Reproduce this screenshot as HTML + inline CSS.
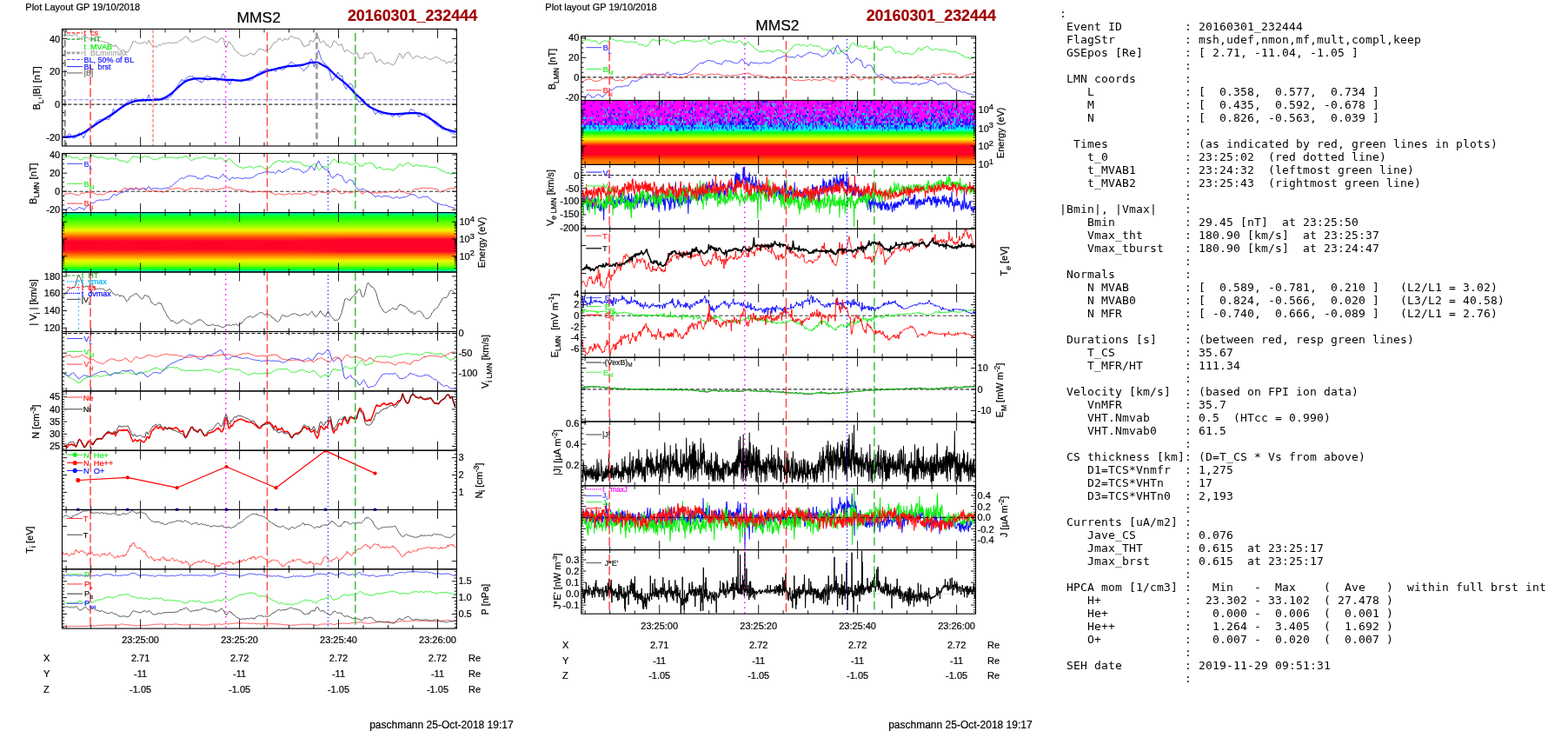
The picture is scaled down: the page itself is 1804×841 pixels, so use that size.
<!DOCTYPE html>
<html lang="en"><head><meta charset="utf-8"><title>MMS2 20160301_232444</title>
<style>
html,body{margin:0;padding:0;background:#fff;}
body{width:1804px;height:841px;position:relative;overflow:hidden;}
pre{position:absolute;left:1219.0px;top:7.6px;letter-spacing:0.174px;margin:0;font-family:"DejaVu Sans Mono","Liberation Mono",monospace;font-size:13px;line-height:15px;color:#000;white-space:pre;}
svg text{white-space:pre;stroke-width:0.2px;}
</style></head>
<body>
<svg width="1804" height="841" viewBox="0 0 1804 841" font-family='"Liberation Sans", "DejaVu Sans", sans-serif' style="position:absolute;left:0;top:0">
<defs><clipPath id="c1"><rect x="71.5" y="33.4" width="453.9" height="134.6"/></clipPath>
<clipPath id="c2"><rect x="71.5" y="176.5" width="453.9" height="68.1"/></clipPath>
<linearGradient id="sg1" x1="0" y1="0" x2="0" y2="1">
<stop offset="0" stop-color="#00f0a0"/><stop offset="0.04" stop-color="#00ff40"/><stop offset="0.10" stop-color="#20ff00"/>
<stop offset="0.22" stop-color="#90ff00"/><stop offset="0.30" stop-color="#f0f800"/><stop offset="0.36" stop-color="#ffa000"/>
<stop offset="0.42" stop-color="#ff4808"/><stop offset="0.48" stop-color="#ff0428"/><stop offset="0.62" stop-color="#ff0428"/>
<stop offset="0.68" stop-color="#ff4808"/><stop offset="0.75" stop-color="#ffa000"/><stop offset="0.81" stop-color="#f0f800"/>
<stop offset="0.89" stop-color="#90ff00"/><stop offset="0.94" stop-color="#10ff10"/><stop offset="0.97" stop-color="#00ff60"/><stop offset="1" stop-color="#00f8b0"/>
</linearGradient>
<linearGradient id="sg1b" x1="0" y1="0" x2="0" y2="1">
<stop offset="0.36" stop-color="#ffa000" stop-opacity="0"/><stop offset="0.45" stop-color="#ff0428" stop-opacity="0.9"/>
<stop offset="0.66" stop-color="#ff0428" stop-opacity="0.9"/><stop offset="0.74" stop-color="#ffa000" stop-opacity="0"/>
</linearGradient>
<linearGradient id="sg1m" x1="0" y1="0" x2="1" y2="0">
<stop offset="0" stop-color="#fff" stop-opacity="0"/><stop offset="0.6" stop-color="#fff" stop-opacity="0.1"/><stop offset="0.72" stop-color="#fff" stop-opacity="1"/><stop offset="1" stop-color="#fff" stop-opacity="1"/>
</linearGradient>
<mask id="sgm"><rect x="71.5" y="244.6" width="453.9" height="68.4" fill="url(#sg1m)"/></mask>
<clipPath id="c3"><rect x="71.5" y="313" width="453.9" height="68.5"/></clipPath>
<clipPath id="c4"><rect x="71.5" y="381.5" width="453.9" height="68.4"/></clipPath>
<clipPath id="c5"><rect x="71.5" y="449.9" width="453.9" height="68.3"/></clipPath>
<clipPath id="c6"><rect x="71.5" y="517.7" width="453.9" height="70"/></clipPath>
<clipPath id="c7"><rect x="71.5" y="586.5" width="453.9" height="68.3"/></clipPath>
<clipPath id="c8"><rect x="71.5" y="654.8" width="453.9" height="68.3"/></clipPath>
<clipPath id="c9"><rect x="668.8" y="41.6" width="453.7" height="73.9"/></clipPath>
<linearGradient id="sg2" x1="0" y1="0" x2="0" y2="1">
<stop offset="0" stop-color="#ff00ff"/><stop offset="0.38" stop-color="#ff00ff"/><stop offset="0.385" stop-color="#00d8ff"/>
<stop offset="0.445" stop-color="#00f0ff"/><stop offset="0.475" stop-color="#00ff90"/><stop offset="0.505" stop-color="#00ff10"/>
<stop offset="0.55" stop-color="#80ff00"/><stop offset="0.605" stop-color="#f8f800"/><stop offset="0.65" stop-color="#ff9000"/>
<stop offset="0.70" stop-color="#ff1018"/><stop offset="0.73" stop-color="#ff0028"/><stop offset="0.84" stop-color="#ff0028"/>
<stop offset="0.88" stop-color="#ff3000"/><stop offset="0.93" stop-color="#ff7000"/><stop offset="1" stop-color="#ff8c00"/>
</linearGradient>
<clipPath id="c10"><rect x="668.8" y="189.4" width="453.7" height="73.9"/></clipPath>
<clipPath id="c11"><rect x="668.8" y="263.3" width="453.7" height="74"/></clipPath>
<clipPath id="c12"><rect x="668.8" y="337.3" width="453.7" height="73.9"/></clipPath>
<clipPath id="c13"><rect x="668.8" y="411.2" width="453.7" height="73.8"/></clipPath>
<clipPath id="c14"><rect x="668.8" y="485" width="453.7" height="73.8"/></clipPath>
<clipPath id="c15"><rect x="668.8" y="558.8" width="453.7" height="73.8"/></clipPath>
<clipPath id="c16"><rect x="668.8" y="632.6" width="453.7" height="73.6"/></clipPath></defs>
<g clip-path="url(#c1)">
<line x1="74.6" y1="34.4" x2="74.6" y2="169" stroke="#a0a0a0" stroke-width="2.8" stroke-dasharray="7.5 4" />
<path d="M72.1 41.1l.8-.3.8-.4.8-.7.8-.1.8.6.8.1.8.5.8 0 .8-.2.8-.5.8.3.8.2.8.4.8.1.8-.6.8-.1.8-.5.8-.3.8 0 .8.3.8 1.2.8 1.5.8 1.2.8-.3.8 1 .8-.1.8-.5.8-.2.8-1.4.8-.5.8-1.2.8 1 .8.6.8.1.8 1.2.8-.2.8.7.8.7.8.7.8-.3.8-.1.8.7.8 0 .8.4.8-.2.8.3.8-.4.8.5.8.3.8-.9.8.7.8.4.8.1.8.6.8-.3.8.4.8.2.8-.1.8.3.8.2.8.3.8.2.8.2.8.9.8-.3.8.4.8-.1.8.5.8 1 .8.1.8.2.8 1.2.8.4.8.1.8-.2.8-1.5.8 1.4.8.9.8 1.3.8.6.8.5.8 1.1.8.6.8.7.8-.5.8-.5.8-.5.8-.1.8 1.2.8 1.1.8.6.8 0 .8.3.8-.6.8-1.5.8-1 .8-1.6.8-2.4.8-1.3.8-1.9.8-2.2.8-.1.8.3.8-.5.8.4.8.7.8.9.8.3.8.3.8.1.8 0 .8-.5.8-.3.8.2.8-.3.8-.3.8-.2.8-.7.8.5.8 1.4.8.7.8-1.4.8-1.1.8-1.9.8 1.2.8 2.2.8 1 .8 1 .8 1.3.8.2.8.1.8-.2.8 0 .8 1 .8.5.8-.9.8-1.3.8-.7.8 0 .8.3.8.3.8-.8.8-.9.8-.3.8-.4.8-.3.8 1 .8-.5.8-.1.8 0 .8-.5.8-.5.8.2.8.1.8.3.8-.3.8.9.8-.8.8-.6.8.5.8-.1.8-.1.8 0 .8.1.8-.2.8-.7.8-.9.8-.5.8-.6.8-.2.8-.3.8-.3.8-.7.8-.8.8-.9.8-.9.8-.4.8.6.8.9.8-.1.8 1.7.8.3.8 1.6.8.7.8.6.8-.3.8.4.8-.1.8 0 .8-.6.8-.7.8-.6.8.2.8-.1.8-.3.8 0 .8-.3.8-.9.8-.8.8-.5.8.1.8-.7.8-.3.8-.4.8.1.8.2.8 1 .8.2.8.4.8.3.8.3.8.5.8.1.8.5.8.4.8-.4.8.6.8.7.8.6.8.6.8.2.8-.2.8.1.8-.7.8-1.1.8-1.5.8-.3.8-.5.8-.9.8.6.8.1.8 2.5.8 4.3.8 2.6.8 1.5.8-.5.8-3 .8-2.8.8-.1.8-.6.8.7.8 2.4.8.6.8.5.8 1.9.8 1.2.8 1.9.8.4.8.6.8.8.8 1 .8 1.1.8-.2.8 1 .8.8.8 1.1.8 0 .8.2.8.5.8-.3.8-.1.8.4.8-.4.8-.6.8 0 .8-.5.8-.2.8-.6.8-.6.8-.6.8.6.8.7.8 0 .8.4.8.4.8-.3.8-1.3.8-.7.8-1.7.8-.8.8-.9.8-1 .8-.1.8.1.8.3.8-.2.8.5.8.5.8.3.8.7.8 0 .8-.7.8-.1.8-.1.8-.6.8.1.8-.3.8-.6.8-.7.8-1.5.8-1.1.8-1.6.8-1.2.8-1.1.8-.7.8.7.8-.2.8-.7.8-1.7.8-1.7.8-.2.8.3.8-.3.8 1.1.8.8.8.4.8-.1.8-.9.8-1.1.8 0 .8.6.8-.2.8.7.8.1.8-1.1.8-1.5.8-1.1.8-.7.8-.1.8.3.8.5.8 1 .8.3.8-.1.8-.1.8.5.8.5.8 0 .8.2.8.6.8.2.8.7.8 1.5.8 1.5.8 1.8.8 1.3.8 1.3.8.2.8 0 .8-1.3.8-.2.8.3.8-.2.8.1.8-2.7.8-3 .8-.3.8.2.8.8.8.8.8-.3.8-1.9.8-2.3.8-.8.8-1.5.8-.9.8.9.8 1.4.8 2.4.8 3.7.8-.1.8.5.8-.9.8-.7.8-.9.8 1.2.8 1 .8 1.3.8 1.9.8.4.8-1 .8 1.5.8 1.1.8.6.8-.4.8-.2.8-.8.8-2.5.8-2.3.8-1.6.8.5.8.1.8.7.8 1.4.8 1 .8.6.8 1.1.8 0 .8-.7.8 0 .8-1.3.8 2.3.8 2.2.8 2.6.8 1 .8 1.5.8-1 .8-1.3.8-.5.8 1 .8.3.8.6.8.5.8.7.8.8.8.4.8-.1.8 1.2.8-.1.8-.5.8.4.8-.9.8-.2.8-.4.8 2.3.8 2.9.8 1.6.8-.6.8.2.8-.3.8 0 .8.2.8-2.3.8-2.5.8-1.5.8.5.8.5.8.1.8-.2.8-.1.8 0 .8-.9.8-.1.8-.4.8 1 .8 1.3.8 1.2.8 1.5.8 1.8.8 2.6.8 2.2.8-.2.8-1.4.8-.7.8-.7.8.2.8-.7.8 1.2.8 1.3.8 1.2.8.8.8 0 .8 1 .8-.3.8-.9.8-.4.8.1.8.1.8-.3.8.4.8.3.8 1 .8.2.8 1 .8.2.8-1 .8-.3.8-.9.8-2.1.8-1.6.8-1.6.8-2 .8-1.8.8-2.3.8.6.8 0 .8 1.9.8 2.4.8.8.8-.9.8-1.6.8-1.6.8-1.3.8-.3.8-1 .8-.1.8-.4.8.1.8 1.2.8 2 .8.8.8 1.3.8.9.8 1.2.8-1 .8-.6.8-.9.8-.4.8-.1.8-.2.8.3.8.3.8.4.8.5.8.6.8.3.8.4.8-.7.8-.1.8-.9.8-.2.8.2.8.8.8.3.8.6.8.2.8.3.8.8.8-.2.8-.1.8-.6.8-.1.8-.8.8-.2.8-.7.8-.2.8.1.8.2.8.2.8.3.8.9.8.1.8.7.8.8.8.8.8.5.8-.2.8-.6.8.6.8.6.8 1.7.8 1 .8-.9.8-.8.8-.3.8-.6.8.6.8.1.8.5.8-.3.8-1.7.8-.4.8-1.5.8-.2.8-1.2" fill="none" stroke="#7a7a7a" stroke-width="0.8" stroke-linejoin="round" />
<line x1="71.5" y1="114.8" x2="525.4" y2="114.8" stroke="#8080ff" stroke-width="1.1" stroke-dasharray="4.2 2.4" />
<line x1="71.5" y1="120.1" x2="525.4" y2="120.1" stroke="#333" stroke-width="1.1" stroke-dasharray="4.2 2.4" />
<path d="M72 156.8l.8.6.8-.1.8.3.8.5.8.7.8-.5.8-1.5.8-1.4.8-1.5.8.1.8.4.8 1.4.8.7.8.5.8 1.9.8.1.8 0 .8-.8.8-.2.8-.5.8-1.4.8-2 .8-.5.8-1 .8.8.8.8.8 1 .8.9.8.7.8 2 .8-1.8.8-1.4.8-1.7.8-1.2.8-1.3.8-.3.8-1.3.8-2.5.8 0 .8-1.3.8-1.5.8-.4.8.7.8-.2.8-.2.8-1.8.8-.3.8-1.6.8-1 .8-.1.8-.7.8-.7.8-.7.8.4.8-.8.8.8.8-.1.8.9.8-.3.8-.9.8-.4.8.3.8-.7.8.8.8-.2.8.6.8-.6.8-2 .8-.7.8-1.2.8-3.3.8-1.3.8-3.5.8 1.2.8 1.2.8.4.8-.4.8 0 .8-1.3.8-.2.8-1.5.8 0 .8-1.2.8 0 .8-.5.8-1.6.8 0 .8-.8.8-.7.8-.4.8-.7.8-.5.8-.7.8-1.1.8 0 .8-.5.8-.8.8-.5.8.5.8.5.8 1.1.8 0 .8-.9.8-1.5.8-1.2.8.2.8 1 .8.7.8.8.8-.5.8.5.8-1.2.8.1.8-.2.8-.9.8.2.8.2.8.7.8-.1.8 2 .8-2.3.8-1.6.8-2 .8-1.8.8 2.8.8 1.7.8 2.2.8-.2.8-.5.8.2.8-1.3.8-.4.8 0 .8-.4.8-.5.8.4.8.8.8.7.8.4.8-.6.8.2.8 0 .8.9.8-1 .8-.1.8.1.8 0 .8-.6.8-.3.8.1.8-1.2.8.5.8-.5.8-.5.8-1.3.8-.2.8-.6.8-.6.8-2.3.8-1.3.8-1.1.8-1.1.8-2.2.8-.5.8-2 .8-.3.8-1.9.8-.8.8-1.9.8-.9.8.2.8-1.9.8 1.8.8-.2.8 0 .8-.5.8-1.3.8-1 .8-.7.8-.7.8-.2.8-.6.8-.1.8.3.8-.1.8.1.8-.4.8 1.9.8-.2.8.4.8.6.8.2.8 1.8.8.1.8.5.8.4.8.2.8-.5.8 2.3.8-.7.8 0 .8-.9.8-1.4.8-1.8.8-1.7.8-.9.8-.2.8-.2.8 0 .8.7.8.1.8-.3.8 1.1.8 1 .8-.3.8.7.8.2.8.5.8.2.8.2.8.2.8 1.3.8-.3.8.5.8-1.1.8-1 .8-.5.8-1.5.8-1.5.8-2.5.8-.8.8 1.6.8 3.1.8 1.7.8.7.8.7.8.4.8 1.9.8 1.2.8 1.6.8-.4.8-2.1.8-2.2.8-1.7.8.8.8.1.8 1.1.8-.2.8-.2.8 0 .8-.4.8 0 .8.2.8.2.8.5.8.7.8.2.8-.2.8-.3.8-1.1.8-.1.8.3.8-.8.8.5.8.1.8.2.8 0 .8.9.8-1.6.8.7.8-.4.8.2.8-1 .8-.6.8-1.1.8-.7.8-.7.8-1.4.8-1.1.8-1 .8-.3.8-.8.8-1 .8.5.8-.8.8.1.8-.5.8 0 .8-.5.8-.2.8-.8.8-.5.8-1.2.8-.3.8 1.2.8.3.8.1.8.9.8.4.8-.3.8.8.8-1.2.8 0 .8-.2.8 1.5.8.6.8-.4.8-1.3.8-2 .8-1.5.8.3.8.6.8 1.4.8.1.8.5.8.8.8-1.4.8-.8.8.6.8-.7.8-1.1.8-1 .8-1.3.8-.7.8-.4.8-.5.8-.7.8-1.4.8-.7.8 1 .8.5.8 1 .8.5.8.2.8.3.8.2.8.4.8-.4.8 0 .8.3.8.9.8 1.4.8 1.2.8.6.8.8.8 1.5.8.2.8-.6.8-1.5.8-1 .8 0 .8-1.3.8-.5.8-2.6.8-2.1.8-2.2.8-1.3.8-.5.8 1.9.8 2.3.8 2.6.8 2.2.8-3.9.8-3.9.8-3.2.8-2.8.8-2.8.8-2.4.8 1.8.8 3.2.8 2.3.8 3.2.8.7.8 1.4.8.7.8 1.9.8-.3.8 1.8.8.2.8.6.8 1.6.8-.3.8 3.1.8 3.6.8 2.9.8 2.4.8 2.3.8 1.9.8-1 .8-2 .8-.2.8-1.3.8-.8.8-1.2.8-2.3.8-1 .8 1.8.8 1.1.8 1.5.8.3.8-.3.8-.8.8 4.2.8 5.3.8 2.4.8 1.2.8 2.1.8.8.8-2.1.8-1.3.8-1.5.8-1.3.8-.6.8.3.8.5.8.8.8 1.1.8 2.2.8 3 .8 2.8.8 2.4.8 2.1.8 1.3.8 2.5.8.8.8 1.2.8.2.8.6.8-1.9.8-.8.8-.3.8.1.8-.9.8 2.7.8 1.1.8 1.5.8.7.8 0 .8 1.2.8.8.8.6.8.1.8-.1.8 1.8.8.2.8 1.8.8.8.8 1.5.8 2.3.8.8.8-1.6.8-.1.8-.8.8.1.8.9.8.5.8.2.8.5.8-.1.8-.1.8-.2.8-.4.8-.1.8-.3.8.1.8-.5.8.5.8-.2.8.8.8.1.8.2.8.9.8.9.8 1.3.8-.6.8-.1.8-.9.8-.9.8.2.8-1.2.8 0 .8 1.6.8 1.7.8.1.8-.2.8-.7.8-.4.8-.2.8-.4.8-.3.8-.1.8-.4.8-.1.8-.5.8-.7.8-.2.8-.7.8-.4.8-1 .8-1.3.8-1.2.8 1.3.8-.2.8.2.8-.2.8 1.4.8.2.8 1.7.8 0 .8 1.6.8.6.8 2.7.8-1.1.8.2.8-.7.8-.7.8-.3.8-.7.8.4.8-1.5.8 0 .8.6.8-.3.8.3.8.8.8 1.1.8.5.8 1.2.8 1.1.8 1.3.8 1.1.8 1.8.8 0 .8 1 .8 1.4.8.7.8.8.8.5.8.6.8.6.8.5.8-.2.8.8.8 0 .8 1.7.8.8.8-.6.8.7.8-.1.8-.1.8 0 .8-.8.8 1.1.8.9.8.6.8.5.8.6.8.8.8.4.8.2.8-.1.8.8.8.2.8.6.8 0 .8-.5" fill="none" stroke="#2828ff" stroke-width="0.75" stroke-linejoin="round" />
<path d="M72 158l.7-.1.7 0 .7 0 .7-.1.7 0 .7-.1.7 0 .7-.1.7 0 .7-.1.7 0 .7-.1.7-.1.7 0 .7-.1.7 0 .7-.1.7-.1.7-.1.7-.2.7-.2.7-.2.7-.3.7-.2.7-.2.7-.3.7-.2.7-.3.7-.3.7-.3.7-.4.7-.3.7-.4.7-.3.7-.4.7-.4.7-.4.7-.4.7-.5.7-.4.7-.5.7-.5.7-.5.7-.5.7-.5.7-.5.7-.5.7-.5.7-.4.7-.5.7-.5.7-.5.7-.5.7-.5.7-.5.7-.4.7-.5.7-.4.7-.5.7-.4.7-.5.7-.4.7-.4.7-.5.7-.4.7-.5.7-.4.7-.4.7-.4.7-.4.7-.4.7-.4.7-.4.7-.5.7-.4.7-.4.7-.4.7-.5.7-.4.7-.5.7-.4.7-.5.7-.5.7-.5.7-.5.7-.5.7-.5.7-.5.7-.5.7-.5.7-.6.7-.5.7-.5.7-.5.7-.5.7-.5.7-.5.7-.5.7-.5.7-.4.7-.5.7-.5.7-.4.7-.4.7-.3.7-.3.7-.4.7-.3.7-.3.7-.3.7-.3.7-.3.7-.3.7-.2.7-.2.7-.2.7-.2.7-.2.7-.2.7-.2.7-.2.7-.1.7 0 .7-.1.7-.1.7 0 .7-.1.7 0 .7-.1.7 0 .7-.1.7 0 .7 0 .7-.1.7 0 .7 0 .7-.1.7 0 .7 0 .7 0 .7 0 .7 0 .7-.1.7 0 .7 0 .7 0 .7 0 .7-.1.7 0 .7 0 .7-.1.7 0 .7-.1.7 0 .7-.1.7 0 .7-.1.7 0 .7-.1.7-.1.7-.1.7-.2.7-.3.7-.3.7-.2.7-.3.7-.3.7-.3.7-.4.7-.3.7-.4.7-.5.7-.4.7-.5.7-.5.7-.4.7-.5.7-.5.7-.6.7-.5.7-.7.7-.6.7-.6.7-.7.7-.7.7-.6.7-.7.7-.6.7-.7.7-.6.7-.6.7-.7.7-.6.7-.6.7-.6.7-.7.7-.5.7-.6.7-.5.7-.4.7-.5.7-.4.7-.4.7-.4.7-.3.7-.3.7-.2.7-.2.7-.2.7-.1.7-.2.7-.2.7-.2.7-.1.7-.2.7-.1.7 0 .7-.1.7 0 .7-.1.7 0 .7-.1.7 0 .7 0 .7 0 .7 0 .7 0 .7 0 .7.1.7.1.7 0 .7.1.7.1.7.1.7 0 .7.1.7.1.7.1.7 0 .7 0 .7-.1.7 0 .7-.1.7-.1.7-.1.7 0 .7-.1.7-.1.7 0 .7-.1.7.1.7 0 .7.1.7.1.7.1.7.1.7.1.7.1.7.1.7.1.7.1.7.1.7.1.7 0 .7.1.7.1.7.1.7 0 .7.1.7 0 .7 0 .7 0 .7 0 .7 0 .7 0 .7-.1.7 0 .7 0 .7 0 .7 0 .7.1.7.1.7.1.7.1.7.1.7 0 .7.1.7.1.7.1.7 0 .7 0 .7 0 .7-.1.7 0 .7-.1.7-.1.7-.1.7-.1.7-.1.7-.2.7-.1.7-.2.7-.2.7-.2.7-.2.7-.2.7-.2.7-.2.7-.2.7-.3.7-.2.7-.3.7-.4.7-.3.7-.4.7-.3.7-.4.7-.3.7-.4.7-.3.7-.3.7-.3.7-.3.7-.4.7-.3.7-.3.7-.3.7-.4.7-.3.7-.3.7-.3.7-.3.7-.3.7-.3.7-.2.7-.2.7-.3.7-.1.7-.2.7-.2.7-.1.7-.2.7-.2.7-.1.7-.2.7-.1.7-.2.7-.2.7-.1.7-.2.7-.2.7-.1.7-.2.7-.2.7-.2.7-.1.7-.2.7-.2.7-.1.7-.2.7-.1.7-.2.7-.1.7-.2.7-.2.7-.1.7-.2.7-.1.7-.1.7-.1.7-.1.7-.1.7 0 .7 0 .7-.1.7 0 .7 0 .7 0 .7-.1.7 0 .7 0 .7-.1.7-.1.7-.1.7 0 .7-.1.7-.1.7-.1.7-.1.7-.1.7-.1.7-.1.7 0 .7-.2.7-.1.7-.1.7-.3.7-.2.7-.2.7-.3.7-.2.7-.3.7-.2.7-.2.7-.1.7-.2.7-.1.7-.1.7-.1.7-.1.7 0 .7-.1.7 0 .7 0 .7 0 .7 0 .7 0 .7.1.7.1.7.2.7.3.7.3.7.4.7.4.7.4.7.3.7.4.7.4.7.3.7.4.7.3.7.4.7.4.7.3.7.5.7.5.7.5.7.7.7.7.7.7.7.7.7.7.7.7.7.7.7.7.7.7.7.7.7.6.7.7.7.7.7.6.7.5.7.6.7.5.7.5.7.6.7.5.7.5.7.6.7.5.7.6.7.6.7.6.7.6.7.6.7.7.7.6.7.7.7.6.7.7.7.6.7.7.7.7.7.8.7.8.7.8.7.8.7.8.7.8.7.7.7.8.7.7.7.6.7.6.7.6.7.6.7.7.7.6.7.6.7.6.7.7.7.8.7.7.7.8.7.8.7.8.7.7.7.7.7.6.7.5.7.6.7.5.7.5.7.5.7.5.7.4.7.4.7.3.7.4.7.3.7.4.7.3.7.4.7.3.7.3.7.3.7.3.7.3.7.2.7.3.7.3.7.2.7.3.7.2.7.2.7.2.7.2.7.2.7.2.7.1.7.2.7.2.7.1.7.1.7.1.7.1.7.1.7 0 .7.1.7.1.7.1.7 0 .7.1.7 0 .7 0 .7 0 .7-.1.7 0 .7 0 .7-.1.7 0 .7 0 .7-.1.7 0 .7-.1.7 0 .7-.1.7 0 .7-.1.7-.1.7 0 .7-.1.7 0 .7-.1.7 0 .7-.1.7 0 .7 0 .7 0 .7-.1.7 0 .7 0 .7 0 .7 0 .7-.1.7 0 .7 0 .7 0 .7 0 .7.1.7 0 .7 0 .7 0 .7.1.7 0 .7.1.7.1.7.2.7.2.7.3.7.3.7.3.7.2.7.3.7.3.7.4.7.4.7.4.7.4.7.5.7.4.7.5.7.4.7.5.7.4.7.5.7.5.7.5.7.4.7.5.7.5.7.5.7.5.7.5.7.5.7.5.7.5.7.6.7.5.7.5.7.5.7.5.7.5.7.5.7.4.7.4.7.4.7.4.7.3.7.3.7.3.7.2.7.2.7.2.7.2.7.2.7.2.7.2.7.2.7.2.7.1.7.2.7.1.7.2.7.1.7.1.7.1" fill="none" stroke="#0000ff" stroke-width="2.3" stroke-linejoin="round" />
<line x1="104" y1="74.4" x2="104" y2="168" stroke="#ff4848" stroke-width="1.5" stroke-dasharray="10 3.5" />
<line x1="176.1" y1="34.4" x2="176.1" y2="168" stroke="#ff8080" stroke-width="1.4" stroke-dasharray="3.8 1.9" />
<line x1="259.7" y1="35.4" x2="259.7" y2="168" stroke="#ff00ff" stroke-width="1.45" stroke-dasharray="1.5 4.3" />
<line x1="307.3" y1="36.9" x2="307.3" y2="168" stroke="#ff1010" stroke-width="1.0" stroke-dasharray="10 4" />
<line x1="364.4" y1="37.4" x2="364.4" y2="170" stroke="#a0a0a0" stroke-width="2.8" stroke-dasharray="7.5 4" />
<line x1="408.8" y1="37.9" x2="408.8" y2="168" stroke="#30b830" stroke-width="1.4" stroke-dasharray="9.5 4" />
</g>
<line x1="77" y1="37.9" x2="94.9" y2="37.9" stroke="#ff2020" stroke-width="1.2" stroke-dasharray="3.8 1.7" />
<text x="96.6" y="41.1" font-size="9.0" fill="#ff2020" stroke="#ff2020" stroke-width="0.15" >t&#160;&#160;cs</text>
<line x1="77" y1="45.2" x2="94.9" y2="45.2" stroke="#20a020" stroke-width="1.2" stroke-dasharray="3.8 1.7" />
<text x="96.6" y="48.4" font-size="9.0" fill="#20a020" stroke="#20a020" stroke-width="0.15" >t&#160;&#160;HT</text>
<text x="96.6" y="57.2" font-size="9.0" fill="#00ee00" stroke="#00ee00" stroke-width="0.15" >t&#160;&#160;MVAB</text>
<line x1="77" y1="60.9" x2="94.9" y2="60.9" stroke="#a8a8a8" stroke-width="2.6" stroke-dasharray="3.8 1.7" />
<text x="96.6" y="64.1" font-size="9.0" fill="#a8a8a8" stroke="#a8a8a8" stroke-width="0.15" >t&#160;&#160;BLminmax</text>
<line x1="77" y1="68.5" x2="94.9" y2="68.5" stroke="#4040ff" stroke-width="1.0" stroke-dasharray="3.8 1.7" />
<text x="96.6" y="71.7" font-size="9.0" fill="#1010ff" stroke="#1010ff" stroke-width="0.15" >BL, 50% of BL</text>
<line x1="77" y1="76.6" x2="94.9" y2="76.6" stroke="#2020ff" stroke-width="1.0" />
<text x="96.6" y="79.8" font-size="9.0" fill="#1010ff" stroke="#1010ff" stroke-width="0.15" >BL&#160;&#160;brst</text>
<line x1="77" y1="83.9" x2="94.9" y2="83.9" stroke="#9a9a9a" stroke-width="1.6" />
<text x="96.6" y="87.1" font-size="9.0" fill="#666" stroke="#666" stroke-width="0.15" >|B|</text>
<path d="M161.6 33.4v10.5M161.6 168v-10.5M275.6 33.4v10.5M275.6 168v-10.5M389.5 33.4v10.5M389.5 168v-10.5M503.5 33.4v10.5M503.5 168v-10.5M76.1 33.4v4M76.1 168v-4M104.6 33.4v4M104.6 168v-4M133.1 33.4v4M133.1 168v-4M190.1 33.4v4M190.1 168v-4M218.6 33.4v4M218.6 168v-4M247.1 33.4v4M247.1 168v-4M304 33.4v4M304 168v-4M332.5 33.4v4M332.5 168v-4M361 33.4v4M361 168v-4M418 33.4v4M418 168v-4M446.5 33.4v4M446.5 168v-4M475 33.4v4M475 168v-4" stroke="#000" stroke-width="0.9" fill="none"/>
<path d="M71.5 35h2.6M525.4 35h-2.6M71.5 44.5h5.5M525.4 44.5h-5.5M71.5 54h2.6M525.4 54h-2.6M71.5 63.4h2.6M525.4 63.4h-2.6M71.5 72.8h2.6M525.4 72.8h-2.6M71.5 82.3h5.5M525.4 82.3h-5.5M71.5 91.8h2.6M525.4 91.8h-2.6M71.5 101.2h2.6M525.4 101.2h-2.6M71.5 110.6h2.6M525.4 110.6h-2.6M71.5 120.1h5.5M525.4 120.1h-5.5M71.5 129.5h2.6M525.4 129.5h-2.6M71.5 139h2.6M525.4 139h-2.6M71.5 148.4h2.6M525.4 148.4h-2.6M71.5 157.9h5.5M525.4 157.9h-5.5" stroke="#000" stroke-width="0.9" fill="none"/>
<rect x="71.5" y="33.4" width="453.9" height="134.6" fill="none" stroke="#000" stroke-width="1.1"/>
<text x="69.2" y="48.5" font-size="11" text-anchor="end" stroke="#000" >40</text>
<text x="69.2" y="86" font-size="11" text-anchor="end" stroke="#000" >20</text>
<text x="69.2" y="123.8" font-size="11" text-anchor="end" stroke="#000" >0</text>
<text x="69.2" y="161.7" font-size="11" text-anchor="end" stroke="#000" >-20</text>
<text x="46" y="101.4" font-size="11" text-anchor="middle" transform="rotate(-90 46 101.4)" stroke="#000" >B<tspan font-size="8.6" dy="3.6">L</tspan><tspan dy="-3.6">,|B| [nT]</tspan></text>
<g clip-path="url(#c2)">
<line x1="71.5" y1="220.2" x2="525.4" y2="220.2" stroke="#333" stroke-width="1.1" stroke-dasharray="4.2 2.4" />
<path d="M72.1 181.3l.8.1.8.3.8-.5.8-.9.8.4.8-.1.8-.8.8 0 .8.2.8-.5.8.4.8 1.3.8.8.8-.4.8.1.8 0 .8-.3.8.1.8-.5.8-.2.8.3.8 1.1.8.2.8 1.1.8.2.8.4.8-.2.8-1 .8 0 .8-.9.8-.2.8-.4.8-.6.8.6.8-.1.8.6.8.3.8-.9.8-.4.8-.1.8-1.2.8-.7.8-.1.8-.6.8 1.2.8.8.8.2.8.3.8 0 .8-.1.8.4.8.4.8.5.8-1.5.8.4.8.2.8-.4.8.9.8 0 .8.2.8.7.8.2.8.3.8-.6.8 1 .8-.2.8-.2.8-.4.8-.3.8-.7.8.3.8.3.8.6.8.1.8-.4.8.5.8-.3.8.1.8-.2.8 1.5.8.4.8.1.8.4.8.1.8.3.8-.2.8.1.8-.5.8.9.8 1 .8.1.8.1.8.3.8-.3.8-.8.8-1.2.8-1.1.8-.6.8-1 .8-.9.8-1.3.8.1.8-.3.8.9.8-.2.8.4.8-.3.8.7.8 0 .8.1.8-.5.8 1.1.8-1 .8 0 .8-.3.8.2.8-.6.8-.3.8-.2.8.8.8.4.8-.2.8 0 .8-.7.8.5.8.8.8.3.8.3.8.5.8 1.2.8.2.8-.2.8-.2.8.4.8-.4.8-.1.8-1.1.8 0 .8-.7.8.1.8.3.8-.7.8-.1.8.3.8-.8.8.1.8.3.8.5.8-.2.8 0 .8.1.8-.3.8.1.8-.1.8-.2.8.4.8.3.8-.7.8.4.8.9.8-.5.8.3.8 0 .8 0 .8-.3.8.7.8-1.8.8.5.8-.3.8.3.8.2.8.3.8-.2.8-1.1.8 0 .8-1.1.8.5.8-.3.8 1.5.8.4.8.8.8.6.8.9.8.7.8.2.8-.1.8-.2.8-.6.8.3.8-1.4.8 0 .8-.9.8.3.8.3.8-.8.8.1.8-.1.8.5.8 0 .8-.6.8-.3.8-.6.8-.4.8-.2.8.5.8.3.8.6.8-.1.8.9.8-.3.8.6.8.2.8-.1.8-.2.8 0 .8-.6.8.5.8 0 .8.8.8.2.8.4.8-.9.8.1.8-.1.8-1 .8.1.8 0 .8.1.8.1.8.6.8 1.4.8.5.8.7.8 1.5.8.6.8-1.8.8-1.3.8-1 .8-.5.8-.2.8 1.3.8.5.8.6.8 1.4.8.4.8.8.8.5.8 1.1.8.4.8.7.8.7.8.4.8.5.8.2.8.6.8.1.8.1.8.3.8.5.8-.1.8-.2.8-.3.8-.2.8-.1.8-.7.8.4.8-.3.8 0 .8-.4.8 0 .8.5.8.2.8.4.8 1 .8-.2.8-.8.8-.4.8-.1.8-.3.8-.2.8-.3.8-.8.8.7.8-.3.8.3.8 0 .8.9.8.7.8 0 .8.8.8-.1.8 1.2.8.4.8-.7.8-.6.8-.5.8-.6.8-.3.8-.4.8-1.6.8-.7.8-1.3.8-1 .8-.2.8-.4.8-.9.8.4.8-.8.8.1.8-.8.8-.5.8.2.8 0 .8 1.2.8.1.8 1.2.8-1.1.8-.4.8-.1.8-.3.8.8.8.4.8-.4.8 1.3.8-.7.8-.1.8-1 .8-.2.8-.3.8.2.8 1.1.8 0 .8 0 .8 0 .8 0 .8.4.8-.2.8-.1.8.2.8 0 .8.4.8-.2.8.5.8 1.4.8.3.8.4.8 1.3.8.4.8-.9.8.7.8-.1.8.4.8-.2.8-.1.8.4.8.6.8-.3.8-.1.8-1.4.8-.5.8-.4.8-.6.8-.3.8.1.8 1.6.8 1.7.8 2.2.8.9.8.9.8-.2.8-1.2.8-.8.8-1.3.8-.6.8-.3.8.1.8 0 .8 1.1.8-.4.8-.2.8-.3.8-.5.8-.7.8-.8.8-1.1.8-1.6.8-1.3.8-.6.8-1.2.8-1 .8.8.8.3.8.6.8 1 .8 1.3.8.4.8 0 .8.6.8-.9.8-.3.8-.2.8.4.8.5.8.8.8-.2.8-.2.8-.3.8-.8.8.3.8-.2.8 1.9.8.6.8.1.8-.3.8.3.8.3.8-.4.8-.8.8.1.8-.5.8.1.8-.5.8-.2.8.3.8.6.8 1.6.8 1.5.8-.7.8-.2.8.5.8-.2.8.3.8-1.2.8-1.8.8-.3.8.4.8-.2.8 0 .8.2.8-.8.8-.2.8.4.8.1.8-.5.8.8.8.5.8.3.8 2.1.8 0 .8 1.8.8 1.2.8-.6.8.2.8-.7.8 0 .8-.7.8 0 .8 1.5.8.3.8.5.8.3.8.5.8-.6.8.8.8-.4.8-.4.8-.3.8.3.8.2.8-.5.8.4.8.9.8 0 .8.5.8-.1.8-.3.8 0 .8-.7.8-1.1.8-1.1.8 0 .8-1.7.8-1 .8-1.2.8.3.8-.4.8.6.8 1.7.8.8.8-1.3.8-.5.8-1 .8-.9.8-.1.8-.3.8-.7.8-.1.8.2.8.8.8.3.8 1.5.8.3.8.8.8.9.8-1 .8-.2.8-.1.8-.6.8 0 .8-.1.8.1.8 1.1.8-.3.8.2.8.1.8 0 .8-.2.8.5.8-.5.8.1.8.1.8-.5.8.6.8-.5.8 1.2.8-.1.8.6.8.2.8.3.8-.6.8.2.8.1.8.3.8 0 .8-.8.8.4.8.2.8.5.8.7.8 0 .8.8.8.4.8-.5.8 1.6.8.6.8.2.8-.1.8 0 .8 1 .8.2.8.3.8.7.8.4.8-.2.8-.8.8 1.4.8-.3.8.6.8-.1.8 0 .8-.1.8-.4.8-.2.8-1.1.8.2" fill="none" stroke="#22ee22" stroke-width="0.95" stroke-linejoin="round" />
<path d="M72.1 241l.8-.1.8.2.8.5.8.1.8.1.8-.7.8-.6.8-1 .8-1 .8.1.8.7.8.5.8.5.8.9.8.4.8.7.8-.4.8-.6.8-.6.8.3.8-.5.8-.9.8-.5.8-.9.8.9.8 0 .8.7.8-.5.8 1.2.8 1 .8-.3.8-1.4.8-1 .8-.5.8-.8.8-1.2.8-.2.8-.3.8-.7.8-.5.8-.4.8-.8.8.1.8 0 .8.1.8-1.1.8-.5.8-.6.8-.7.8 0 .8-.3.8-.2.8-.2.8.2.8-.4.8.6.8-.3.8.6.8-.8.8.3.8-.3.8 0 .8-.4.8.3.8-.4.8.7.8-1 .8-.4.8-1.1.8-.5.8-1.2.8-1.2.8-1.4.8.2.8.7.8.4.8-.4.8 0 .8 0 .8-.3.8-1 .8-.7.8-.3.8.2.8-1.3.8.5.8-.2.8-.3.8-.6.8-.8.8-.6.8-.1.8-.1.8-.2.8 0 .8-.6.8-.1.8-.4.8 0 .8.7.8-.3.8.7.8-.4.8-1.2.8-1 .8.4.8.3.8.9.8.1.8.3.8-.2.8.3.8-.7.8 0 .8-.5.8-.5.8 1.2.8-.7.8 1.7.8-.1.8-.6.8-2 .8-.3.8-1 .8 1.3.8 1.6.8.5.8.2.8-.9.8-.2.8-.5.8.1.8.5.8-.4.8.2.8-.2.8.4.8.2.8-.2.8.2.8.1.8-.3.8.5.8-.5.8 0 .8-.4.8 0 .8 0 .8-.3.8-.1.8-.3.8.2.8-.3.8-.2.8-1.2.8.2.8-.5.8-.8.8-.7.8-.7.8-.7.8-1.1.8-.2.8-.8.8-.7.8-.9.8-.6.8-.6.8-.6.8-.4.8-.3.8-.4.8.4.8.7.8-.7.8-.6.8-.7.8-.3.8-.8.8-.2.8.2.8-.4.8.2.8-.5.8.7.8.3.8-.3.8.4.8-.3.8.7.8-.2.8.2.8.8.8 1.4.8-.7.8.7.8-.4.8.6.8-.2.8-.1.8.7.8-.6.8-1.1.8-.5.8-1.6.8.5.8-.7.8 0 .8-.3.8.5.8-.2.8.7.8.5.8.3.8-.4.8.2.8.4.8.4.8.1.8-.4.8 1.2.8-.5.8.7.8 0 .8-.7.8-.6.8-.6.8-.3.8-1.3.8-1.1.8-.6.8 1.6.8 1.1.8.9.8.5.8.2.8.8.8.4.8.9.8.6.8-.6.8-1.2.8-.6.8-.7.8-.1.8 1.2.8 0 .8 0 .8-.2.8-.3.8 0 .8-.1.8-.1.8.3.8.3.8.1.8 0 .8.5.8-.1.8 0 .8-.7.8-.3.8.1.8.3.8-.4.8.6.8-.1.8-.1.8 0 .8-.1.8-.2.8-.4.8-.2.8-.4.8-.5.8-.6.8-.5.8-.7.8-.2.8-.7.8-.5.8-.1.8.2.8-.8.8-.1.8.1.8-.2.8-.6.8.2.8-.2.8-1 .8.4.8-.3.8-.4.8.3.8.3.8.2.8 0 .8.6.8-.4.8-.1.8.3.8-.5.8.4.8.9.8.4.8-1 .8-.6.8-.8.8-1.4.8.4.8.7.8-.1.8.9.8.3.8 1 .8-1.2.8-.6.8-.1.8-.4.8-.8.8-.6.8-.2.8-.7.8.3.8-.4.8-.8.8-.9.8.7.8.3.8.2.8.6.8-.2.8.2.8.9.8-.4.8 0 .8-.6.8.5.8.3.8.2.8 1.1.8.3.8.1.8 1.4.8.8.8-.4.8-.7.8 0 .8-.6.8-.4.8-.4.8-1.2.8-.6.8-1.8.8-1.1.8-.1.8-.3.8 1 .8 1.2.8 1.2.8 1.3.8-2.1.8-2.6.8-1.6.8-1.9.8-.9.8-2 .8 1.9.8 1.4.8 1.4.8 1.1.8 1 .8 1 .8-.2.8 1 .8 1.3.8 0 .8.2.8.5.8-.2.8.3.8 2.5.8 1.9.8 1.5.8 1.5.8 1.1.8.7.8-.1.8-1.5.8.1.8-1.1.8-.7.8-.3.8-1.3.8.3.8.8.8.5.8.2.8.1.8.2.8.4.8 2.8.8 1.1.8 1.8.8.7.8.9.8.8.8-1.5.8-.4.8-1.1.8-.8.8-.1.8.1.8 1 .8 0 .8.1.8 1.9.8 2.1.8.6.8 2 .8 1 .8 1 .8.4.8.7.8.4.8.7.8-.1.8-.6.8-.5.8-.3.8.5.8-.4.8.5.8 1.2.8.4.8 1 .8-.3.8.3.8.8.8.3.8 0 .8.6.8.1.8 1.5.8 0 .8.8.8.6.8 1 .8.6.8-.4.8-1 .8.4.8-.8.8.6.8.2.8.5.8.6.8-.5.8-.1.8-.3.8-.3.8-.2.8.6.8-.3.8-.3.8.6.8 0 .8-.3.8.2.8.8.8.6.8 0 .8.9.8.1.8-.4.8-.6.8-.1.8-.3.8-.7.8.2.8.5.8.4.8 1 .8-.4.8-.5.8.2.8-.2.8-.2.8-.5.8-.3.8.5.8-.7.8.4.8-.8.8 0 .8-.5.8-.5.8-.3.8-.7.8-.8.8 1 .8 0 .8 0 .8-.2.8.5.8.3.8.4.8 1 .8.6.8.7.8.8.8-.3.8-.6.8.2.8-.4.8-.4.8-.1.8-.7.8.7.8-.3.8.1.8-.3.8.4.8.4.8 0 .8.9.8 1.1.8.1.8.8.8.8.8.9.8.2.8 0 .8 1.1.8.4.8.3.8-.3.8.8.8 0 .8.5.8.1.8.7.8.1.8 0 .8.2.8.5.8.4.8-.5.8 0 .8.2.8-.2.8.1.8 1.2.8.9.8-.5.8.1.8.4.8.6.8-.5.8.8.8-.1.8.7.8-.3.8-.1" fill="none" stroke="#3030ff" stroke-width="0.9" stroke-linejoin="round" />
<path d="M72.1 225.4l.8 0 .8-.8.8-.9.8-1 .8.3.8-.4.8.6.8-.8.8.5.8-.6.8.3.8-.3.8.1.8.4.8 0 .8.5.8.8.8-.4.8.3.8.4.8.1.8.1.8-.2.8-.1.8-.8.8-.5.8-.8.8-.1.8.1.8.3.8-.6.8.5.8-1 .8.1.8.2.8-.6.8-.1.8.3.8.1.8.1.8.5.8-.4.8.6.8-.5.8.3.8.6.8.2.8.5.8.1.8.6.8-.1.8.2.8-.9.8-.1.8 0 .8.6.8.5.8-.2.8-.4.8-.2.8-.4.8-.7.8-.3.8-.9.8.1.8.1.8-.6.8 0 .8-.4.8-.2.8-.3.8.8.8.1.8-1.4.8.3.8.3.8.1.8.5.8.7.8-.2.8.1.8-.9.8.2.8.1.8-1.5.8-1.1.8-.5.8-.3.8-1 .8.5.8.2.8.1.8.6.8.3.8-.4.8-.7.8-.2.8.1.8.2.8.2.8-.2.8.6.8-.1.8 0 .8-.4.8-.1.8.4.8.7.8.6.8-.7.8.1.8 0 .8-.1.8-1 .8-.1.8-.2.8.8.8-.1.8.4.8 1.5.8.5.8.2.8.1.8.1.8.5.8-.4.8.2.8-.8.8.1.8-.4.8.3.8.4.8 0 .8-.1.8.1.8.1.8.1.8.6.8-.3.8-.4.8.6.8-.5.8.8.8-.1.8.4.8-.2.8-.8.8-.2.8-.4.8-.6.8 0 .8-.9.8-.3.8-.2.8-.3.8.3.8 0 .8-.3.8-.2.8.1.8-.3.8.1.8-.8.8.3.8-.1.8 0 .8.1.8.3.8-.1.8.1.8 1 .8-.3.8.3.8.4.8.4.8.2.8-.2.8.1.8 0 .8-.7.8.1.8-.3.8-1 .8.2.8-.4.8-.1.8.2.8.2.8.3.8-.3.8.3.8-.2.8-.2.8.2.8-.6.8.5.8.1.8.6.8-.4.8 0 .8.7.8-.2.8.6.8 1.1.8-.2.8-.4.8 0 .8-.8.8.5.8-.5.8.4.8-.1.8.2.8-.1.8-.5.8-.3.8.1.8.5.8-.3.8-.3.8.9.8-.3.8-.3.8-.2.8.3.8-.5.8-.6.8 0 .8-.6.8.8.8-.6.8 0 .8-.4.8-.2.8.2.8-.3.8-.4.8.6.8-.4.8-.4.8.8.8.3.8.5.8 0 .8.8.8-.4.8.6.8.9.8-.1.8-.6.8.2.8.3.8.2.8-.4.8 0 .8.1.8.1.8-.6.8.6.8.7.8.1.8-.3.8 0 .8 1.3.8-.2.8.4.8 0 .8.5.8.1.8.2.8-.7.8.3.8.2.8-.3.8-.1.8.5.8-.6.8-.5.8.8.8-.4.8-.3.8.2.8 0 .8-.1.8.3.8-.3.8.3.8.5.8-.7.8-.5.8 1.2.8-.3.8-.3.8.3.8-.6.8.7.8-.8.8 1.1.8.5.8-.3.8.6.8.3.8-.2.8.8.8 1 .8-.3.8.6.8-.8.8-.2.8 0 .8-.1.8-.4.8.8.8.5.8-.6.8.1.8.2.8.6.8-.1.8-.6.8.2.8 0 .8-.5.8-.4.8.1.8-.7.8.1.8.6.8.7.8.1.8-.2.8-.6.8.2.8-.4.8.6.8-.5.8 0 .8-.1.8.3.8.3.8-.3.8.4.8-.4.8-.3.8.4.8-.7.8-.1.8.1.8-.6.8 0 .8-.1.8-.4.8-.2.8.9.8.3.8.5.8-.1.8.5.8.7.8.3.8-.4.8.6.8.3.8-1 .8-1.1.8-.9.8-1.4.8-.6.8-.1.8.5.8.5.8.7.8.3.8-.5.8.5.8-.1.8-.1.8-.2.8.5.8.4.8-.2.8.2.8.1.8-1.1.8.1.8-1.1.8-1.3.8-.5.8-.5.8-.3.8-.1.8 0 .8.4.8.3.8 1.1.8.2.8 1.4.8.9.8.4.8.9.8-.3.8-.1.8.1.8-.8.8.6.8-1.5.8-.1.8-.9.8.6.8-.5.8 1 .8.3.8.9.8-.8.8 0 .8-.4.8 0 .8-.5.8 0 .8.2.8-.2.8-.8.8.3.8-.2.8-.6.8 1 .8-.1.8.8.8.8.8.2.8 1.1.8-.2.8-1.2.8-.5.8-.2.8-.3.8-.7.8-.6.8 1 .8.1.8 1 .8-.3.8.8.8-.8.8.3.8.3.8-.3.8.7.8-.8.8.3.8-.2.8.4.8.2.8-.6.8.2.8.1.8-.3.8.2.8-.9.8.1.8-.4.8.5.8.4.8-.3.8-.2.8 0 .8.4.8-.6.8-.2.8.2.8-.7.8.4.8 0 .8-.1.8-.2.8 1 .8-.2.8.1.8.2.8-.5.8-.7.8-1 .8-.9.8-.7.8 1.4.8 2 .8 0 .8-.2.8-.1.8-.1.8 0 .8 1 .8.1.8.9.8.4.8-.6.8.8.8-.3.8-.3.8.9.8-1.2.8-1 .8-1.8.8-1 .8 0 .8-.9.8-.1.8.3.8-.2.8.6.8-.4.8-.6.8.4.8-.9.8.1.8.2.8-.6.8.3.8-.8.8.3.8.3.8-.2.8.2.8.3.8-.2.8.1.8-.1.8-.3.8.4.8 0 .8-.1.8.3.8.4.8-.5.8 1 .8-.7.8.4.8.5.8-.3.8 1.1.8.7.8 1 .8 1.2.8-1 .8-.2.8-.1.8-.4.8-.4.8-.5.8.2.8-.7.8-.1.8-.3.8-.9.8.3.8 0 .8-.5.8 0 .8-.1.8-.5.8.1.8.3.8-.3.8.1.8-.6" fill="none" stroke="#ff3030" stroke-width="0.9" stroke-linejoin="round" />
<line x1="104" y1="177.5" x2="104" y2="244.6" stroke="#ff4848" stroke-width="1.5" stroke-dasharray="10 3.5" />
<line x1="259.7" y1="178.5" x2="259.7" y2="244.6" stroke="#ff00ff" stroke-width="1.45" stroke-dasharray="1.5 4.3" />
<line x1="307.3" y1="177" x2="307.3" y2="244.6" stroke="#ff1010" stroke-width="1.0" stroke-dasharray="10 4" />
<line x1="377.4" y1="180" x2="377.4" y2="244.6" stroke="#0000ff" stroke-width="1.15" stroke-dasharray="1.2 3.1" />
<line x1="408.8" y1="177" x2="408.8" y2="244.6" stroke="#30b830" stroke-width="1.4" stroke-dasharray="9.5 4" />
</g>
<line x1="77" y1="188.3" x2="94.9" y2="188.3" stroke="#3030ff" stroke-width="0.9" />
<text x="96.5" y="191.5" font-size="9.0" fill="#3030ff" stroke="#3030ff" stroke-width="0.15" >B<tspan font-size="6.8" dy="3.2" stroke-width="0.12">L</tspan></text>
<line x1="77" y1="211.3" x2="94.9" y2="211.3" stroke="#22ee22" stroke-width="0.9" />
<text x="96.5" y="214.5" font-size="9.0" fill="#22ee22" stroke="#22ee22" stroke-width="0.15" >B<tspan font-size="6.8" dy="3.2" stroke-width="0.12">M</tspan></text>
<line x1="77" y1="234.1" x2="94.9" y2="234.1" stroke="#ff3030" stroke-width="0.9" />
<text x="96.5" y="237.3" font-size="9.0" fill="#ff3030" stroke="#ff3030" stroke-width="0.15" >B<tspan font-size="6.8" dy="3.2" stroke-width="0.12">N</tspan></text>
<path d="M161.6 176.5v10.5M161.6 244.6v-10.5M275.6 176.5v10.5M275.6 244.6v-10.5M389.5 176.5v10.5M389.5 244.6v-10.5M503.5 176.5v10.5M503.5 244.6v-10.5M76.1 176.5v4M76.1 244.6v-4M104.6 176.5v4M104.6 244.6v-4M133.1 176.5v4M133.1 244.6v-4M190.1 176.5v4M190.1 244.6v-4M218.6 176.5v4M218.6 244.6v-4M247.1 176.5v4M247.1 244.6v-4M304 176.5v4M304 244.6v-4M332.5 176.5v4M332.5 244.6v-4M361 176.5v4M361 244.6v-4M418 176.5v4M418 244.6v-4M446.5 176.5v4M446.5 244.6v-4M475 176.5v4M475 244.6v-4" stroke="#000" stroke-width="0.9" fill="none"/>
<path d="M71.5 178.1h5.5M525.4 178.1h-5.5M71.5 183.4h2.6M525.4 183.4h-2.6M71.5 188.6h2.6M525.4 188.6h-2.6M71.5 193.9h2.6M525.4 193.9h-2.6M71.5 199.2h5.5M525.4 199.2h-5.5M71.5 204.4h2.6M525.4 204.4h-2.6M71.5 209.7h2.6M525.4 209.7h-2.6M71.5 214.9h2.6M525.4 214.9h-2.6M71.5 220.2h5.5M525.4 220.2h-5.5M71.5 225.5h2.6M525.4 225.5h-2.6M71.5 230.7h2.6M525.4 230.7h-2.6M71.5 236h2.6M525.4 236h-2.6M71.5 241.2h5.5M525.4 241.2h-5.5" stroke="#000" stroke-width="0.9" fill="none"/>
<rect x="71.5" y="176.5" width="453.9" height="68.1" fill="none" stroke="#000" stroke-width="1.1"/>
<text x="69.2" y="181.8" font-size="11" text-anchor="end" stroke="#000" >40</text>
<text x="69.2" y="202.8" font-size="11" text-anchor="end" stroke="#000" >20</text>
<text x="69.2" y="223.9" font-size="11" text-anchor="end" stroke="#000" >0</text>
<text x="69.2" y="244.8" font-size="11" text-anchor="end" stroke="#000" >-20</text>
<text x="41.9" y="211.2" font-size="11" text-anchor="middle" transform="rotate(-90 41.9 211.2)" stroke="#000" >B<tspan font-size="8.6" dy="3.6">LMN</tspan><tspan dy="-3.6"> [nT]</tspan></text>
<rect x="71.5" y="244.6" width="453.9" height="68.4" fill="url(#sg1)"/>
<rect x="71.5" y="244.6" width="453.9" height="68.4" fill="url(#sg1b)" mask="url(#sgm)"/>
<line x1="71.5" y1="245.9" x2="525.4" y2="245.9" stroke="#00f0e0" stroke-width="1.6" stroke-dasharray="1.2 1.1" />
<line x1="71.5" y1="311.7" x2="525.4" y2="311.7" stroke="#00f0e0" stroke-width="1.6" stroke-dasharray="1.2 1.1" />
<path d="M161.6 244.6v10.5M161.6 313v-10.5M275.6 244.6v10.5M275.6 313v-10.5M389.5 244.6v10.5M389.5 313v-10.5M503.5 244.6v10.5M503.5 313v-10.5M76.1 244.6v4M76.1 313v-4M104.6 244.6v4M104.6 313v-4M133.1 244.6v4M133.1 313v-4M190.1 244.6v4M190.1 313v-4M218.6 244.6v4M218.6 313v-4M247.1 244.6v4M247.1 313v-4M304 244.6v4M304 313v-4M332.5 244.6v4M332.5 313v-4M361 244.6v4M361 313v-4M418 244.6v4M418 313v-4M446.5 244.6v4M446.5 313v-4M475 244.6v4M475 313v-4" stroke="#000" stroke-width="0.9" fill="none"/>
<path d="M71.5 249.3h2.6M525.4 249.3h-2.6M71.5 245.8h2.6M525.4 245.8h-2.6M71.5 255.2h5.5M525.4 255.2h-5.5M71.5 269h2.6M525.4 269h-2.6M71.5 265.5h2.6M525.4 265.5h-2.6M71.5 263.1h2.6M525.4 263.1h-2.6M71.5 261.1h2.6M525.4 261.1h-2.6M71.5 259.6h2.6M525.4 259.6h-2.6M71.5 258.3h2.6M525.4 258.3h-2.6M71.5 257.1h2.6M525.4 257.1h-2.6M71.5 256.1h2.6M525.4 256.1h-2.6M71.5 274.9h5.5M525.4 274.9h-5.5M71.5 288.8h2.6M525.4 288.8h-2.6M71.5 285.3h2.6M525.4 285.3h-2.6M71.5 282.8h2.6M525.4 282.8h-2.6M71.5 280.9h2.6M525.4 280.9h-2.6M71.5 279.3h2.6M525.4 279.3h-2.6M71.5 278h2.6M525.4 278h-2.6M71.5 276.9h2.6M525.4 276.9h-2.6M71.5 275.9h2.6M525.4 275.9h-2.6M71.5 294.7h5.5M525.4 294.7h-5.5M71.5 308.5h2.6M525.4 308.5h-2.6M71.5 305h2.6M525.4 305h-2.6M71.5 302.6h2.6M525.4 302.6h-2.6M71.5 300.6h2.6M525.4 300.6h-2.6M71.5 299.1h2.6M525.4 299.1h-2.6M71.5 297.8h2.6M525.4 297.8h-2.6M71.5 296.6h2.6M525.4 296.6h-2.6M71.5 295.6h2.6M525.4 295.6h-2.6" stroke="#000" stroke-width="0.9" fill="none"/>
<rect x="71.5" y="244.6" width="453.9" height="68.4" fill="none" stroke="#000" stroke-width="1.1"/>
<text x="528.4" y="259.4" font-size="11" stroke="#000" >10<tspan font-size="9.3" dy="-4.3">4</tspan></text>
<text x="528.4" y="279.3" font-size="11" stroke="#000" >10<tspan font-size="9.3" dy="-4.3">3</tspan></text>
<text x="528.4" y="298.7" font-size="11" stroke="#000" >10<tspan font-size="9.3" dy="-4.3">2</tspan></text>
<text x="558.2" y="279" font-size="11" text-anchor="middle" transform="rotate(-90 558.2 279)" stroke="#000" >Energy (eV)</text>
<g clip-path="url(#c3)">
<line x1="90.4" y1="322" x2="90.4" y2="381.5" stroke="#00b0ff" stroke-width="1.2" stroke-dasharray="1.4 3.6" />
<path d="M72.1 343.1l.8-1.6.8-3 .8-.5.8-1.2.8-.4.8-.4.8-.7.8-1.7.8-.3.8-1.3.8.2.8-.8.8.8.8-1.5.8-.1.8-.2.8.1.8-1.2.8-2.4.8-4 .8-2.3.8-2.6.8-1.8.8 1.8.8 1.1.8 2 .8 2.3.8 2.8.8 2.4.8 1.8.8 0 .8-1 .8.4.8-1 .8.2.8 1.1.8-.7.8-.6.8-1 .8-.4.8-.1.8-.8.8 1.2.8 1.4.8 1.6.8-.3.8 1.6.8.6.8.2.8-.7.8.1.8.1.8-.7.8.9.8-.6.8.2.8.2.8.5.8-.6.8.9.8 1.3.8.2.8 0 .8.1.8-1.2.8-.3.8-.4.8-.4.8 1.1.8 1.6.8.7.8 1 .8 1.2.8-.2.8 1.1.8.9.8-.5.8-.3.8-.3.8.2.8 1 .8 1.3.8-1.4.8.6.8-.2.8.4.8-.1.8.5.8 1.9.8.9.8 1.6.8 1.5.8-.9.8-.6.8-.6.8-2.3.8-1.3.8 0 .8-.8.8-.3.8 0 .8-.8.8-1 .8-.2.8-.3.8-.2.8.4.8 1.4.8 1.1.8.3.8 1 .8 1.4.8.7.8.1.8-.9.8 0 .8-1.8.8-1.7.8-.1.8.8.8.2.8.1.8 0 .8 1.6.8.6.8 1.7.8 2.4.8 1.4.8.4.8.5.8.7.8.6.8.2.8.3.8-.5.8-.9.8-1.1.8 0 .8-.1.8 1.3.8-1 .8 1.4.8.9.8 2.4.8 1.8.8 1.7.8 1.2.8 1.4.8 2.1.8 1.7.8.3.8 1.6.8 1.1.8 1 .8.8.8 1.8.8-.8.8-.3.8 0 .8 1.6.8.5.8.5.8-.1.8 1.2.8-.5.8-.7.8.3.8-1.1.8-.3.8-.3.8-1.7.8 0 .8-.6.8.7.8 0 .8.8.8.7.8.3.8.6.8.1.8.7.8.4.8.4.8.9.8.1.8-.7.8-.4.8-.6.8-.1.8-1 .8.1.8-.5.8-1.1.8-.9.8-.2.8.8.8-1.4.8.6.8.2.8.7.8.4.8.6.8 1.3.8.3.8.9.8.5.8 1.1.8-.1.8 1 .8-.7.8.3.8-.2.8.5.8-1 .8-.8.8.1.8 1.1.8.3.8-.2.8.3.8.2.8.3.8-.9.8.6.8-.1.8 1.1.8-.1.8.2.8 1 .8.3.8-.5.8 0 .8-1.2.8-.4.8-.5.8-.7.8.1.8 0 .8-.3.8.2.8.3.8 1 .8-.7.8-.7.8-.1.8-.1.8.6.8-.9.8-.5.8.4.8.3.8 1.3.8-.6.8-.2.8-1.5.8-.4.8.5.8-1.8.8-.4.8-.6.8-1.3.8-1.3.8-.5.8-.4.8-.9.8-.8.8.3.8-.5.8-.5.8-.4.8 1 .8.4.8.5.8-.6.8-.1.8-.6.8-.7.8-.1.8-1.2.8-.1.8-.5.8-.8.8-.4.8-.4.8-.3.8-.2.8.5.8.5.8 1.2.8.5.8.3.8-.4.8-.8.8-.3.8 1.1.8.1.8.1.8.6.8.9.8.3.8 1.2.8.9.8-.4.8.4.8 1.1.8 1.9.8.2.8.6.8.5.8-.6.8-.5.8-.6.8-2 .8-1.9.8-.8.8-1.4.8-.2.8 1.1.8 0 .8.4.8.2.8 0 .8-.1.8.5.8-.7.8-.6.8-.5.8-.9.8 0 .8-.4.8.1.8-.5.8-.2.8.4.8-.4.8.8.8.1.8 1.4.8-.7.8.6.8.4.8-.1.8-.8.8-.1.8 0 .8-.7.8-.1.8-.8.8.5.8.9.8-.2.8.4.8.4.8-.3.8-1.4.8-.8.8-.8.8-.9.8-.1.8 1.9.8 1.7.8.2.8 1.9.8.5.8-.6.8-1.1.8-1.4.8-.4.8-1.1.8-1.9.8-.6.8 2 .8 1.2.8.5.8 1.1.8.8.8.6.8.7.8-2.3.8-1.6.8-2.1.8-.3.8 1.6.8 1.9.8 1.5.8 1.2.8.8.8.7.8.6.8 1 .8 1.6.8-.4.8 0 .8-.6.8.5.8-.2.8-1.5.8-.1.8-3 .8-1.5.8-1.7.8-3.8.8-2.7.8-2.8.8-3.9.8-3.2.8-.3.8-.2.8.3.8.9.8-.1.8.8.8.1.8-.3.8-2.2.8-1 .8-.4.8-.9.8-.5.8-1 .8-1.5.8-.2.8-.5.8-2.6.8-.9.8-1 .8.2.8.8.8 3.5.8 2.7.8 1.7.8.2.8-.8.8-1.6.8-3.5.8-3.1.8-3.5.8-1.9.8-2 .8.5.8 1 .8 1.2.8 1.6.8.5.8-.3.8.4.8 1.3.8.6.8 2 .8 1.5.8 2 .8 2.5.8 3.6.8 2.3.8 2.8.8 1.8.8 2.2.8.7.8 1.6.8.8.8 2 .8.3.8.8.8.9.8-.3.8-.2.8-.7.8-.8.8-.4.8-.3.8-.3.8-.9.8-.7.8-.6.8-.5.8 1.2.8.1.8.3.8 0 .8.5.8-1.9.8-1 .8-1.6.8-.1.8-1.6.8.5.8 0 .8.6.8-.2.8 1 .8-.3.8 1.2.8-.2.8 1 .8.5.8 1.4.8.8.8 0 .8 1.5.8 1.5.8-.2.8-.4.8-.1.8 1.6.8 1 .8-.2.8 0 .8-1.3.8-.6.8-.9.8.2.8-.8.8-.1.8 1.1.8-.2.8 1.2.8.7.8.9.8 1.9.8 1.5.8.8.8.6.8.6.8-.1.8.2.8-1.2.8.2.8-1 .8-1.2.8-1.1.8-2.6.8-.6.8-.8.8-1.5.8-1 .8-.5.8-.5.8-.3.8-.9.8-1.6.8-.9.8-1.9.8-1.4.8-.9.8-1.6.8-1.7.8-.5.8-.6.8-.4.8.2.8.2.8-.1.8-1.4.8-.8.8-1.8.8-1.9.8-1.7.8-.9.8-.6.8.7.8 1 .8.3.8 1.1.8.3.8.7" fill="none" stroke="#303030" stroke-width="0.8" stroke-linejoin="round" />
<line x1="104" y1="314" x2="104" y2="381.5" stroke="#ff4848" stroke-width="1.5" stroke-dasharray="10 3.5" />
<line x1="259.7" y1="315" x2="259.7" y2="381.5" stroke="#ff00ff" stroke-width="1.45" stroke-dasharray="1.5 4.3" />
<line x1="307.3" y1="313.5" x2="307.3" y2="381.5" stroke="#ff1010" stroke-width="1.0" stroke-dasharray="10 4" />
<line x1="377.4" y1="316.5" x2="377.4" y2="381.5" stroke="#0000ff" stroke-width="1.15" stroke-dasharray="1.2 3.1" />
<line x1="408.8" y1="313.5" x2="408.8" y2="381.5" stroke="#30b830" stroke-width="1.4" stroke-dasharray="9.5 4" />
</g>
<line x1="77" y1="317" x2="92.8" y2="317" stroke="#30b030" stroke-width="1.1" stroke-dasharray="3.8 1.7" />
<text x="93.7" y="320.2" font-size="9.0" fill="#30b030" stroke="#30b030" stroke-width="0.15" >t&#160;&#160;HT</text>
<line x1="77" y1="323.8" x2="92.8" y2="323.8" stroke="#00b0ff" stroke-width="1.2" stroke-dasharray="1.2 1.1" />
<text x="93.7" y="327" font-size="9.0" fill="#00b0ff" stroke="#00b0ff" stroke-width="0.15" >t&#160;&#160;vmax</text>
<line x1="77" y1="330.7" x2="92.8" y2="330.7" stroke="#ff1010" stroke-width="1.1" stroke-dasharray="3.8 1.7" />
<text x="93.7" y="333.9" font-size="9.0" fill="#ff1010" stroke="#ff1010" stroke-width="0.15" >t&#160;&#160;cs</text>
<line x1="77" y1="337.4" x2="92.8" y2="337.4" stroke="#0000ff" stroke-width="1.2" stroke-dasharray="1.2 1.1" />
<text x="93.7" y="340.6" font-size="9.0" fill="#0000ff" stroke="#0000ff" stroke-width="0.15" >t&#160;&#160;dvmax</text>
<line x1="77" y1="344.4" x2="92.8" y2="344.4" stroke="#303030" stroke-width="0.9" />
<text x="93.7" y="347.6" font-size="9.0" fill="#111" stroke="#111" stroke-width="0.15" >|V<tspan font-size="5" dy="3.2" stroke-width="0.12">i</tspan></text>
<path d="M161.6 313v10.5M161.6 381.5v-10.5M275.6 313v10.5M275.6 381.5v-10.5M389.5 313v10.5M389.5 381.5v-10.5M503.5 313v10.5M503.5 381.5v-10.5M76.1 313v4M76.1 381.5v-4M104.6 313v4M104.6 381.5v-4M133.1 313v4M133.1 381.5v-4M190.1 313v4M190.1 381.5v-4M218.6 313v4M218.6 381.5v-4M247.1 313v4M247.1 381.5v-4M304 313v4M304 381.5v-4M332.5 313v4M332.5 381.5v-4M361 313v4M361 381.5v-4M418 313v4M418 381.5v-4M446.5 313v4M446.5 381.5v-4M475 313v4M475 381.5v-4" stroke="#000" stroke-width="0.9" fill="none"/>
<path d="M71.5 317.9h5.5M525.4 317.9h-5.5M71.5 322.8h2.6M525.4 322.8h-2.6M71.5 327.8h2.6M525.4 327.8h-2.6M71.5 332.8h2.6M525.4 332.8h-2.6M71.5 337.7h5.5M525.4 337.7h-5.5M71.5 342.6h2.6M525.4 342.6h-2.6M71.5 347.6h2.6M525.4 347.6h-2.6M71.5 352.6h2.6M525.4 352.6h-2.6M71.5 357.5h5.5M525.4 357.5h-5.5M71.5 362.4h2.6M525.4 362.4h-2.6M71.5 367.4h2.6M525.4 367.4h-2.6M71.5 372.4h2.6M525.4 372.4h-2.6M71.5 377.3h5.5M525.4 377.3h-5.5" stroke="#000" stroke-width="0.9" fill="none"/>
<rect x="71.5" y="313" width="453.9" height="68.5" fill="none" stroke="#000" stroke-width="1.1"/>
<text x="69.2" y="321.6" font-size="11" text-anchor="end" stroke="#000" >180</text>
<text x="69.2" y="341.4" font-size="11" text-anchor="end" stroke="#000" >160</text>
<text x="69.2" y="361.2" font-size="11" text-anchor="end" stroke="#000" >140</text>
<text x="69.2" y="381.1" font-size="11" text-anchor="end" stroke="#000" >120</text>
<text x="42.4" y="348" font-size="11" text-anchor="middle" transform="rotate(-90 42.4 348)" stroke="#000" >| V<tspan font-size="8.6" dy="3.6">i</tspan><tspan dy="-3.6"> | [km/s]</tspan></text>
<g clip-path="url(#c4)">
<line x1="71.5" y1="383.5" x2="525.4" y2="383.5" stroke="#111" stroke-width="1.1" stroke-dasharray="4.2 2.4" />
<path d="M72.1 429l.8.1.8 1.1.8.7.8-.3.8 1.2.8.2.8.3.8 1.2.8.7.8-.5.8.8.8.8.8.3.8.1.8 1 .8.1.8.9.8.5.8-.2.8.8.8 0 .8 1.6.8 0 .8.2.8-.7.8-.4.8-.3.8-1.8.8-.1.8-1.4.8-.2.8-.4.8-.4.8.3.8-1.5.8.6.8-.8.8.3.8.3.8-.5.8.2.8.1.8 0 .8-.6.8-.4.8-.1.8-.3.8-.2.8-.6.8-.1.8.2.8.6.8.8.8.2.8-.3.8-.5.8.5.8-.4.8-.6.8.6.8-.6.8-.7.8.1.8.5.8-1.2.8.3.8 0 .8.1.8-.7.8-.4.8.1.8.1.8-.7.8-.2.8-.5.8-.1.8.2.8-.1.8-.5.8.3.8-.3.8.2.8.9.8-.1.8-.1.8.6.8.2.8-.8.8-.7.8-.8.8-.2.8.1.8-.5.8.2.8.3.8.3.8.4.8.9.8.1.8.6.8.5.8.8.8-.7.8 0 .8-.1.8-.1.8-.2.8-1.2.8.2.8-.7.8 1.3.8-.3.8.1.8-.1.8.3.8-.1.8-1 .8-.5.8-.6.8.3.8-.2.8.2.8-.7.8-.2.8-.6.8.1.8-1.4.8 0 .8-.8.8.2.8-.6.8-.2.8.3.8-1.1.8.1.8.3.8.9.8.3.8.1.8.5.8.1.8.5.8-.6.8-.4.8.9.8-1 .8-.3.8-.4.8.4.8-.5.8-.4.8 0 .8-1.1.8.5.8 0 .8-.7.8.7.8-.1.8-.2.8-.2.8 1 .8.1.8-.3.8-.4.8.4.8.1.8 1.1.8.1.8 1 .8-.1.8.7.8-.2.8.4.8-.3.8.8.8-.1.8.1.8-.1.8-.4.8.4.8-.1.8-.4.8-.2.8.8.8-1 .8.7.8.1.8.1.8-1 .8.8.8-.3.8.5.8-.2.8.4.8-.3.8 0 .8 0 .8.2.8-.4.8-.5.8.3.8-.1.8-.9.8-.4.8.6.8 0 .8.1.8.1.8-.2.8.4.8-.4.8-.7.8.9.8.5.8.1.8.4.8 0 .8 0 .8.7.8.4.8-.3.8.8.8 0 .8-.3.8 1 .8-.7.8-.1.8-1.3.8.8.8-1 .8-.4.8-.9.8-.8.8.1.8-.5.8.4.8 0 .8-.4.8-.3.8.8.8-.7.8.5.8.2.8.2.8-.3.8.8.8-.3.8.3.8.6.8-.1.8-.5.8-.1.8.5.8 0 .8 0 .8.8.8.5.8.5.8.5.8.3.8.6.8.2.8 1 .8.1.8.5.8.5.8-.2.8.4.8 0 .8-.5.8-.6.8.1.8-.7.8-.1.8-.2.8-.1.8 0 .8.4.8.8.8-.6.8.5.8-.5.8.1.8.1.8-.3.8.3.8.2.8-.4.8-.6.8.1.8.1.8 0 .8-.1.8.3.8-.2.8.4.8.1.8-1 .8.3.8-.3.8-.9.8-.2.8-.4.8-.5.8-.5.8-.7.8-.8.8.5.8-.5.8.3.8-.8.8-.3.8.3.8.3.8-.3.8-.2.8.5.8-.1.8-.1.8 0 .8-.1.8.2.8.2.8.4.8.5.8.5.8.7.8.3.8 1.1.8-.1.8.3.8-.1.8-.7.8.8.8-.4.8-.3.8-.3.8-.5.8-.1.8.1.8-1.3.8-.2.8.4.8 0 .8-.2.8.1.8.2.8.6.8.4.8.1.8.9.8-.4.8.5.8.6.8-.2.8-.8.8.1.8-.4.8-.3.8-.1.8-.9.8.6.8 1.3.8.6.8.4.8 1.1.8.9.8.9.8.8.8.6.8 1.3.8-1.1.8-.5.8-.4.8-.4.8-.2.8-1.3.8.6.8-.2.8 1.6.8.8.8.6.8-1.4.8-1.1.8-1.7.8-1.1.8-2.1.8-.8.8-1.1.8-.3.8.5.8.1.8-.3.8 1.1.8.2.8-.4.8 0 .8.9.8-.4.8-.4.8 0 .8-.9.8-.9.8 0 .8-1.6.8-.9.8.5.8-.3.8.4.8.7.8.6.8.2.8.5.8-.1.8.2.8-.4.8-.6.8.2.8-.2.8-.5.8.1.8-1.1.8-.2.8-1.8.8-1.2.8-.7.8-1.2.8-.5.8-.8.8-1.1.8 1 .8.9.8 1.5.8 1.2.8 1.6.8 0 .8-.6.8-.8.8.6.8-.7.8.1.8-.6.8 0 .8-.2.8.2.8-1.3.8-2.4.8-1 .8-.7.8-1.1.8-1.1.8-.8.8.5.8-.2.8-.6.8.2.8.1.8.5.8-.1.8-.4.8 0 .8.3.8-.6.8-.1.8-.1.8.9.8-.3.8.9.8.3.8-.9.8.4.8.3.8.2.8-.2.8-.6.8-1 .8-.2.8-.2.8.2.8-.5.8-.1.8.3.8 0 .8-.9.8-.5.8.4.8.1.8-.1.8-.3.8-.1.8-.4.8-.1.8-.5.8.4.8-.2.8-.3.8.1.8 0 .8.4.8.7.8 0 .8.3.8-.7.8.5.8-.2.8.5.8-.6.8.1.8.1.8 0 .8 0 .8 1 .8-.1.8-.3.8-.3.8-.3.8 0 .8-.2.8-.4.8-.7.8-.5.8-.6.8-.2.8.8.8-.6.8.1.8.5.8.5.8-.4.8.5.8-.1.8-.1.8.5.8.5.8.3.8-.1.8-.3.8-.2.8.4.8-.4.8 0 .8.2.8-.8.8.6.8.2.8 0 .8 1.3.8.1.8 1 .8.3.8 0 .8 1.2.8 1.1.8 0 .8.7.8.8.8.3.8.8.8-1.2.8.6.8-.9.8-.1.8-1.2.8.2.8-.5" fill="none" stroke="#22ee22" stroke-width="0.95" stroke-linejoin="round" />
<path d="M72.1 428.5l.8.8.8 1.2.8-.6.8.9.8.3.8.6.8.5.8.2.8-.2.8.3.8-1.4.8-1.3.8 0 .8-.4.8-.8.8.6.8.8.8 1 .8 1.2.8 1.1.8.4.8 1.5.8 1 .8-.9.8-.5.8-.8.8-.2.8-.7.8-.5.8-1 .8-.2.8.8.8.1.8-.1.8.8.8-.4.8.4.8.3.8-.3.8 0 .8-.4.8-.4.8-.8.8.2.8-.7.8-.3.8-.5.8-.5.8.1.8-.7.8-.6.8.2.8-.3.8-.2.8-1 .8.5.8-.2.8 0 .8.2.8-.7.8-.1.8 1.5.8.1.8 1 .8.1.8 1 .8.7.8 1.1.8-.4.8-.8.8.1.8-1 .8-.6.8.2.8-.9.8 0 .8.7.8-.6.8 1 .8-.3.8-.3.8-.4.8-.8.8-.8.8-.8.8-.2.8-.1.8.2.8 0 .8-.1.8.7.8-.3.8-.2.8 0 .8-.7.8.6.8-.4.8-.3.8.4.8-.3.8.9.8 1.3.8 1.1.8.3.8 1 .8.9.8-.8.8-.3.8-.7.8-.6.8-.4.8-.9.8.2.8.8.8-.1.8.6.8.8.8 1.1.8.9.8.7.8-.3.8 1.3.8-.1.8-1.2.8-.5.8-.3.8-.9.8-.3.8-.7.8-.7.8 0 .8-.7.8.4.8-.1.8-.3.8.7.8 0 .8.2.8-.1.8.2.8-.1.8-.9.8-1.1.8-.2.8-1.1.8-.1.8-1.3.8-1 .8-.2.8-1.8.8-.1.8-.7.8-.5.8-.4.8-.9.8-.4.8-.5.8-.4.8.1.8-.4.8-1 .8.1.8-.5.8-.6.8.5.8-.8.8-.6.8-.4.8.3.8-1.2.8.6.8-.2.8-.6.8-.6.8-1.1.8.2.8-.7.8 0 .8-1.1.8-.7.8.2.8-1 .8.3.8-.1.8.2.8.7.8-.8.8.5.8.2.8.9.8 0 .8.7.8.2.8.7.8 1.1.8 0 .8.2.8.3.8.8.8-1 .8-.3.8.1.8-.9.8-1 .8-.5.8-.8.8-.2.8-.8.8-.1.8.6.8-.8.8.7.8-.7.8.6.8-.3.8-1.1.8-.3.8-.2.8-1.3.8.9.8-1 .8-.5.8-1 .8-.3.8-.4.8.1.8-1.1.8.4.8.9.8 1.4.8 1.5.8 1.6.8.9.8 1.3.8 1.1.8.9.8.2.8.8.8-.5.8-.5.8-.4.8-.5.8-.7.8-.7.8-.5.8.6.8-.3.8 0 .8.3.8.6.8-.1.8 0 .8.7.8 0 .8.2.8-.1.8 1.1.8-.7.8.8.8-.7.8.3.8 0 .8-.6.8.4.8-.2.8-.4.8.2.8.8.8.1.8.1.8.4.8.2.8.3.8.4.8-.2.8-.1.8.6.8 0 .8.1.8.4.8 0 .8-.3.8-.1.8.3.8.9.8 0 .8-.2.8 0 .8-.5.8.1.8.5.8-.3.8-.3.8-.3.8.5.8-.5.8 0 .8.1.8.5.8.6.8-1 .8.3.8.1.8-.4.8.6.8-.3.8.1.8.4.8-.4.8.5.8-.5.8.5.8.2.8.5.8.4.8-.1.8.9.8-.3.8-.6.8-.3.8-.6.8-.5.8-.1.8-1.6.8.5.8-1 .8-.2.8-.2.8-.5.8 0 .8-.1.8.4.8-.2.8.2.8 0 .8 1.2.8-.9.8.3.8.6.8-.2.8.3.8.7.8.3.8.2.8.5.8-.6.8-.4.8-.7.8 0 .8-.5.8-.8.8-.1.8-.4.8-.2.8.9.8.9.8.3.8 0 .8.6.8-.5.8-1.4.8-1.5.8-.5.8-1.1.8-1.7.8-.9.8-.2.8-.6.8.4.8 0 .8.7.8.2.8.2.8 0 .8-.2.8-1.1.8-.3.8-1.5.8-.9.8-.7.8-.9.8.9.8.7.8 2 .8 2.4.8 2.5.8 2.4.8 1.5.8.9.8.6.8-.8.8-.9.8-.9.8-.7.8-.6.8-.2.8.2.8 1 .8.4.8.9.8 3.2.8 3.9.8 4.4.8 4.8.8 3.3.8 1.2.8.4.8.7.8-1.5.8 0 .8-1.3.8-.1.8-.7.8-1 .8 1.3.8 1.3.8 1.2.8.3.8.5.8.7.8.5.8.3.8.5.8 1.4.8 2.3.8.1.8 1.1.8-.5.8-1.1.8-1.5.8-.5.8-1.6.8-.7.8.7.8 1.8.8 1.9.8 1 .8 1.5.8 1.6.8.3.8-.4.8-.2.8-.4.8-.6.8.5.8-.4.8 0 .8-.6.8-.5.8-.5.8-1.3.8-1.3.8-1.4.8-1.4.8-1.1.8-1.4.8-.8.8-1.2.8-1.7.8-.3.8-.1.8-.9.8.2.8.1.8-.5.8 0 .8.5.8-.6.8.4.8.1.8.1.8 0 .8-.7.8.6.8.1.8-.2.8-.9.8.2.8.6.8.6.8.8.8 1.6.8.5.8 1.5.8.4.8.1.8-.5.8 1.1.8-.6.8-.2.8-.3.8-.4.8-.7.8.1.8-.7.8-.8.8-1 .8-.3.8-1.6.8-.3.8.2.8.7.8.2.8.6.8-.5.8 0 .8 1 .8.6.8-.1.8.1.8.8.8.2.8-.8.8.5.8.8.8-.9.8 0 .8-.1.8-.5.8-.6.8.5.8-1 .8.3.8.8.8-.8.8.3.8 1.3.8.1.8.1.8 1 .8.1.8.9.8.7.8.7.8-.1.8.5.8-.1.8.8.8.8.8.9.8.6.8.5.8.4.8 1.5.8.4.8.3.8.7.8.7.8.1.8-.8.8-.2.8.2.8-.1.8.8.8 1.1.8-.1.8.9.8.4.8.4.8 0 .8-.3.8.3.8.2.8-.9.8-1.3" fill="none" stroke="#3030ff" stroke-width="0.9" stroke-linejoin="round" />
<path d="M72.1 410.7l.8.9.8-1 .8-.2.8-.6.8-.3.8.1.8-.2.8-.7.8.3.8-.9.8 1.3.8.2.8.8.8.4.8.4.8.1.8 0 .8-.5.8 0 .8-1.4.8.8.8.3.8-.3.8.1.8-.6.8-.5.8-.8.8-.4.8.1.8.6.8.9.8.8.8.3.8.3.8.1.8 1 .8.3.8.8.8-1.3.8.7.8.3.8.6.8-.1.8.1.8.5.8.7.8.6.8 1 .8-.1.8-.1.8.6.8.7.8.1.8.5.8-.2.8.9.8-.1.8.1.8-.5.8-.6.8-.7.8-.5.8-1.1.8.8.8-1.1.8-.9.8-.2.8-.5.8-.4.8-.4.8.3.8-.2.8 1 .8-.7.8 1.1.8.1.8.5.8-.2.8.8.8.1.8-.5.8 0 .8-.3.8.2.8-.5.8 0 .8-.6.8-.5.8-.7.8-.6.8 0 .8 1.4.8.3.8.6.8 1.1.8.3.8.6.8.9.8-.8.8-.7.8-1.1.8-1.1.8-.7.8-1.4.8-.8.8.1.8.3.8.5.8.6.8-.3.8.8.8 0 .8-.3.8-.6.8-.2.8.1.8-.2.8-.2.8-.9.8-1.1.8.2.8-.1.8-.5.8-.3.8 0 .8-.1.8.8.8-.1.8.5.8 0 .8.4.8.5.8 0 .8.1.8.2.8-.6.8-.1.8-.5.8.3.8-.7.8-.5.8.2.8 0 .8-.8.8-.2.8.2.8-.8.8.2.8-.7.8.7.8.2.8 0 .8.4.8.2.8.6.8-1.1.8.4.8.6.8-.3.8 0 .8.5.8-.3.8-.4.8.3.8.4.8-.1.8.7.8-.2.8-.1.8.7.8-.7.8.7.8.7.8.4.8.1.8-.1.8-.1.8.4.8.3.8-.4.8-.1.8-.2.8-.2.8.2.8 0 .8 0 .8-1.1.8.4.8-.2.8-.2.8.9.8-1 .8.3.8.2.8 0 .8.3.8 0 .8.2.8-.3.8.1.8.3.8-.4.8.1.8-.1.8-.6.8 0 .8.4.8-.7.8.2.8-.1.8-.9.8 1.2.8-.4.8.4.8-.7.8 0 .8.1.8.3.8 0 .8-.7.8.4.8-.1.8-.3.8.1.8 0 .8-.3.8-1.1.8 1.1.8-.9.8.5.8-.5.8.4.8-.1.8.3.8.5.8-.4.8-.5.8-.5.8.1.8.8.8-.3.8.4.8.5.8.4.8.1.8.3.8.1.8-.2.8.2.8-.4.8-.1.8-.4.8-.5.8-.6.8-.1.8-.3.8.1.8-.4.8-.3.8-.1.8-.2.8.3.8.5.8-.8.8-.3.8-.4.8 1 .8-.2.8.2.8.3.8.9.8 0 .8-.2.8.7.8.6.8-.6.8.6.8.6.8 0 .8-.2.8.4.8-.5.8.1.8.1.8-.4.8.2.8-.2.8-.2.8 0 .8.1.8.6.8-.4.8.4.8-.1.8-.8.8.5.8-.6.8-.1.8.1.8-.8.8 1.1.8-1.2.8.1.8.1.8 0 .8.3.8 0 .8-.4.8 1.1.8 1.1.8-.4.8 1.7.8.1.8.3.8.5.8.6.8.7.8-.9.8.6.8-.3.8.8.8.2.8.2.8-.2.8.3.8-.4.8.8.8-1 .8.9.8-.9.8.4.8.3.8-.1.8-.7.8.4.8.4.8-.6.8-.2.8 1 .8 0 .8-.1.8-.5.8.7.8-.4.8 1 .8-.2.8 1.3.8-.8.8.6.8-.5.8-.1.8-.6.8.1.8-.3.8-.3.8 0 .8.3.8.4.8.2.8 1.1.8-.6.8-.3.8-.7.8-.3.8-.7.8-1.1.8.1.8 0 .8-.7.8-.5.8-.4.8.8.8-.2.8.9.8.3.8 0 .8.6.8 1.1.8 0 .8.7.8.6.8.4.8.2.8-.4.8-.5.8-.5.8-.8.8-.9.8-1.3.8-.5.8-.1.8-.4.8-1 .8.6.8.1.8.6.8 0 .8.1.8 1.5.8 1.2.8 1.2.8-.7.8-1.6.8-1.1.8-1.5.8-.9.8-.8.8-.6.8-.1.8-.3.8 1 .8.1.8 1.1.8 1.2.8-.8.8.8.8-.4.8-.5.8-.1.8.2.8-.6.8.5.8-.6.8.8.8.7.8-.2.8.5.8.1.8.2.8.9.8-.1.8.6.8.7.8.6.8.7.8.1.8-.9.8-.4.8-.7.8-1.4.8 0 .8-1 .8 1.4.8-.3.8.4.8 1.3.8.3.8.7.8.5.8 0 .8.2.8.6.8-.3.8 0 .8.1.8-.1.8.9.8 0 .8.3.8.1.8-.1.8-.6.8.6.8.4.8-.8.8.2.8-.5.8-.2.8.1.8.9.8.1.8.5.8.2.8-.2.8.9.8.5.8.2.8.5.8.3.8-1.2.8-.4.8-1.3.8-.5.8.2.8.3.8 0 .8-.2.8 0 .8-.7.8.7.8-.9.8.3.8 1.1.8.2.8 0 .8.5.8.1.8.1.8 1 .8-.2.8-2.3.8-.3.8-.5.8-.1.8-1 .8-.4.8-.3.8.1.8.6.8-1 .8 1 .8-.2.8-.9.8-.4.8-.6.8-.4.8-.2.8-.6.8-.8.8-1.2.8 1.3.8-1.3.8.1.8.3.8-.7.8-.2.8-.2.8.1.8.1.8-.1.8 0 .8.4.8-.4.8.2.8.6.8-.1.8-.5.8.2.8.4.8-.3.8.1.8.1.8.7.8.1.8.1.8-.4.8-.4.8-.7.8-.1.8-.5.8.2.8-.5.8-.9.8-.4.8.5.8-1.1.8-.7.8-.4.8.1.8-.6.8-.1.8.5.8-.5.8-.3.8.8" fill="none" stroke="#ff3030" stroke-width="0.9" stroke-linejoin="round" />
<line x1="104" y1="382.5" x2="104" y2="449.9" stroke="#ff4848" stroke-width="1.5" stroke-dasharray="10 3.5" />
<line x1="259.7" y1="383.5" x2="259.7" y2="449.9" stroke="#ff00ff" stroke-width="1.45" stroke-dasharray="1.5 4.3" />
<line x1="307.3" y1="382" x2="307.3" y2="449.9" stroke="#ff1010" stroke-width="1.0" stroke-dasharray="10 4" />
<line x1="377.4" y1="385" x2="377.4" y2="449.9" stroke="#0000ff" stroke-width="1.15" stroke-dasharray="1.2 3.1" />
<line x1="408.8" y1="382" x2="408.8" y2="449.9" stroke="#30b830" stroke-width="1.4" stroke-dasharray="9.5 4" />
</g>
<line x1="77" y1="389.5" x2="94.9" y2="389.5" stroke="#3030ff" stroke-width="0.9" />
<text x="96.5" y="392.7" font-size="9.0" fill="#3030ff" stroke="#3030ff" stroke-width="0.15" >V<tspan font-size="6.8" dy="3.2" stroke-width="0.12">L</tspan></text>
<line x1="77" y1="404.4" x2="94.9" y2="404.4" stroke="#22ee22" stroke-width="0.9" />
<text x="96.5" y="407.6" font-size="9.0" fill="#22ee22" stroke="#22ee22" stroke-width="0.15" >V<tspan font-size="6.8" dy="3.2" stroke-width="0.12">M</tspan></text>
<line x1="77" y1="419.1" x2="94.9" y2="419.1" stroke="#ff3030" stroke-width="0.9" />
<text x="96.5" y="422.3" font-size="9.0" fill="#ff3030" stroke="#ff3030" stroke-width="0.15" >V<tspan font-size="6.8" dy="3.2" stroke-width="0.12">N</tspan></text>
<path d="M161.6 381.5v10.5M161.6 449.9v-10.5M275.6 381.5v10.5M275.6 449.9v-10.5M389.5 381.5v10.5M389.5 449.9v-10.5M503.5 381.5v10.5M503.5 449.9v-10.5M76.1 381.5v4M76.1 449.9v-4M104.6 381.5v4M104.6 449.9v-4M133.1 381.5v4M133.1 449.9v-4M190.1 381.5v4M190.1 449.9v-4M218.6 381.5v4M218.6 449.9v-4M247.1 381.5v4M247.1 449.9v-4M304 381.5v4M304 449.9v-4M332.5 381.5v4M332.5 449.9v-4M361 381.5v4M361 449.9v-4M418 381.5v4M418 449.9v-4M446.5 381.5v4M446.5 449.9v-4M475 381.5v4M475 449.9v-4" stroke="#000" stroke-width="0.9" fill="none"/>
<path d="M71.5 383.5h5.5M525.4 383.5h-5.5M71.5 388.1h2.6M525.4 388.1h-2.6M71.5 392.6h2.6M525.4 392.6h-2.6M71.5 397.1h2.6M525.4 397.1h-2.6M71.5 401.7h2.6M525.4 401.7h-2.6M71.5 406.2h5.5M525.4 406.2h-5.5M71.5 410.8h2.6M525.4 410.8h-2.6M71.5 415.4h2.6M525.4 415.4h-2.6M71.5 419.9h2.6M525.4 419.9h-2.6M71.5 424.4h2.6M525.4 424.4h-2.6M71.5 429h5.5M525.4 429h-5.5M71.5 433.6h2.6M525.4 433.6h-2.6M71.5 438.1h2.6M525.4 438.1h-2.6M71.5 442.6h2.6M525.4 442.6h-2.6M71.5 447.2h2.6M525.4 447.2h-2.6" stroke="#000" stroke-width="0.9" fill="none"/>
<rect x="71.5" y="381.5" width="453.9" height="68.4" fill="none" stroke="#000" stroke-width="1.1"/>
<text x="527.4" y="387.1" font-size="11" stroke="#000" >0</text>
<text x="527.4" y="409.9" font-size="11" stroke="#000" >-50</text>
<text x="527.4" y="432.8" font-size="11" stroke="#000" >-100</text>
<text x="562.3" y="416" font-size="11" text-anchor="middle" transform="rotate(-90 562.3 416)" stroke="#000" >V<tspan font-size="8.6" dy="3.6">i LMN</tspan><tspan dy="-3.6"> [km/s]</tspan></text>
<g clip-path="url(#c5)">
<path d="M72.1 514.1l.8-.3.8-.4.8-.6.8.4.8-.5.8 2.4.8-.9.8-1.7.8-1 .8.1.8.3.8-.7.8-.4.8.6.8.9.8-.7.8.9.8.7.8.8.8-.9.8-2.7.8-1.8.8-2 .8-1.2.8.6.8.7.8 1.7.8 1.8.8.7.8 1.9.8 1.7.8-.9.8-1 .8-.9.8-1.7.8-1.4.8-.7.8-.6.8.2.8 0 .8 1.3.8.8.8 1.8.8-.5.8-1.5.8-1.4.8-.5.8-1.6.8-1 .8-.1.8.6.8-.7.8-.1.8.4.8-.3.8.3.8-.4.8-1.1.8-2.1.8.2.8-1.2.8-1.4.8 0 .8-1.5.8 1.1.8-1.6.8 1.2.8-.4.8 1.3.8-.1.8-.3.8.9.8-.4.8-1.3.8 1.1.8 2.8.8-2.5.8-1.6.8-.3.8-2.2.8.3.8-.6.8-.1.8.5.8-.2.8-.5.8.8.8-1.2.8 1 .8-.2.8-.3.8.8.8-1.1.8.8.8 1.7.8.9.8 2 .8 2.6.8 2.1.8 1.5.8 2 .8-.2.8-.9.8-1.2.8.5.8.4.8 1.4.8-1.1.8.3.8-1.3.8 0 .8.7.8.1.8 1 .8.2.8.7.8.3.8-1.3.8-1 .8-1.1.8-3 .8-.1.8.8.8 1 .8-.7.8-3.2.8-1.8.8-2.2.8-1.2.8-.2.8-1.4.8 0 .8-1.4.8-1.4.8.1.8.8.8 1.4.8-.1.8-1 .8-1.6.8 1.4.8.7.8 1 .8.6.8.9.8-1.6.8-1.4.8.3.8.6.8.5.8-.1.8-.5.8-.9.8 1.1.8-.2.8-.3.8 1.5.8-.6.8-.3.8 0 .8 0 .8-1 .8-.3.8.6.8.9.8.6.8.9.8 1.4.8.2.8-.1.8 0 .8 0 .8-.8.8 2.4.8 2.8.8 2.4.8-.1.8-.9.8-1.5.8-1.5.8-2.6.8-.3.8-1.8.8-1.8.8-1 .8-.2.8.2.8 2 .8.7.8.6.8.2.8.5.8.3.8 1.7.8-1.4.8-.9.8-.9.8.3.8-.1.8 1.7.8 1.7.8 1.1.8 1.7.8.8.8-.5.8.2.8-.1.8-.8.8-2.1.8-.4.8.4.8-.2.8-.6.8.1.8-.7.8.3.8-.9.8-.1.8-1.3.8-.3.8-1 .8-.6.8.7.8-1.6.8 2 .8 0 .8 1.6.8 1.2.8 0 .8-1.3.8-1 .8-3.3.8-5.3.8-3.6.8-1.9.8 1.8.8 4.7.8 2.6.8 3.4.8-.3.8-.8.8-2.5.8 1 .8-.2.8-1.6.8-1.5.8-2.4.8.7.8-.5.8-.9.8-.2.8-.9.8.1.8-.5.8 0 .8.2.8-.5.8.5.8.5.8-.1.8.8.8-.1.8.8.8.9.8-.4.8.2.8.2.8.4.8-.1.8 0 .8-.1.8.4.8 1 .8 0 .8.6.8.9.8-.1.8 1.7.8-.3.8 1.5.8.5.8 1.1.8-.3.8-.1.8-.1.8-1.5.8-1 .8-1.4.8-.3.8.2.8-1.5.8 0 .8-1.3.8.5.8.5.8-.7.8-.2.8.6.8.8.8 1 .8.6.8 1.3.8 1.3.8 1.5.8-1.9.8-1.2.8 1.2.8 2.2.8 2.1.8-1.9.8.9.8-.2.8.1.8-.5.8-1.7.8 1.9.8.5.8 2.6.8-.6.8 1 .8-.7.8 0 .8-.4.8.9.8 1.1.8.5.8 2 .8.9.8 1.8.8 0 .8-.8.8-2.3.8-.5.8.2.8-1.4.8-.1.8-.3.8.3.8-.3.8-1 .8.1.8-1 .8-.3.8-1.7.8-.8.8-1.5.8.1.8-1.4.8 1.4.8.6.8.8.8.3.8-1.4.8.3.8 1.6.8 1.6.8 1.3.8-.5.8-.1.8-.7.8-1.5.8 1.9.8 3.4.8 1.2.8 1.7.8 1.9.8-2.2.8-1.4.8-4.6.8-2.9.8-3.2.8.3.8.9.8.6.8 1.7.8.5.8-.7.8-2.7.8 1 .8.3.8-2.1.8-2.9.8-2.8.8-.1.8-1.4.8 4 .8 3.6.8 4.4.8 1.6.8 1.9.8-2.5.8-1.2.8.1.8-.2.8-2.2.8-2.7.8-1.9.8-.2.8-.5.8.6.8 1.7.8-2.4.8-3 .8-2 .8-1.8.8.3.8 2.8.8 1.3.8 2 .8 1 .8-1.5.8-2.6.8-1.6.8-1.5.8 0 .8.2.8.4.8.1.8.9.8-1.1.8 1.2.8-.5.8 0 .8-4.6.8-2.8.8-1.8.8-2.7.8-.1.8 2 .8 1.3.8.4.8.9.8 2.6.8 3.6.8 2.5.8.8.8.7.8 0 .8-.9.8.4.8-1.3.8 1.4.8 0 .8-2.5.8-1.9.8-1.9.8-2.2.8-2.6.8-2.3.8-2 .8-2.2.8-.5.8 1.6.8-.6.8.4.8.4.8-.5.8-.5.8-1.4.8-.9.8.6.8-1.2.8.4.8.8.8.9.8-.1.8.1.8-1.4.8 1.1.8-1.5.8-.3.8.2.8-.5.8.6.8 1.4.8.9.8-.9.8 0 .8-.1.8-1.4.8-1 .8-1.3.8.3.8-1.1.8.4.8-1.1.8-1.7.8-2.3.8-3.4.8 2.8.8 2.2.8 2.2.8.7.8 2 .8.6.8 1.1.8-.6.8-1.2.8-2.4.8-2.9.8-2.1.8-.1.8-1.1.8-.1.8.4.8.4.8 1.4.8 1.2.8-.1.8.2.8.3.8.4.8-.3.8-1.1.8-.3.8 1.2.8.4.8 1.1.8.3.8.1.8-.2.8.6.8-.9.8.1.8.3.8-.4.8-.2.8-.4.8-.4.8.4.8 1.7.8.4.8 2 .8.7.8 1.1.8-.3.8 0 .8.5.8.2.8.2.8-.1.8-1.9.8-.5.8-.9.8-.8.8-.5.8-.9.8.1.8-.7.8-.7.8-1.9.8-.8.8-.6.8-.3.8-.3.8 1.2.8 2.8.8.1.8-1.1.8-.1.8 2.4.8 3.2.8 1.7.8 2.4.8.3" fill="none" stroke="#ff0000" stroke-width="1.5" stroke-linejoin="round" />
<path d="M72.1 510.9l.8-.1.8-.2.8.2.8-.2.8 1 .8 0 .8.1.8-1.4.8-.6.8-.8.8-.3.8.1.8-.3.8 0 .8.6.8-.2.8 1.8.8 1.9.8 1.8.8-1.5.8-2.4.8-1.5.8-2.3.8-.7.8.6.8.4.8 1.9.8 1.9.8 1.6.8 1.6.8 1.2.8-.4.8-.2.8-1.7.8-1.2.8-1.5.8-.5.8-.7.8-.1.8 1.1.8.7.8.5.8.2.8.4.8-2 .8-1.6.8-.9.8-.8.8-1.1.8-.6.8.7.8-1.2.8.5.8-.6.8.5.8.6.8-1.6.8-.8.8-1.4.8-.7.8-1.3.8-.5.8-.9.8-.9.8-.6.8-.6.8 1 .8.4.8.8.8-.1.8-.2.8.3.8-.7.8-1.4.8.2.8 2.2.8-1.2.8-2.7.8-2.2.8-.8.8-1.5.8.2.8-.2.8 1.1.8-.2.8.2.8-.7.8 0 .8.4.8-.3.8.4.8-.6.8-.4.8.3.8 1.9.8 1 .8 1.8.8 2.7.8.9.8 1.6.8 1.8.8-.7.8-1.4.8.1.8 1.7.8.3.8 0 .8-.5.8 0 .8.2.8-.8.8 0 .8.6.8.6.8.4.8.7.8-.3.8.6.8-2.1.8-3.7.8-.8.8 2.2.8.7.8-2 .8-.7.8-1.9.8-1.6.8-1 .8-1 .8-1.5.8.3.8-.4.8-1.1.8-.9.8 1.3.8.9.8-1.1.8-.1.8-.6.8-.3.8 1.2.8 1 .8 1 .8.8.8.5.8-1.1.8-.2.8.4.8 1.3.8 1.3.8-1.1.8.3.8-1.2.8-.3.8.9.8.6.8.8.8.5.8.3.8-.2.8 1 .8-.3.8.1.8.5.8.9.8 0 .8.4.8.3.8.6.8 0 .8.4.8.3.8 1.1.8 1.5.8.4.8 1.5.8.7.8-1 .8-.7.8-2.1.8-1.7.8-1.9.8-2 .8-1.7.8-.6.8-1.1.8 1 .8 2 .8.9.8.3.8.9.8-.3.8.5.8.5.8-.6.8-2.2.8-.3.8-.1.8.6.8 1.8.8 1.2.8.6.8 2.1.8.1.8.3.8-.9.8-1.2.8-1.3.8-.9.8-.6.8-.6.8-.1.8-.2.8-.3.8.4.8-1.4.8-.9.8-1.1.8-1.3.8-1.2.8-.6.8-1.1.8-.5.8-.1.8.7.8 1.1.8 1.9.8.1.8-.2.8-1.7.8-2.8.8-2.8.8-2.7.8-1.8.8-1.6.8 1.7.8 2.9.8 3.1.8 2.7.8.9.8-1.4.8-3.2.8.4.8-.3.8-1.3.8-2 .8-.7.8-.2.8.3.8.2.8-1.4.8-.7.8.1.8.4.8-.1.8.2.8 0 .8.4.8.2.8.3.8.6.8.4.8.4.8.3.8.2.8.3.8.6.8.5.8.5.8.7.8 0 .8.8.8-.2.8-.4.8 0 .8 1.6.8 1.3.8 1.2.8.1.8 1.1.8 1.3.8.3.8 0 .8-.5.8-.5.8-.6.8-.3.8-.1.8-.1.8-.9.8-.2.8.3.8 0 .8-.4.8 0 .8-.5.8.4.8.1.8.7.8 1.7.8.9.8 1.5.8 1.5.8 1.1.8-1 .8.1.8.8.8 1.5.8.6.8.7.8-.2.8.1.8-.3.8-1.4.8-.1.8.7.8 1.2.8.6.8-.2.8.7.8.1.8-.8.8.2.8-.9.8 1.6.8 1 .8 1.7.8 1.4.8.7.8-.5.8-1.3.8-1.2.8-.6.8-.6.8-.4.8-.1.8.4.8.3.8-.2.8-.6.8-1.2.8-1.1.8-1 .8-1.5.8-2.5.8-1.9.8-1.1.8 0 .8.3.8.8.8 1.4.8-.6.8-.6.8.5.8 1.2.8 2.5.8.5.8-.6.8-1.3.8-1.3.8-1.2.8 1.5.8 2.3.8 1.8.8.8.8 1.6.8-2.7.8-2.3.8-3.6.8-3.4.8-1.3.8.5.8 1.3.8 1.6.8 1.2.8-.7.8-1.3.8-2.2.8 0 .8 0 .8-1.8.8-1.5.8-2.1.8-.5.8-.6.8 3.3.8 5 .8 2.7.8 1.5.8 2.9.8-1.3.8-1.3.8-1.4.8-1.3.8-1.8.8-2 .8-2.2.8-1 .8-.5.8.8.8.8.8-.6.8-1.9.8-.9.8-.6.8-.2.8 1.7.8 2.3.8 1.1.8.3.8-1.9.8-2.5.8-.7.8-.4.8-.1.8.8.8 1.1.8-.4.8-.2.8.2.8.5.8.3.8-.8.8-2.3.8-3.1.8-1.8.8-1.8.8 1.1.8 1.7.8 1.2.8.6.8.6.8 3.4.8 3 .8 3.4.8 1.1.8 1.5.8-.3.8.4.8.1.8-.1.8-.4.8-.5.8-.5.8-1.7.8-1.3.8-1 .8-2.8.8-1.6.8-2.4.8-1.8.8-.1.8.2.8.7.8-.8.8-1.6.8-.4.8-.3.8-1 .8-.7.8.3.8-1.3.8 0 .8-.2.8.3.8-1.3.8.5.8-.6.8-.9.8-.7.8-.2.8-.3.8-.4.8.1.8.3.8.8.8.6.8.7.8-.7.8-1 .8-1.1.8-1 .8-1.8.8-.1.8-1.4.8-1.1.8-1.2.8-2.7.8-3.2.8 1.9.8 2.9.8 1.4.8 2 .8 1.4.8.2.8.4.8-1 .8-1.4.8-1.5.8-2.7.8-1.8.8-1.4.8-.1.8.7.8-.5.8 1.4.8.2.8 1.3.8.1.8.6.8-.3.8.3.8 0 .8-.7.8 0 .8-.1.8 1.3.8 0 .8.2.8 1.1.8-.3.8-.2.8-.3.8-.4.8-.5.8 0 .8.2.8-.6.8.1.8.5.8 1.5.8 1.3.8 1.6.8.6.8.9.8-.7.8.4.8 0 .8.4.8.7.8-1.5.8-.4.8-1.3.8-1.1.8 0 .8-.4.8-.3.8-1 .8-.5.8-1.4.8-.5.8-1.2.8-1.3.8 0 .8.5.8 1.4.8 2.1.8 0 .8-1.9.8 1.2.8 3 .8 3.2.8 2.4.8 2.4.8 1.3" fill="none" stroke="#202020" stroke-width="0.85" stroke-linejoin="round" />
<line x1="104" y1="450.9" x2="104" y2="518.2" stroke="#ff4848" stroke-width="1.5" stroke-dasharray="10 3.5" />
<line x1="259.7" y1="451.9" x2="259.7" y2="518.2" stroke="#ff00ff" stroke-width="1.45" stroke-dasharray="1.5 4.3" />
<line x1="307.3" y1="450.4" x2="307.3" y2="518.2" stroke="#ff1010" stroke-width="1.0" stroke-dasharray="10 4" />
<line x1="377.4" y1="453.4" x2="377.4" y2="518.2" stroke="#0000ff" stroke-width="1.15" stroke-dasharray="1.2 3.1" />
<line x1="408.8" y1="450.4" x2="408.8" y2="518.2" stroke="#30b830" stroke-width="1.4" stroke-dasharray="9.5 4" />
</g>
<line x1="77" y1="457" x2="94.9" y2="457" stroke="#ff7070" stroke-width="1.3" />
<text x="95.8" y="460.6" font-size="9.1" fill="#ff1010" stroke="#ff1010" stroke-width="0.15" >Ne</text>
<line x1="77" y1="470.7" x2="94.9" y2="470.7" stroke="#707070" stroke-width="1.3" />
<text x="95.8" y="474.3" font-size="9.1" stroke="#000" stroke-width="0.15" >Ni</text>
<path d="M161.6 449.9v10.5M161.6 518.2v-10.5M275.6 449.9v10.5M275.6 518.2v-10.5M389.5 449.9v10.5M389.5 518.2v-10.5M503.5 449.9v10.5M503.5 518.2v-10.5M76.1 449.9v4M76.1 518.2v-4M104.6 449.9v4M104.6 518.2v-4M133.1 449.9v4M133.1 518.2v-4M190.1 449.9v4M190.1 518.2v-4M218.6 449.9v4M218.6 518.2v-4M247.1 449.9v4M247.1 518.2v-4M304 449.9v4M304 518.2v-4M332.5 449.9v4M332.5 518.2v-4M361 449.9v4M361 518.2v-4M418 449.9v4M418 518.2v-4M446.5 449.9v4M446.5 518.2v-4M475 449.9v4M475 518.2v-4" stroke="#000" stroke-width="0.9" fill="none"/>
<path d="M71.5 451h2.6M525.4 451h-2.6M71.5 453.9h2.6M525.4 453.9h-2.6M71.5 456.7h5.5M525.4 456.7h-5.5M71.5 459.5h2.6M525.4 459.5h-2.6M71.5 462.4h2.6M525.4 462.4h-2.6M71.5 465.2h2.6M525.4 465.2h-2.6M71.5 468.1h2.6M525.4 468.1h-2.6M71.5 470.9h5.5M525.4 470.9h-5.5M71.5 473.7h2.6M525.4 473.7h-2.6M71.5 476.6h2.6M525.4 476.6h-2.6M71.5 479.4h2.6M525.4 479.4h-2.6M71.5 482.3h2.6M525.4 482.3h-2.6M71.5 485.1h5.5M525.4 485.1h-5.5M71.5 487.9h2.6M525.4 487.9h-2.6M71.5 490.8h2.6M525.4 490.8h-2.6M71.5 493.6h2.6M525.4 493.6h-2.6M71.5 496.5h2.6M525.4 496.5h-2.6M71.5 499.3h5.5M525.4 499.3h-5.5M71.5 502.1h2.6M525.4 502.1h-2.6M71.5 505h2.6M525.4 505h-2.6M71.5 507.8h2.6M525.4 507.8h-2.6M71.5 510.7h2.6M525.4 510.7h-2.6M71.5 513.5h5.5M525.4 513.5h-5.5M71.5 516.3h2.6M525.4 516.3h-2.6" stroke="#000" stroke-width="0.9" fill="none"/>
<rect x="71.5" y="449.9" width="453.9" height="68.3" fill="none" stroke="#000" stroke-width="1.1"/>
<text x="69.2" y="459.9" font-size="11" text-anchor="end" stroke="#000" >45</text>
<text x="69.2" y="474.6" font-size="11" text-anchor="end" stroke="#000" >40</text>
<text x="69.2" y="488.8" font-size="11" text-anchor="end" stroke="#000" >35</text>
<text x="69.2" y="502.9" font-size="11" text-anchor="end" stroke="#000" >30</text>
<text x="69.2" y="517" font-size="11" text-anchor="end" stroke="#000" >25</text>
<text x="44.8" y="485" font-size="11" text-anchor="middle" transform="rotate(-90 44.8 485)" stroke="#000" >N [cm<tspan font-size="8.4" dy="-4.2">-3</tspan><tspan dy="4.2">]</tspan></text>
<g clip-path="url(#c6)">
<path d="M89.8 552.5l57-3.1 56.8 11.8 57-24.2 56.9 24.2 57-42.6 57 26" fill="none" stroke="#ff0000" stroke-width="1.2" stroke-linejoin="round" />
<circle cx="89.8" cy="552.5" r="2.1" fill="#ff0000"/>
<circle cx="146.8" cy="549.4" r="2.1" fill="#ff0000"/>
<circle cx="203.6" cy="561.2" r="2.1" fill="#ff0000"/>
<circle cx="260.6" cy="537" r="2.1" fill="#ff0000"/>
<circle cx="317.5" cy="561.2" r="2.1" fill="#ff0000"/>
<circle cx="374.5" cy="518.6" r="2.1" fill="#ff0000"/>
<circle cx="431.5" cy="544.6" r="2.1" fill="#ff0000"/>
<circle cx="89.8" cy="552.5" r="2.5" fill="#ff0000"/>
<line x1="89.8" y1="586.3" x2="431.5" y2="586.3" stroke="#2020ff" stroke-width="0.9" />
<circle cx="89.8" cy="586.5" r="2.0" fill="#0000ff"/>
<circle cx="146.8" cy="586.5" r="2.0" fill="#0000ff"/>
<circle cx="203.6" cy="586.5" r="2.0" fill="#0000ff"/>
<circle cx="260.6" cy="586.5" r="2.0" fill="#0000ff"/>
<circle cx="317.5" cy="586.5" r="2.0" fill="#0000ff"/>
<circle cx="374.5" cy="586.5" r="2.0" fill="#0000ff"/>
<circle cx="431.5" cy="586.5" r="2.0" fill="#0000ff"/>
<line x1="104" y1="519.2" x2="104" y2="586.5" stroke="#ff4848" stroke-width="1.5" stroke-dasharray="10 3.5" />
<line x1="259.7" y1="520.2" x2="259.7" y2="586.5" stroke="#ff00ff" stroke-width="1.45" stroke-dasharray="1.5 4.3" />
<line x1="307.3" y1="518.7" x2="307.3" y2="586.5" stroke="#ff1010" stroke-width="1.0" stroke-dasharray="10 4" />
<line x1="377.4" y1="521.7" x2="377.4" y2="586.5" stroke="#0000ff" stroke-width="1.15" stroke-dasharray="1.2 3.1" />
<line x1="408.8" y1="518.7" x2="408.8" y2="586.5" stroke="#30b830" stroke-width="1.4" stroke-dasharray="9.5 4" />
</g>
<line x1="77" y1="523.2" x2="94.9" y2="523.2" stroke="#22ee22" stroke-width="1.0" />
<circle cx="86.2" cy="523.2" r="2.6" fill="#22ee22"/>
<text x="96.1" y="526.5" font-size="9.2" fill="#22ee22" stroke="#22ee22" stroke-width="0.15" >N&#160;&#160;He+</text>
<line x1="77" y1="532.5" x2="94.9" y2="532.5" stroke="#ff1010" stroke-width="1.0" />
<circle cx="86.2" cy="532.5" r="2.6" fill="#ff1010"/>
<text x="96.1" y="535.8" font-size="9.2" fill="#ff1010" stroke="#ff1010" stroke-width="0.15" >N&#160;&#160;He++</text>
<line x1="77" y1="541.4" x2="94.9" y2="541.4" stroke="#1010ff" stroke-width="1.0" />
<circle cx="86.2" cy="541.4" r="2.6" fill="#1010ff"/>
<text x="96.1" y="544.7" font-size="9.2" fill="#1010ff" stroke="#1010ff" stroke-width="0.15" >N&#160;&#160;O+</text>
<path d="M161.6 518.2v10.5M161.6 586.5v-10.5M275.6 518.2v10.5M275.6 586.5v-10.5M389.5 518.2v10.5M389.5 586.5v-10.5M503.5 518.2v10.5M503.5 586.5v-10.5M76.1 518.2v4M76.1 586.5v-4M104.6 518.2v4M104.6 586.5v-4M133.1 518.2v4M133.1 586.5v-4M190.1 518.2v4M190.1 586.5v-4M218.6 518.2v4M218.6 586.5v-4M247.1 518.2v4M247.1 586.5v-4M304 518.2v4M304 586.5v-4M332.5 518.2v4M332.5 586.5v-4M361 518.2v4M361 586.5v-4M418 518.2v4M418 586.5v-4M446.5 518.2v4M446.5 586.5v-4M475 518.2v4M475 586.5v-4" stroke="#000" stroke-width="0.9" fill="none"/>
<path d="M71.5 522.6h2.6M525.4 522.6h-2.6M71.5 526.6h5.5M525.4 526.6h-5.5M71.5 530.6h2.6M525.4 530.6h-2.6M71.5 534.6h2.6M525.4 534.6h-2.6M71.5 538.5h2.6M525.4 538.5h-2.6M71.5 542.5h2.6M525.4 542.5h-2.6M71.5 546.5h5.5M525.4 546.5h-5.5M71.5 550.5h2.6M525.4 550.5h-2.6M71.5 554.5h2.6M525.4 554.5h-2.6M71.5 558.4h2.6M525.4 558.4h-2.6M71.5 562.4h2.6M525.4 562.4h-2.6M71.5 566.4h5.5M525.4 566.4h-5.5M71.5 570.4h2.6M525.4 570.4h-2.6M71.5 574.4h2.6M525.4 574.4h-2.6M71.5 578.3h2.6M525.4 578.3h-2.6M71.5 582.3h2.6M525.4 582.3h-2.6" stroke="#000" stroke-width="0.9" fill="none"/>
<rect x="71.5" y="518.2" width="453.9" height="68.3" fill="none" stroke="#000" stroke-width="1.1"/>
<text x="527.4" y="530.1" font-size="11" stroke="#000" >3</text>
<text x="527.4" y="550.2" font-size="11" stroke="#000" >2</text>
<text x="527.4" y="570" font-size="11" stroke="#000" >1</text>
<text x="554.8" y="553" font-size="11" text-anchor="middle" transform="rotate(-90 554.8 553)" stroke="#000" >N<tspan font-size="8.6" dy="3.6">i</tspan><tspan dy="-3.6"> [cm</tspan><tspan font-size="8.4" dy="-4.2">-3</tspan><tspan dy="4.2">]</tspan></text>
<g clip-path="url(#c7)">
<path d="M72.1 594.8l.8-.1.8-.4.8-1.3.8.3.8-.7.8.3.8.6.8.8.8.3.8.7.8.2.8-.5.8.9.8-2.2.8.4.8-.4.8-.7.8-.3.8-.5.8-.1.8-.5.8.1.8-.5.8-.5.8-1 .8.3.8-1.1.8.2.8-1.5.8.1.8.4.8 0 .8-.1.8-.1.8.1.8-1.3.8.3.8.1.8.6.8 1 .8.8.8.3.8 0 .8.9.8-.7.8.2.8.1.8-.5.8 0 .8.3.8-.6.8.7.8.3.8-.3.8 0 .8-.4.8-.4.8 1.2.8-.4.8.5.8-.8.8.8.8-.3.8 1.3.8.4.8-.7.8-.6.8.7.8-.1.8.1.8-.7.8-.3.8.5.8-.5.8 1 .8.2.8.4.8.4.8 0 .8-.8.8 1.2.8-.6.8.2.8-.6.8-.1.8-1.2.8.6.8-.9.8 1.1.8-.2.8.2.8.1.8-.4.8-.8.8.2.8-.8.8-.5.8.1.8-1.9.8-.2.8 0 .8 1.4.8.6.8.4.8.4.8.8.8.2.8-1.2.8.7.8-1.2.8-.2.8.3.8-.4.8.2.8.8.8.3.8.1.8.1.8.3.8 1.2.8 1.2.8 1.1.8 1.4.8 1.1.8.4.8.5.8 1 .8 1.2.8-.4.8.7.8.2.8-.2.8.8.8-1.1.8 1 .8-.4.8-.7.8 1.3.8-.5.8.8.8.9.8-.9.8 1.2.8-1 .8 1.2.8.6.8.4.8-.9.8.9.8-.9.8-1.1.8.5.8-.8.8-.8.8.7.8-.1.8-.2.8-.3.8-.3.8-.2.8.2.8-.4.8-.8.8-.2.8-.1.8-.2.8.8.8-.9.8 1 .8-.5.8.1.8 1.3.8.2.8-.6.8-.8.8-1 .8 1 .8.3.8.8.8-.1.8.2.8.7.8.5.8.8.8.9.8-.4.8-.1.8-.8.8-.1.8-.3.8 0 .8-.7.8.3.8 1.5.8.3.8.5.8-.3.8-.1.8-.8.8.2.8.2.8.4.8-.3.8.7.8 0 .8-.1.8 1.2.8-.1.8-.2.8 0 .8.9.8 0 .8.5.8.5.8-1.3.8.3.8-.6.8-.1.8.5.8-.3.8.4.8.3.8.2.8-.4.8.3.8.2.8-1.1.8.3.8-.3.8-.3.8 1.7.8.5.8.1.8 0 .8.6.8-.4.8-.5.8.2.8-.9.8 1.4.8.1.8-.2.8.3.8-.5.8-.1.8-.5.8-.2.8-1.2.8.1.8-.9.8-.5.8-1.2.8-1 .8 1 .8-1.2.8-.1.8-.6.8-.1.8-1 .8-1 .8-.7.8-.4.8-.8.8-1.1.8-.7.8.6.8-.9.8-.5.8-.9.8-.4.8-.9.8 0 .8-.1.8-.1.8-.8.8.9.8-.3.8.2.8-.7.8 2 .8-.2.8.3.8.3.8.1.8-.2.8.5.8.3.8.2.8.7.8-.1.8.7.8.3.8 1.1.8 0 .8 1.3.8.9.8.4.8 1.2.8.1.8.1.8.8.8.4.8.9.8-.3.8 1.5.8-.1.8 1.3.8-.7.8 1.2.8.3.8-.2.8.3.8.2.8 0 .8-1.1.8 0 .8-.2.8.7.8.8.8.9.8-.5.8.7.8.6.8.6.8.6.8-.4.8-1.6.8-.3.8-.4.8-.2.8 0 .8.6.8.8.8-.1.8-.6.8-.4.8-.9.8-.5.8-.2.8-.6.8.6.8-.9.8-.9.8-.8.8-.9.8 0 .8.3.8 2.1.8-.6.8-.4.8-.2.8 1 .8-.7.8.1.8.2.8 1 .8-.3.8.6.8.5.8.8.8 1 .8.7.8-.8.8-.5.8-.7.8 0 .8.3.8 0 .8.9.8-1.1.8.3.8-1.6.8.5.8-.7.8-.5.8.2.8-.2.8-.2.8-.1.8 1 .8-.9.8-.7.8 0 .8-1.6.8.1.8-1.6.8-1 .8 1.4.8-.1.8.6.8 1 .8.3.8 1.1.8.9.8.6.8.5.8.5.8-.5.8-.3.8.8.8-2 .8-1.2.8-.6.8-.6.8-1.6.8 1.1.8-.9.8.5.8.7.8-.8.8 1.5.8.8.8.4.8-.7.8.1.8-.3.8-.9.8.4.8.4.8.6.8-.7.8-.1.8-.3.8 0 .8.2.8-1.1.8.8.8.1.8.3.8-.6.8-.7.8-.7.8-1.1.8-1.1.8-1.5.8 0 .8-1.3.8 1.3.8-.5.8-.1.8.7.8.7.8.8.8.4.8 1.5.8.3.8 2.2.8 2.1.8.4.8 1.2.8.7.8.7.8 1.1.8.3.8.6.8-1 .8-.6.8-.4.8-.2.8-.6.8.7.8-.7.8 0 .8.1.8-.3.8-.4.8.8.8-.5.8.3.8-.3.8-.5.8.5.8 0 .8-.2.8.3.8-.8.8-.1.8-.4.8 1.5.8 1.1.8 1.2.8 1.9.8 1.2.8 1.5.8.4.8 1.8.8 1 .8.2.8.5.8 0 .8-.3.8-1.4.8-.4.8-.7.8.8.8.3.8.1.8.4.8-.1.8 1.1.8.2.8-.5.8.6.8-.1.8.7.8-.1.8.2.8.7.8-1.1.8.5.8-.5.8-.2.8-.4.8.1.8-1.8.8.4.8.6.8.1.8 0 .8-1 .8 1.2.8-.6.8.5.8-.8.8-.1.8.3.8-.2.8.4.8-.5.8.7.8.1.8-.3.8-1.8.8-.7.8.8.8.4.8 0 .8.3.8-.9.8 1.1.8-.7.8.5.8-.1.8-.1.8.6.8 0 .8.7.8.5.8.4.8.7.8-.1.8.3.8 0 .8-.1.8.3.8 0 .8.4.8-.5.8-.8.8 0 .8-1.2.8-.1.8-1.5.8.1.8.2" fill="none" stroke="#303030" stroke-width="0.8" stroke-linejoin="round" />
<path d="M72.1 634.7l.8 3 .8-.5.8.3.8-.7.8 1.4.8-2 .8 1.3.8.7.8 1.6.8-.9.8 0 .8-1.4.8-1.3.8 1.3.8-.5.8 1.1.8-1.5.8-2.4.8-1.9.8 1.9.8-.4.8 1.5.8-.4.8 1.3.8-1.8.8.3.8-1.6.8.8.8-.2.8.5.8 1.8.8.4.8-.2.8 1.2.8 1.9.8-1.7.8-1.9.8 1.9.8-.4.8-1.2.8-.5.8-.2.8 1.6.8 1.5.8.4.8.3.8-.9.8-.3.8 0 .8.4.8 0 .8.8.8.7.8.6.8-1.6.8-1.6.8.4.8-.2.8.7.8-1.7.8 1.9.8.7.8-.8.8.8.8-1.1.8-.1.8-1.3.8-.9.8 2 .8.9.8.3.8.3.8 1.1.8 1.3.8.8.8-1.3.8.1.8-.6.8-1.5.8 2.3.8-.4.8-.2.8-.9.8 0 .8-.2.8.5.8-1.7.8 2.1.8-.6.8-1.9.8.9.8-2.2.8-2.1.8 0 .8-3 .8-.6.8-3.8.8 1 .8 0 .8-3.2.8.4.8-.7.8-.2.8 3.3.8.9.8 1.3.8.8.8-.2.8 0 .8.1.8-.3.8-.2.8 1.9.8.9.8 0 .8.8.8 1.8.8-1.8.8 1.3.8 3.4.8-.1.8 1.7.8 1.3.8.9.8-.7.8-.6.8-.9.8.9.8 2.1.8-.2.8.4.8 2.6.8-1.5.8-.1.8-.2.8-1 .8.7.8.7.8-1.1.8 1.8.8-1.9.8-1.4.8-.7.8-.7.8.4.8 2.4.8-1.2.8 2.2.8.7.8-1.2.8 1.4.8-.1.8-1.3.8 1.3.8-.5.8-.9.8-1.4.8-.7.8.8.8 1.2.8 2.1.8-.6.8-.6.8-.7.8.4.8.7.8 1 .8.2.8 0 .8.4.8-1.1.8 3.3.8-.7.8-.5.8 0 .8-.9.8-1.5.8 2 .8-.4.8.2.8 2.7.8.3.8.4.8-.7.8.7.8.3.8-1.6.8.4.8-2 .8.1.8 0 .8 0 .8-.3.8-1 .8-.9.8 1.5.8-.9.8 1.1.8.1.8 0 .8-2.3.8-.2.8-.7.8 1.9.8-.1.8 1.3.8-.6.8.3.8.6.8-.1.8.7.8-.2.8.6.8.9.8-.5.8 0 .8 0 .8.3.8.9.8 1.3.8 0 .8-1.3.8 2.3.8-1.3.8 1.1.8-1.8.8.6.8-1.6.8-1.5.8 1.3.8-.9.8.8.8.5.8 0 .8 0 .8-1.6.8 0 .8-1.9.8 1.1.8-1 .8 1.5.8-.4.8-.5.8.7.8 2.2.8-1.1.8.2.8-.8.8-.9.8.8.8-1.5.8.6.8 1 .8-3.6.8 2.1.8.6.8-2.2.8.7.8.4.8-2.1.8.5.8-.1.8 1.6.8-.4.8-1 .8-1.3.8 0 .8-.4.8.2.8-1.1.8 1.7.8-2.6.8.3.8-.9.8 1.6.8-1.2.8 2.7.8.2.8-1.2.8-.2.8-1.4.8.6.8-.4.8-1.2.8.9.8.1.8.2.8.7.8.5.8.8.8-.1.8.3.8.9.8 1.2.8.9.8 1.7.8-.7.8-1.7.8.7.8-.2.8-2 .8.2.8.5.8-.4.8-.1.8 1.1.8-.2.8.6.8-.9.8.7.8 1.2.8 1.8.8 1 .8-.3.8.3.8 2.7.8 0 .8-.6.8-.2.8-2.1.8-.4.8-.8.8-.6.8.1.8-1.4.8.8.8 0 .8-.2.8-1.2.8.4.8-2.5.8 2.5.8-.6.8 0 .8-.1.8-.9.8-.6.8-.7.8 1 .8.2.8-.6.8-.3.8 1.9.8.8.8.2.8.1.8 1.4.8-.9.8 0 .8 1.7.8.5.8-1.1.8-1.4.8.5.8 1 .8-2.6.8 1.5.8-.2.8 1.4.8-.4.8 2.3.8-.2.8-1.3.8.1.8.1.8-.3.8.4.8-.6.8 1.1.8.5.8.4.8-2.9.8 0 .8-1.8.8-3.5.8-1 .8-.5.8-.6.8.2.8.3.8 2.5.8.8.8 1.5.8-.2.8.4.8.5.8.1.8-2.4.8 0 .8.5.8-1.2.8-.4.8-.6.8-.8.8.3.8 1.4.8.8.8.6.8.5.8-1.2.8-1.6.8.3.8-.4.8-1.6.8-1.6.8-.2.8-1.5.8.3.8-2.9.8 1.9.8 0 .8.7.8 1.1.8 0 .8 1.2.8-.4.8-.7.8-2.6.8.6.8-.6.8 0 .8-2.4.8-.5.8-.5.8.1.8-1.2.8.8.8-.2.8-.2.8-1.2.8-1.2.8-.3.8-.6.8-1.3.8.2.8.2.8-.8.8 2.2.8.4.8-.2.8-.1.8 2.6.8-.5.8-1.2.8-1.2.8 0 .8-2.1.8-.2.8-.3.8.4.8.1.8.3.8.1.8-1 .8 2.3.8.6.8 1.1.8 1.2.8-1.2.8-1.2.8 1.5.8 0 .8.7.8-1.8.8 1.1.8-1.1.8 0 .8.2.8 1.6.8-1.2.8-.2.8.1.8-.1.8.2.8-1.7.8 2 .8-.2.8.2.8 1.6.8.3.8 1.1.8 1.4.8-.4.8 2.8.8.3.8.7.8 1.9.8 1.1.8-.4.8-.5.8-.4.8-1.7.8.5.8-2.4.8-.9.8 1 .8-.1.8-1.9.8 1.8.8-.4.8.5.8-.3.8-1 .8-1.3.8.8.8.3.8-.5.8.7.8-.6.8.1.8-2.5.8.9.8-.6.8-.4.8-.1.8.6.8-.7.8-.3.8.3.8-.1.8-.5.8-.6.8.7.8-.5.8-.4.8.3.8-.7.8.7.8.6.8.5.8-1.4.8 1.6.8-1 .8-.7.8.7.8-.3.8.3.8-.1.8.6.8.4.8.6.8-.6.8-1.7.8.3.8 1.5.8-1.7.8.5.8.6.8.1.8-1.2.8.5.8-.8.8-.2.8-2.1.8 1.9.8-1 .8-1.4.8.2.8-.1.8-.4.8 1.9.8-1.5.8 1.9.8.6.8 1.2" fill="none" stroke="#ff2020" stroke-width="0.8" stroke-linejoin="round" />
<line x1="104" y1="587.5" x2="104" y2="654.8" stroke="#ff4848" stroke-width="1.5" stroke-dasharray="10 3.5" />
<line x1="259.7" y1="588.5" x2="259.7" y2="654.8" stroke="#ff00ff" stroke-width="1.45" stroke-dasharray="1.5 4.3" />
<line x1="307.3" y1="587" x2="307.3" y2="654.8" stroke="#ff1010" stroke-width="1.0" stroke-dasharray="10 4" />
<line x1="377.4" y1="590" x2="377.4" y2="654.8" stroke="#0000ff" stroke-width="1.15" stroke-dasharray="1.2 3.1" />
<line x1="408.8" y1="587" x2="408.8" y2="654.8" stroke="#30b830" stroke-width="1.4" stroke-dasharray="9.5 4" />
</g>
<line x1="77" y1="596.5" x2="94.9" y2="596.5" stroke="#ff2020" stroke-width="0.9" />
<text x="95.8" y="599.8" font-size="9.2" fill="#ff2020" stroke="#ff2020" stroke-width="0.15" >T<tspan font-size="6.8" dy="3.2" stroke-width="0.12">&#160;</tspan></text>
<line x1="77" y1="615.3" x2="94.9" y2="615.3" stroke="#808080" stroke-width="1.5" />
<text x="95.8" y="618.6" font-size="9.2" stroke="#000" stroke-width="0.15" >T<tspan font-size="6.8" dy="3.2" stroke-width="0.12">&#160;</tspan></text>
<path d="M161.6 586.5v10.5M161.6 654.8v-10.5M275.6 586.5v10.5M275.6 654.8v-10.5M389.5 586.5v10.5M389.5 654.8v-10.5M503.5 586.5v10.5M503.5 654.8v-10.5M76.1 586.5v4M76.1 654.8v-4M104.6 586.5v4M104.6 654.8v-4M133.1 586.5v4M133.1 654.8v-4M190.1 586.5v4M190.1 654.8v-4M218.6 586.5v4M218.6 654.8v-4M247.1 586.5v4M247.1 654.8v-4M304 586.5v4M304 654.8v-4M332.5 586.5v4M332.5 654.8v-4M361 586.5v4M361 654.8v-4M418 586.5v4M418 654.8v-4M446.5 586.5v4M446.5 654.8v-4M475 586.5v4M475 654.8v-4" stroke="#000" stroke-width="0.9" fill="none"/>
<path d="M71.5 605.6h5.5M525.4 605.6h-5.5M71.5 645.6h5.5M525.4 645.6h-5.5" stroke="#000" stroke-width="0.9" fill="none"/>
<rect x="71.5" y="586.5" width="453.9" height="68.3" fill="none" stroke="#000" stroke-width="1.1"/>
<text x="37.6" y="621" font-size="11" text-anchor="middle" transform="rotate(-90 37.6 621)" stroke="#000" >T<tspan font-size="8.6" dy="3.6">i</tspan><tspan dy="-3.6"> [eV]</tspan></text>
<g clip-path="url(#c8)">
<path d="M72.1 694.3l.8.3.8 0 .8-.6.8-.4.8-.3.8.8.8.1.8-.2.8-.3.8 0 .8.8.8-.8.8.3.8-.6.8.8.8-.8.8.6.8-.5.8-.6.8.2.8 0 .8 0 .8-.9.8-1.3.8.4.8.1.8 1.1.8.2.8 0 .8.6.8.1.8.4.8-.3.8.4.8-.8.8.1.8-.1.8-1 .8 1 .8-.3.8-.2.8.9.8-.6.8-.4.8-.5.8.1.8-1.2.8.4.8-.6.8-.6.8-.2.8.1.8.2.8-.3.8.3.8-.5.8-.2.8-.5.8-.4.8-.3.8-.2.8-.8.8-.3.8-.4.8.4.8-.1.8 0 .8-.3.8.5.8.2.8.5.8-.1.8-.4.8-.2.8.3.8-.8.8 0 .8-.4.8-.5.8-.7.8-.1.8-.3.8.2.8-.3.8-.1.8.2.8-.8.8.2.8.3.8-.8.8.3.8 0 .8-.1.8-.3.8.5.8.5.8.8.8-.1.8 1.2.8.2.8-.2.8.6.8 0 .8.1.8.3.8.2.8.4.8.3.8.5.8-.8.8-.3.8.5.8-.5.8.5.8.8.8 0 .8-.3.8.2.8-.7.8.1.8 0 .8.4.8 1 .8.1.8.1.8-.6.8-.2.8-.4.8.3.8-1.2.8.4.8.1.8-.5.8.7.8-.7.8.5.8.5.8-.4.8.6.8-.7.8-.1.8-.1.8 1.2.8.6.8.2.8.4.8.1.8.5.8-.2.8-.4.8 0 .8-.1.8.2.8.2.8.5.8-.8.8.1.8.5.8-.6.8.8.8-.2.8 0 .8.2.8.3.8-.7.8.3.8.5.8.2.8-.1.8.1.8.7.8 0 .8.7.8.3.8.1.8.4.8-.3.8 0 .8-.7.8.1.8-.3.8-1.3.8.5.8-.7.8-.8.8.8.8-.3.8.7.8-.2.8.4.8.1.8.3.8-.7.8-.1.8-.8.8.9.8.2.8.6.8-.1.8.6.8.4.8.2.8-.1.8 1 .8-.5.8-.4.8-.2.8-.1.8-.3.8 0 .8.1.8 0 .8-.1.8-.1.8-.3.8-.3.8 0 .8-.7.8-.6.8.4.8-.8.8-.3.8.6.8-.4.8.2.8.3.8 1.2.8-.5.8-1 .8.2.8-1.6.8-.4.8-.5.8-.4.8.1.8.5.8.8.8 1.1.8.7.8-.9.8-.5.8.1.8-.8.8-.2.8-.4.8-1 .8-.1.8-.5.8-.4.8-.3.8-.4.8 0 .8-1 .8-.2.8.3.8-1 .8.4.8.1.8-.5.8-.1.8.3.8-.4.8-.1.8-.6.8.1.8-.6.8.3.8-.4.8-.3.8.1.8.1.8-.4.8.2.8.4.8.1.8.2.8 1.1.8-.4.8 1.2.8.5.8-.1.8.9.8.3.8 0 .8-.5.8.1.8-.5.8.6.8.1.8-.3.8.2.8 1 .8-.3.8-.2.8.7.8.9.8.2.8.4.8.3.8.9.8.4.8.1.8.9.8 0 .8.3.8.6.8-.1.8.9.8.3.8.5.8.7.8 0 .8-.4.8-.4.8-.1.8.3.8.5.8.5.8.3.8 0 .8.2.8.2.8-.4.8.2.8-.4.8-.2.8.4.8.4.8.7.8-.3.8.1.8-.6.8-.5.8.2.8-.4.8-.6.8.6.8-.2.8-.7.8-.3.8-.5.8-.5.8.1.8-1 .8 0 .8-1 .8-.2.8-.1.8-.2.8.2.8 1 .8-1.1.8.2.8.6.8-.1.8.4.8-.6.8 1 .8.8.8-.4.8.4.8.2.8.6.8.7.8-.5.8-.3.8-.8.8-1.2.8-.5.8 0 .8-1 .8.2.8-.7.8.8.8-.2.8-.7.8-.7.8-.1.8-.3.8-.7.8.8.8-1.2.8-.4.8-.9.8-.7.8 1.6.8 1.5.8 1.5.8.3.8.3.8.3.8-.6.8-.3.8-.3.8-.4.8 0 .8-.4.8-.4.8-.8.8-.2.8-1 .8-1.1.8-.5.8 0 .8-.9.8.6.8.8.8.1.8-.3.8.2.8.2.8-.1.8-.4.8-.2.8-.8.8.5.8-.3.8.6.8-.5.8.1.8-.5.8-.4.8.4.8-1.2.8-.8.8-.4.8-.4.8-.3.8.6.8.4.8.6.8.2.8 1 .8.9.8-.6.8 0 .8.4.8-.2.8.3.8.6.8.3.8-.2.8.1.8.6.8-.6.8-.1.8-.4.8-.1.8 0 .8-1 .8-.3.8-.2.8.2.8.1.8.3.8-.1.8-.5.8.4.8-.6.8.3.8-.8.8 0 .8-.5.8.3.8-.3.8.3.8-.3.8-.3.8-.7.8.4.8 0 .8-.2.8-.7.8-.2.8.5.8.3.8.2.8-.1.8.4.8.4.8 0 .8.3.8.3.8 1.1.8.1.8-.2.8-.2.8-.3.8-.2.8.3.8.2.8-.1.8 0 .8.2.8.6.8-.7.8-.1.8.4.8-.6.8-.4.8-.1.8-.5.8-.3.8-.6.8.7.8-.6.8 0 .8-.4.8.1.8.7.8.1.8-.2.8-.1.8-.5.8.5.8-.1.8 0 .8.3.8.4.8-.4.8-.4.8.1.8-.6.8.2.8.5.8.1.8-.2.8-.7.8.6.8.2.8.3.8.4.8.2.8-.3.8.9.8.5.8-.3.8.8.8-1.6.8.8.8-.4.8-.9.8.3.8.1.8-.2.8.5.8.1.8-.7.8.1.8 0 .8-.1.8-.3.8.4.8.1.8.1.8.9.8-.4.8.2.8-.5.8.4.8.7.8 1 .8-.1.8 1.2.8-.1" fill="none" stroke="#22ee22" stroke-width="0.95" stroke-linejoin="round" />
<path d="M72.1 720.8l.8-.3.8 0 .8 0 .8.1.8-.1.8.2.8.1.8 0 .8 0 .8-.2.8-.4.8.4.8-.6.8.9.8-.6.8-.1.8.3.8 0 .8.2.8-.1.8.2.8-.8.8.5.8-.1.8-.1.8.1.8 0 .8 0 .8.1.8 0 .8-.1.8-.1.8.1.8-.5.8.5.8-.2.8-.1.8-.3.8.3.8-.5.8.2.8 0 .8.1.8.1.8-.1.8.1.8.3.8-.5.8-.2.8.1.8 0 .8 0 .8-.2.8 0 .8-.2.8-.1.8.1.8-.1.8.3.8-.5.8-.1.8.3.8-.5.8 0 .8.4.8-.3.8.1.8.4.8-.4.8.3.8-.1.8 0 .8-.2.8.2.8-.1.8-.1.8 0 .8-.1.8-.1.8-.1.8.6.8-.4.8-.7.8.2.8-.4.8.1.8 0 .8.3.8.2.8.3.8-.2.8.1.8.1.8-.2.8.2.8.2.8 0 .8.3.8-.1.8.1.8-.1.8.2.8.4.8-.1.8.2.8 0 .8.2.8-.3.8 0 .8-.2.8-.1.8.4.8 0 .8-.1.8-.4.8.2.8.1.8 0 .8-.2.8.2.8-.4.8.1.8-.1.8 0 .8-.3.8.1.8-.2.8-.3.8-.2.8-.3.8.6.8-.6.8.4.8-.4.8.2.8-.1.8.2.8-.4.8 0 .8.1.8-.5.8.3.8.3.8-.2.8.6.8-.5.8.2.8.2.8.1.8-.1.8 0 .8.1.8-.5.8.2.8.1.8.1.8-.2.8 0 .8.1.8-.3.8-.2.8.1.8 0 .8.1.8-.3.8.6.8.2.8-.1.8.1.8-.1.8.1.8.2.8 0 .8.5.8-.3.8-.1.8 0 .8.1.8.2.8-.3.8.2.8-.8.8.2.8-.1.8-.1.8-.3.8.3.8-.2.8.5.8-.3.8.1.8-.1.8.2.8.3.8-.3.8-.4.8.4.8.3.8-.1.8.2.8 0 .8.2.8.2.8-.5.8.3.8-.1.8.3.8-.6.8.1.8.1.8-.3.8.2.8-.6.8.3.8-.5.8-.1.8.3.8-.2.8.1.8 0 .8 0 .8-.1.8.2.8-.3.8.2.8 0 .8 0 .8.6.8.1.8-.4.8-.5.8-.1.8.1.8-.2.8-.4.8.4.8.3.8-.1.8 0 .8-.3.8.2.8-.8.8.5.8 0 .8-.2.8-.1.8-.3.8.2.8-.1.8-.4.8.3.8-.1.8.2.8.1.8-.2.8.3.8-.4.8 0 .8.3.8-.3.8.1.8.3.8-.5.8.2.8.3.8-.3.8.7.8-.2.8-.1.8-.1.8.3.8 0 .8-.3.8.6.8-.3.8-.1.8-.2.8.1.8.5.8 0 .8-.1.8-.2.8.1.8.4.8 0 .8-.2.8 0 .8-.4.8.1.8-.3.8-.1.8.3.8-.2.8.2.8.5.8-.4.8.5.8-.3.8-.4.8.4.8-.1.8.2.8-.1.8-.2.8.3.8.1.8 0 .8-.1.8.2.8.5.8-.7.8.1.8.3.8 0 .8.2.8.2.8-.2.8.1.8.7.8-.6.8.4.8 0 .8-.4.8-.2.8.9.8-.1.8.2.8.3.8-.5.8 0 .8 0 .8-.1.8.1.8-.1.8.2.8.1.8-.7.8-.1.8.2.8-.2.8-.4.8.2.8-.2.8.5.8-.6.8-.1.8.4.8 0 .8-.5.8.7.8-.1.8-.6.8.2.8.3.8-.4.8.3.8.2.8-.3.8.6.8-.1.8.3.8-.4.8.3.8.3.8.3.8-.2.8.1.8-.4.8-.2.8-.2.8-.8.8.5.8-.1.8-.1.8.1.8-.6.8.6.8-.3.8 0 .8-.1.8.2.8-.1.8-.2.8-.1.8.3.8-.4.8.6.8.1.8-.1.8.5.8.1.8-.2.8-.3.8-.5.8.1.8-.1.8.1.8-.4.8.2.8-.1.8-.4.8 0 .8-.2.8.2.8 0 .8-.1.8.1.8.3.8.2.8 0 .8-.4.8 0 .8 0 .8-.1.8-.3.8-.3.8.1.8.2.8-.3.8-.2.8-.1.8.4.8-.3.8-.3.8 0 .8 0 .8 0 .8-.8.8.5.8.1.8.4.8 0 .8.6.8-.4.8.4.8-.2.8.6.8.1.8.2.8-.2.8-.1.8.1.8-.5.8.4.8-.4.8-.2.8-.3.8.2.8-.3.8-.3.8-.2.8-.2.8-.1.8.2.8-.4.8 0 .8.1.8.2.8.2.8-.1.8.1.8.1.8-.1.8.6.8-.6.8.2.8.4.8-.1.8-.1.8 0 .8.2.8.1.8.1.8-.4.8-.1.8.1.8.2.8-.5.8-.1.8-.2.8-.4.8.1.8 0 .8 0 .8-.1.8-.2.8-.3.8 0 .8-.5.8.2.8.2.8-.1.8.2.8.2.8-.2.8.5.8-.2.8-.3.8 0 .8 0 .8 0 .8-.7.8.1.8 0 .8-.1.8 0 .8 0 .8 0 .8.2.8.2.8-.1.8.3.8.1.8-.4.8-.3.8.6.8.1.8-.2.8-.2.8 0 .8.3.8-.1.8.4.8-.2.8-.3.8.3.8-.2.8 0 .8.2.8-.1.8 0 .8.4.8-.2.8 0 .8 0 .8.3.8.2.8-.2.8-.1.8-.1.8-.1.8-.5.8.1.8.3.8-.1.8 0 .8-.3.8-.4.8.5.8-.3.8-.2.8-.2.8-.1.8-.2.8.1.8.4.8.6.8 0 .8-.2.8.2.8 0 .8.3.8 0 .8-.3.8 0" fill="none" stroke="#ff4040" stroke-width="0.9" stroke-linejoin="round" />
<path d="M72.1 699l.8-.6.8-.2.8 0 .8.1.8-.1.8-.4.8.1.8.4.8.8.8-.3.8.1.8-.2.8-.5.8.6.8.5.8-.6.8-.5.8.1.8-.6.8.1.8 1.3.8.8.8 1.3.8.5.8 0 .8.4.8-.2.8-1 .8-.4.8-.7.8-.3.8-1.1.8.3.8.3.8.7.8 1 .8.4.8.7.8.5.8-1.6.8-.2.8-.5.8.5.8-1.6.8.4.8.9.8 1.4.8.7.8-.3.8 0 .8.4.8 0 .8 1.4.8-.8.8-.3.8.3.8-.3.8.7.8.2.8.6.8-.1.8 1 .8.1.8.6.8-.3.8 0 .8.1.8.1.8-.7.8-.8.8.8.8.2.8.6.8.3.8.3.8 0 .8.3.8.5.8.6.8.9.8-.2.8.7.8.3.8-.6.8.1.8.2.8-.3.8.2.8-.4.8.4.8.2.8.5.8 0 .8-.2.8-.5.8-.3.8-1 .8-1.5.8-1.3.8-.6.8-1.4.8-.2.8.2.8.1.8.3.8.7.8-.1.8-.1.8.6.8.4.8-.3.8.3.8-.4.8-.1.8-1.3.8.3.8-.6.8-.3.8.3.8.6.8 1.1.8-.8.8-.2.8-1.1.8.6.8.8.8 1 .8.3.8 1.3.8.1.8.9.8-.8.8.5.8-.2.8-.1.8-1.1.8.4.8-.6.8-.1.8.4.8.1.8.2.8-.5.8-.7.8 0 .8-.3.8.1.8.1.8.1.8-.3.8.3.8-.6.8.2.8 0 .8-.1.8.3.8-.5.8.8.8-.6.8.4.8-.7.8.1.8-.1.8-.4.8.5.8-.6.8-1 .8-.6.8.3.8-1.2.8.6.8-.3.8-.6.8-.6.8.4.8-1.1.8-.2.8-.1.8.7.8 1 .8.3.8 1 .8.8.8.9.8-.5.8-.5.8-.1.8-.3.8.4.8-.5.8-.2.8.1.8-1.1.8 1.4.8-.1.8-.6.8-.6.8 0 .8-.5.8.4.8-.9.8-.5.8.1.8-.6.8.3.8.7.8 0 .8.6.8.5.8-.4.8.4.8.1.8.5.8.1.8-.5.8.2.8.6.8.6.8-.3.8 1.6.8-.5.8-.3.8-.2.8-.6.8.1.8-1.2.8-1.1.8.1.8-.5.8 1 .8.8.8 1 .8 2.5.8 1.5.8.1.8.7.8-2.1.8-1.1.8-1 .8-.1.8.4.8 1.2.8-.5.8 1.9.8.7.8 0 .8.9.8.7.8.7.8.8.8.4.8.1.8.8.8-.3.8.8.8.3.8.1.8-.4.8-.2.8.2.8.4.8-.1.8-.4.8.4.8-1.1.8.7.8-.3.8.4.8-.7.8 0 .8-.1.8.2.8-.1.8-.1.8 1.1.8-.4.8-1.5.8-.3.8-.8.8.1.8-.8.8-.6.8.6.8-.8.8.8.8-.4.8.5.8.3.8.6.8-.1.8-.8.8.3.8.3.8 0 .8-.2.8-.3.8-.1.8-.5.8-.4.8-1.3.8-.6.8-.5.8.2.8-1.4.8.3.8-.6.8-.9.8-.2.8-.9.8-.4.8-.1.8.2.8.6.8.1.8-.5.8.1.8-.5.8.4.8-.4.8.8.8-1.1.8.2.8-.5.8-.1.8-.6.8-.7.8.1.8-.4.8.1.8.2.8.8.8 0 .8.7.8-.6.8.7.8 0 .8-.1.8.3.8.3.8.2.8.4.8.5.8.3.8.8.8 1.6.8.2.8.6.8.9.8-.1.8-.2.8-.8.8.4.8-.5.8.7.8-1.8.8 0 .8-1.8.8-.5.8.2.8-.7.8 1.2.8.1.8-1.3.8-1.9.8-1.2.8-.2.8.2.8.6.8 2.4.8.6.8.7.8.2.8-.8.8-.2.8-.2.8 1.6.8.7.8.5.8-.1.8.8.8.4.8.2.8.8.8.5.8-.3.8-.3.8-.5.8-.7.8-1.8.8-.9.8.5.8-.2.8.8.8.7.8.5.8-.3.8.1.8-.2.8.6.8-.2.8 0 .8 1.5.8.7.8.8.8.4.8.7.8-.3.8 0 .8-.5.8-.1.8 1.2.8-.4.8.5.8.7.8.1.8.5.8.9.8-.7.8.7.8-1.3.8 1 .8-.5.8.3.8.7.8-.3.8.6.8.3.8.5.8-.1.8-.3.8.8.8-1 .8-.5.8-1.2.8-1 .8 1 .8.2.8 0 .8-.6.8-.1.8-.1.8-.2.8-.1.8.6.8.2.8.4.8 1.2.8.6.8.9.8.5.8 1.4.8-.7.8 0 .8 0 .8-.3.8.1.8.4.8 0 .8.3.8-.4.8.2.8.4.8-.1.8-.4.8.3.8-.1.8-.4.8-.6.8 1.5.8.1.8-.3.8.4.8.3.8.3.8.1.8.2.8-1 .8 0 .8-.6.8-1.4.8-.9.8-.9.8.6.8-1.4.8-.4.8 1.4.8.2.8.2.8-.4.8-.3.8-.8.8-.5.8 0 .8-.9.8-.5.8.2.8-.5.8.3.8.8.8 1 .8.4.8.5.8.5.8 0 .8.9.8-.9.8-.3.8-.3.8.4.8-.3.8.6.8-.1.8 0 .8.4.8-.1.8.7.8-1 .8.4.8.3.8.2.8-1.1.8.4.8 0 .8 0 .8.6.8-.3.8.1.8 1.1.8 0 .8-1 .8.6.8.1.8-.7.8-.6.8.5.8-.2.8.1.8-.3.8.3.8.1.8.4.8.6.8.5.8.4.8-.4.8-.1.8 0 .8 0 .8.7.8.4.8.2.8.1.8-.5.8-.4.8-.4.8.2.8-.2.8-.2.8.7.8-.5.8-.1.8-.3.8-.3.8.1.8-.8" fill="none" stroke="#303030" stroke-width="0.85" stroke-linejoin="round" />
<path d="M72.1 663.8l.8-1.1.8 0 .8-.6.8.2.8-.2.8-.1.8-1.1.8.8.8.4.8.2.8.1.8-.6.8.9.8-.3.8-.8.8.1.8-.3.8.8.8-.9.8.6.8.1.8.6.8.3.8-.7.8.5.8-.6.8-.3.8.4.8.2.8.1.8-.1.8.2.8-.5.8.5.8.5.8-.5.8 0 .8-.2.8-.1.8-.5.8.4.8.5.8-.1.8-.2.8.1.8-.6.8.4.8-.4.8 0 .8-.5.8.6.8.1.8.7.8-.3.8-.2.8-.3.8-.1.8-.8.8.1.8-.3.8-.1.8-.4.8.5.8-.2.8 0 .8.3.8-.3.8.2.8 0 .8.3.8-.4.8 1.5.8.1.8 0 .8-.7.8-.2.8-.1.8 1.1.8-.3.8.3.8-.4.8.1.8 0 .8.2.8-.2.8-.4.8.1.8.1.8-.8.8 0 .8.7.8-.1.8.2.8-1 .8.2.8-.3.8-.6.8-.3.8-.4.8-.2.8 0 .8.3.8-.3.8.2.8.7.8.1.8.5.8.9.8-.4.8.7.8.4.8-.8.8.1.8-.2.8.4.8-.8.8.5.8-.2.8-.3.8.3.8.5.8-.3.8.2.8.5.8-.5.8.7.8-.4.8.2.8-.7.8.9.8.6.8-.4.8.6.8-.5.8-.7.8.2.8-.3.8-.5.8.3.8-.1.8-.1.8.4.8.1.8-.2.8.4.8.4.8-.2.8-.7.8 1.1.8-.1.8-.6.8.6.8-.8.8.7.8-.7.8.1.8 0 .8.1.8.1.8.3.8.1.8-.1.8-.9.8.3.8-.3.8.3.8.1.8-1 .8.1.8-.2.8-.3.8.6.8.5.8.2.8.1.8-.3.8 0 .8.2.8-.3.8 0 .8 0 .8.3.8-.5.8 0 .8-.2.8.4.8-.3.8.5.8-.2.8.5.8-.6.8.2.8-.3.8.1.8.5.8-.3.8.3.8-.3.8.5.8-.3.8-.3.8 0 .8-.4.8-.1.8.4.8.2.8-.1.8.6.8.6.8-.5.8.1.8-.3.8.8.8-.6.8-.2.8.3.8-.5.8.1.8-.7.8.2.8-.5.8-.3.8.5.8-1.4.8.5.8-.6.8-.6.8-.1.8.2.8 0 .8 0 .8.5.8-.4.8.7.8.1.8.5.8.3.8.4.8-.6.8.9.8.1.8-.3.8-.3.8.3.8 0 .8 0 .8 0 .8-.2.8.3.8.2.8-.1.8.5.8.2.8-.1.8.7.8-.5.8-.3.8-.1.8.1.8-.5.8.3.8-.4.8-.4.8-.4.8.1.8-.3.8-.3.8-.3.8.2.8-.6.8.5.8-.1.8.3.8.1.8-.6.8 1 .8 0 .8.3.8.2.8-.2.8 0 .8-1 .8.8.8-.1.8.2.8-.1.8.2.8.1.8.1.8.1.8.4.8.3.8 0 .8-.2.8.5.8.4.8-.2.8 0 .8 0 .8-.1.8.7.8-.2.8-.6.8-.1.8.2.8.8.8-.8.8.2.8-.2.8-.1.8.1.8.5.8-.4.8 1 .8-.5.8.2.8.8.8.1.8-.2.8.5.8.4.8-.4.8-.2.8.1.8-.5.8.1.8.1.8-.7.8-.2.8.4.8-.6.8-.6.8.3.8.4.8-.5.8.7.8-.9.8.3.8.4.8-.5.8.4.8-.5.8-.1.8.7.8 0 .8 0 .8-.1.8.6.8-.1.8-.4.8-.4.8.3.8-.1.8 0 .8-.4.8.6.8-1.1.8.3.8-.4.8-.2.8.2.8-.6.8-.3.8.1.8-.5.8-.3.8-.4.8-.2.8 1.2.8-1.2.8.5.8 0 .8.1.8 0 .8-.3.8.7.8.2.8 0 .8.2.8-.3.8-.5.8-.1.8-1.3.8.1.8-.5.8.8.8 1 .8-.3.8.2.8.2.8.9.8-.1.8.3.8-.2.8 0 .8-.6.8.2.8-.8.8-.5.8-.1.8-1.2.8.6.8.1.8.3.8.3.8.3.8.4.8.4.8.2.8.7.8-.3.8.1.8.1.8-.5.8 0 .8-.2.8-.5.8.9.8.1.8-.2.8.5.8-.6.8-.5.8-.7.8-.6.8-.4.8-.9.8 1.1.8.8.8 1.3.8-.6.8.7.8-.2.8-.1.8.3.8.2.8.2.8.3.8.6.8-.5.8 1 .8-1.1.8.4.8-.3.8-.7.8.8.8-.5.8 1 .8.1.8.4.8 0 .8.2.8-.2.8-.3.8 0 .8-.1.8-.8.8.2.8.3.8-.4.8 0 .8.2.8-.2.8-.1.8-.5.8.6.8-.2.8-.5.8-.1.8.1.8.1.8.9.8-.7.8.4.8-.2.8-.6.8-.8.8-.6.8-.1.8-.2.8-.2.8.1.8-.2.8-.6.8 0 .8.3.8-.6.8.1.8-.1.8.4.8.3.8 0 .8-.4.8 0 .8-.7.8-.1.8 0 .8-.1.8.2.8.1.8-.5.8 0 .8-.3.8.2.8.5.8-.6.8.5.8-.5.8.2.8.3.8-.1.8.4.8 0 .8-.3.8.7.8-.6.8.5.8-.8.8 1 .8-.4.8-.2.8-.2.8-.5.8.8.8.2.8-.2.8.7.8.1.8-.5.8.2.8.8.8-.2.8.1.8.5.8 0 .8.3.8.1.8-.5.8.1.8-.2.8.3.8.1.8.1.8.3.8.1.8-.1.8-.5.8.3.8-.3.8-.1.8.4.8 0 .8-.4.8.1.8.2.8 0 .8.5.8.1.8.5.8.1.8.4.8.3.8.3.8 0 .8.9" fill="none" stroke="#3030ff" stroke-width="0.9" stroke-linejoin="round" />
<line x1="104" y1="655.8" x2="104" y2="723.1" stroke="#ff4848" stroke-width="1.5" stroke-dasharray="10 3.5" />
<line x1="259.7" y1="656.8" x2="259.7" y2="723.1" stroke="#ff00ff" stroke-width="1.45" stroke-dasharray="1.5 4.3" />
<line x1="307.3" y1="655.3" x2="307.3" y2="723.1" stroke="#ff1010" stroke-width="1.0" stroke-dasharray="10 4" />
<line x1="377.4" y1="658.3" x2="377.4" y2="723.1" stroke="#0000ff" stroke-width="1.15" stroke-dasharray="1.2 3.1" />
<line x1="408.8" y1="655.3" x2="408.8" y2="723.1" stroke="#30b830" stroke-width="1.4" stroke-dasharray="9.5 4" />
</g>
<line x1="77" y1="660.8" x2="94.9" y2="660.8" stroke="#22ee22" stroke-width="0.9" />
<text x="96.9" y="663.9" font-size="9.5" fill="#22ee22" stroke="#22ee22" stroke-width="0.15" >P<tspan font-size="6.2" dy="3.0" stroke-width="0.12">i</tspan></text>
<line x1="77" y1="671.9" x2="94.9" y2="671.9" stroke="#ff8080" stroke-width="1.6" />
<text x="96.9" y="675" font-size="9.5" fill="#ff1010" stroke="#ff1010" stroke-width="0.15" >P<tspan font-size="6.2" dy="3.0" stroke-width="0.12">e</tspan></text>
<line x1="77" y1="683.2" x2="94.9" y2="683.2" stroke="#808080" stroke-width="1.6" />
<text x="96.9" y="686.3" font-size="9.5" fill="#111" stroke="#111" stroke-width="0.15" >P<tspan font-size="6.2" dy="3.0" stroke-width="0.12">B</tspan></text>
<line x1="77" y1="694.2" x2="94.9" y2="694.2" stroke="#3030ff" stroke-width="0.9" />
<text x="96.9" y="697.3" font-size="9.5" fill="#1010ff" stroke="#1010ff" stroke-width="0.15" >P<tspan font-size="6.2" dy="3.0" stroke-width="0.12">tot</tspan></text>
<path d="M161.6 654.8v10.5M161.6 723.1v-10.5M275.6 654.8v10.5M275.6 723.1v-10.5M389.5 654.8v10.5M389.5 723.1v-10.5M503.5 654.8v10.5M503.5 723.1v-10.5M76.1 654.8v4M76.1 723.1v-4M104.6 654.8v4M104.6 723.1v-4M133.1 654.8v4M133.1 723.1v-4M190.1 654.8v4M190.1 723.1v-4M218.6 654.8v4M218.6 723.1v-4M247.1 654.8v4M247.1 723.1v-4M304 654.8v4M304 723.1v-4M332.5 654.8v4M332.5 723.1v-4M361 654.8v4M361 723.1v-4M418 654.8v4M418 723.1v-4M446.5 654.8v4M446.5 723.1v-4M475 654.8v4M475 723.1v-4" stroke="#000" stroke-width="0.9" fill="none"/>
<path d="M71.5 657.4h2.6M525.4 657.4h-2.6M71.5 661.2h2.6M525.4 661.2h-2.6M71.5 665h2.6M525.4 665h-2.6M71.5 668.8h5.5M525.4 668.8h-5.5M71.5 672.5h2.6M525.4 672.5h-2.6M71.5 676.3h2.6M525.4 676.3h-2.6M71.5 680.1h2.6M525.4 680.1h-2.6M71.5 683.8h2.6M525.4 683.8h-2.6M71.5 687.6h5.5M525.4 687.6h-5.5M71.5 691.4h2.6M525.4 691.4h-2.6M71.5 695.1h2.6M525.4 695.1h-2.6M71.5 698.9h2.6M525.4 698.9h-2.6M71.5 702.7h2.6M525.4 702.7h-2.6M71.5 706.5h5.5M525.4 706.5h-5.5M71.5 710.2h2.6M525.4 710.2h-2.6M71.5 714h2.6M525.4 714h-2.6M71.5 717.8h2.6M525.4 717.8h-2.6M71.5 721.5h2.6M525.4 721.5h-2.6" stroke="#000" stroke-width="0.9" fill="none"/>
<rect x="71.5" y="654.8" width="453.9" height="68.3" fill="none" stroke="#000" stroke-width="1.1"/>
<text x="527.4" y="671.8" font-size="11" stroke="#000" >1.5</text>
<text x="527.4" y="691" font-size="11" stroke="#000" >1.0</text>
<text x="527.4" y="710.1" font-size="11" stroke="#000" >0.5</text>
<text x="562.3" y="689.6" font-size="11" text-anchor="middle" transform="rotate(-90 562.3 689.6)" stroke="#000" >P [nPa]</text>
<text x="161.6" y="740" font-size="11" text-anchor="middle" stroke="#000" >23:25:00</text>
<text x="275.6" y="740" font-size="11" text-anchor="middle" stroke="#000" >23:25:20</text>
<text x="389.5" y="740" font-size="11" text-anchor="middle" stroke="#000" >23:25:40</text>
<text x="503.5" y="740" font-size="11" text-anchor="middle" stroke="#000" >23:26:00</text>
<text x="50" y="761" font-size="11" stroke="#000" >X</text>
<text x="161.6" y="761" font-size="11" text-anchor="middle" stroke="#000" >2.71</text>
<text x="275.6" y="761" font-size="11" text-anchor="middle" stroke="#000" >2.72</text>
<text x="389.5" y="761" font-size="11" text-anchor="middle" stroke="#000" >2.72</text>
<text x="503.5" y="761" font-size="11" text-anchor="middle" stroke="#000" >2.72</text>
<text x="539" y="761" font-size="11" stroke="#000" >Re</text>
<text x="50" y="779.1" font-size="11" stroke="#000" >Y</text>
<text x="161.6" y="779.1" font-size="11" text-anchor="middle" stroke="#000" >-11</text>
<text x="275.6" y="779.1" font-size="11" text-anchor="middle" stroke="#000" >-11</text>
<text x="389.5" y="779.1" font-size="11" text-anchor="middle" stroke="#000" >-11</text>
<text x="503.5" y="779.1" font-size="11" text-anchor="middle" stroke="#000" >-11</text>
<text x="539" y="779.1" font-size="11" stroke="#000" >Re</text>
<text x="50" y="796.8" font-size="11" stroke="#000" >Z</text>
<text x="161.6" y="796.8" font-size="11" text-anchor="middle" stroke="#000" >-1.05</text>
<text x="275.6" y="796.8" font-size="11" text-anchor="middle" stroke="#000" >-1.05</text>
<text x="389.5" y="796.8" font-size="11" text-anchor="middle" stroke="#000" >-1.05</text>
<text x="503.5" y="796.8" font-size="11" text-anchor="middle" stroke="#000" >-1.05</text>
<text x="539" y="796.8" font-size="11" stroke="#000" >Re</text>
<text x="29.3" y="12" font-size="11" stroke="#000" >Plot Layout GP 19/10/2018</text>
<text x="297.7" y="25.8" font-size="17.4" text-anchor="middle" stroke="#000" >MMS2</text>
<text x="474.5" y="24.1" font-size="17.9" text-anchor="middle" font-weight="bold" fill="#a00000" stroke="#a00000" >20160301_232444</text>
<text x="507.9" y="838.2" font-size="12" text-anchor="middle" stroke="#000" >paschmann 25-Oct-2018 19:17</text>
<g clip-path="url(#c9)">
<line x1="668.8" y1="88.9" x2="1122.5" y2="88.9" stroke="#333" stroke-width="1.1" stroke-dasharray="4.2 2.4" />
<path d="M669.4 47.3l.8.2.8-1.2.8-.3.8.8.8-1.1.8.2.8-.3.8.7.8-.8.8.3.8.1.8.7.8.6.8.7.8-.3.8-.5.8.2.8.1.8-.6.8 0 .8 1.2.8.6.8.3.8.8.8.7.8.1.8-1.4.8-.4.8 0 .8-.9.8-.6.8 0 .8-.6.8.5.8.1.8.8.8-.1.8-.6.8-.7.8-1 .8.1.8-2.2.8.6.8.3.8.8.8.2.8.3.8.9.8.2.8 0 .8.6.8-.4.8.1.8-.2.8-.5.8 0 .8-.4.8.5.8 1 .8.4.8-.1.8 0 .8.8.8-.4.8.8.8.2.8-.8.8.4.8-1 .8.1.8 0 .8 0 .8.1.8.2.8.6.8-.4.8 0 .8-.4.8 1 .8.7.8.6.8 1 .8.1.8-.4.8.3.8.1.8-.4.8.5.8.6.8.9.8.1.8.6.8-.4.8-.1.8-1 .8-1.2.8-.8.8-1.3.8-1.3.8-.4.8-1.6.8-.1.8.5.8 0 .8.4.8-.5.8.4.8.4.8.7.8-.5.8-.5.8.9.8-.1.8-.7.8-.6.8.4.8-1.2.8.1.8.5.8.5.8 1.2.8-1.1.8-.7.8.4.8.4.8.7.8.8.8.3.8 1.1.8.4.8-.5.8.4.8 1.1.8-1 .8-.1.8-1.4.8-.3.8.1.8.1.8-.2.8-.6.8.1.8-1.1.8.1.8.1.8.5.8-.3.8.1.8.3.8-.3.8.1.8-.4.8-.2.8.3.8.8.8-1 .8.9.8-.7.8.7.8-.1.8 1.4.8-.8.8.1.8-.3.8 0 .8-.2.8.3.8-.4.8-.7.8.6.8-.1.8.2.8-.5.8-.7.8-.5.8-1 .8 1 .8.1.8 1.2.8.3.8.8.8 1.1.8.2.8 1 .8-.1.8.2.8.2.8-.7.8-.9.8-.1.8-.6.8-.4.8.1.8-.2.8-.7.8.2.8.1.8.4.8-.3.8-.6.8-.4.8-.5.8-.6.8 1 .8-.5.8.1.8.9.8.3.8.9.8-.7.8 1.1.8-.1.8-.5.8-.3.8-.4.8.6.8.4.8.1.8.7.8-.2.8.2.8-.2.8.6.8-1.2.8-.5.8-1.1.8.9.8-.2.8.3.8.5.8 1.9.8.7.8 1.2.8.7.8-.1.8-1.6.8-1.1.8-.9.8-1.3.8.6.8 1.2.8 1.2.8 1 .8.3.8.6.8 1.3.8.5.8 1 .8.6.8.3.8.7.8.7.8.5.8.8.8.2.8.4.8 0 .8 0 .8-.3.8.7.8-.3.8-.3.8 0 .8-.2.8-.2.8-.4.8.2.8-.9.8-.2.8 1.2.8-.3.8-.2.8 1.9.8-.6.8.1.8-.2.8-.6.8-.2.8-.6.8-.7.8 0 .8-.2.8.5.8-.3.8 1 .8-.2.8.7.8.7.8.7.8.5.8-.1.8.2.8.7.8 0 .8-1.3.8-.6.8-.4.8-.9.8-.4.8-.8.8-1 .8-1.3.8-.3.8-1.3.8-.8.8-.8.8.7.8-.6.8-.5.8.4.8-.7.8 0 .8.3.8.2.8.7.8.2.8-.2.8-.4.8-.1.8-.3.8.8.8.8.8.1.8.4.8-.6.8-.4.8-.9.8-.3.8-.3.8.4.8.7.8.4.8.2.8.1.8.1.8 0 .8.4.8-.4.8.2.8.5.8-.6.8.4.8.9.8.5.8 1 .8.5.8.6.8.4.8-.4.8.3.8.3.8-.6.8.7.8.1.8 0 .8.7.8-.3.8-.3.8-1.2.8-.5.8-.6.8-.7.8-.2.8.5.8 1.4.8 1.9.8 2.5.8.9.8.4.8-.2.8-.3.8-2 .8-.5.8-1 .8 0 .8-.3.8-.1.8 1 .8.2.8 0 .8-1.1.8-.5.8-1.5.8.2.8-1.9.8-1 .8-1.7.8-1.2.8-.5.8-.7.8.3.8.4.8 1.3.8 1 .8 1.1.8 0 .8 0 .8.7.8-.3.8-1.2.8-.6.8 1.6.8.7.8 0 .8.3.8-.2.8-1.1.8-.1.8-.5.8 1.9.8.5.8 1.5.8-.5.8-.2.8-.2.8-.2.8.3.8-.8.8.2.8-.6.8-.6.8.4.8-.1.8-.9.8 1.8.8 2.3.8.5.8-.4.8.5.8-.2.8-.5.8.2.8-1.9.8-1.1.8-.6.8.1.8.5.8-.2.8.1.8-.1.8-.3.8-.3.8.4.8.1.8 0 .8.8.8.9.8 1.5.8.3.8 2 .8 1.5.8-.7.8-.6.8-.5.8-.1.8-.4.8.2.8.8.8 1 .8.2.8.3.8.1.8 1.4.8-.8.8-.9.8.4.8 0 .8-.5.8.5.8.3.8-.5.8 1.2.8-.2.8.8.8-.8.8-.2.8-.3.8-.5.8-.6.8-.9.8-.8.8-1.8.8-1.6.8.1.8-.6.8.7.8 1 .8 1.2.8-.3.8-.5.8-1 .8-1.4.8 0 .8-.3.8-.6.8-.2.8.1.8-.2.8 1.1.8 1.2.8-.5.8 1.3.8.3.8.8.8-.3.8.1.8-1.1.8-.4.8.2.8-.5.8.8.8.6.8-.3.8.3.8.8.8-.5.8.2.8-.5.8.3.8.1.8 0 .8-.2.8-.6.8.4.8.9.8-.2.8 1.7.8-.1.8 0 .8 0 .8.1.8-.1.8 0 .8.1.8-.5.8-.2.8.6.8.4.8.2.8.7.8 0 .8.9.8-.2.8.5.8.9.8.5.8 1.2.8-1.1.8 1.2.8.5.8.7.8.2.8.2.8-.6.8.6.8 0 .8.1.8 1.4.8-.3.8.4.8-1 .8-.5.8-.1.8-.9.8.1" fill="none" stroke="#22ee22" stroke-width="0.95" stroke-linejoin="round" />
<path d="M669.4 110.5l.8.5.8.3.8.3.8.1.8.5.8-1.1.8-1 .8-.4.8-1.6.8.5.8.8.8.7.8.2.8 2 .8-.3.8.2.8-.3.8-.3.8-.2.8-1.1.8-.9.8.1.8-.7.8-.1.8.5.8.2.8 1.2.8-.1.8 1 .8.5.8-1.7.8-.4.8-1.4.8-.2.8-1 .8-.8.8-.5.8-1.1.8-.2.8-.5.8-.8.8.3.8-.1.8.1.8-1 .8-.6.8-.5.8-.7.8-.5.8-.4.8-.4.8.5.8-.2.8-.6.8.8.8-.6.8.4.8.1.8-.2.8-.8.8-.1.8.1.8-.3.8.3.8-.4.8.5.8-.7.8-.6.8-1.1.8-.7.8-1.8.8-1.4.8-.2.8.3.8.8.8-.8.8.4.8 0 .8.3.8-1.2.8-.4.8-.2.8-1 .8-.1.8-.4.8-.1.8-.6.8-.6.8-.1.8-.4.8-.7.8-.1.8-.5.8-.6.8-.6.8-.4.8 1 .8-.5.8.5.8.1.8.4.8-.6.8-.6.8-.5.8-.7.8.4.8-.2.8.9.8.5.8-.2.8-.1.8.2.8-.4.8-.2.8-.3.8 0 .8-.2.8.8.8.5.8.1.8-1.1.8-1.7.8-.9.8.4.8.9.8 1.2.8 1.8.8-1.3.8.6.8-1 .8-.4.8-.6.8.6.8-.4.8-.3.8 1.3.8.1.8-.3.8.1.8.6.8-.1.8-.2.8-.2.8.2.8-.3.8-.3.8-.2.8 0 .8-1.1.8.6.8.3.8-.5.8-.1.8-.7.8-.5.8-.1.8-1.1.8-.8.8-1 .8-.2.8-1.1.8-.8.8-.1.8-1.4.8-.3.8-1.1.8-.3.8-.9.8-.1.8-1.2.8-.1.8-.2.8 0 .8 1.2.8-1.5.8 0 .8-.8.8-.4.8.1.8-.7.8-.3.8-.8.8.7.8.1.8-.2.8.9.8-.6.8.8.8-.4.8.5.8.2.8.7.8 1.1.8-.2.8.2.8.9.8-1.2.8 1 .8 0 .8.2.8.8.8-1.4.8-1 .8-1.4.8-.6.8-.3.8-.1.8.1.8.4.8 0 .8-.5.8.6.8 0 .8.3.8.3.8-.1.8 1.2.8.2.8.1.8 0 .8.1.8.8.8-.3.8-.4.8-.5.8-.3.8-.5.8-1.4.8-1.1.8-.4.8-.3.8 1.1.8 1.1.8 1.9.8-.3.8 1 .8.2.8 1 .8 0 .8 2 .8-1.7.8-1.3.8-1.7.8.4.8.4.8 0 .8.4.8.2.8.4.8-1.3.8.5.8.2.8-.2.8.7.8 0 .8.2.8-.3.8-.2.8.3.8-.5.8-.6.8-.4.8.4.8.6.8-.3.8.3.8-.2.8.3.8-.1.8-.4.8.8.8-.8.8-.6.8-.9.8.1.8-.6.8-.2.8-.8.8-.2.8-1.6.8.1.8-.5.8-.4.8.7.8-.7.8-.4.8.1.8-.7.8-.2.8-.5.8-.1.8-.5.8-.2.8 0 .8.7.8.6.8 0 .8.8.8-.2.8-.2.8 0 .8.1.8-.8.8.4.8 1.1.8-.2.8-.4.8-.9.8-.7.8-1.2.8.1.8.9.8.5.8.7.8.2.8.4.8-1.5.8.2.8-.4.8-.7.8-.2.8-.7.8-.5.8-.5.8-.6.8 0 .8-.2.8-1 .8.2.8.4.8.4.8.7.8.1.8-.3.8.3.8.6.8-.3.8 0 .8 0 .8.2.8 1.2.8 0 .8.9.8.4.8.7.8.3.8-.6.8-.4.8-.1.8-.6.8-.3.8-.1.8-1.2.8-1.7.8-1.1.8-.7.8-.4.8-.6.8 1.5.8 2.3.8.1.8.8.8-2.7.8-2.3.8-1.9.8-1.4.8-1.8.8-.4.8 1.5.8 1.8.8 1.1.8 1.5.8 1.2.8.3.8.7.8.5.8.4.8.9.8.4.8-.2.8.9.8.7.8 2 .8 1.9.8 1.7.8 1.7.8 1.1.8.9.8-1.5.8-.1.8-1 .8-.5.8-1 .8-.6.8-1.7.8 1.4.8.1.8.2.8.8.8.4.8-.6.8 1.3.8 2.5.8 2.4.8 1.5.8.8.8.9.8-.2.8-1.3.8-1.5.8-.1.8-.2.8-.4.8.4.8.2.8.1.8 1 .8 1.5.8 2.5.8 1 .8 1.9.8 1.1.8.7.8.4.8.6.8 1.1.8 1.1.8-.9.8-1.1.8-1.1.8.8.8-.2.8.1.8 1.4.8.6.8.4.8.5.8 1.3.8-.1.8-.3.8.7.8 0 .8.9.8.2.8.8.8.3.8 1.6.8.1.8 1.3.8.4.8-.6.8-.6.8-.1.8.3.8.1.8.4.8.1.8.4.8-.3.8-.4.8.2.8 0 .8-.1.8-.1.8-.1.8-.4.8.5.8.2.8-.5.8.4.8.3.8.8.8.1.8.8.8-.6.8.5.8-1.4.8.9.8-.3.8-1 .8.2.8.9.8.8.8.8.8-.9.8 0 .8-1.4.8.4.8.4.8-.4.8-.7.8.4.8-.6.8.7.8-.8.8.2.8-1.1.8.5.8-1.3.8-1 .8.1.8-.6.8.4.8.2.8.8.8.1.8.9.8-.5.8 1.1.8.9.8.6.8 1.2.8-.5.8-.5.8-.6.8.2.8-.1.8.2.8-.7.8-.5.8.4.8-.9.8.6.8 0 .8 1.1.8.2.8.8.8.5.8.5.8.3.8 1.4.8.7.8.4.8.9.8.1.8.3.8.5.8.3.8.1.8.5.8.2.8.4.8.1.8.2.8.4.8.8.8 0 .8.6.8-.8.8.2.8-.2.8.3.8.6.8.5.8.8.8-.2.8.7.8-.7.8.5.8.4.8.5.8-.5.8.8.8.2.8-.2" fill="none" stroke="#3030ff" stroke-width="0.9" stroke-linejoin="round" />
<path d="M669.4 94.9l.8-.8.8-.4.8-.3.8-1.3.8-.1.8-.3.8 0 .8-.2.8-.7.8.5.8 0 .8-.4.8.5.8-.1.8.9.8.3.8.3.8.7.8-.4.8 0 .8.7.8-.1.8-.4.8-.3.8-.3.8-.2.8-1 .8-.5.8-.3.8.2.8-1 .8 1.1.8-.7.8-.5.8.5.8-.3.8-.5.8.5.8-.4.8.7.8.1.8-.1.8.6.8-.4.8 0 .8.5.8 1.3.8-.2.8.6.8-.3.8.4.8-.3.8 0 .8-.4.8-.7.8 1 .8.9.8-.6.8-.1.8-.5.8-.6.8-.7.8-.1.8-.8.8 0 .8-.5.8.2.8-.7.8 0 .8.1.8-.7.8.7.8-.4.8-.2.8.3.8.3.8.1.8-.2.8 1 .8-.4.8 0 .8 0 .8-.7.8-.1.8-1.3.8-.7.8-.7.8-.4.8-.5.8.1.8.3.8-.1.8.5.8.3.8-1 .8-.1.8.1.8-.7.8.7.8.2.8-.1.8.9.8-.9.8.5.8-.4.8.1.8.5.8.5.8.3.8.5.8-1.1.8.6.8-.8.8-.3.8-.1.8-.4.8.2.8-.1.8.8.8 1.5.8.1.8.3.8.7.8-.2.8.8.8-.2.8-.8.8.3.8-.2.8-.6.8.9.8-.6.8.3.8 1 .8-.5.8.1.8.3.8.3.8-.2.8-.7.8.3.8.8.8-.2.8.5.8-.8.8.7.8-1.3.8-.3.8-.2.8-.3.8-.4.8-.6.8-.8.8.7.8 0 .8-.7.8-.2.8.3.8-1 .8-.1.8.2.8-.4.8-.7.8.4.8.4.8 0 .8.3.8-.6.8.4.8.9.8.5.8-.2.8-.1.8.2.8.5.8.4.8.1.8-.6.8-.2.8-.3.8 0 .8-.4.8-.4.8-.1.8-.2.8.1.8-.2.8-.1.8.7.8.1.8 0 .8 0 .8-.5.8-.2.8 0 .8.3.8.6.8-.6.8.5.8.1.8.3.8.5.8.2.8.5.8.2.8-.9.8.1.8.2.8-.7.8.1.8.5.8-.1.8.6.8 0 .8-.2.8-.2.8-.3.8-.4.8.4.8.2.8-.6.8.2.8 0 .8.2.8-.5.8-.2.8-.1.8-.4.8.3.8-.9.8.2.8-.7.8.3.8-.3.8-.2.8 0 .8.1.8.2.8-.5.8 0 .8.7.8-.3.8 1.3.8.3.8-.2.8.3.8.4.8.2.8.4.8-.4.8-.1.8.4.8-.5.8 0 .8.1.8.3.8-.4.8.4.8.3.8.4.8.2.8.4.8.3.8 0 .8-.1.8.7.8.3.8.6.8-.3.8.4.8-.1.8-.2.8 0 .8-.5.8.4.8-.2.8-.5.8.1.8.1.8-.1.8.3.8-.9.8 0 .8.1.8.4.8.1.8-.1.8.1.8 0 .8 0 .8 0 .8 0 .8 0 .8.2.8.2.8-.7.8.9.8-.2.8.4.8.5.8.2.8.3.8.7.8.4.8.5.8.3.8-.5.8 0 .8.3.8-.6.8-.1.8-.1.8.7.8.1.8-.2.8.1.8.5.8-.9.8.9.8-.3.8-1 .8.2.8.3.8-.4.8-.2.8-.1.8-.5.8.8.8.4.8.6.8-.5.8-.1.8-.7.8-.2.8.2.8.1.8-.2.8.5.8 0 .8.1.8 0 .8.6.8.1.8-.7.8-.2.8-.1.8-.6.8.4.8-.9.8.2.8-.3.8-.3.8.2.8.5.8.1.8.7.8.4.8.6.8.5.8.2.8-.3.8.1.8.2.8-.9.8-1.6.8 0 .8-1.9.8-.8.8-.1.8.6.8.9.8.3.8.1.8.8.8-.4.8-.6.8.7.8-.2.8-.2.8 1.3.8-.7.8.6.8-.1.8-.7.8-1 .8-1.2.8-.9.8-.2.8-1.4.8-.1.8-.1.8.6.8-.4.8 1.6.8.3.8 1.4.8.9.8.6.8.4.8 1 .8.1.8-.4.8-.7.8.1.8-.4.8-.4.8-.9.8.4.8-.4.8-.1.8.3.8.4.8 1 .8-.3.8-.3.8-.2.8-.4.8-.5.8.7.8-.6.8-.4.8.1.8-.9.8.2.8-.2.8.3.8.1.8 1 .8.7.8 1 .8 1 .8-1.4.8-.4.8-1 .8-.7.8-.1.8.1.8.6.8-.4.8.9.8-.2.8.1.8-.1.8.7.8 0 .8.3.8.4.8-.5.8.1.8-.5.8.1.8 0 .8.2.8-.1.8-.1.8.2.8-.4.8-.4.8.5.8-.6.8-.1.8.5.8-.6.8.2.8-.2.8.6.8-1.1.8.3.8.2.8-.6.8 1 .8-1 .8.6.8.2.8-.8.8.3.8.1.8.3.8.3.8-.6.8-1 .8-1.1.8-.8.8-.4.8 2.4.8 1.4.8-.3.8-.1.8-.5.8.6.8.3.8.3.8.3.8.8.8-.1.8.3.8.1.8.1.8.3.8-.1.8-1.5.8-1.7.8-1 .8-.6.8-.6.8-.1.8-.7.8.6.8.3.8-.1.8.1.8-.3.8-.1.8-.6.8-.3.8-.2.8.4.8-.7.8-.2.8-.3.8.7.8.1.8-.5.8 1 .8.2.8-.4.8-.3.8-.1.8-.1.8-.5.8.5.8.6.8.1.8-.1.8.2.8.4.8.1.8.3.8.4.8 1.1.8 0 .8 2.2.8-.4.8-.6.8.4.8-.2.8-.9.8.1.8-1.4.8.4.8-.3.8-.7.8 0 .8-.4.8-.1.8.4.8-1.2.8.2.8-.2.8 0 .8-.7.8.5.8.3.8-.5.8-.1" fill="none" stroke="#ff3030" stroke-width="0.9" stroke-linejoin="round" />
<line x1="701.1" y1="47.1" x2="701.1" y2="115.5" stroke="#ff4848" stroke-width="1.5" stroke-dasharray="10 3.5" />
<line x1="856.8" y1="43.6" x2="856.8" y2="115.5" stroke="#ff00ff" stroke-width="1.45" stroke-dasharray="1.5 4.3" />
<line x1="904.4" y1="47.1" x2="904.4" y2="115.5" stroke="#ff1010" stroke-width="1.0" stroke-dasharray="10 4" />
<line x1="974.5" y1="45.1" x2="974.5" y2="115.5" stroke="#0000ff" stroke-width="1.15" stroke-dasharray="1.2 3.1" />
<line x1="1005.9" y1="47.1" x2="1005.9" y2="115.5" stroke="#30b830" stroke-width="1.4" stroke-dasharray="9.5 4" />
</g>
<line x1="674.2" y1="54.7" x2="692.1" y2="54.7" stroke="#3030ff" stroke-width="0.9" />
<text x="693.5" y="58.1" font-size="9.8" fill="#3030ff" stroke="#3030ff" stroke-width="0.15" >B<tspan font-size="6.5" dy="3.6" stroke-width="0.12">L</tspan></text>
<line x1="674.2" y1="79.4" x2="692.1" y2="79.4" stroke="#22ee22" stroke-width="0.9" />
<text x="693.5" y="82.8" font-size="9.8" fill="#22ee22" stroke="#22ee22" stroke-width="0.15" >B<tspan font-size="6.5" dy="3.6" stroke-width="0.12">M</tspan></text>
<line x1="674.2" y1="103.8" x2="692.1" y2="103.8" stroke="#ff3030" stroke-width="0.9" />
<text x="693.5" y="107.2" font-size="9.8" fill="#ff3030" stroke="#ff3030" stroke-width="0.15" >B<tspan font-size="6.5" dy="3.6" stroke-width="0.12">N</tspan></text>
<path d="M758.7 41.6v10.5M758.7 115.5v-10.5M872.7 41.6v10.5M872.7 115.5v-10.5M986.6 41.6v10.5M986.6 115.5v-10.5M1100.6 41.6v10.5M1100.6 115.5v-10.5M673.2 41.6v4M673.2 115.5v-4M701.7 41.6v4M701.7 115.5v-4M730.2 41.6v4M730.2 115.5v-4M787.2 41.6v4M787.2 115.5v-4M815.7 41.6v4M815.7 115.5v-4M844.2 41.6v4M844.2 115.5v-4M901.1 41.6v4M901.1 115.5v-4M929.6 41.6v4M929.6 115.5v-4M958.1 41.6v4M958.1 115.5v-4M1015.1 41.6v4M1015.1 115.5v-4M1043.6 41.6v4M1043.6 115.5v-4M1072.1 41.6v4M1072.1 115.5v-4" stroke="#000" stroke-width="0.9" fill="none"/>
<path d="M668.8 43.7h5.5M1122.5 43.7h-5.5M668.8 49.4h2.6M1122.5 49.4h-2.6M668.8 55h2.6M1122.5 55h-2.6M668.8 60.7h2.6M1122.5 60.7h-2.6M668.8 66.3h5.5M1122.5 66.3h-5.5M668.8 72h2.6M1122.5 72h-2.6M668.8 77.6h2.6M1122.5 77.6h-2.6M668.8 83.3h2.6M1122.5 83.3h-2.6M668.8 88.9h5.5M1122.5 88.9h-5.5M668.8 94.6h2.6M1122.5 94.6h-2.6M668.8 100.2h2.6M1122.5 100.2h-2.6M668.8 105.9h2.6M1122.5 105.9h-2.6M668.8 111.5h5.5M1122.5 111.5h-5.5" stroke="#000" stroke-width="0.9" fill="none"/>
<rect x="668.8" y="41.6" width="453.7" height="73.9" fill="none" stroke="#000" stroke-width="1.1"/>
<text x="666.3" y="47" font-size="11" text-anchor="end" stroke="#000" >40</text>
<text x="666.3" y="70.2" font-size="11" text-anchor="end" stroke="#000" >20</text>
<text x="666.3" y="92.7" font-size="11" text-anchor="end" stroke="#000" >0</text>
<text x="666.3" y="116" font-size="11" text-anchor="end" stroke="#000" >-20</text>
<text x="639.4" y="79.5" font-size="11" text-anchor="middle" transform="rotate(-90 639.4 79.5)" stroke="#000" >B<tspan font-size="8.6" dy="3.6">LMN</tspan><tspan dy="-3.6"> [nT]</tspan></text>
<rect x="668.8" y="115.5" width="453.7" height="73.9" fill="url(#sg2)"/>
<path d="M682.6 117.3h1.1m50.6 0h1.1m1.1 0h1.1m23.1 0h2.2m12.1 0h1.1m19.8 0h1.1m47.3 0h1.1m4.4 0h2.2m7.7 0h1.1m9.9 0h1.1m5.5 0h3.3m1.1 0h1.1m8.8 0h1.1m47.3 0h1.1m18.7 0h1.1m5.5 0h2.2m20.9 0h1.1m5.5 0h1.1m4.4 0h2.2m9.9 0h1.1m8.8 0h1.1m26.4 0h1.1m27.5 0h2.2m26.4 0h1.1m5.5 0h1.1M671.6 119.6h1.1m17.6 0h1.1m1.1 0h1.1m16.5 0h1.1m19.8 0h1.1m28.6 0h1.1m3.3 0h1.1m26.4 0h1.1m5.5 0h2.2m4.4 0h1.1m8.8 0h1.1m4.4 0h1.1m1.1 0h1.1m13.2 0h1.1m34.1 0h1.1m2.2 0h1.1m8.8 0h1.1m16.5 0h1.1m1.1 0h1.1m9.9 0h1.1m6.6 0h1.1m15.4 0h1.1m4.4 0h1.1m2.2 0h1.1m1.1 0h1.1m2.2 0h1.1m20.9 0h1.1m27.5 0h1.1m12.1 0h1.1m13.2 0h1.1m14.3 0h1.1m6.6 0h1.1m1.1 0h1.1m3.3 0h2.2m14.3 0h1.1m2.2 0h1.1m1.1 0h1.1m9.9 0h1.1M679.3 121.9h1.1m56.1 0h1.1m8.8 0h1.1m4.4 0h1.1m19.8 0h1.1m12.1 0h1.1m16.5 0h1.1m2.2 0h1.1m19.8 0h1.1m1.1 0h1.1m3.3 0h1.1m30.8 0h1.1m7.7 0h1.1m11 0h1.1m6.6 0h1.1m2.2 0h1.1m11 0h1.1m26.4 0h1.1m6.6 0h1.1m14.3 0h1.1m17.6 0h1.1m2.2 0h2.2m7.7 0h2.2m4.4 0h1.1m13.2 0h1.1m3.3 0h1.1m7.7 0h1.1m6.6 0h2.2m34.1 0h1.1m16.5 0h1.1m6.6 0h1.1m3.3 0h1.1M671.6 124.2h1.1m38.5 0h1.1m23.1 0h1.1m7.7 0h1.1m11 0h1.1m13.2 0h1.1m23.1 0h2.2m17.6 0h1.1m24.2 0h1.1m8.8 0h1.1m4.4 0h1.1m1.1 0h1.1m2.2 0h1.1m6.6 0h1.1m25.3 0h1.1m19.8 0h1.1m7.7 0h1.1m1.1 0h1.1m6.6 0h1.1m13.2 0h1.1m1.1 0h1.1m14.3 0h1.1m4.4 0h1.1m24.2 0h1.1m11 0h2.2m4.4 0h2.2m14.3 0h2.2m2.2 0h1.1m5.5 0h1.1m12.1 0h1.1m15.4 0h1.1m11 0h1.1m8.8 0h1.1m3.3 0h1.1m7.7 0h1.1m7.7 0h1.1M691.4 126.5h1.1m5.5 0h1.1m5.5 0h2.2m6.6 0h1.1m5.5 0h1.1m12.1 0h1.1m20.9 0h1.1m18.7 0h1.1m8.8 0h1.1m2.2 0h1.1m4.4 0h1.1m1.1 0h1.1m16.5 0h2.2m14.3 0h1.1m3.3 0h1.1m6.6 0h1.1m8.8 0h1.1m1.1 0h1.1m3.3 0h2.2m2.2 0h1.1m20.9 0h1.1m5.5 0h2.2m6.6 0h1.1m1.1 0h1.1m2.2 0h1.1m2.2 0h1.1m68.2 0h3.3m3.3 0h2.2m8.8 0h1.1m1.1 0h1.1m11 0h2.2m12.1 0h1.1m3.3 0h1.1m3.3 0h1.1m2.2 0h1.1m38.5 0h1.1m1.1 0h1.1m2.2 0h2.2m3.3 0h1.1m2.2 0h1.1m2.2 0h1.1m3.3 0h1.1M680.4 128.8h1.1m5.5 0h1.1m7.7 0h1.1m5.5 0h1.1m31.9 0h1.1m5.5 0h1.1m20.9 0h1.1m17.6 0h1.1m7.7 0h2.2m5.5 0h1.1m5.5 0h2.2m1.1 0h1.1m12.1 0h1.1m1.1 0h1.1m8.8 0h2.2m22 0h1.1m9.9 0h1.1m4.4 0h1.1m5.5 0h1.1m9.9 0h1.1m26.4 0h1.1m6.6 0h2.2m5.5 0h2.2m8.8 0h2.2m3.3 0h1.1m3.3 0h1.1m7.7 0h1.1m4.4 0h1.1m11 0h1.1m7.7 0h1.1m3.3 0h1.1m7.7 0h2.2m4.4 0h1.1m16.5 0h1.1m2.2 0h2.2m4.4 0h1.1m1.1 0h1.1m13.2 0h1.1m7.7 0h1.1m9.9 0h1.1m3.3 0h1.1m6.6 0h1.1m2.2 0h2.2m7.7 0h1.1m5.5 0h1.1m4.4 0h1.1M671.6 131.1h1.1m8.8 0h1.1m17.6 0h1.1m1.1 0h1.1m2.2 0h2.2m3.3 0h1.1m1.1 0h1.1m4.4 0h1.1m2.2 0h1.1m36.3 0h1.1m1.1 0h1.1m6.6 0h1.1m4.4 0h1.1m17.6 0h1.1m1.1 0h1.1m3.3 0h1.1m9.9 0h2.2m3.3 0h1.1m4.4 0h1.1m1.1 0h3.3m4.4 0h1.1m15.4 0h1.1m6.6 0h1.1m8.8 0h1.1m2.2 0h2.2m1.1 0h2.2m9.9 0h1.1m4.4 0h1.1m2.2 0h1.1m2.2 0h1.1m7.7 0h1.1m2.2 0h2.2m4.4 0h2.2m2.2 0h1.1m15.4 0h1.1m3.3 0h1.1m1.1 0h1.1m1.1 0h1.1m12.1 0h1.1m12.1 0h1.1m8.8 0h1.1m12.1 0h1.1m3.3 0h1.1m9.9 0h1.1m11 0h1.1m1.1 0h1.1m3.3 0h1.1m4.4 0h1.1m1.1 0h1.1m2.2 0h2.2m1.1 0h1.1m6.6 0h1.1m1.1 0h2.2m15.4 0h1.1m1.1 0h1.1m7.7 0h1.1m8.8 0h1.1m1.1 0h1.1m1.1 0h1.1m7.7 0h1.1m2.2 0h1.1m3.3 0h1.1m3.3 0h1.1M674.9 133.4h1.1m9.9 0h1.1m1.1 0h1.1m12.1 0h1.1m8.8 0h1.1m6.6 0h2.2m24.2 0h2.2m12.1 0h1.1m3.3 0h1.1m2.2 0h2.2m1.1 0h1.1m2.2 0h1.1m6.6 0h1.1m5.5 0h1.1m9.9 0h1.1m2.2 0h1.1m7.7 0h1.1m2.2 0h1.1m4.4 0h2.2m3.3 0h1.1m3.3 0h1.1m4.4 0h1.1m3.3 0h1.1m7.7 0h2.2m4.4 0h1.1m1.1 0h1.1m1.1 0h1.1m2.2 0h2.2m3.3 0h1.1m4.4 0h1.1m2.2 0h3.3m5.5 0h1.1m17.6 0h2.2m1.1 0h1.1m6.6 0h1.1m2.2 0h1.1m3.3 0h1.1m1.1 0h3.3m2.2 0h1.1m2.2 0h1.1m18.7 0h2.2m5.5 0h2.2m2.2 0h1.1m4.4 0h1.1m2.2 0h1.1m4.4 0h2.2m1.1 0h1.1m4.4 0h2.2m1.1 0h1.1m7.7 0h1.1m1.1 0h2.2m1.1 0h1.1m5.5 0h1.1m4.4 0h1.1m1.1 0h1.1m13.2 0h1.1m2.2 0h1.1m3.3 0h1.1m4.4 0h1.1m1.1 0h1.1m15.4 0h1.1m3.3 0h4.4m5.5 0h1.1m9.9 0h1.1m13.2 0h1.1m1.1 0h1.1m5.5 0h1.1M700.2 135.7h2.2m1.1 0h1.1m3.3 0h1.1m25.3 0h1.1m3.3 0h2.2m3.3 0h1.1m2.2 0h1.1m3.3 0h1.1m4.4 0h1.1m14.3 0h1.1m2.2 0h3.3m2.2 0h3.3m8.8 0h1.1m23.1 0h2.2m2.2 0h1.1m4.4 0h1.1m3.3 0h1.1m8.8 0h4.4m2.2 0h1.1m4.4 0h1.1m5.5 0h2.2m2.2 0h1.1m4.4 0h1.1m1.1 0h1.1m2.2 0h1.1m13.2 0h2.2m2.2 0h2.2m5.5 0h1.1m9.9 0h1.1m2.2 0h1.1m2.2 0h1.1m2.2 0h1.1m1.1 0h1.1m5.5 0h2.2m3.3 0h1.1m3.3 0h4.4m3.3 0h1.1m5.5 0h1.1m2.2 0h1.1m1.1 0h2.2m3.3 0h4.4m4.4 0h3.3m4.4 0h1.1m2.2 0h2.2m1.1 0h1.1m1.1 0h1.1m5.5 0h5.5m2.2 0h2.2m2.2 0h1.1m4.4 0h1.1m1.1 0h1.1m2.2 0h2.2m3.3 0h1.1m4.4 0h1.1m1.1 0h2.2m1.1 0h1.1m2.2 0h1.1m1.1 0h1.1m2.2 0h1.1m3.3 0h2.2m1.1 0h1.1m6.6 0h1.1m6.6 0h1.1m2.2 0h1.1m4.4 0h1.1m2.2 0h2.2m5.5 0h1.1m2.2 0h3.3m3.3 0h1.1m1.1 0h1.1m8.8 0h1.1m5.5 0h1.1M672.7 138h1.1m9.9 0h1.1m8.8 0h1.1m1.1 0h2.2m1.1 0h1.1m1.1 0h1.1m6.6 0h2.2m4.4 0h1.1m1.1 0h1.1m1.1 0h1.1m3.3 0h1.1m1.1 0h1.1m3.3 0h1.1m1.1 0h1.1m4.4 0h1.1m4.4 0h2.2m5.5 0h1.1m4.4 0h1.1m7.7 0h2.2m3.3 0h1.1m6.6 0h1.1m1.1 0h2.2m2.2 0h1.1m2.2 0h1.1m6.6 0h1.1m3.3 0h1.1m2.2 0h1.1m8.8 0h1.1m11 0h3.3m1.1 0h1.1m4.4 0h1.1m4.4 0h1.1m7.7 0h1.1m1.1 0h2.2m1.1 0h1.1m3.3 0h3.3m1.1 0h3.3m3.3 0h2.2m3.3 0h1.1m2.2 0h2.2m3.3 0h1.1m2.2 0h1.1m2.2 0h1.1m3.3 0h3.3m5.5 0h1.1m5.5 0h1.1m1.1 0h1.1m5.5 0h1.1m1.1 0h1.1m1.1 0h1.1m7.7 0h1.1m5.5 0h2.2m1.1 0h2.2m1.1 0h1.1m2.2 0h1.1m2.2 0h1.1m1.1 0h2.2m1.1 0h2.2m2.2 0h1.1m1.1 0h1.1m1.1 0h1.1m1.1 0h1.1m4.4 0h1.1m1.1 0h1.1m7.7 0h1.1m3.3 0h1.1m1.1 0h2.2m3.3 0h1.1m5.5 0h2.2m5.5 0h5.5m1.1 0h2.2m2.2 0h3.3m4.4 0h3.3m1.1 0h2.2m1.1 0h4.4m2.2 0h1.1m3.3 0h1.1m1.1 0h1.1m5.5 0h1.1m2.2 0h4.4m1.1 0h1.1m1.1 0h3.3m1.1 0h1.1m1.1 0h1.1m2.2 0h2.2m7.7 0h2.2m3.3 0h1.1m3.3 0h1.1m2.2 0h1.1m3.3 0h1.1m1.1 0h3.3m2.2 0h2.2m1.1 0h1.1M677.1 140.4h1.1m1.1 0h2.2m7.7 0h1.1m1.1 0h1.1m3.3 0h2.2m5.5 0h1.1m6.6 0h1.1m6.6 0h1.1m5.5 0h1.1m2.2 0h2.2m13.2 0h1.1m3.3 0h2.2m2.2 0h1.1m11 0h1.1m7.7 0h1.1m7.7 0h1.1m7.7 0h1.1m2.2 0h1.1m1.1 0h1.1m1.1 0h1.1m1.1 0h1.1m6.6 0h1.1m1.1 0h2.2m5.5 0h1.1m1.1 0h1.1m1.1 0h1.1m2.2 0h3.3m3.3 0h2.2m3.3 0h3.3m1.1 0h1.1m1.1 0h1.1m2.2 0h1.1m1.1 0h5.5m1.1 0h1.1m2.2 0h4.4m3.3 0h3.3m4.4 0h1.1m2.2 0h1.1m3.3 0h1.1m1.1 0h1.1m6.6 0h1.1m4.4 0h3.3m1.1 0h1.1m3.3 0h3.3m2.2 0h1.1m2.2 0h1.1m5.5 0h1.1m7.7 0h1.1m1.1 0h2.2m1.1 0h1.1m4.4 0h5.5m4.4 0h2.2m4.4 0h1.1m3.3 0h1.1m4.4 0h1.1m2.2 0h1.1m1.1 0h1.1m3.3 0h1.1m3.3 0h1.1m4.4 0h5.5m5.5 0h1.1m3.3 0h2.2m1.1 0h1.1m14.3 0h1.1m4.4 0h1.1m1.1 0h2.2m1.1 0h1.1m1.1 0h1.1m4.4 0h1.1m1.1 0h1.1m3.3 0h1.1m1.1 0h1.1m4.4 0h1.1m1.1 0h1.1m1.1 0h2.2m1.1 0h2.2m4.4 0h1.1m2.2 0h2.2m7.7 0h2.2m1.1 0h1.1m1.1 0h1.1m2.2 0h2.2m4.4 0h1.1m1.1 0h1.1m1.1 0h5.5m1.1 0h2.2m2.2 0h2.2M673.8 142.7h2.2m2.2 0h3.3m2.2 0h2.2m1.1 0h2.2m5.5 0h1.1m1.1 0h1.1m5.5 0h1.1m2.2 0h1.1m1.1 0h1.1m2.2 0h1.1m7.7 0h1.1m3.3 0h2.2m7.7 0h1.1m3.3 0h2.2m6.6 0h2.2m1.1 0h1.1m4.4 0h2.2m2.2 0h1.1m3.3 0h2.2m7.7 0h2.2m2.2 0h1.1m2.2 0h2.2m1.1 0h2.2m3.3 0h2.2m1.1 0h2.2m1.1 0h1.1m7.7 0h2.2m6.6 0h1.1m1.1 0h2.2m6.6 0h3.3m1.1 0h2.2m2.2 0h1.1m1.1 0h5.5m2.2 0h1.1m1.1 0h3.3m1.1 0h3.3m5.5 0h2.2m1.1 0h5.5m4.4 0h1.1m1.1 0h1.1m4.4 0h1.1m2.2 0h2.2m1.1 0h1.1m1.1 0h1.1m4.4 0h2.2m1.1 0h2.2m2.2 0h1.1m2.2 0h1.1m3.3 0h2.2m3.3 0h1.1m1.1 0h1.1m2.2 0h1.1m1.1 0h2.2m1.1 0h3.3m2.2 0h1.1m2.2 0h1.1m2.2 0h1.1m2.2 0h2.2m2.2 0h1.1m5.5 0h1.1m1.1 0h1.1m5.5 0h2.2m2.2 0h2.2m4.4 0h3.3m1.1 0h1.1m6.6 0h1.1m2.2 0h1.1m1.1 0h2.2m1.1 0h1.1m1.1 0h2.2m5.5 0h3.3m1.1 0h4.4m1.1 0h1.1m1.1 0h1.1m1.1 0h2.2m1.1 0h4.4m7.7 0h1.1m3.3 0h9.9m1.1 0h3.3m1.1 0h2.2m1.1 0h2.2m6.6 0h2.2m3.3 0h1.1m3.3 0h2.2m2.2 0h1.1m1.1 0h5.5m1.1 0h1.1m6.6 0h2.2m1.1 0h2.2m5.5 0h6.6m2.2 0h1.1m1.1 0h1.1M671.6 145h2.2m4.4 0h1.1m2.2 0h2.2m4.4 0h1.1m6.6 0h1.1m3.3 0h1.1m1.1 0h1.1m6.6 0h1.1m2.2 0h1.1m1.1 0h1.1m2.2 0h1.1m1.1 0h2.2m1.1 0h2.2m1.1 0h1.1m1.1 0h2.2m2.2 0h2.2m1.1 0h1.1m1.1 0h1.1m4.4 0h1.1m3.3 0h2.2m3.3 0h1.1m1.1 0h1.1m8.8 0h2.2m6.6 0h1.1m1.1 0h1.1m1.1 0h1.1m1.1 0h3.3m2.2 0h1.1m5.5 0h3.3m13.2 0h1.1m1.1 0h1.1m1.1 0h2.2m1.1 0h1.1m2.2 0h1.1m1.1 0h1.1m5.5 0h2.2m1.1 0h1.1m3.3 0h1.1m1.1 0h1.1m3.3 0h2.2m3.3 0h1.1m4.4 0h1.1m1.1 0h1.1m1.1 0h1.1m3.3 0h2.2m2.2 0h1.1m4.4 0h1.1m1.1 0h1.1m4.4 0h1.1m1.1 0h4.4m1.1 0h1.1m4.4 0h2.2m1.1 0h1.1m1.1 0h3.3m1.1 0h2.2m1.1 0h1.1m1.1 0h2.2m2.2 0h2.2m3.3 0h1.1m1.1 0h1.1m2.2 0h1.1m2.2 0h1.1m3.3 0h2.2m1.1 0h2.2m2.2 0h1.1m1.1 0h1.1m2.2 0h3.3m1.1 0h1.1m3.3 0h1.1m1.1 0h1.1m1.1 0h1.1m1.1 0h3.3m1.1 0h3.3m2.2 0h2.2m3.3 0h2.2m2.2 0h1.1m3.3 0h1.1m1.1 0h1.1m1.1 0h1.1m1.1 0h2.2m3.3 0h1.1m3.3 0h1.1m1.1 0h2.2m1.1 0h1.1m3.3 0h3.3m3.3 0h2.2m1.1 0h1.1m4.4 0h4.4m1.1 0h1.1m4.4 0h2.2m1.1 0h1.1m4.4 0h3.3m2.2 0h1.1m1.1 0h4.4m2.2 0h1.1m5.5 0h2.2m1.1 0h1.1m3.3 0h1.1m1.1 0h4.4m1.1 0h2.2m4.4 0h1.1m1.1 0h1.1m1.1 0h1.1m2.2 0h3.3m2.2 0h3.3m2.2 0h1.1m1.1 0h1.1m1.1 0h1.1m3.3 0h2.2M670.5 147.3h1.1m1.1 0h1.1m4.4 0h1.1m5.5 0h1.1m3.3 0h1.1m1.1 0h1.1m6.6 0h1.1m7.7 0h1.1m3.3 0h1.1m3.3 0h2.2m1.1 0h2.2m1.1 0h2.2m1.1 0h1.1m1.1 0h1.1m2.2 0h4.4m4.4 0h2.2m3.3 0h1.1m1.1 0h2.2m2.2 0h1.1m9.9 0h1.1m5.5 0h1.1m5.5 0h1.1m1.1 0h1.1m1.1 0h1.1m2.2 0h2.2m2.2 0h1.1m1.1 0h2.2m2.2 0h1.1m1.1 0h2.2m3.3 0h1.1m2.2 0h1.1m2.2 0h1.1m2.2 0h1.1m3.3 0h1.1m7.7 0h1.1m2.2 0h2.2m2.2 0h2.2m4.4 0h1.1m8.8 0h1.1m2.2 0h2.2m1.1 0h4.4m1.1 0h2.2m1.1 0h2.2m2.2 0h1.1m4.4 0h1.1m1.1 0h1.1m4.4 0h1.1m4.4 0h1.1m2.2 0h1.1m7.7 0h1.1m2.2 0h1.1m3.3 0h1.1m1.1 0h3.3m1.1 0h1.1m5.5 0h1.1m4.4 0h1.1m5.5 0h1.1m3.3 0h1.1m9.9 0h2.2m2.2 0h1.1m3.3 0h1.1m5.5 0h2.2m2.2 0h1.1m2.2 0h1.1m5.5 0h1.1m1.1 0h1.1m3.3 0h1.1m2.2 0h2.2m2.2 0h2.2m6.6 0h1.1m1.1 0h1.1m2.2 0h1.1m7.7 0h2.2m3.3 0h1.1m1.1 0h1.1m1.1 0h1.1m1.1 0h3.3m1.1 0h1.1m2.2 0h2.2m1.1 0h1.1m7.7 0h2.2m2.2 0h1.1m3.3 0h1.1m7.7 0h1.1m1.1 0h3.3m1.1 0h1.1m2.2 0h1.1m2.2 0h3.3m4.4 0h1.1m2.2 0h1.1m2.2 0h1.1m1.1 0h1.1m1.1 0h1.1m11 0h1.1m2.2 0h1.1m5.5 0h1.1M689.2 149.6h1.1m15.4 0h1.1m13.2 0h1.1m41.8 0h1.1m6.6 0h2.2m4.4 0h3.3m5.5 0h1.1m7.7 0h1.1m24.2 0h1.1m15.4 0h1.1m5.5 0h1.1m22 0h1.1m1.1 0h1.1m5.5 0h1.1m24.2 0h1.1m3.3 0h1.1m5.5 0h1.1m18.7 0h1.1m42.9 0h1.1m38.5 0h1.1m5.5 0h1.1m8.8 0h1.1m27.5 0h1.1m8.8 0h1.1m14.3 0h1.1" stroke="#1414ff" stroke-width="2.36" fill="none"/>
<path d="M721.1 117.3h1.1m22 0h1.1m11 0h1.1m15.4 0h1.1m20.9 0h1.1m2.2 0h1.1m39.6 0h1.1m24.2 0h1.1m1.1 0h1.1m115.5 0h1.1m41.8 0h1.1m12.1 0h1.1m18.7 0h1.1m9.9 0h1.1m15.4 0h1.1m3.3 0h1.1m12.1 0h1.1M728.8 119.6h2.2m28.6 0h1.1m7.7 0h1.1m55 0h1.1m51.7 0h1.1m3.3 0h1.1m1.1 0h1.1m4.4 0h1.1m1.1 0h1.1m12.1 0h1.1m2.2 0h1.1m66 0h1.1m7.7 0h1.1m12.1 0h1.1m16.5 0h1.1m37.4 0h1.1m14.3 0h1.1m22 0h1.1m4.4 0h1.1m16.5 0h1.1M723.3 121.9h1.1m38.5 0h1.1m4.4 0h1.1m42.9 0h1.1m23.1 0h1.1m6.6 0h1.1m1.1 0h1.1m6.6 0h1.1m9.9 0h1.1m1.1 0h1.1m14.3 0h1.1m5.5 0h2.2m23.1 0h1.1m27.5 0h1.1m25.3 0h1.1m11 0h1.1m45.1 0h1.1m22 0h2.2m8.8 0h1.1m1.1 0h1.1m3.3 0h1.1m12.1 0h1.1m1.1 0h1.1M693.6 124.2h1.1m5.5 0h1.1m95.7 0h1.1m15.4 0h1.1m17.6 0h1.1m4.4 0h1.1m67.1 0h1.1m13.2 0h1.1m2.2 0h1.1m37.4 0h1.1m7.7 0h1.1m29.7 0h1.1m25.3 0h1.1m1.1 0h2.2m8.8 0h1.1m27.5 0h1.1m4.4 0h1.1m27.5 0h1.1M695.8 126.5h1.1m42.9 0h1.1m7.7 0h1.1m22 0h1.1m47.3 0h1.1m27.5 0h2.2m15.4 0h1.1m7.7 0h1.1m25.3 0h1.1m11 0h1.1m22 0h2.2m2.2 0h1.1m1.1 0h1.1m1.1 0h1.1m2.2 0h1.1m15.4 0h1.1m11 0h1.1m18.7 0h1.1m4.4 0h1.1m12.1 0h1.1m20.9 0h1.1m8.8 0h1.1m12.1 0h1.1m6.6 0h1.1m14.3 0h1.1m7.7 0h1.1m12.1 0h1.1m9.9 0h1.1M670.5 128.8h1.1m25.3 0h1.1m15.4 0h1.1m7.7 0h2.2m42.9 0h1.1m19.8 0h1.1m5.5 0h1.1m22 0h1.1m1.1 0h1.1m17.6 0h1.1m1.1 0h1.1m9.9 0h1.1m2.2 0h1.1m17.6 0h1.1m2.2 0h1.1m1.1 0h1.1m22 0h1.1m6.6 0h1.1m2.2 0h1.1m12.1 0h1.1m30.8 0h1.1m7.7 0h1.1m8.8 0h1.1m7.7 0h2.2m24.2 0h1.1m7.7 0h1.1m17.6 0h1.1m1.1 0h1.1m4.4 0h1.1m17.6 0h2.2m9.9 0h1.1m1.1 0h1.1m15.4 0h1.1m1.1 0h1.1m5.5 0h1.1m13.2 0h1.1M698 131.1h1.1m9.9 0h1.1m14.3 0h1.1m1.1 0h1.1m5.5 0h1.1m18.7 0h1.1m25.3 0h2.2m34.1 0h1.1m16.5 0h1.1m1.1 0h1.1m5.5 0h1.1m2.2 0h1.1m1.1 0h1.1m4.4 0h2.2m4.4 0h1.1m7.7 0h1.1m2.2 0h1.1m6.6 0h1.1m12.1 0h1.1m11 0h1.1m1.1 0h1.1m19.8 0h1.1m5.5 0h1.1m13.2 0h1.1m19.8 0h1.1m4.4 0h1.1m4.4 0h1.1m9.9 0h3.3m1.1 0h1.1m5.5 0h1.1m4.4 0h2.2m6.6 0h1.1m1.1 0h2.2m4.4 0h1.1m18.7 0h1.1m19.8 0h1.1m2.2 0h1.1m3.3 0h1.1m7.7 0h1.1m1.1 0h1.1m14.3 0h1.1m7.7 0h1.1m3.3 0h1.1m1.1 0h1.1m1.1 0h2.2M695.8 133.4h1.1m7.7 0h1.1m8.8 0h1.1m17.6 0h1.1m6.6 0h1.1m42.9 0h1.1m7.7 0h1.1m31.9 0h1.1m6.6 0h1.1m7.7 0h1.1m3.3 0h1.1m42.9 0h1.1m7.7 0h1.1m1.1 0h2.2m12.1 0h2.2m2.2 0h1.1m6.6 0h1.1m2.2 0h1.1m4.4 0h1.1m1.1 0h1.1m1.1 0h1.1m7.7 0h2.2m5.5 0h1.1m4.4 0h2.2m29.7 0h1.1m19.8 0h1.1m11 0h1.1m15.4 0h1.1m1.1 0h1.1m4.4 0h1.1m2.2 0h1.1m22 0h1.1m5.5 0h1.1m3.3 0h1.1m9.9 0h1.1m9.9 0h1.1M670.5 135.7h3.3m2.2 0h1.1m2.2 0h2.2m1.1 0h1.1m23.1 0h1.1m2.2 0h1.1m22 0h1.1m11 0h1.1m2.2 0h1.1m4.4 0h2.2m3.3 0h1.1m18.7 0h1.1m14.3 0h1.1m3.3 0h1.1m6.6 0h2.2m4.4 0h2.2m13.2 0h1.1m4.4 0h1.1m5.5 0h1.1m8.8 0h1.1m5.5 0h1.1m20.9 0h1.1m1.1 0h1.1m1.1 0h1.1m12.1 0h1.1m11 0h1.1m1.1 0h2.2m8.8 0h1.1m13.2 0h1.1m15.4 0h1.1m9.9 0h1.1m1.1 0h1.1m5.5 0h1.1m8.8 0h1.1m2.2 0h1.1m6.6 0h1.1m1.1 0h3.3m5.5 0h1.1m6.6 0h1.1m7.7 0h1.1m2.2 0h1.1m4.4 0h2.2m5.5 0h1.1m7.7 0h1.1m22 0h1.1m26.4 0h1.1m1.1 0h1.1m1.1 0h1.1m11 0h1.1m2.2 0h1.1M707.9 138h1.1m37.4 0h1.1m2.2 0h2.2m2.2 0h1.1m13.2 0h2.2m4.4 0h1.1m1.1 0h1.1m14.3 0h1.1m14.3 0h1.1m2.2 0h1.1m1.1 0h1.1m5.5 0h2.2m9.9 0h2.2m1.1 0h1.1m3.3 0h1.1m4.4 0h1.1m8.8 0h1.1m1.1 0h3.3m24.2 0h1.1m2.2 0h1.1m4.4 0h2.2m4.4 0h1.1m2.2 0h2.2m9.9 0h1.1m7.7 0h1.1m1.1 0h1.1m5.5 0h1.1m12.1 0h1.1m14.3 0h2.2m1.1 0h1.1m3.3 0h1.1m4.4 0h1.1m3.3 0h1.1m1.1 0h1.1m3.3 0h1.1m1.1 0h1.1m7.7 0h1.1m4.4 0h2.2m6.6 0h1.1m9.9 0h1.1m4.4 0h1.1m2.2 0h1.1m6.6 0h1.1m4.4 0h2.2m1.1 0h2.2m2.2 0h1.1m14.3 0h1.1m1.1 0h1.1m3.3 0h1.1m3.3 0h1.1m4.4 0h1.1m3.3 0h1.1m4.4 0h2.2m1.1 0h2.2m5.5 0h2.2m13.2 0h1.1M685.9 140.4h1.1m7.7 0h1.1m36.3 0h1.1m5.5 0h1.1m1.1 0h1.1m1.1 0h1.1m9.9 0h2.2m16.5 0h1.1m3.3 0h4.4m2.2 0h1.1m2.2 0h2.2m6.6 0h1.1m3.3 0h1.1m2.2 0h1.1m1.1 0h2.2m5.5 0h1.1m1.1 0h1.1m1.1 0h1.1m16.5 0h1.1m7.7 0h1.1m2.2 0h1.1m11 0h1.1m4.4 0h2.2m6.6 0h1.1m5.5 0h2.2m5.5 0h1.1m5.5 0h1.1m2.2 0h1.1m3.3 0h1.1m7.7 0h2.2m5.5 0h1.1m1.1 0h1.1m2.2 0h1.1m2.2 0h2.2m6.6 0h1.1m1.1 0h1.1m1.1 0h2.2m5.5 0h1.1m1.1 0h1.1m3.3 0h1.1m2.2 0h1.1m2.2 0h1.1m2.2 0h3.3m2.2 0h1.1m4.4 0h1.1m1.1 0h1.1m1.1 0h1.1m3.3 0h4.4m5.5 0h1.1m1.1 0h3.3m1.1 0h1.1m1.1 0h1.1m5.5 0h1.1m4.4 0h3.3m3.3 0h1.1m2.2 0h3.3m4.4 0h1.1m5.5 0h1.1m4.4 0h2.2m2.2 0h1.1m2.2 0h1.1m8.8 0h1.1m3.3 0h1.1m3.3 0h2.2m3.3 0h2.2m3.3 0h1.1m4.4 0h1.1m2.2 0h1.1m4.4 0h2.2m3.3 0h1.1m13.2 0h1.1m1.1 0h2.2M669.4 142.7h1.1m11 0h1.1m6.6 0h1.1m9.9 0h1.1m16.5 0h3.3m3.3 0h1.1m3.3 0h1.1m1.1 0h1.1m13.2 0h1.1m4.4 0h1.1m2.2 0h1.1m14.3 0h1.1m8.8 0h1.1m2.2 0h1.1m17.6 0h2.2m1.1 0h3.3m4.4 0h3.3m5.5 0h2.2m1.1 0h2.2m4.4 0h1.1m3.3 0h1.1m1.1 0h1.1m6.6 0h1.1m5.5 0h1.1m4.4 0h2.2m1.1 0h1.1m2.2 0h1.1m14.3 0h3.3m5.5 0h1.1m1.1 0h1.1m3.3 0h2.2m2.2 0h1.1m8.8 0h2.2m3.3 0h3.3m3.3 0h2.2m1.1 0h1.1m6.6 0h2.2m1.1 0h1.1m3.3 0h1.1m6.6 0h1.1m1.1 0h1.1m1.1 0h3.3m11 0h2.2m2.2 0h1.1m1.1 0h1.1m4.4 0h1.1m1.1 0h1.1m1.1 0h3.3m3.3 0h1.1m12.1 0h1.1m11 0h1.1m3.3 0h1.1m2.2 0h1.1m5.5 0h1.1m1.1 0h3.3m2.2 0h3.3m14.3 0h1.1m2.2 0h1.1m2.2 0h1.1m1.1 0h2.2m6.6 0h1.1m1.1 0h3.3m2.2 0h2.2m9.9 0h1.1m2.2 0h3.3m2.2 0h1.1m3.3 0h2.2m9.9 0h1.1M669.4 145h2.2m3.3 0h1.1m4.4 0h1.1m2.2 0h1.1m4.4 0h2.2m1.1 0h2.2m8.8 0h1.1m2.2 0h2.2m2.2 0h1.1m2.2 0h1.1m1.1 0h2.2m22 0h2.2m1.1 0h1.1m1.1 0h1.1m1.1 0h1.1m3.3 0h1.1m2.2 0h1.1m4.4 0h1.1m1.1 0h3.3m2.2 0h1.1m2.2 0h1.1m1.1 0h1.1m1.1 0h1.1m3.3 0h1.1m3.3 0h2.2m2.2 0h3.3m4.4 0h4.4m3.3 0h1.1m2.2 0h2.2m1.1 0h1.1m1.1 0h1.1m4.4 0h1.1m2.2 0h1.1m1.1 0h4.4m3.3 0h1.1m1.1 0h1.1m1.1 0h1.1m1.1 0h1.1m1.1 0h3.3m3.3 0h1.1m2.2 0h1.1m1.1 0h1.1m4.4 0h1.1m3.3 0h1.1m2.2 0h1.1m2.2 0h1.1m1.1 0h2.2m1.1 0h1.1m2.2 0h1.1m1.1 0h1.1m6.6 0h1.1m2.2 0h3.3m2.2 0h1.1m1.1 0h1.1m3.3 0h1.1m2.2 0h1.1m1.1 0h1.1m2.2 0h1.1m3.3 0h3.3m1.1 0h1.1m4.4 0h1.1m4.4 0h1.1m2.2 0h1.1m2.2 0h2.2m1.1 0h1.1m1.1 0h1.1m4.4 0h1.1m2.2 0h2.2m1.1 0h1.1m1.1 0h1.1m1.1 0h1.1m3.3 0h1.1m8.8 0h1.1m4.4 0h1.1m3.3 0h1.1m1.1 0h1.1m1.1 0h1.1m1.1 0h1.1m2.2 0h1.1m4.4 0h1.1m7.7 0h1.1m1.1 0h1.1m4.4 0h1.1m3.3 0h1.1m2.2 0h2.2m5.5 0h1.1m3.3 0h2.2m2.2 0h1.1m2.2 0h2.2m4.4 0h2.2m1.1 0h1.1m4.4 0h1.1m3.3 0h3.3m5.5 0h1.1m3.3 0h1.1m9.9 0h2.2m3.3 0h1.1m1.1 0h2.2m4.4 0h1.1m3.3 0h2.2m3.3 0h1.1m1.1 0h1.1" stroke="#00d8ff" stroke-width="2.36" fill="none"/>
<path d="M702.4 117.3h1.1m59.4 0h1.1m23.1 0h1.1M755.2 119.6h1.1m77 0h1.1m15.4 0h1.1m37.4 0h1.1m13.2 0h1.1m209 0h1.1M788.2 121.9h1.1m34.1 0h1.1m79.2 0h1.1m31.9 0h1.1m16.5 0h1.1m141.9 0h1.1m1.1 0h1.1m7.7 0h1.1M805.8 124.2h1.1M726.6 126.5h1.1m23.1 0h1.1m29.7 0h1.1m15.4 0h1.1m64.9 0h1.1m63.8 0h1.1m16.5 0h1.1M747.5 128.8h1.1m41.8 0h1.1m100.1 0h1.1m19.8 0h1.1M776.1 131.1h1.1m325.6 0h1.1M693.6 133.4h1.1m4.4 0h1.1m189.2 0h1.1M740.9 135.7h1.1m29.7 0h1.1m62.7 0h1.1m46.2 0h1.1m95.7 0h1.1m88 0h1.1m6.6 0h1.1m11 0h1.1M759.6 138h1.1m24.2 0h1.1m124.3 0h1.1m124.3 0h1.1M672.7 140.4h1.1m7.7 0h1.1m11 0h1.1m33 0h1.1m56.1 0h1.1m119.9 0h1.1M755.2 142.7h1.1m150.7 0h1.1m34.1 0h1.1m13.2 0h1.1M728.8 145h1.1m148.5 0h1.1m1.1 0h1.1m42.9 0h1.1m27.5 0h1.1m62.7 0h1.1m69.3 0h2.2" stroke="#40ff60" stroke-width="2.36" fill="none"/>
<path d="M682.6 147.3h2.2m9.9 0h1.1m2.2 0h1.1m4.4 0h1.1m26.4 0h1.1m7.7 0h1.1m11 0h1.1m1.1 0h1.1m2.2 0h1.1m13.2 0h1.1m22 0h1.1m5.5 0h1.1m17.6 0h1.1m1.1 0h1.1m15.4 0h1.1m7.7 0h1.1m23.1 0h1.1m20.9 0h1.1m3.3 0h1.1m6.6 0h2.2m13.2 0h1.1m13.2 0h1.1m6.6 0h1.1m29.7 0h1.1m20.9 0h2.2m13.2 0h1.1m2.2 0h1.1m28.6 0h1.1m6.6 0h1.1m11 0h2.2m8.8 0h1.1m15.4 0h1.1" stroke="#ff00ff" stroke-width="2.36" fill="none"/>
<path d="M758.7 115.5v10.5M758.7 189.4v-10.5M872.7 115.5v10.5M872.7 189.4v-10.5M986.6 115.5v10.5M986.6 189.4v-10.5M1100.6 115.5v10.5M1100.6 189.4v-10.5M673.2 115.5v4M673.2 189.4v-4M701.7 115.5v4M701.7 189.4v-4M730.2 115.5v4M730.2 189.4v-4M787.2 115.5v4M787.2 189.4v-4M815.7 115.5v4M815.7 189.4v-4M844.2 115.5v4M844.2 189.4v-4M901.1 115.5v4M901.1 189.4v-4M929.6 115.5v4M929.6 189.4v-4M958.1 115.5v4M958.1 189.4v-4M1015.1 115.5v4M1015.1 189.4v-4M1043.6 115.5v4M1043.6 189.4v-4M1072.1 115.5v4M1072.1 189.4v-4" stroke="#000" stroke-width="0.9" fill="none"/>
<path d="M668.8 119.9h2.6M1122.5 119.9h-2.6M668.8 126.2h5.5M1122.5 126.2h-5.5M668.8 140.8h2.6M1122.5 140.8h-2.6M668.8 137.1h2.6M1122.5 137.1h-2.6M668.8 134.5h2.6M1122.5 134.5h-2.6M668.8 132.5h2.6M1122.5 132.5h-2.6M668.8 130.8h2.6M1122.5 130.8h-2.6M668.8 129.4h2.6M1122.5 129.4h-2.6M668.8 128.2h2.6M1122.5 128.2h-2.6M668.8 127.2h2.6M1122.5 127.2h-2.6M668.8 147.1h5.5M1122.5 147.1h-5.5M668.8 161.7h2.6M1122.5 161.7h-2.6M668.8 158h2.6M1122.5 158h-2.6M668.8 155.4h2.6M1122.5 155.4h-2.6M668.8 153.4h2.6M1122.5 153.4h-2.6M668.8 151.7h2.6M1122.5 151.7h-2.6M668.8 150.3h2.6M1122.5 150.3h-2.6M668.8 149.1h2.6M1122.5 149.1h-2.6M668.8 148.1h2.6M1122.5 148.1h-2.6M668.8 168h5.5M1122.5 168h-5.5M668.8 182.6h2.6M1122.5 182.6h-2.6M668.8 178.9h2.6M1122.5 178.9h-2.6M668.8 176.3h2.6M1122.5 176.3h-2.6M668.8 174.3h2.6M1122.5 174.3h-2.6M668.8 172.6h2.6M1122.5 172.6h-2.6M668.8 171.2h2.6M1122.5 171.2h-2.6M668.8 170h2.6M1122.5 170h-2.6M668.8 169h2.6M1122.5 169h-2.6" stroke="#000" stroke-width="0.9" fill="none"/>
<rect x="668.8" y="115.5" width="453.7" height="73.9" fill="none" stroke="#000" stroke-width="1.1"/>
<text x="1125.6" y="130.4" font-size="11" stroke="#000" >10<tspan font-size="9.3" dy="-4.3">4</tspan></text>
<text x="1125.6" y="151.5" font-size="11" stroke="#000" >10<tspan font-size="9.3" dy="-4.3">3</tspan></text>
<text x="1125.6" y="172.4" font-size="11" stroke="#000" >10<tspan font-size="9.3" dy="-4.3">2</tspan></text>
<text x="1125.6" y="193.1" font-size="11" stroke="#000" >10<tspan font-size="9.3" dy="-4.3">1</tspan></text>
<text x="1155.4" y="152.8" font-size="11" text-anchor="middle" transform="rotate(-90 1155.4 152.8)" stroke="#000" >Energy (eV)</text>
<g clip-path="url(#c10)">
<line x1="668.8" y1="201.6" x2="1122.5" y2="201.6" stroke="#333" stroke-width="1.1" stroke-dasharray="4.2 2.4" />
<path d="M669.4 237.9l.4-4.2.4-6.8.4 5.5.4-2 .4.6.4 2.1.4-3.2.4-1.7.4 4.7.4-4.3.4 4.7.4-2 .4-5.4.4.9.4 3.5.4-.1.4 11.7.4-3.6.4-5.9.4-.5.4 5.7.4-9.8.4 8.7.4 1.1.4-3.9.4-3.9.4-.7.4-2 .4 10.7.4 2.3.4-4.9.4-4.4.4 4.3.4 2.1.4-1.4.4 4.2.4-2.8.4-9.4.4 10 .4-8.6.4 2.8.4 4.4.4-3.3.4 5.4.4-.3.4.9.4.2.4-4.3.4-.5.4 6.9.4.4.4-4.5.4.6.4 5.4.4-7.2.4-2.1.4 6.9.4.8.4-4.1.4 2 .4-.7.4 0 .4 14.2.4-16.8.4-5 .4 5.7.4-1.7.4-1 .4 4.5.4-7.1.4.3.4 6.5.4-8.4.4-3.4.4 7.8.4-6.1.4-2.5.4 6.7.4-1.2.4 4.1.4-.2.4-1.9.4-1.4.4 3.7.4-2.7.4-4 .4.4.4-3.9.4 11.6.4-10.4.4 4.8.4 8.2.4-7.8.4 2.5.4-4 .4 3.9.4 3.7.4-3.7.4 2.6.4-1.2.4 1.5.4-7.8.4.9.4-.7.4 3.3.4-3.7.4 4.7.4-2.9.4 4.5.4-7.6.4-1 .4 3.4.4-8.6.4 0 .4 12 .4-2.9.4.6.4 0 .4.7.4-3.2.4 4.7.4-.7.4-3.3.4-4.6.4 7 .4 6.8.4-7.4.4 2.7.4-7.3.4 7.3.4-4.4.4 10.6.4-14.3.4 1.7.4-5 .4 7.4.4-2 .4 6.7.4-.5.4-4.9.4 9.4.4-3 .4-13.1.4 6.9.4 3.9.4-.5.4-1.4.4-1.3.4-3.5.4 13.9.4-7.3.4.1.4-2.2.4 1.6.4-8.1.4 8.9.4-5 .4 1.2.4 4.1.4 4.9.4-8.5.4-2.2.4 5 .4-2.6.4-2.6.4 6.2.4-11.2.4.8.4 8.5.4-9.1.4 10.2.4-1.4.4 1.5.4.1.4-9.6.4 3.9.4-3.6.4 4.8.4-.5.4 2.5.4 7.6.4-2.4.4-6.3.4 4.2.4-6.2.4 4 .4 3.9.4-8.4.4-4.6.4 10.3.4-3.9.4-.8.4-4.9.4 2.7.4-.5.4 1.9.4 4.6.4-8.1.4 12.6.4.2.4-4.2.4 2.6.4 5.5.4.6.4-6.8.4-2.3.4-11.9.4 12 .4 2.1.4-7.3.4 4.4.4-3.9.4.2.4 6.8.4-3.7.4-5.4.4 6.1.4-5 .4-6.5.4 11.9.4 8.3.4 3.2.4-10.2.4-7.2.4 6.1.4-7.9.4 8.8.4-2.1.4-8.8.4-.4.4-8 .4 18.1.4-11.9.4 10.1.4 5.1.4.4.4-7.7.4 7.2.4 6.9.4-2.6.4-11.9.4-3.8.4 3.3.4-1.2.4 4.5.4-1.9.4-.3.4 3.3.4 2.4.4-2.3.4 2.5.4 7.8.4-5.6.4-1.4.4-8.8.4 14 .4-8.4.4 1.4.4-7.3.4-11.7.4 7.3.4 11 .4-8.5.4 5.6.4 2.3.4 8.1.4-7.6.4 5.6.4-10.9.4-17.4.4 21.1.4-11 .4 9.2.4 0 .4 4.7.4-4.8.4 1.2.4-5.4.4 12.9.4-7.4.4 5 .4-10.8.4 10.5.4-7.8.4 4.3.4 3.1.4-1.8.4 3.6.4-3.2.4-.8.4-1.4.4.6.4-6.5.4-11.9.4 20.8.4-2.5.4-3.4.4 1.9.4-5.9.4 9.8.4-17.5.4 9.8.4-.7.4 6.3.4 1.5.4 12.2.4-16.7.4-3.7.4 4.8.4 1.6.4 1.5.4 1.6.4-4.1.4-4 .4-3.5.4 6.7.4-2.5.4-.7.4-4.4.4-.2.4-1.4.4-.9.4 5.7.4-3.3.4 2.1.4-3.5.4 4.7.4-4.8.4-1 .4 6.1.4-4.2.4-.3.4-3.2.4 7.8.4 2.2.4 3.1.4-9 .4 7.4.4-8.1.4.4.4.6.4 2.3.4 3.4.4 3.2.4-3.4.4-5.6.4-10.3.4 5.2.4 8.2.4-6.2.4-1.7.4 7.3.4-3 .4 3.7.4-.2.4-1.4.4-10.5.4 11.7.4-15.4.4 10 .4 10.9.4-16.2.4 5 .4-6.4.4 3.1.4-3.1.4 4.9.4 3.8.4-3.5.4-4.3.4-.2.4 4.4.4-5 .4 9.6.4-3.4.4-12.9.4 6.7.4-.7.4 0 .4 3.7.4 3.7.4 8.8.4-2.5.4-4.5.4-7.3.4 7.4.4-4 .4-5.9.4-.2.4 10.1.4-7.5.4 5 .4 4.4.4 4.9.4-7.9.4-4.6.4 10.3.4-7 .4.9.4 1 .4-6.6.4 4.1.4 2.4.4-5.9.4-2.9.4.3.4 2 .4-3.7.4 12.3.4 3.5.4-6.9.4 14.3.4-18.6.4 4.6.4.5.4-1.3.4-1.8.4 8.7.4-2.5.4-5.7.4-2.2.4-2.2.4-4.5.4 7.1.4-.3.4-.2.4.7.4.7.4 6.3.4-5.4.4-8.7.4 4.7.4 3 .4.1.4 5.9.4 1 .4-8.1.4 1.5.4 2.2.4-7.5.4-10.5.4 16.7.4-7.8.4-11.7.4 11.3.4 1.3.4-11.4.4 8.4.4-.6.4-7.2.4 6.7.4.9.4-.7.4-6.8.4 14.7.4-1.6.4-4.5.4 1.5.4-3.7.4 3.5.4-.6.4-.7.4 1.2.4-16.8.4-1.1.4 12.7.4 1.1.4-13.7.4 20.7.4-6.8.4-1.1.4-2 .4 4.9.4 2.1.4 3.3.4-8.7.4 8.4.4-8.7.4 4.1.4.9.4-4.8.4-6.3.4 7.3.4 4.6.4 3.3.4 4.3.4-7 .4 1.6.4-5.4.4 1 .4-5.5.4 11 .4-1.9.4 4.1.4-4.8.4.6.4 5.7.4-6.6.4 3.4.4-11 .4 5.2.4 1.4.4-1.3.4 14.3.4-3.4.4-5.9.4 2.6.4 13.1.4-7.9.4-4.5.4-3.4.4-2.5.4 3.3.4 4.2.4 1.5.4-6.5.4 2.2.4 4 .4-10.9.4 13.8.4-8.5.4.5.4 3.8.4-.3.4 1.9.4-6.2.4 6.1.4-5.3.4 5.4.4 10.4.4-11.3.4 1.5.4-4.7.4-2.2.4-.3.4.5.4 3.8.4 13.9.4-12.4.4 2.8.4 2.9.4-1.8.4-.4.4 1.9.4-3.4.4 1.6.4 1.3.4.2.4-9.2.4 5.2.4-3.6.4 5.9.4-2.3.4 2.6.4 4.9.4-12.5.4 2.7.4-3 .4 2.3.4 8.5.4-8.2.4 5.1.4-3.7.4-1.9.4 4.5.4-3.2.4-3.2.4 14.3.4-6 .4-3.6.4 2.7.4-5.2.4 9.9.4-4.3.4-3 .4-4.5.4 8.7.4.9.4 7.7.4-11.7.4.5.4-4 .4-9.7.4 3.3.4.7.4 9 .4-1.7.4 3.4.4.5.4-4.8.4 10.6.4-4.8.4-4.8.4 3.4.4-1.3.4 2.6.4-2.6.4 3.7.4-2.9.4-.9.4-1.6.4.5.4 8.4.4-6.1.4-1.1.4 1.4.4-.7.4-4.6.4 1.6.4 3.7.4 1.6.4-14.6.4 14.7.4.1.4 3.9.4-5.3.4-4.2.4 5.6.4-3.4.4 9 .4-1.8.4-1.8.4.2.4-4.1.4.8.4-1 .4-3.9.4.5.4 3.7.4-1.4.4.3.4 2.7.4-1.1.4-3.2.4 6.7.4-2 .4 3.1.4-2 .4-4.2.4 3.3.4 3.8.4 2.6.4-3.2.4-5.1.4-6.5.4 4.5.4-2.5.4 0 .4 3.4.4 1.9.4 2.2.4-6 .4 6.3.4-.4.4-1.2.4 7.9.4-12.2.4 4 .4 0 .4-.6.4-1.8.4.3.4-9.7.4.1.4 6.2.4-1.5.4-1 .4-1 .4-.1.4 8.9.4-.5.4 1.9.4-10.1.4 4.5.4-5.6.4 1.3.4 6.1.4 2 .4-4.3.4 6.5.4-1 .4 8.8.4-7 .4-2.6.4-8.1.4-1.7.4-.8.4-.3.4 3.4.4 4.9.4 1.8.4-3.1.4-7.8.4-7 .4 5.9.4 4.4.4-7.7.4 1.3.4 5.4.4 1.9.4.8.4-1.1.4-6.8.4 3.3.4 2.5.4 9.3.4-10.2.4 6.2.4-1.4.4-8.3.4-.5.4-3.8.4 11.1.4-.2.4-8.9.4-1.8.4 4.8.4 8.9.4-1.5.4 4.6.4-10.5.4 3.5.4-7.5.4-5.5.4 4.3.4 1.1.4.8.4-4.7.4 14.2.4-5.8.4-2.4.4 5.8.4-16 .4 8.5.4-3.6.4 10.6.4-5.2.4-3.4.4 3 .4 1.1.4 4.2.4-11.4.4-3 .4 8.6.4-3.9.4 6.6.4.9.4-8.5.4.9.4 9.6.4-14.8.4 8.5.4-9.2.4 10.1.4 0 .4-.5.4 4 .4-5.3.4 1.9.4-.1.4 3.5.4-15.1.4 26.1.4-14 .4 8.1.4-3.3.4-9.4.4 7.3.4 5.1.4-4 .4-1.4.4.1.4 3.3.4 1.3.4-3.5.4 4.5.4 1 .4-1 .4 5.8.4-.5.4-8.9.4 7.8.4-.7.4 2.2.4-10.4.4 6.7.4-7.7.4-1.9.4 4.7.4.9.4-.4.4-1.6.4 4.5.4-3.2.4.7.4 10.4.4-3.8.4-3.6.4 1.6.4 3.9.4-5.8.4 4 .4 1.2.4-5.1.4 1.8.4 1.6.4 6.5.4 2.6.4-5.6.4-9 .4 1.7.4 1 .4 8 .4 1.4.4-5.7.4 3.3.4-5.2.4 5.5.4 3.6.4 6.8.4-5.9.4-.9.4 9.7.4-8.9.4 1.7.4-7.2.4-2.5.4 12.3.4 3.7.4-7.5.4 11 .4-9 .4-3.3.4-.7.4 4.6.4-5.2.4-5.6.4 4.1.4 10.2.4-7.4.4 5.4.4-2 .4.3.4-6.3.4 4 .4.4.4 3.4.4-3.1.4-.3.4 1.7.4 4.4.4-3.5.4-1.2.4-2.2.4.1.4 3.6.4 3.4.4-6.1.4-1.5.4 9.6.4.3.4-5.9.4-1 .4 6 .4-9.8.4 4.3.4.3.4-.1.4-3.9.4 5.3.4 2.6.4 1 .4-5.6.4 3.4.4 2.8.4-6.9.4 3.3.4-4.5.4 2.8.4 6.2.4-7 .4 1.4.4 3.4.4 1.5.4-2 .4.1.4-3.4.4-1.1.4.9.4-3.8.4 4.2.4 5.1.4 2.3.4-4.6.4-2.7.4-.9.4 2.8.4-4.4.4 8.3.4-4.9.4-4.9.4 6.2.4-3.8.4 3.8.4-2.1.4-2.5.4-1.5.4 6.3.4-.2.4-5.1.4-1.5.4 2.5.4.6.4-2.8.4 2.6.4-1.2.4 2.5.4.4.4-1.9.4-5.1.4.9.4-.9.4 3.2.4-2.9.4 4.9.4-4.6.4 2.4.4-.8.4-.9.4-.3.4-3.2.4 2.5.4-1.5.4 2.4.4-.9.4.8.4-.3.4-2 .4-3.5.4 9.9.4-1.7.4-.7.4 1.4.4 1.7.4-4.2.4-1.2.4-.8.4 4.9.4 1.1.4-5.8.4 5 .4-2 .4-4.9.4 2.3.4 5.6.4-11.5.4 3.8.4-3.8.4 6.9.4 5.9.4 3.7.4-6 .4-3 .4-.7.4 1.7.4 6.6.4-3.8.4-5.4.4 2.1.4-3 .4.9.4 6.4.4-.1.4-6.3.4.1.4.2.4 4.8.4-2.4.4 2.4.4-2.3.4 1.8.4-2.7.4-3.2.4 6.1.4.6.4-3.3.4-3.6.4 2.6.4.3.4-.7.4 1.5.4-2.5.4-1.2.4 3.7.4-1.5.4-5.3.4 2.3.4 1 .4-1.8.4 2 .4 2.8.4-4 .4 1.2.4 7.2.4-5.7.4.3.4 5.1.4-5.7.4-3.3.4 2.1.4-2.2.4 2.4.4 4.2.4-7 .4 6.1.4.9.4-2 .4-5.4.4 12.9.4-5.6.4-3.8.4.8.4 6.4.4-8.1.4-2 .4 6.1.4-2.2.4-1.2.4 1.3.4 1.6.4-1.5.4 2.9.4 1.4.4-1 .4-4.7.4 1.5.4-5.1.4.4.4 4.6.4 1.4.4-4 .4-3.8.4 10 .4-6.1.4 1.9.4 1.7.4-2.6.4-2.8.4 1.7.4 7.6.4-3.9.4.1.4-1.3.4 4.8.4 2.8.4 0 .4-6.9.4-3.8.4 5.5.4-5.5.4 3.8.4 1.1.4-3.1.4-8.6.4 12.6.4 3.5.4-2.8.4-1.4.4.8.4 9.9.4-6 .4.5.4-5.5.4-2.4.4 6.1.4-.7.4 1 .4-1.5.4-5.7.4-1.1.4 8.5.4-.4.4-4.4.4 3.7.4-3.8.4 1.9.4-.4.4 3.2.4-.4.4 2.4.4 2.5.4 1.1.4-4.7.4-2.9.4-3.2.4 7.9.4 1.6.4-1.8.4-6.8.4-12.2.4 9.7.4 5.8.4 4.6.4-.3.4-4.5.4-2.2.4 3.5.4 3.6.4.7.4-.5.4-2.7.4-1.6.4 3.1.4-2.5.4-3.9.4-.7.4-.4.4 4.1.4 4.8.4-1.5.4 3.7.4-2.6.4-1.4.4-.8.4 6.8.4-3.5.4 1.2.4-2.8.4-2.2.4 2.9.4 1.6" fill="none" stroke="#1010ff" stroke-width="1.05" stroke-linejoin="round" />
<path d="M669.4 227.4l.4 2.8.4 4 .4-1.3.4 7.5.4 7.1.4-17.9.4 5.5.4-3.2.4-1.2.4 3.3.4-.5.4-4.5.4 6.8.4 4.8.4-18.3.4 10.1.4-.3.4-5.7.4 7.9.4-5 .4 3 .4 12.6.4-4.8.4-9.7.4-.4.4 4.1.4 4.2.4-4.1.4-2.1.4-2 .4 1.8.4.5.4-2.6.4 1.9.4-4 .4 5.3.4 7.6.4 6.2.4-9.9.4-4.9.4 6.3.4.7.4-4 .4-7.7.4 5.4.4-.3.4-9.1.4.8.4 9.9.4 5.3.4 1.5.4-8.4.4-3.1.4.1.4 2.4.4.9.4.6.4 8.1.4-4.7.4 1 .4 1.6.4-6.7.4-3.7.4 7.1.4 1.3.4-1.7.4 3 .4-9.1.4 11.1.4-11.7.4-6.6.4 16 .4-9.1.4-.3.4-6.5.4 12 .4-9.5.4 6.8.4-4.5.4 10.2.4-11 .4 3 .4 5.2.4-11 .4 10.6.4-4.4.4 1.9.4-7.5.4 23.5.4-13.4.4-.9.4-2.4.4 5.3.4 1.5.4-2.6.4 3.4.4.5.4-1.7.4-11.7.4 3.2.4 9.2.4 0 .4-.7.4-10.6.4 4.2.4-5.9.4 1.7.4-.8.4-8 .4 9.8.4.9.4 6.4.4.5.4-3.5.4-7.4.4 7.7.4-12.9.4 5.4.4 7.3.4-.7.4-1.1.4.6.4-1.5.4 11.6.4-.5.4-7.2.4 3.2.4 1.6.4-13.4.4 12.2.4.3.4-4 .4-3.1.4 7.9.4-7 .4 5.9.4-2.7.4 7.2.4-8.6.4-.7.4 5.3.4 13.1.4-3 .4-12 .4-4.6.4 7.9.4-5.4.4 4.1.4-4.2.4 2.9.4-9.3.4-1.5.4-1.6.4 5.6.4 10.5.4-4.3.4-.1.4-14.5.4 8 .4-5.6.4 9.8.4-6.1.4 3.8.4.1.4-6.8.4 3.4.4-2.8.4 0 .4-4.2.4 5.2.4 12.4.4-9.4.4-10.2.4 3.8.4-1.9.4 7.6.4-8.5.4.5.4 3.1.4 2.6.4-1.4.4 5 .4-.5.4 2.3.4.5.4-1.8.4-9.8.4 2 .4 12.3.4-16.5.4 3.4.4 4.1.4-.8.4 1 .4 1.4.4 2.2.4.7.4-3.1.4 6.8.4-5.5.4.8.4-2.1.4-1.3.4 3.1.4-3.9.4 2.6.4 4.6.4-4.9.4 11.7.4-17.9.4 8.4.4 5.5.4-13.7.4 5.4.4.1.4-9.4.4 22.4.4-6.6.4-3.8.4-1.5.4-4.1.4 8.8.4 1.6.4 1.8.4-10.8.4 8.8.4-9 .4 10.5.4-11.5.4-4.6.4 10.5.4-3.2.4-14.3.4 4.9.4.6.4 4.1.4 1.6.4-2.6.4 7.1.4-3.1.4-3 .4-.4.4 7.2.4-4.1.4 1.1.4-2.2.4 4.7.4-5.2.4 3.8.4-8.2.4.8.4 11.7.4-18.5.4 7.4.4 6.6.4-3.9.4.7.4 1.6.4 2 .4-6.9.4 9.1.4-3.1.4-3.2.4 1 .4-1 .4 7.5.4-3.6.4 5 .4 2.1.4-6.9.4-3 .4 2.3.4 2.4.4-1.1.4 0 .4-8.2.4 8.7.4-.5.4-.8.4 2.4.4 5.1.4-12.5.4 17.7.4-7.1.4-3.1.4 3.2.4-9.2.4-5.7.4 13.8.4-9.5.4-6.7.4 5.7.4 2.8.4-6.4.4 14.2.4 3.6.4-2.9.4-1.9.4-2.5.4.3.4 2.3.4-13 .4-2.1.4 4.7.4 1.7.4 3.3.4-3.7.4-8.5.4 2.1.4-1.5.4 6.9.4-3.4.4.8.4 6.9.4 6.3.4 1 .4-8.3.4-6.1.4 10.6.4 1.2.4-.7.4.2.4-4.8.4 4.4.4-12.3.4 12 .4.7.4-14 .4 4.1.4 12.2.4-6 .4.1.4 10.7.4-21.6.4 12.2.4-6.4.4-1.7.4-1.4.4-2.9.4-6.3.4 7 .4 4.8.4-4.6.4 2.7.4 10.9.4 5 .4-3.6.4 1.3.4 9.2.4-26.6.4-3.8.4 5.9.4 6.4.4 8.3.4-4 .4-.5.4-6 .4 15.9.4-13.6.4-4.2.4 6.8.4-2.8.4 3.4.4-6.9.4 9.6.4-11.7.4 7.2.4 2.6.4-3.5.4 5.7.4-7.1.4 1.9.4.5.4 4.4.4-2.1.4.2.4-1.2.4 1.2.4-.9.4-5.8.4-.4.4 9.7.4 1.6.4-.7.4-9.8.4 10.2.4-7.5.4.2.4-3.5.4 4.6.4 13.4.4-1.1.4-4.2.4-1.1.4 2.5.4.4.4-9.4.4 7.8.4 2.3.4-7.1.4-11.4.4 13.1.4-.4.4-.1.4 2.9.4.1.4 1.2.4-9.3.4 1.2.4 1.5.4 3.8.4 5.5.4-11.1.4 8.8.4-2.3.4-1 .4 1.1.4 2.6.4-3.4.4-6.5.4.9.4 6 .4-6.5.4-6.3.4 10.4.4-1.5.4 5.3.4-14.1.4 5 .4-3.5.4 9.1.4-3.6.4 5.6.4.2.4-3.7.4-.2.4.9.4-4.6.4-4.9.4 7.5.4-1.4.4-.1.4 1.3.4-6 .4 10.2.4-2.6.4-4.3.4 5.1.4-.5.4 1.9.4-3.8.4 4.7.4 1 .4 5.3.4-5.9.4 1.8.4-3 .4-12.3.4 6.7.4 1.5.4 2 .4-3.8.4 7.1.4.2.4-4 .4 4.1.4 2.4.4.8.4-6.1.4-6.5.4 5.7.4 2.5.4-.3.4 2.1.4-6.3.4-1.3.4-16.2.4 20.8.4-4.4.4-.8.4-4.7.4 1.7.4 2.7.4 6.6.4 0 .4-8.9.4 11.4.4-3.2.4-6.6.4 6.5.4-3.1.4 6.2.4-8.9.4 9 .4-1.7.4-11.3.4 11.8.4-10.6.4 4.6.4-3.9.4 7.1.4 1.1.4-5.7.4 6.1.4-1.1.4 22.4.4-13.4.4-12.7.4-7.3.4 6 .4-9 .4 2.2.4 11.5.4.2.4 13.3.4-13.5.4-12.4.4 7.9.4-3.1.4 2.2.4-7.2.4 4.8.4-9.1.4 13.7.4-1.5.4 4.7.4.8.4-9.4.4 5.4.4 6.7.4-6.5.4 5.8.4-7.6.4 4.1.4-4.5.4-5.2.4-5.9.4-5.1.4 11.6.4-2.6.4 2.4.4 7 .4-8.1.4.6.4 7 .4-2.1.4 4.3.4-4.4.4-4.3.4-3.7.4 4.8.4 15.2.4-5.1.4-2.5.4-.6.4-4.8.4 10.7.4-13.8.4 2.8.4-2.4.4-1.7.4 1.7.4-.5.4 4.2.4 4.6.4-.4.4-1.9.4 2.3.4-1.9.4 4.6.4-5.2.4 9.2.4 1.5.4 3.1.4-20.8.4 7.8.4 5 .4 3.8.4.6.4-13.2.4 11 .4 4.1.4 3.9.4-3.4.4-15.2.4 5.6.4-.9.4-3 .4-17.4.4 25.3.4 4.2.4-11.9.4-.1.4 9.5.4-6.8.4 12.5.4-3.5.4-6 .4-3.4.4 7 .4 2.7.4-11.3.4 4.5.4 4.6.4-.3.4-.3.4-12.2.4-4.7.4 7 .4 10 .4 3.2.4-4.6.4-3.4.4 2.6.4-6.1.4 6.1.4 2.4.4-3.1.4 1.3.4-1.6.4-1.1.4 10 .4-12.8.4 14.6.4-9.5.4 15.5.4-5.7.4 1.4.4-7.5.4-1.3.4 6.1.4-4.8.4-7.5.4-1.9.4-3.5.4 10.4.4-.5.4 5 .4-1.2.4 5.7.4-4.3.4-10 .4 5.2.4 8.5.4-13.5.4-9.7.4 16.7.4-5.9.4 10.7.4-.2.4-8.1.4-3.7.4 1.9.4 9.4.4-4.9.4-8.9.4-.3.4 9 .4.2.4-6.7.4 2.4.4-1.8.4 8.7.4-7 .4-5.2.4 7.6.4-6.3.4.5.4.1.4 9.2.4-3.5.4 4 .4-5.1.4 13.4.4-5.7.4-9.7.4 1.4.4 6.7.4 3.4.4-9.2.4 2.1.4 1.3.4 10.6.4-9.2.4-2.2.4-4.9.4 2.9.4 8 .4-8.9.4 2.2.4-1 .4-1.7.4-1.2.4 6.2.4 1.9.4 2.7.4-12.3.4.7.4-5.1.4 15.9.4-4.1.4 1.3.4-.7.4.3.4 2.3.4-11.5.4 8.6.4-3.8.4.4.4-7.2.4 1.6.4-.9.4 21 .4-8.6.4.8.4-9 .4 7.1.4-4.3.4-.2.4-6.4.4 3.3.4 6.2.4-11.4.4 12.3.4.5.4-.7.4-2.7.4-8.5.4 12 .4-1 .4 1.9.4-1.8.4-4.8.4 2.5.4-.9.4 3.6.4-2.1.4-4.2.4 7 .4-9.7.4 22.8.4-12 .4-1.9.4-10.7.4 5.4.4 1.5.4 4.3.4-6.1.4 1.6.4 8.8.4-9.8.4 5.3.4-7 .4 6.2.4-13.9.4 13.7.4 10.1.4-1.8.4-10 .4 3.7.4-5.6.4 6.6.4-9.2.4-3.4.4 13 .4-6 .4-3.4.4-1.8.4 4 .4-.4.4-4.2.4 7.6.4 5.3.4-5.4.4-10.1.4-1.6.4 2.2.4 7.1.4 1.2.4-1.2.4 4.2.4-4.8.4 29.3.4-26.4.4-.1.4 3.3.4 2.5.4-8.2.4.1.4 2.8.4-4.5.4-1.5.4 2.7.4 3.4.4-4.8.4-.7.4-4.6.4 5.1.4-.7.4 3.3.4-6.5.4 6.7.4-4.1.4 1.4.4 3 .4-5 .4 3.5.4-9 .4 8 .4-8.3.4 6.8.4-11.2.4 3.6.4 9.7.4 2 .4-4.7.4-4 .4-1.8.4 12.2.4-4.8.4 7.2.4 3.2.4-21.1.4 5 .4.8.4 5.6.4-3.9.4-3.6.4 4.5.4 2 .4-.4.4-4.9.4 2.5.4.7.4.6.4-2 .4-6.2.4 3.9.4 7.8.4-4.6.4 4.7.4-10.1.4 2.9.4-9.2.4 9.2.4-2.9.4.4.4-1.3.4 5 .4-3.3.4 4.7.4-4.1.4.9.4 3.5.4 5.5.4-.8.4-7.1.4-8.1.4 5.1.4 3.6.4-1.6.4 4.2.4 1.9.4 2.2.4-10.2.4-1.2.4 4.1.4-2.1.4-1 .4 2.5.4.8.4-.7.4 1.4.4-2.9.4-1.7.4 4 .4-2.2.4-1.6.4-.4.4-1.9.4 2.2.4 3.6.4.3.4 1 .4-.6.4 2.9.4-7.6.4-7.1.4 2.2.4 6.7.4-4.9.4 3.6.4.8.4-2.9.4 3.9.4-2.1.4-4.1.4 3.9.4-11.5.4 9.9.4 4.4.4-3.3.4-.8.4-7.8.4 6.4.4-2 .4-.1.4 2.5.4-4.4.4-3.4.4 2.4.4 1.2.4 10 .4-4.2.4-2.7.4 4.6.4-2.3.4 3.1.4-3.7.4-3.3.4-.3.4-2.6.4 4.6.4 1.8.4 12.2.4-9.1.4-2 .4-3.5.4-1.5.4 2.7.4 2.3.4-4.1.4-2.3.4 5.3.4-2.7.4-1.4.4 1.5.4 7 .4-4.4.4-6.9.4 2.8.4 2.5.4 3.1.4-4.2.4-1.2.4-1.4.4-.6.4 6.8.4.6.4-2.1.4 1.7.4-2.8.4-2.3.4-2.1.4-1.2.4 1.8.4 1.5.4-.4.4-1.4.4 1.1.4 2.7.4-5.6.4 4.6.4-2.7.4.3.4.1.4-1.2.4 3.9.4 2.4.4.6.4-3 .4-4.8.4 4.4.4-1.3.4 5.8.4-1.7.4-5.5.4 4.8.4-4.5.4 2.7.4 2.2.4.3.4-1.5.4-5.1.4 2.9.4 3.9.4-2.5.4.5.4.3.4-1.1.4-2.5.4-2.7.4 5.7.4 3.5.4-8.9.4-4.1.4 1.3.4.5.4 5.7.4 1.7.4 1.4.4-3.8.4 3.2.4 1.9.4-6.4.4 5.3.4-.5.4-1.7.4-3.3.4-1 .4 5.1.4 1.9.4-4.3.4-4.1.4 3.2.4 4.4.4-1.6.4 1.6.4-6.5.4 1.1.4-2.8.4-.7.4.6.4 2.3.4-2.1.4.4.4-2.8.4 9.7.4-3 .4-.5.4-.9.4-6.3.4 8.8.4 0 .4-7.8.4 7.5.4-2.8.4.4.4-3.3.4 7.7.4-3.5.4.5.4-1.9.4-2.3.4-.2.4 1.1.4 1 .4-3.1.4 5.1.4-9.4.4 8.8.4-5.6.4-.4.4 1.2.4-5.8.4 9.9.4-9.5.4 2.8.4-.1.4 2.2.4 6 .4-1.4.4-.3.4-2.3.4 5.6.4-3.5.4 1.3.4-3.6.4-.4.4 1.4.4 1.7.4-1.2.4-1.4.4 5.9.4-1.8.4-2.5.4-2.1.4 1.3.4 5.6.4-6.9.4 1 .4.8.4.5.4-1 .4 2.2.4-1.8.4 1.2.4-7.1.4 13.4.4-7.4.4 2.7.4 8.7.4-1.6.4-6.6.4 2 .4-1.9.4 4.6.4-6 .4.9.4 3.1.4-2.5.4-1.3.4 3.4.4-4.9.4.4.4-.5.4 2.1.4 5.5.4.7.4-3.5.4 3.2.4-1.6.4-.5.4-2.8.4 0 .4 5.9.4 2.8.4-7 .4 2.1.4-3.2.4 2.8.4-.2.4 2.1.4-3.2.4 5.8.4-8.4.4 5 .4-1.7.4 5.9.4-5.6.4 2.8" fill="none" stroke="#10ee10" stroke-width="1.05" stroke-linejoin="round" />
<path d="M669.4 223.8l.4.8.4-.7.4-5 .4 3.7.4.6.4 9.7.4-8.4.4 1.1.4 1.3.4-6.7.4 3 .4-1 .4-10.1.4 12.1.4 1.1.4-7.2.4 7.6.4.7.4-5.6.4-.9.4 2.4.4-3.8.4 2.1.4 3.9.4-4.6.4 3.7.4-2.3.4-3.2.4 4 .4 3.9.4 2.7.4-4.5.4-4.8.4 2.8.4-7.8.4 5.1.4 7.1.4-3.6.4.9.4-2.7.4-4 .4 2.3.4 3.1.4 2.7.4-8.2.4 8.8.4-3.1.4-7.2.4 2.2.4 2.5.4-3 .4-1.1.4 7.1.4-1.2.4 5.8.4 2.7.4-16.1.4 4 .4-.9.4 3.2.4-5 .4-2 .4 8.1.4-5.1.4 3.5.4-1.1.4 2.2.4 2.8.4-.6.4 3.1.4-3.9.4-1 .4 1.3.4-3.4.4-1.6.4-3.1.4 8 .4-8.9.4 10.5.4.3.4-6 .4 3.5.4-2.8.4 3 .4-7.1.4 4.4.4-3 .4.5.4 2.6.4-6.2.4 1.6.4 4 .4 7.3.4-1.8.4-8.8.4-1.6.4 5.7.4.2.4 1.4.4-1 .4-3.8.4-3.4.4.8.4 5.5.4 3.9.4-.5.4 3.9.4-8.2.4 7.7.4-5.6.4-2.2.4 1.5.4-.1.4-2.1.4 4.6.4-6.9.4 3.5.4.1.4-4.4.4 1.9.4 7.9.4-2.8.4-10.8.4.9.4-.4.4 0 .4 6.2.4-.6.4-.3.4-2.9.4 2.5.4 6.3.4-13.9.4 1.9.4 5 .4 2.6.4 2.2.4-10 .4 7.7.4-6.5.4 4 .4-3.2.4 7 .4-6.4.4-7.6.4 4 .4-3.3.4 12.2.4-4.8.4 7.5.4-.5.4 3.6.4-5.1.4-3.1.4-8 .4 3.2.4 4.6.4-1.8.4-2.1.4 8.6.4-3.6.4-3.3.4 5.3.4-8.5.4 7.3.4 4.8.4-5.7.4-4.3.4 1.9.4 2 .4-1 .4.6.4-6 .4-.6.4.3.4 8.3.4-1.3.4.3.4-4.5.4 4.2.4-5.1.4-3.9.4 6.5.4 6.8.4-7.3.4-3.5.4 10.2.4-7.5.4 5.6.4-2.1.4-4.8.4 3.9.4 3.6.4-7.7.4 5.2.4 1.9.4-8.1.4 8.1.4 1 .4-1.9.4-1.5.4-1.1.4 4 .4 5.1.4-4.3.4-5 .4-1.4.4-4.6.4 1.9.4 1.5.4 3.1.4 5.5.4 5.8.4-.5.4-12.1.4 3.1.4 5.5.4-.4.4-3.1.4 7 .4-8 .4.6.4-1.3.4 1 .4 3.5.4-6.7.4 4.4.4-3.5.4 2.9.4-1 .4 4.3.4-1.4.4.1.4-5.9.4-3.9.4 8 .4 3.9.4-4 .4.5.4 1.9.4-.6.4 5.4.4-3.9.4-5.2.4-1.1.4 3.7.4 3.8.4 1.6.4-2.4.4-7.4.4-5.6.4 4.4.4 2 .4-1.7.4-.2.4 3.8.4-3.1.4 2 .4 0 .4 5.2.4-3.4.4 3.6.4-7.4.4 10.2.4-3.3.4-2.4.4-1 .4-4.2.4-1.7.4 6.9.4 7.2.4-8.4.4 5.4.4 3.6.4-4.3.4 6.2.4-5.7.4-7.1.4-.2.4 8.6.4-6.3.4 3.3.4-6.9.4-6.3.4.7.4 15.2.4-2.5.4-4.9.4.6.4-.2.4-.9.4.7.4 1.5.4.8.4-2.7.4 7.5.4.8.4-3.9.4-6.3.4 7 .4 4 .4-2.2.4 1.1.4 3.8.4-7.6.4-4.6.4 3.4.4-7 .4-3.2.4 5.2.4 4.4.4-5.2.4 2.9.4 1 .4 2.7.4 5.2.4-1.1.4-7 .4-.8.4 4.9.4-1.3.4 2 .4 4.3.4-4.6.4-.5.4-5.9.4 2.9.4 1 .4 10.7.4-4.6.4 1.9.4-16.9.4 8.3.4 2.4.4.8.4-3.5.4-2.4.4-.2.4 7.1.4-2.2.4-8.2.4 10.9.4-3.8.4-4.5.4 2.5.4 2.8.4-5.7.4 2.3.4-6.1.4 13.9.4-6.9.4 3.9.4-.2.4-3 .4-5.9.4-1.7.4 11.7.4-8.6.4 6.1.4 1.2.4-2.6.4-1.8.4 4.2.4-5.7.4-5.8.4.5.4-2.1.4 5.7.4.7.4 2 .4 1 .4 3.3.4-1.3.4 1.2.4-7.8.4 8.1.4-.9.4-3.7.4 1.4.4-8.8.4 7.9.4 3.5.4.5.4.8.4-20 .4 14.6.4 1.3.4-3.7.4 7.4.4-5.3.4-2.3.4 4.3.4-2.2.4 1.8.4 3.9.4-6.6.4 3.1.4-8.7.4 3.8.4-6.3.4 10.8.4 1.9.4-5 .4-.9.4.3.4 2.2.4 5.7.4-9.5.4 3 .4-2.4.4-1.4.4.3.4 6.6.4-.3.4-2.7.4 3.1.4 6.6.4-5.6.4-6.9.4 2.5.4-4.8.4-1 .4 2.6.4-5.3.4 6.3.4 2.9.4-2.7.4-3.4.4 2.3.4-7.4.4 3.1.4 2.1.4 4.1.4 1 .4 5.3.4-2.7.4.3.4 1.8.4-8.3.4.2.4 5.6.4 0 .4 5.1.4-7.7.4-8.2.4 9 .4-4.4.4-5.1.4 7.9.4.9.4-5.3.4-1.4.4 2 .4 4.3.4-3.5.4 4.3.4-5 .4 4.8.4-1.3.4-2.7.4-.9.4-4.6.4 1.1.4 4.2.4 1 .4 2.2.4 4.1.4-4.9.4 1.2.4 1.4.4-4.3.4 8.3.4-6.9.4-6 .4 12.8.4-7.5.4-1.4.4.8.4 9.9.4-2.5.4 6.1.4-.7.4-6.6.4-.2.4-7.1.4 9.2.4 4.3.4-5.1.4-2.4.4-4.3.4.5.4 2 .4-1 .4 2.7.4-3.6.4 4.4.4 2.6.4-3.6.4-1.1.4-1 .4-1.8.4.5.4 3.4.4-.6.4-1.7.4 4.7.4-1.8.4 3.9.4-14.6.4 8.7.4.6.4.8.4 2.4.4-3.4.4 5.3.4-3.5.4 3.2.4 1.8.4-8.8.4-1.7.4 6.4.4-6.8.4 7.7.4-5.6.4 2.2.4 1.4.4-6.4.4 7.4.4 7.9.4-8.3.4 0 .4-14.4.4 2.6.4 11.9.4-3.9.4.2.4 15.2.4-8.7.4 0 .4-5.7.4 8.6.4-10 .4 4.8.4-.6.4 9.4.4-1.7.4-1.9.4-1.4.4-1.1.4-11.6.4 3.3.4-.2.4 9.2.4.4.4-3.4.4-7.8.4 5 .4-1.7.4 6 .4-.8.4-3 .4-2 .4 1.9.4.1.4 2.8.4-2.8.4-1.9.4 2.6.4.1.4-.8.4 4.2.4-1.8.4 2.4.4-1.1.4 2.1.4-2.4.4-6.8.4 9 .4 2.5.4-1.4.4-3.1.4-3.9.4.7.4 2.2.4 12.5.4-6.1.4-1.9.4-1.6.4 1.8.4 2 .4.5.4-1.9.4 2.6.4-.2.4.6.4-8.7.4-4.2.4 3.9.4.1.4-5.4.4 5.1.4-.3.4-3.6.4 4.7.4.4.4 2.4.4 2.7.4 4.7.4-5.4.4-.5.4.9.4.5.4-5.1.4 7.2.4-5 .4-3 .4 1.1.4 5.6.4-10 .4 4.1.4 5.7.4-3.9.4 3.6.4 1 .4-5.5.4-1.1.4 1.7.4 3.9.4-.1.4 1.6.4-3.8.4 0 .4 3.4.4-1.2.4-3.5.4 3.6.4 2.4.4-7.4.4-3.6.4 6.2.4-6 .4 3.8.4 1.4.4-3.7.4 7.1.4-8.1.4 3 .4 2.3.4 2.1.4-9.3.4-.8.4 15.5.4.4.4-8.9.4 1.7.4-4 .4.7.4-2.1.4 14.2.4-6.8.4-2.5.4-6.2.4 12.4.4-8.1.4 2.8.4-6.2.4 5.2.4 7.2.4-4.5.4-10.1.4 7.8.4.6.4-3.8.4 3.8.4-5.5.4-1.8.4-2.5.4 6.5.4 5.5.4 5.3.4-10.4.4 2.2.4-.9.4-5.3.4 4.2.4 2.4.4-6.9.4-.3.4 2.6.4 2 .4-.5.4-1.3.4.8.4 2.6.4-7.6.4 7.8.4-5.2.4-4.1.4 5.4.4 2.7.4-3.1.4.8.4-1.7.4-1.4.4 9.3.4-7.1.4-1.9.4 3.6.4-.6.4-4.2.4 4.9.4-5.2.4.9.4-2.6.4 5.7.4 0 .4 1.9.4-.1.4 1.9.4-8.1.4 1.1.4-.6.4 2.9.4 3.8.4-6.4.4 1.2.4-5 .4 9.2.4-12.2.4 8.8.4-.1.4 3.1.4-8.5.4 7.1.4 1.5.4-7.2.4-2 .4 8.6.4-2.6.4-2.9.4 8.1.4-1 .4-5.3.4.5.4-8.3.4 5.6.4-.1.4.5.4 2 .4-.5.4-6.6.4 5.4.4 3.6.4 2.2.4-3.8.4.5.4 1.1.4 4.3.4-4.1.4.9.4 6.2.4-1.3.4-.2.4-6.7.4 2.7.4-2.7.4-13.3.4 8.6.4 6.4.4 3.5.4-2.8.4-2.1.4.6.4 3.3.4-8.6.4-.1.4 2.4.4 10.3.4-10.2.4 2.4.4-.1.4 1 .4-.1.4-2.9.4-13.5.4 23 .4-10 .4 9.8.4-5 .4-2.8.4 4 .4-.9.4-2.9.4-3.2.4 4.9.4-4.8.4 4.6.4 3.3.4 5.1.4-7.6.4-.7.4 3.8.4-3 .4-2.9.4 3.8.4-.6.4 3.4.4-2.4.4 4.8.4-1.6.4-1.3.4-8.6.4.1.4 2.9.4 7.2.4-4.6.4-1.5.4-.5.4 4.2.4-7 .4 2.7.4 4 .4-10.7.4 11.9.4-7.8.4-.9.4 0 .4 4.4.4 5 .4.8.4-2.7.4 5.1.4-9.1.4-1.1.4 5.5.4-1.5.4-10.4.4 8.8.4-2.8.4-3.7.4 2.9.4 5.7.4 3.5.4-1.8.4-12.3.4 10.3.4-1.4.4 2.2.4.6.4 2.9.4-3 .4-1.6.4 1.1.4-3.4.4 2.8.4 2.7.4-4 .4 1.6.4 4.1.4-1.7.4-2.2.4-1.6.4 1.1.4 2.2.4 1.1.4 2 .4-.6.4-1.8.4-3.3.4 2.9.4-4.4.4 12.1.4-6 .4-3.6.4-3.4.4 4.5.4 1.5.4-2.2.4 3.8.4-3.4.4 7.1.4-3 .4-1.2.4-5.2.4-1.6.4-1.5.4 4.7.4 2 .4 5.4.4-3.9.4.6.4 0 .4-4.3.4 1.7.4 1.3.4 2.3.4-.8.4 2.5.4-3.2.4-5.2.4 3 .4-2.3.4 1.8.4 4.2.4-5.2.4 2.4.4 0 .4 2.4.4-.2.4-1.2.4-1.2.4 2.1.4-2.9.4 1.4.4-3.8.4 3.8.4-2.5.4 1.4.4 1 .4-6 .4 4.9.4-.6.4.6.4-1.2.4 2.1.4-9.8.4 3.2.4 4.6.4-3.1.4-.1.4 2.9.4-1.1.4 4.6.4-3.4.4-4.1.4 1.1.4-3.6.4 4.8.4 4.4.4-1.7.4-5.4.4-.7.4 6.9.4 4.4.4-8.3.4-3.5.4 4.6.4.6.4-2.8.4-.3.4 4.4.4-2.1.4-.6.4 1.2.4-2.6.4-.8.4-.5.4 4 .4-6.5.4 0 .4 4.3.4-2.2.4 0 .4 2.7.4.8.4-6.6.4-.5.4 3.4.4 5.6.4-4.3.4.4.4-.7.4 1.7.4-4.3.4 1.8.4 1.1.4-1.9.4 3.1.4-3.6.4 1.6.4-1.8.4-.6.4 1.5.4 1.8.4-.1.4 2 .4.5.4 7 .4-5.8.4-2.1.4.6.4 1.1.4-.3.4-.5.4-1.1.4 3 .4-7.6.4.1.4-1 .4-.5.4 3.9.4.5.4 3 .4-3.2.4 3.2.4-7 .4 5 .4-.4.4 2.6.4-5.3.4 2.1.4.2.4.6.4 6 .4-4.4.4-7 .4 2 .4-1 .4 4 .4-1.3.4 3.6.4-1.8.4-2 .4-4.7.4 2.2.4 4.9.4-4.8.4-1.3.4 2.2.4.2.4 4.3.4-3.4.4 2.3.4-1.3.4-1.5.4-4 .4 2.4.4 1.6.4-1.4.4-5 .4 8 .4 0 .4-2.2.4-1.7.4 1 .4-.9.4-1.2.4 3.6.4 1.8.4-2.6.4-1.1.4 3.9.4-4.7.4.8.4 4.1.4-.1.4 1.1.4-3.8.4.4.4 3 .4-3.4.4 1.4.4 1.1.4-.8.4-7.3.4-.1.4 10.4.4-7.2.4 2.1.4-2.7.4 2 .4.4.4-.6.4 3 .4-4.7.4 4.6.4 1.4.4 7.7.4-5 .4-4.5.4 1.2.4.2.4-.8.4-5.6.4 3.5.4-2 .4 5.3.4.3.4-2.4.4-1.9.4 3.5.4-1.7.4.2.4-1.1.4 2.2.4-2.7.4 1.2.4 3.4.4-.8.4-1.5.4-.7.4.3.4-2.2.4 3.6.4 3 .4 2.8.4-5 .4 1.2.4-4.3.4 1.4.4-2.5.4 2.6.4-2 .4.1.4 1.3.4-7.3.4 4.5.4 2.4.4-1.7.4 6 .4-4.5.4-.8.4-.6.4 2.5.4.8.4-4.7.4 4.3.4.4.4-.8.4.9.4 4.9" fill="none" stroke="#ff1010" stroke-width="1.1" stroke-linejoin="round" />
<line x1="701.1" y1="194.9" x2="701.1" y2="263.3" stroke="#ff4848" stroke-width="1.5" stroke-dasharray="10 3.5" />
<line x1="856.8" y1="191.4" x2="856.8" y2="263.3" stroke="#ff00ff" stroke-width="1.45" stroke-dasharray="1.5 4.3" />
<line x1="904.4" y1="194.9" x2="904.4" y2="263.3" stroke="#ff1010" stroke-width="1.0" stroke-dasharray="10 4" />
<line x1="974.5" y1="192.9" x2="974.5" y2="263.3" stroke="#0000ff" stroke-width="1.15" stroke-dasharray="1.2 3.1" />
<line x1="1005.9" y1="194.9" x2="1005.9" y2="263.3" stroke="#30b830" stroke-width="1.4" stroke-dasharray="9.5 4" />
</g>
<line x1="674.2" y1="198.1" x2="692.1" y2="198.1" stroke="#8080ff" stroke-width="1.8" />
<text x="693.5" y="201.5" font-size="9.5" fill="#2020ff" stroke="#2020ff" stroke-width="0.15" >V<tspan font-size="7" dy="3.4" stroke-width="0.12">L</tspan></text>
<line x1="674.2" y1="213.9" x2="692.1" y2="213.9" stroke="#80ff80" stroke-width="1.8" />
<text x="693.5" y="217.3" font-size="9.5" fill="#20ee20" stroke="#20ee20" stroke-width="0.15" >V<tspan font-size="7" dy="3.4" stroke-width="0.12">M</tspan></text>
<line x1="674.2" y1="230" x2="674.3" y2="230" stroke="#ff3030" stroke-width="0.9" />
<text x="675.7" y="233.4" font-size="9.5" fill="#ff3030" stroke="#ff3030" stroke-width="0.15" >V<tspan font-size="7" dy="3.4" stroke-width="0.12">N</tspan></text>
<path d="M758.7 189.4v10.5M758.7 263.3v-10.5M872.7 189.4v10.5M872.7 263.3v-10.5M986.6 189.4v10.5M986.6 263.3v-10.5M1100.6 189.4v10.5M1100.6 263.3v-10.5M673.2 189.4v4M673.2 263.3v-4M701.7 189.4v4M701.7 263.3v-4M730.2 189.4v4M730.2 263.3v-4M787.2 189.4v4M787.2 263.3v-4M815.7 189.4v4M815.7 263.3v-4M844.2 189.4v4M844.2 263.3v-4M901.1 189.4v4M901.1 263.3v-4M929.6 189.4v4M929.6 263.3v-4M958.1 189.4v4M958.1 263.3v-4M1015.1 189.4v4M1015.1 263.3v-4M1043.6 189.4v4M1043.6 263.3v-4M1072.1 189.4v4M1072.1 263.3v-4" stroke="#000" stroke-width="0.9" fill="none"/>
<path d="M668.8 192.5h2.6M1122.5 192.5h-2.6M668.8 195.6h2.6M1122.5 195.6h-2.6M668.8 198.6h2.6M1122.5 198.6h-2.6M668.8 201.6h5.5M1122.5 201.6h-5.5M668.8 204.6h2.6M1122.5 204.6h-2.6M668.8 207.6h2.6M1122.5 207.6h-2.6M668.8 210.7h2.6M1122.5 210.7h-2.6M668.8 213.7h2.6M1122.5 213.7h-2.6M668.8 216.7h5.5M1122.5 216.7h-5.5M668.8 219.7h2.6M1122.5 219.7h-2.6M668.8 222.7h2.6M1122.5 222.7h-2.6M668.8 225.8h2.6M1122.5 225.8h-2.6M668.8 228.8h2.6M1122.5 228.8h-2.6M668.8 231.8h5.5M1122.5 231.8h-5.5M668.8 234.8h2.6M1122.5 234.8h-2.6M668.8 237.8h2.6M1122.5 237.8h-2.6M668.8 240.9h2.6M1122.5 240.9h-2.6M668.8 243.9h2.6M1122.5 243.9h-2.6M668.8 246.9h5.5M1122.5 246.9h-5.5M668.8 249.9h2.6M1122.5 249.9h-2.6M668.8 252.9h2.6M1122.5 252.9h-2.6M668.8 256h2.6M1122.5 256h-2.6M668.8 259h2.6M1122.5 259h-2.6M668.8 262h5.5M1122.5 262h-5.5" stroke="#000" stroke-width="0.9" fill="none"/>
<rect x="668.8" y="189.4" width="453.7" height="73.9" fill="none" stroke="#000" stroke-width="1.1"/>
<text x="666.3" y="205.6" font-size="11" text-anchor="end" stroke="#000" >0</text>
<text x="666.3" y="220.7" font-size="11" text-anchor="end" stroke="#000" >-50</text>
<text x="666.3" y="235.3" font-size="11" text-anchor="end" stroke="#000" >-100</text>
<text x="666.3" y="250.3" font-size="11" text-anchor="end" stroke="#000" >-150</text>
<text x="666.3" y="265.6" font-size="11" text-anchor="end" stroke="#000" >-200</text>
<text x="636.5" y="227.5" font-size="11" text-anchor="middle" transform="rotate(-90 636.5 227.5)" stroke="#000" >V<tspan font-size="8.6" dy="3.6">e LMN</tspan><tspan dy="-3.6"> [km/s]</tspan></text>
<g clip-path="url(#c11)">
<path d="M669.4 326.6l.5-1.8.5-1.6.5.9.5-.5.5.6.5 1.4.5 1.4.5 1.8.5.7.5.8.5-1.5.5-.2.5-4.5.5-.7.5-2.2.5-.7.5-1.6.5-.7.5 2.9.5-.6.5.3.5-2.9.5 3.2.5 5.1.5-2.9.5.7.5 2.3.5 0 .5.4.5-1.5.5-3.5.5.7.5-3.2.5 1.7.5-4 .5 7.5.5-5.6.5-8.3.5-.9.5 11.4.5-1.2.5-5.2.5 14.6.5-5.2.5.3.5 1 .5 2 .5 1.8.5 1.6.5.7.5-.6.5-.2.5-1.7.5-1 .5-.4.5-3.3.5-4.4.5 1.1.5-3 .5-.2.5-3.3.5-2.2.5 7.3.5-4.8.5 1.5.5 3.6.5 3.1.5-3.5.5-3.4.5.6.5 1.4.5-1.5.5-.8.5-2.1.5-3.2.5 4.2.5-3.8.5.7.5.2.5-1.5.5-2.3.5-2.6.5 2.7.5.6.5-.5.5-1.4.5-5.4.5 4 .5 6.1.5-5.1.5.7.5-.1.5-3.7.5-.4.5-3.3.5-5 .5.7.5-.2.5-1.1.5 4.1.5-5.3.5-.1.5-.7.5 1.5.5 1.6.5-.6.5 1 .5 2.2.5 5.1.5-3.1.5 1.5.5-.4.5.7.5.3.5-.6.5.3.5 1.7.5 1.2.5 2.2.5 1.7.5.1.5-2.7.5-2.3.5-.3.5-.8.5-2 .5-2.9.5 4.9.5-2.6.5-.5.5-.5.5 1.2.5-1.4.5 3.9.5.3.5-.9.5-3.7.5.1.5-1.1.5.5.5 1.1.5.8.5 2.8.5-.1.5-3 .5 4.3.5 2.8.5 3.7.5-1.5.5.9.5-1.5.5-2 .5-2.5.5-1.2.5 5.5.5-.6.5 3.2.5 1.6.5-.7.5.6.5 1.2.5-1.5.5-5.6.5 4.8.5-1.6.5 1.5.5.6.5-1.1.5-.6.5 2.1.5-2.2.5 2.6.5-2.4.5-.4.5-.7.5-2.3.5 1 .5.7.5.7.5-.8.5 1.6.5 1.9.5-1.9.5 3 .5-2.3.5 1.3.5 1 .5-.7.5 1.6.5-3.1.5.8.5 1.3.5-9.2.5 2.5.5-2.1.5 1.6.5-3.3.5-10.7.5 1.9.5 9.3.5.2.5-.6.5-1 .5-3.9.5 3.4.5.4.5-4.2.5-2.5.5 1.3.5-.8.5-.7.5-.6.5.4.5-.5.5.4.5-1.5.5 1.2.5 4.1.5-3.1.5.2.5 3 .5 1.3.5-2.1.5-8.3.5 6.8.5-1.5.5 1.4.5-2.2.5 1.9.5-4.7.5 6 .5-3 .5 2.2.5-1.2.5-2.8.5 2.3.5-1.6.5-.4.5-.6.5 1.2.5-3.6.5 2.5.5 3.6.5 1.3.5.7.5-1.5.5 1.1.5-1.9.5 1.3.5 1.4.5 1.3.5-2.1.5-5.4.5 3.7.5 1.3.5-1.5.5-.7.5.6.5 1.6.5-3.8.5 2.8.5-.2.5-.8.5-1.5.5.2.5-.3.5 2 .5-1 .5 1.4.5-1.6.5-3.2.5 1.4.5 3.4.5 1.8.5 4 .5-.3.5 1.4.5-1 .5 3.8.5-.8.5 1.6.5.9.5-1.3.5.5.5 1.1.5-3.8.5 1.1.5.7.5-.8.5-3.8.5-.2.5-.4.5 1.1.5 1 .5 1.8.5-2.2.5 3.8.5-4.9.5-1.3.5.6.5-2.9.5-3.7.5 2 .5-1 .5-.9.5-1.9.5-1.5.5 8.5.5-7.4.5 3.7.5 3.7.5 1.4.5.9.5-4.7.5-.9.5.5.5.6.5-1 .5 5.9.5-2.2.5.8.5 4.7.5-4.2.5-1 .5 2.3.5-1.6.5 10 .5-11.3.5 1 .5 2 .5 3.7.5-9.3.5 5.9.5-.3.5-2.6.5 1.4.5-2.6.5.4.5-1 .5-.5.5 1.5.5-3.6.5 1.4.5.9.5.3.5-.6.5.7.5.1.5 2.3.5-2.8.5 2.2.5-3.1.5-.8.5-5.5.5 7.9.5.6.5 1.6.5-1.2.5.2.5-2.8.5-.5.5 1 .5 1.4.5-.5.5.4.5-2.1.5.4.5-2.7.5.8.5-2.2.5 1.8.5-4 .5-1 .5-.3.5.5.5 1.2.5.1.5 2.5.5.4.5 3.7.5-2.6.5-2.7.5 3.2.5 2.1.5-13.1.5 6.7.5-1.2.5.8.5-1.2.5.9.5 1.6.5.9.5-1 .5.7.5-1.5.5.2.5 4.8.5-1.3.5-4.2.5-1.5.5.3.5-2 .5-5.1.5 7.5.5-3.6.5 2.5.5-1.4.5-.1.5 2.2.5-3 .5-3.2.5 7.3.5-4.6.5.6.5-2 .5.9.5.9.5-2.4.5 2.2.5-1.9.5-2.4.5 6.8.5-1.8.5 1.3.5.2.5-.4.5.8.5.2.5 2.3.5-.7.5.2.5-1 .5.3.5.7.5-.5.5 3.2.5-8.7.5 1.3.5 4 .5 1.6.5-.8.5 1.2.5 2 .5-.5.5 3.1.5-.6.5 4 .5-.6.5-2.1.5-.9.5-1.8.5 2.4.5 4 .5-4.4.5-1 .5.6.5-.8.5-1.3.5 3.6.5-3.1.5-1.3.5 6.2.5-3.2.5 2 .5-1.4.5 1.4.5-.8.5-.6.5-4 .5-7.2.5-.1.5.2.5-.1.5-1.8.5-1.8.5 7.4.5-.1.5 3.2.5-.5.5-2.6.5 3.2.5.9.5-1 .5-2.2.5 2.3.5-1.6.5-.6.5 1.3.5 1.3.5-.8.5 4.4.5-3.4.5 1.7.5.9.5-1.4.5.8.5 2.5.5-1.3.5.4.5 1.1.5.7.5-.1.5-.9.5-1.6.5-1.2.5-.5.5-1.5.5 3.9.5 0 .5-.2.5-2.1.5 8.2.5.1.5.6.5.5.5.3.5-1.1.5.3.5.4.5-1.1.5-.2.5-1.9.5 1.1.5-.6.5-.1.5.1.5 1.6.5-1.6.5.9.5.1.5 2.6.5-2 .5.6.5-1.4.5-.4.5-1.7.5.2.5.6.5-.2.5.1.5-.1.5.2.5-1.5.5-3.5.5.9.5 1.8.5-2.2.5.6.5-6.8.5.6.5-.4.5-3.2.5-2.4.5 2.2.5-2.4.5.2.5 3.4.5-7.3.5 7.7.5 0 .5 1.5.5-1 .5.8.5-.5.5.4.5 2.2.5-2.3.5 4.2.5.4.5 2.3.5.8.5-2.6.5 4.5.5-.6.5 1.7.5 3.2.5-3.2.5 2.2.5 1.3.5.7.5 1.5.5-.1.5-.2.5 2 .5-.7.5-2.1.5-.7.5-2.7.5-2.8.5-5.1.5-5.8.5 2.3.5-9.7.5 4 .5 1.8.5 4.7.5.4.5 2.9.5-11.8.5 10.2.5 2.3.5-4.5.5.9.5 2 .5-2.1.5.3.5-.5.5 2.2.5-4.6.5-3.8.5-.2.5-3.1.5-3.1.5-1.6.5-3.3.5 5.9.5.3.5 3.3.5.1.5 4.3.5.7.5 4.7.5 1.6.5 2.4.5.5.5-1.8.5 2.2.5-2.8.5 4.2.5-5.4.5-1.4.5 2 .5-1.8.5-2 .5 1.8.5-2.4.5.2.5-.4.5-3.2.5 2.1.5-1.1.5-.9.5-7.1.5 9.8.5-.1.5 1.8.5.6.5-2.5.5 3.1.5-.8.5 3.1.5 5 .5-1.9.5.6.5.5.5.6.5-.5.5-1.4.5 2.3.5-2.6.5.4.5-.4.5 1.6.5 1.8.5-3.4.5 2.2.5 4.4.5-3 .5 1.4.5-1.6.5-4.7.5.2.5 4.3.5-2 .5-1.8.5-.9.5-5 .5 1.2.5-2.4.5-.4.5-2 .5-4 .5-2.9.5-1.1.5 4.7.5 2.1.5 5.6.5 2.8.5-1.6.5.8.5-5.1.5-4.9.5 3.6.5 6 .5 3 .5 2.7.5 4.8.5 2.7.5-5.4.5 2.1.5-.1.5-2.3.5-1.4.5.1.5.1.5.4.5-2.2.5.1.5-.1.5-.5.5.1.5-1.5.5-3.9.5 3.1.5-3.8.5.2.5-.7.5 2.6.5-2.1.5-1.9.5-2.5.5.1.5.8.5.1.5.7.5-1.4.5.6.5-2.4.5 2.8.5-1.3.5 2.2.5.1.5 1.9.5-1.5.5.4.5-.8.5.3.5-1.9.5-.9.5.9.5-3.3.5 5.4.5-2.7.5 1.3.5-1.1.5 1.5.5-.4.5.5.5 1.7.5-1.6.5 0 .5-1.2.5.6.5 3.7.5-3.8.5-.8.5 1.1.5-2.9.5 1.4.5 1.4.5.5.5-2.8.5 1.2.5-1.5.5.7.5.1.5-2.6.5 2 .5-3.5.5-1.5.5 2.1.5 1.3.5-1.2.5-1.1.5-.3.5-1.3.5-1.4.5-1.8.5 1.7.5-.1.5-2.3.5-.3.5 1.7.5-.8.5 4.2.5.7.5 1.2.5-.9.5 1.8.5.5.5.8.5 2.2.5-.8.5-.4.5-.2.5-.1.5-2 .5-1.3.5.3.5-3.4.5 1.4.5-.5.5-.4.5-.9.5-.8.5-.3.5-.7.5-1.5.5-1.6.5 3.9.5-2.8.5.9.5-5 .5 8.2.5 2.2.5-2.5.5 1.3.5 1.2.5-3.7.5 1.4.5.5.5.8.5-2 .5-1 .5 1.4.5-1.2.5-1.2.5 5.1.5-3.4.5 1.5.5-.9.5 1 .5-3.2.5 4.4.5-1.4.5.9.5-1.5.5.4.5-1.6.5 1.5.5.9.5-1.4.5-.7.5-.2.5-9.7.5 7.3.5.8.5 2.5.5-1.9.5.3.5 1 .5-3.9.5 5.3.5.5.5-.9.5 3.1.5-2.9.5 2.7.5-.6.5 1.8.5-2.4.5-1.2.5 2 .5-2.4.5 2.5.5-2.8.5-1.6.5.4.5-4.7.5 4.8.5-.5.5-.6.5-.6.5 0 .5-2.1.5 1.1.5-3 .5-2.4.5 3.4.5-3.5.5-1 .5-3.4.5 1.6.5-1 .5-1.6.5 6.7.5-2.1.5 4.8.5-1.7.5 4.4.5-1.9.5.1.5-3.1.5.8.5-1.5.5 3.5.5 1.9.5 1.5.5 1.4.5 2.5.5.6.5 2.1.5-1.5.5 2 .5-1.2" fill="none" stroke="#ff1010" stroke-width="0.95" stroke-linejoin="round" />
<path d="M669.4 310.7l.5-.1.5-.3.5-1.3.5.7.5-.1.5.1.5-1.9.5-.6.5 1.6.5-.1.5-4.1.5 4 .5-.8.5-.7.5 2.1.5-1.5.5 1.8.5-1.5.5.1.5 3.5.5-2.2.5.4.5.6.5-.8.5-.6.5.8.5 1.1.5.5.5-1.5.5.2.5-.8.5-1.6.5 0 .5-.8.5 0 .5 1.9.5-1.6.5-.5.5-1 .5.1.5-.3.5-.1.5.6.5-.6.5 1.2.5-.8.5 1.4.5-.8.5-3 .5 3.2.5-.4.5-.5.5 1.7.5-2.5.5-.1.5-2.3.5 1.3.5 1.4.5-1 .5 0 .5-.8.5.2.5 2.7.5-2.5.5 2.8.5-1.3.5 0 .5.7.5 0 .5 0 .5-.4.5-1.9.5.9.5.2.5-.5.5.3.5 1.9.5-3.4.5-.5.5-.4.5.5.5 1.2.5.4.5 1.1.5.2.5-.9.5.1.5.1.5-.3.5.4.5-1.7.5.5.5.2.5-1.1.5 0 .5.8.5-.2.5.5.5-1.4.5-.7.5-.6.5.1.5-1 .5 1.6.5-2.4.5.7.5-1.1.5-.2.5.4.5-.5.5-2.9.5 1.7.5 1.3.5-1.7.5-2.1.5 5 .5-4.6.5-.8.5.2.5-.7.5-1.1.5-.6.5 3.3.5-3.9.5 1.2.5-1.2.5 1.6.5-.8.5.5.5-2 .5.8.5 1 .5-.7.5-1.3.5.1.5.6.5-3.2.5 2 .5 0 .5.9.5 1.5.5-.7.5-.5.5-.7.5-.4.5-.5.5-2.1.5.7.5-2 .5.7.5 3.1.5 1.1.5 1.5.5.7.5.9.5 1.8.5 1.5.5.7.5 3.1.5-1.2.5 1.2.5.1.5.7.5-.8.5 1.4.5-3.6.5 1.2.5.8.5-.3.5-1.3.5.5.5 2.2.5-2.5.5 3 .5.6.5 1.3.5-.6.5-1.5.5 1.5.5-.2.5-2.9.5 2.1.5 1.1.5 1.1.5.1.5-.1.5.5.5 0 .5-1.2.5.1.5-.6.5-.5.5-1.8.5-.2.5-.8.5-2 .5-1.3.5.4.5-3.3.5.2.5-3.5.5 1.1.5-1.4.5.3.5 1.1.5-2.8.5 1.7.5-2.5.5 1.7.5-1.4.5-.5.5-.2.5.4.5-1 .5 1.3.5 1.9.5-1.3.5 1.4.5.5.5-.2.5.2.5-.2.5-.4.5.3.5-1.3.5.4.5 3.1.5-1.4.5 1.3.5 1 .5-1.4.5 2.7.5-3 .5-3.1.5 2.4.5-1.6.5 2.1.5.9.5-1.2.5-.8.5 0 .5-.1.5.9.5-2.4.5 1.8.5.6.5-.3.5-.8.5-1.5.5 1.1.5 4.7.5-4.8.5-1.5.5-3.3.5 3.2.5-2.4.5 2.4.5-2.5.5.3.5 2 .5-3.3.5 2.2.5-3.8.5.5.5 3.3.5.7.5-.9.5 2.4.5.6.5-.8.5-.7.5 1.7.5-2.6.5-.7.5 1.3.5-.3.5.9.5.9.5.2.5.3.5.7.5-.5.5.4.5-.7.5-1.1.5-.4.5-.7.5 1.8.5-1.7.5-1.1.5-1 .5-5.6.5 4.5.5-1.5.5.3.5 2.7.5-4.8.5 1.6.5-.1.5 1.2.5-1.2.5 1.8.5-.6.5 1.4.5 1.2.5-2.7.5 3.1.5-1.1.5 1.4.5-3.2.5 3 .5-.1.5.3.5-1.3.5-1.7.5.4.5-.7.5 1.5.5 0 .5.9.5 1.2.5 1.2.5.6.5.4.5-.2.5-.2.5.8.5 1.7.5-2.1.5-.5.5-2.7.5 2 .5 5.1.5-4.4.5-.9.5-.8.5-.6.5.7.5-1.6.5 1.6.5-1.4.5 1.2.5-.5.5.6.5-1.1.5-.5.5.2.5.7.5-2 .5.7.5 0 .5 0 .5-1.4.5 1.4.5-.8.5.9.5-.8.5 2 .5-1.7.5 2 .5-1 .5.4.5-.1.5.3.5-.7.5.7.5 2.3.5-2.7.5.5.5-2.1.5-1 .5-1.2.5.2.5-.1.5-.5.5 1.1.5 1.4.5 1.4.5-.4.5 1.3.5.2.5-1.9.5 1.2.5-.1.5 1.6.5-1.3.5-.6.5-2 .5 1.2.5-1 .5 1.3.5-2.1.5.1.5-2.7.5-4.2.5-4.3.5 6.2.5 4 .5 0 .5-1.1.5.6.5-.8.5-.4.5-.2.5.2.5.2.5.5.5-.5.5.1.5.6.5 4.7.5-4.6.5-.5.5-1.5.5 1.8.5-.2.5-.4.5 1.3.5-.9.5.7.5.5.5-1.2.5-.2.5-.8.5 2 .5-.3.5.6.5-2.7.5 2.2.5 2.7.5-4.1.5.5.5.3.5 1.2.5-.3.5-3.8.5 2.9.5-1.9.5 2.6.5-.9.5-2.1.5 1.3.5-1.8.5-2.6.5 1.9.5-.2.5 1.6.5.4.5.4.5.6.5-.4.5.6.5-.5.5-.9.5-1.7.5 5.1.5-3.2.5-.2.5.6.5-.4.5.2.5-.2.5 2.5.5-2 .5-.7.5.8.5.5.5-.5.5.4.5.9.5.3.5 1.9.5 1.3.5-2.4.5 2.1.5-1 .5.6.5 0 .5-1.5.5 5.2.5-3.8.5.3.5 1.4.5-3.2.5-.9.5-6.1.5 3.1.5 6.4.5-1.6.5-.3.5 1.8.5-1.2.5.8.5-.3.5-.7.5.4.5.7.5 2.7.5-2.6.5-3.4.5 4.5.5-.8.5.2.5 1.6.5-.8.5-.3.5-1.3.5.5.5.4.5-.9.5 2.6.5-1.2.5.4.5-1.1.5-.1.5.4.5 1 .5.1.5.2.5-.1.5.7.5 2.5.5-.7.5-.4.5.6.5.1.5-.4.5.5.5-.4.5-1.6.5.2.5 1.3.5-3 .5 3.1.5-2.5.5 0 .5-1.1.5.9.5 1.3.5-2.9.5 1.4.5 0 .5.4.5.1.5.4.5.4.5-1 .5.8.5-.6.5-.3.5 1.2.5-1.3.5 1.4.5-1.1.5.9.5-.5.5-.1.5-.1.5.9.5.5.5-1.9.5 3.5.5-3.1.5.6.5 1 .5-1.4.5-.3.5 1.1.5-1 .5.2.5.6.5.1.5-2.8.5 3.5.5-.5.5-1.2.5 2.1.5 1.1.5-2.3.5 2.8.5-.9.5.7.5 0 .5 1.1.5-.8.5-.7.5-.3.5-3.4.5.1.5 2.2.5-3 .5.8.5-1.5.5 1 .5.3.5-.9.5.4.5-.7.5.7.5-.9.5 2.9.5 1.5.5-3.9.5 1.7.5-2.3.5.5.5-.2.5.9.5 1 .5 1.3.5-.8.5-.3.5-.8.5.7.5.2.5-1.3.5 1.1.5-.1.5-.7.5 1.2.5.1.5-.4.5 1.8.5-1.6.5.7.5-1.6.5 0 .5-.2.5-1 .5.4.5.6.5 1.6.5-1.4.5-1.4.5-2.2.5 2 .5-.4.5-.9.5 1.3.5-.7.5-1 .5 0 .5 3.3.5-2.4.5-2.3.5 1.6.5-1.7.5 7 .5-4 .5-1.6.5.6.5-.4.5 2.4.5-3.9.5 1.8.5-2.1.5-.5.5-.1.5-2.3.5 2.4.5-5.3.5 3.8.5-.6.5 1 .5 1.3.5-2.1.5-1.1.5-.9.5.5.5-.1.5 1.8.5-2.5.5.4.5.9.5-.5.5-.3.5 2.5.5-1.6.5.9.5-.8.5-.2.5 1.7.5-1.1.5-.2.5-1.4.5 1.9.5 2 .5-1.7.5-.1.5 2.5.5-.2.5.1.5.5.5 1.2.5.9.5 0 .5 1.6.5-.7.5-.8.5 1.1.5 0 .5-.4.5.7.5 1.5.5-1.9.5.1.5 1.5.5-2.1.5 3.9.5-3.9.5-3.3.5 3.2.5.3.5-.6.5-.9.5.5.5.3.5-1.6.5-.1.5-.6.5-.7.5-.4.5-3.6.5 2.9.5.6.5-.2.5-.4.5-.3.5.5.5-.3.5 3.1.5-3.2.5.1.5-.2.5.3.5-.5.5-2 .5 1.6.5-.2.5.4.5-.1.5.2.5-1 .5 1.4.5 3.4.5-5 .5.7.5-1 .5-.5.5 2 .5-1.4.5.9.5-.5.5-.8.5-.2.5-.5.5 1.2.5-.4.5-1.3.5 1.4.5-.3.5 2 .5 2.3.5-1.4.5-1.8.5.6.5-.7.5 1.9.5-.3.5 1 .5-1.7.5.3.5 0 .5 0 .5 0 .5 2 .5-3.3.5.3.5.2.5-.7.5 0 .5-1.2.5 1.7.5-2.3.5 1.1.5-.7.5.9.5.7.5.9.5 1.4.5.2.5.5.5.9.5-1.5.5.3.5-.9.5 1.2.5-1.7.5.6.5-2.3.5-.3.5-.7.5-.2.5-.8.5-.3.5-2 .5-1.1.5.9.5 4.2.5.3.5-.3.5 1.1.5.1.5-2.4.5 2.6.5.3.5-.1.5-.7.5-.8.5 1.2.5 0 .5 2.9.5-.8.5-1 .5.1.5.4.5-.6.5.1.5.3.5.6.5-1.9.5 1.5.5 1.8.5-.5.5-.4.5-2 .5.9.5 4.1.5-6.7.5 3.1.5-.4.5.2.5.4.5-.7.5.6.5.3.5 1.3.5-.9.5.1.5.1.5 1.4.5-1.9.5 2.2.5-.1.5-.2.5 1 .5-.6.5-1.4.5.3.5-.2.5 1.1.5 1 .5-2.6.5.7.5 1.1.5-2.3.5-1.4.5 2.1.5.1.5-1.3.5 1.5.5.3.5-.3.5-5.4.5 4.3.5-1.9.5.4.5 2.1.5-.6.5-2.7.5 2.9.5-.2.5.8.5-.4.5-.4.5.2.5-1.5.5 1.1.5.4.5 0 .5-.7.5.7.5-.4.5 0 .5-1.6.5 3 .5-3.9.5 3.5.5 1.5.5-1.7.5.3.5.1.5.2.5.1.5.1" fill="none" stroke="#000" stroke-width="1.5" stroke-linejoin="round" />
<line x1="701.1" y1="268.8" x2="701.1" y2="337.3" stroke="#ff4848" stroke-width="1.5" stroke-dasharray="10 3.5" />
<line x1="856.8" y1="265.3" x2="856.8" y2="337.3" stroke="#ff00ff" stroke-width="1.45" stroke-dasharray="1.5 4.3" />
<line x1="904.4" y1="268.8" x2="904.4" y2="337.3" stroke="#ff1010" stroke-width="1.0" stroke-dasharray="10 4" />
<line x1="974.5" y1="266.8" x2="974.5" y2="337.3" stroke="#0000ff" stroke-width="1.15" stroke-dasharray="1.2 3.1" />
<line x1="1005.9" y1="268.8" x2="1005.9" y2="337.3" stroke="#30b830" stroke-width="1.4" stroke-dasharray="9.5 4" />
</g>
<line x1="674.2" y1="271.2" x2="692.1" y2="271.2" stroke="#ff2020" stroke-width="0.9" />
<text x="693.1" y="274.6" font-size="9.5" fill="#ff2020" stroke="#ff2020" stroke-width="0.15" >T<tspan font-size="7" dy="3.4" stroke-width="0.12">&#160;</tspan></text>
<line x1="674.2" y1="285.7" x2="692.1" y2="285.7" stroke="#303030" stroke-width="1.6" />
<text x="693.1" y="289.1" font-size="9.5" stroke="#000" stroke-width="0.15" >T<tspan font-size="7" dy="3.4" stroke-width="0.12">&#160;</tspan></text>
<path d="M758.7 263.3v10.5M758.7 337.3v-10.5M872.7 263.3v10.5M872.7 337.3v-10.5M986.6 263.3v10.5M986.6 337.3v-10.5M1100.6 263.3v10.5M1100.6 337.3v-10.5M673.2 263.3v4M673.2 337.3v-4M701.7 263.3v4M701.7 337.3v-4M730.2 263.3v4M730.2 337.3v-4M787.2 263.3v4M787.2 337.3v-4M815.7 263.3v4M815.7 337.3v-4M844.2 263.3v4M844.2 337.3v-4M901.1 263.3v4M901.1 337.3v-4M929.6 263.3v4M929.6 337.3v-4M958.1 263.3v4M958.1 337.3v-4M1015.1 263.3v4M1015.1 337.3v-4M1043.6 263.3v4M1043.6 337.3v-4M1072.1 263.3v4M1072.1 337.3v-4" stroke="#000" stroke-width="0.9" fill="none"/>
<path d="M668.8 282.5h5.5M1122.5 282.5h-5.5M668.8 314.5h5.5M1122.5 314.5h-5.5" stroke="#000" stroke-width="0.9" fill="none"/>
<rect x="668.8" y="263.3" width="453.7" height="74" fill="none" stroke="#000" stroke-width="1.1"/>
<text x="1159" y="300.5" font-size="11" text-anchor="middle" transform="rotate(-90 1159 300.5)" stroke="#000" >T<tspan font-size="8.6" dy="3.6">e</tspan><tspan dy="-3.6"> [eV]</tspan></text>
<g clip-path="url(#c12)">
<line x1="668.8" y1="363.2" x2="1122.5" y2="363.2" stroke="#333" stroke-width="1.0" stroke-dasharray="4.2 2.4" />
<path d="M669.4 345.7l.5-1.5.5-2.9.5 12.8.5-3 .5-4.9.5-5.7.5 6.6.5.8.5-1.9.5 2.6.5-.8.5 3.9.5-3.3.5.5.5.4.5 1 .5-1 .5-1.7.5 3.2.5-2.7.5-7.3.5 7.3.5-.3.5 1.3.5-1.5.5-.7.5-.3.5-.1.5-1.4.5 3 .5-.7.5-.7.5-1.8.5 3 .5-.6.5-.5.5.3.5.2.5.2.5-1.4.5 1.8.5-1.7.5.4.5 2.1.5-2 .5 1.8.5 1 .5-.9.5-.5.5.2.5-.4.5-1.5.5 1.8.5-1.3.5 1 .5 1 .5-.3.5.2.5-3.2.5.2.5-1.3.5 5.4.5-4.5.5.3.5-.7.5 2.9.5-3.2.5 4.7.5-2.8.5-.7.5 6.1.5-.8.5-8.4.5-.7.5 5.6.5.4.5.8.5.7.5-6.2.5 2 .5 1 .5.2.5.5.5-.1.5-2.7.5.3.5.4.5.3.5 0 .5-1.3.5.2.5 1 .5-5.3.5 3.1.5 1.5.5-.5.5-2.2.5 2.4.5 1 .5 1 .5 0 .5-1.6.5 1.4.5 4.2.5-4.1.5 2.6.5-1.1.5-.9.5 3 .5-2 .5 1.6.5-2.8.5.9.5-6 .5 6.6.5-.5.5-.1.5 0 .5.5.5-3 .5 1.3.5 1 .5-1.7.5 2 .5-1.4.5 4 .5-1.6.5-2.3.5 4 .5-2.1.5.9.5 1.7.5.4.5 1.5.5-4.3.5 3 .5 1.8.5-1.9.5.3.5-1.4.5 3 .5 2.2.5-3.5.5-1 .5 1 .5-4.2.5 3.7.5 1.5.5-.8.5.2.5-1.7.5 1.7.5.7.5 1 .5.7.5-2.3.5 1.4.5-1.8.5.7.5-2.5.5 1.7.5-.1.5.3.5-3.1.5 2.6.5.1.5.1.5-.3.5 1.4.5-1.4.5 1.4.5.5.5-2.5.5.3.5 1.6.5-1.9.5 1.1.5-1.3.5 4.2.5-2.5.5-1.3.5-.1.5.6.5.1.5 1.6.5 2 .5-4 .5.2.5-2 .5 1.6.5 3.5.5-2.4.5-2.5.5.7.5-1.9.5.9.5-.1.5.6.5-.8.5.2.5.1.5-1.6.5-.6.5 1.7.5-1.6.5 1.1.5-3.5.5 3.8.5-5.2.5 5.5.5 2.5.5-1.9.5 2.8.5 2 .5-.3.5-1.8.5-.7.5 1 .5-1.5.5-.6.5-5.9.5 5 .5.9.5-3.6.5 1.5.5 2.3.5 2.8.5-3.4.5.2.5.4.5.6.5-.5.5.6.5 2 .5-2.3.5-.7.5 2.5.5.9.5-5.7.5 5.5.5-4.1.5 2.1.5-2.8.5 3.7.5-.5.5 1.6.5.4.5-1.7.5 3.9.5-5.1.5-.8.5 1.1.5 1 .5 1.4.5-3.1.5-.7.5-.1.5-.9.5 1 .5 2 .5-2.6.5-1.6.5-1.1.5 2.5.5-2.7.5 1.6.5 1.6.5-1.2.5-.6.5.5.5-.2.5.4.5-4.2.5 3 .5.2.5-3.2.5 3.3.5-2.4.5-.1.5-.9.5-1.4.5-.1.5-2.5.5 2.8.5.5.5 5.4.5-4.4.5.9.5-.1.5 3.1.5-.4.5-2.5.5 5.9.5-1.4.5 4.1.5-1.3.5 4.3.5-3.2.5 2.9.5-4.9.5 5.4.5-2.7.5 1.6.5 3.2.5-4 .5.3.5.5.5-1.3.5-.9.5-2.6.5 3.9.5-3.2.5.9.5-1.5.5 1.2.5 1.1.5-2.9.5.1.5-.7.5.6.5-2.3.5.6.5-.2.5-.4.5.4.5-.2.5-2.3.5.7.5 2.4.5-3.3.5 2.3.5 2.8.5-1.6.5-.8.5 0 .5 0 .5 3 .5 2.9.5-4.2.5 1 .5.8.5-3 .5-.2.5-1 .5 1 .5-.6.5-1 .5-3.6.5-.6.5 6.8.5-1.9.5 0 .5 2 .5-.7.5-.9.5.6.5-.7.5.9.5-1.8.5.2.5-.2.5.8.5 1.6.5.4.5-.9.5 2.2.5-3.9.5 2 .5 1.2.5 1.3.5-1.7.5-3.4.5 4.1.5.7.5-1.8.5 3 .5-.3.5 1.5.5-2.7.5.8.5 1.8.5-7.1.5 5.8.5.1.5.1.5-2.3.5 1.6.5 2.9.5-6.5.5 7.5.5-1.9.5-.6.5 1.7.5-.9.5-.1.5-1.7.5-1 .5 4.3.5 1.3.5-2.7.5 1.6.5-.5.5-.1.5.6.5 1.1.5-2.9.5 1.5.5-.4.5-.1.5-.8.5 1.1.5-1.8.5.5.5 2.2.5-.2.5 2.6.5-2.8.5-.3.5-.8.5 5.2.5-5.8.5.5.5 3.8.5-3.8.5-1.5.5 1.7.5-1.8.5 8.7.5-7.1.5 1.1.5-2.1.5.8.5.1.5 0 .5.4.5-1.2.5 6 .5-7.7.5 2 .5-1.6.5 3.5.5-1.9.5-.7.5 4 .5-4.4.5 5.6.5-5.8.5-2.4.5 2.7.5-.6.5 1.9.5.8.5-.3.5-.4.5-1.4.5.9.5.7.5-1.2.5 2.4.5-.3.5 1.1.5-2.3.5 3.8.5-4.6.5.5.5.8.5-2.8.5 3.6.5 4.4.5-4.1.5-1.7.5-.2.5.6.5-1.2.5 1.3.5-.5.5.4.5.2.5-.8.5.1.5-5.2.5 5.3.5-1.7.5.7.5-.1.5-1.1.5 1.9.5-1.4.5-.5.5-1.9.5 1.1.5-.4.5-.4.5-4.2.5 2.7.5-1.1.5 1.4.5 0 .5 1.9.5-3 .5 1.4.5-.2.5 2.1.5-.6.5-1.8.5-.5.5-2.7.5 8.1.5-5.8.5-.2.5-.8.5-1.9.5 1.2.5-1.9.5-.1.5 1.4.5-.8.5 1 .5-.4.5-3.7.5 2.7.5 1.6.5-1.9.5 5.5.5-6 .5-2.4.5.5.5-3.1.5 1.9.5 2 .5 5.1.5-7.4.5 3.4.5 2.2.5.6.5-1.4.5 1.4.5-1.8.5-.4.5-.7.5-1.2.5 1.3.5 1.5.5-.7.5 2.4.5-.5.5-1.4.5 2.1.5 1.3.5 1.3.5-.4.5.1.5 1.1.5-1.2.5 1.1.5-.8.5.5.5 2.8.5-.6.5-.3.5.3.5-3.4.5 1.9.5 1.7.5-1.5.5-.9.5-2.5.5 1.2.5 1.6.5-2.4.5 4.6.5-1.9.5-2.1.5.6.5-.5.5-.6.5.9.5-2 .5 1 .5.7.5.3.5-.1.5-1.4.5-.4.5-.5.5-4.3.5 4.5.5 3.4.5-3.7.5 1.2.5-.3.5.5.5 1.4.5-.5.5-1.6.5 2.3.5-2.1.5 1.3.5 5.9.5-7.1.5 2.8.5-2.3.5-.5.5-.1.5.1.5-1 .5 1.6.5-1.4.5.5.5-1 .5-.9.5 5 .5-5.2.5.8.5.3.5 2.3.5-1.5.5 2.1.5 3.8.5-5.3.5 2.3.5-5.9.5 2.3.5 1.6.5 2.3.5-7.2.5 6.2.5.4.5-3.5.5 2.2.5.8.5-1.4.5 2.5.5.4.5-1.6.5 1 .5 1.4.5-4.7.5 4.5.5.2.5 1.3.5 1.4.5-.7.5 3.9.5-10.1.5 7.9.5-2.2.5 1.8.5-.5.5-3.5.5 3.8.5-2.1.5 2 .5-.8.5-.4.5-1.7.5 1.1.5-1 .5 2.3.5 2.1.5-4.8.5 4.4.5-.6.5-2.1.5.1.5 3.7.5-4.8.5 2.4.5-.4.5-1.7.5 2.5.5 1.4.5-2.6.5 2.7.5 1 .5-2.1.5-1.5.5-.3.5.8.5-.4.5-1.6.5 2.8.5-2.4.5.3.5.8.5-1.1.5.3.5-.3.5-.6.5-1.6.5.4.5-.4.5-.2.5-2 .5 2.9.5-3.9.5 2.2.5.3.5-.3.5-2.3.5.9.5.8.5.9.5.1.5-1.9.5-2.7.5 3.9.5-1.9.5-.3.5 1.4.5.5.5.5.5-2.3.5.7.5-1.6.5 1.6.5-1.7.5.3.5.5.5 1.1.5-3 .5 3.3.5.2.5.8.5-.9.5 1.9.5-.9.5 2.5.5-1.4.5.4.5.9.5-1.5.5 1.5.5 1.1.5-1.1.5 2.5.5-.9.5-.6.5 1 .5 1.2.5-.4.5 0 .5.1.5 0 .5-.3.5-.3.5 0 .5-.5.5.3.5-.2.5-.3.5-.1.5-1 .5-.3.5.5.5-.9.5.2.5.1.5-1 .5.2.5.3.5-.6.5.3.5-.4.5-.9.5-.1.5.7.5-.7.5 0 .5 1.6.5-1.6.5-.4.5 0 .5-.1.5.5.5-2 .5.4.5.2.5-.7.5 1.2.5.3.5-.3.5-.5.5-.3.5 1.4.5-.5.5-.1.5.3.5-.3.5.3.5-1.5.5 1.2.5-.6.5-.6.5-.4.5 1.6.5-2.1.5-.2.5-1.9.5 2.3.5.2.5.7.5 1.7.5-1.2.5.3.5 0 .5.6.5-.4.5 1.1.5.6.5 0 .5-.5.5 1.8.5-1.6.5.8.5.4.5-.2.5.2.5 0 .5.2.5.1.5.1.5-.2.5 1.9.5-.2.5.4.5 1.2.5 1.3.5-1.3.5-2.3.5 2.3.5-1.3.5 1.5.5-.7.5.7.5-.2.5.3.5-.5.5.1.5.8.5.5.5.1.5-.1.5-.4.5 1.6.5-1.7.5 2 .5-.3.5.7.5-1.3.5-.3.5-.4.5.5.5-2.3.5 3.2.5-2.1.5-.2.5-.2.5-.2.5.7.5-.7.5.4.5 0 .5-.1.5.3.5-.1.5.4.5.5.5-1 .5-.3.5 1.1.5-.6.5.2.5.4.5-.6.5 1.2.5-.4.5-.8.5 1.3.5-.1.5-.7.5 1.1.5-.9.5 2.4.5-.1.5-.7.5.6.5.4.5.2.5-.3.5.8.5-.2.5.3.5-.2.5.9.5-.5.5.9.5-1.1.5-.3.5.3.5-.1.5-2.1.5 3.2.5-2.3.5.7" fill="none" stroke="#1010ff" stroke-width="0.95" stroke-linejoin="round" />
<path d="M669.4 358.4l.5-3.1.5 3.5.5-.2.5-.4.5 1.3.5-1.8.5-2.3.5 1.3.5.1.5.7.5 1.3.5-1.3.5.1.5.3.5-1.1.5.7.5.3.5 0 .5.3.5-.3.5-.7.5 1 .5.2.5.2.5-1 .5.1.5 0 .5.3.5 1.1.5-.5.5-.8.5.3.5 0 .5.2.5 2.2.5-2.1.5.6.5 1 .5-1.1.5 0 .5.2.5-.5.5-.3.5.7.5-1 .5.9.5-1 .5.7.5 0 .5.1.5-.6.5-.3.5.1.5.3.5.4.5-.9.5 1.6.5 0 .5 1.7.5-1.1.5-1 .5.6.5-.6.5 1.3.5-.5.5-.3.5 1.4.5.4.5-.2.5-.5.5.6.5 3.5.5-6.1.5 2.3.5-1.6.5 1.5.5-.4.5-1.8.5 1.9.5.1.5 1.5.5-1.6.5 0 .5-.1.5-.1.5.8.5-1.3.5.2.5-.7.5.4.5.9.5.1.5-.4.5.2.5-1.1.5.7.5-1.1.5.5.5-.1.5.4.5-.6.5 1 .5-.4.5.1.5.1.5.4.5-.4.5.9.5-.5.5 2.6.5-2 .5.3.5-.7.5.7.5-.2.5 1.4.5-.9.5 2.8.5-2.1.5-.3.5 0 .5.1.5.4.5.5.5.2.5-1.4.5 2 .5-1 .5-.2.5 2.7.5-2.5.5-.5.5.7.5-.4.5-.1.5-.6.5.5.5.8.5-.6.5-1.4.5 1.5.5.7.5-.4.5-1.2.5 2.8.5-.8.5-1.2.5-.2.5.1.5 2.6.5-2.7.5 0 .5 0 .5.1.5 1.3.5-.4.5.1.5.7.5-2 .5 1.1.5-.4.5-.1.5.9.5.2.5-.5.5-.1.5-.5.5.9.5-1.2.5.3.5.6.5-2 .5.6.5.5.5 2.2.5-2.3.5.1.5.5.5.5.5.2.5-1.9.5 0 .5 1.3.5-.5.5.9.5 1.6.5-2.5.5.5.5-2.9.5 3.4.5 1.1.5-.4.5-.1.5.5.5-1.6.5 2 .5-.1.5 0 .5-.5.5.1.5-.3.5-.6.5 1.1.5-6 .5 5.8.5-1.2.5 1.5.5-.1.5-1.5.5 2.2.5-2.8.5 0 .5 1.4.5-1.1.5 2 .5-1.4.5.6.5.2.5.5.5.3.5-.8.5 1.6.5-.8.5-.2.5-.6.5 0 .5-.4.5 1.1.5-.9.5 3.6.5-1.3.5-1.4.5-3.4.5.6.5 1.4.5-.8.5 1.1.5 1.5.5 0 .5-1.7.5-1.6.5 1.9.5.9.5-2.2.5 1.4.5-.4.5.8.5.1.5 1 .5-1.8.5.6.5-.3.5.6.5.4.5-.4.5-.1.5 3.2.5-3.8.5-.4.5-.4.5-.5.5 2 .5-.3.5.3.5.5.5.2.5 1.8.5-1.7.5.4.5-.4.5-2.5.5 3.1.5.6.5.7.5.2.5.5.5.9.5-.5.5.3.5.7.5-1.2.5 1.9.5.7.5.3.5-.7.5 1.8.5-1.8.5-1 .5.7.5-.7.5-.5.5.5.5-1.4.5.3.5-1.1.5.2.5-1.5.5 2.5.5-2.3.5-.8.5-.3.5.3.5.8.5-1.4.5 1.7.5-2 .5 2.2.5-3.9.5 1.4.5 1.5.5-1.2.5-.3.5.6.5-.6.5.5.5.9.5-.8.5 1.5.5-.4.5.6.5 1 .5.2.5.6.5.7.5-.8.5 1.2.5.4.5.9.5.4.5-.6.5.3.5 1 .5-.3.5.4.5-.8.5-1 .5-.7.5.8.5-.6.5-.8.5.6.5.3.5.3.5-1 .5 2 .5-2.8.5.9.5-.3.5 1.7.5-.1.5.3.5-.6.5-.6.5 1.9.5-2.1.5.9.5.8.5.5.5-1.7.5-1.4.5 1.9.5-1.3.5-.1.5-.7.5-.2.5.4.5.2.5.2.5-.7.5.4.5-.6.5.4.5-.2.5-1.1.5 1.2.5-1.7.5.6.5-1.1.5 0 .5.2.5-.6.5.8.5-2.7.5 3.8.5-1.1.5.2.5 0 .5.7.5-1.3.5.5.5-.2.5-.2.5 1.6.5-1.5.5.5.5-.9.5 1.7.5-.2.5.3.5.1.5-1.5.5.8.5 2.2.5-1.1.5-.4.5-2.3.5 2.1.5.3.5 1.5.5-2.6.5 2.4.5-2.2.5.9.5-1 .5 1.8.5-.7.5 1.6.5-.1.5-1.6.5-.1.5 1.6.5-.3.5.7.5.7.5-1 .5-2.6.5 4.7.5-1.8.5.4.5-.1.5-.1.5.3.5.5.5-.3.5-1.9.5 2.3.5.3.5.9.5-1.4.5-.4.5 1.4.5-.5.5.1.5-.5.5-.1.5.4.5 1.6.5-.4.5.2.5-2 .5 1.7.5-.2.5-.4.5.3.5.4.5-.8.5 0 .5.3.5-.5.5 1 .5-1.5.5-.3.5 1 .5-1.2.5 2 .5-.7.5-.2.5.4.5-1 .5-1.6.5-.1.5 1 .5 1.3.5-.8.5-.8.5.2.5-.5.5-.6.5.2.5-1 .5.2.5.6.5.2.5-.4.5 1 .5-1.8.5 2.1.5.3.5 1.1.5-1.4.5.5.5 1 .5.3.5.4.5 0 .5 1.1.5-.6.5-.3.5-.3.5-1 .5 1.4.5 1.4.5-1.7.5-2.6.5 2.3.5.1.5 1.6.5.4.5-.4.5 1.3.5.6.5 1.7.5-.2.5 2.2.5-1.7.5-.7.5 1.7.5.4.5-.1.5.4.5-.3.5.6.5 1.1.5-.4.5.2.5-.5.5.2.5.9.5-.9.5.9.5-2 .5.9.5-1.1.5-1.5.5 2.1.5-2.5.5-1.4.5.9.5-1.2.5-.1.5-.7.5 2.6.5-2.9.5-.4.5 1 .5-3.3.5.8.5-1.1.5-1.9.5 3.7.5-3.4.5.3.5 0 .5-.1.5 1.5.5-1.6.5.3.5.2.5-.4.5 2 .5-.3.5.4.5 2.7.5-.9.5.6.5-4.5.5 5.1.5 2 .5-2.5.5 1.4.5-.6.5 0 .5-.5.5 2.1.5-.1.5.3.5.8.5-.6.5 1.4.5.9.5-.1.5 0 .5.3.5-1.1.5 1.8.5-2.9.5-.7.5.5.5-1.2.5-.7.5 1.6.5-1.9.5.4.5-1.1.5.6.5-1.7.5.3.5 0 .5.5.5.9.5-.1.5-1.2.5 3 .5-.2.5-.2.5-.2.5-.1.5-.3.5 2.2.5-1.3.5-3.7.5 2.6.5-.4.5-2.6.5 3.1.5-2.4.5-2.8.5 1.2.5-.4.5-.3.5-.1.5.8.5-1.3.5.2.5 1.2.5-2.9.5 3.8.5 0 .5.7.5-1.1.5-.2.5 0 .5.1.5-2.9.5 2.4.5-.5.5-.4.5.5.5-2.1.5.1.5-1.2.5 1.1.5 0 .5 1.2.5-2.5.5.1.5-.3.5-3.1.5 3.4.5-.4.5-.9.5.4.5-.4.5 2.1.5-1.6.5 2.6.5 1.9.5-2.4.5-1.3.5-1.4.5 2.7.5-1.4.5.3.5.1.5-1.2.5 3.2.5-3.8.5-.3.5-.2.5.6.5 2.3.5-3.3.5.5.5-1.1.5-.2.5-1.4.5 2.9.5-1.9.5.5.5-.2.5-.3.5.1.5-.8.5.3.5.5.5.5.5-.3.5.9.5-.3.5 1.1.5-.2.5.1.5-.9.5-1.1.5.7.5-.9.5.2.5-.8.5-1.6.5 1.2.5-.9.5 1.2.5.1.5.4.5-2.4.5 2.5.5-.2.5.9.5-.8.5.5.5-.2.5-.6.5.5.5-1.2.5.5.5.5.5-.5.5-.3.5 1.8.5-1.9.5-.7.5.6.5-.5.5.2.5.2.5-.4.5-.7.5.5.5-.6.5.4.5-.1.5.3.5-.4.5.4.5 0 .5-.1.5-.2.5.4.5-.2.5-.5.5-.1.5.2.5 0 .5-.1.5.3.5-.3.5.3.5-.4.5-.2.5.2.5-.4.5.5.5 0 .5-.1.5 0 .5-.3.5.2.5-.1.5.5.5-.7.5-.1.5 0 .5-.1.5.4.5-.4.5-.5.5.8.5-.2.5-.2.5-.5.5-.3.5.3.5 0 .5-.6.5.4.5-.9.5.8.5 1.4.5-.9.5.1.5.8.5-.3.5-.1.5.3.5.5.5-.8.5 1 .5 0 .5.3.5 0 .5-.2.5.5.5.1.5-.6.5.8.5 0 .5 0 .5-.3.5.1.5-.1.5-.3.5-.4.5-.1.5.2.5-.5.5-.3.5-.2.5-.2.5 0 .5-.5.5-.1.5-.5.5-.1.5-.8.5.8.5-.4.5.6.5-.3.5-.2.5.4.5.2.5-2 .5 1.8.5.6.5-.4.5.7.5-1.3.5 1 .5-.3.5-.2.5-.1.5.2.5.1.5-.3.5.4.5-.9.5.9.5-.3.5-.5.5.2.5.1.5-.1.5-.4.5.9.5-.5.5-.3.5.1.5-.1.5-.2.5.1.5-.2.5-.1.5.2.5 0 .5-.1.5.2.5 0 .5.2.5.1.5-.6.5-.2.5.5.5.2.5.6.5-.8.5.2.5.1.5.6.5-.9.5.2.5.2.5 0 .5-.4.5.1.5-.5.5 0 .5-.3.5 0 .5-.7.5-.2.5.3.5.2.5-1.1.5.9.5-.4.5.2.5-.1.5.2.5-.3.5 0 .5 0 .5-.4.5.2.5.1.5.6.5-1.2.5.6.5-.4.5-.2.5.8.5-.8.5-.1.5-.1.5.2.5-.3" fill="none" stroke="#10ee10" stroke-width="0.95" stroke-linejoin="round" />
<path d="M669.4 396.8l.5-4.8.5 8.8.5 1.1.5.9.5 2.3.5-1.4.5-1 .5.7.5 2.7.5-.7.5.2.5 2.3.5-1 .5-.9.5-.6.5.5.5-3.2.5-4.2.5 1.6.5 2 .5-2.3.5-1.2.5 1.7.5.4.5 3.6.5-1.7.5-1.8.5.6.5-6.3.5 4.8.5-3.4.5 5.1.5-2.4.5-1.1.5.6.5-3.1.5-.2.5 1.6.5 2.9.5.6.5-3 .5 3.2.5 1.5.5.4.5-1.1.5 4.2.5-1.3.5 1.6.5-.4.5-1.3.5-.4.5 1 .5-3.8.5-3 .5.8.5-1.1.5-3.6.5-3.2.5 6.1.5-3.4.5 1.5.5-2.2.5-.5.5 11.1.5.6.5 3.4.5-4.2.5-2.2.5-.2.5.1.5 0 .5-3.1.5-2.4.5 2.2.5-.7.5 5.7.5-6.4.5-.7.5 6.3.5-7.7.5-.1.5.8.5 1 .5-3.3.5 2.1.5-2.8.5-1.3.5.2.5 2.6.5-7.5.5 11.2.5-5.9.5-.6.5-3.8.5 2.5.5-1.4.5-.2.5-3 .5 4.1.5.6.5-2.7.5 1.5.5-1.7.5.5.5-.3.5.6.5-2.9.5 7.2.5.5.5.7.5 3 .5-3 .5-2.6.5 1.1.5-2.2.5-1.5.5-4.9.5 4.6.5-1 .5 1.1.5.5.5 3.5.5.8.5-5.6.5 5.8.5-4.6.5-.1.5-1.6.5.2.5-2 .5-3 .5.1.5 3.3.5-4 .5 6.4.5-1.9.5-4.2.5-1 .5-.8.5 1.5.5-3.9.5 1.6.5-3 .5 2.6.5-4.1.5.5.5-.7.5-2 .5 5.2.5-1.2.5 2 .5 4.7.5-5.2.5 1.4.5 1.4.5-.2.5 1.7.5.6.5-.7.5 2.2.5 4.2.5-2.9.5 1.2.5-1.3.5-.3.5 2.7.5-.8.5.8.5-2.7.5 4 .5 2.1.5-5.3.5-.1.5.3.5-2.5.5-5.1.5 3.9.5 1.3.5-.5.5 5.2.5-6.8.5 2.8.5 4.9.5-.8.5.1.5.2.5-.8.5-.5.5 4.4.5-3.3.5-1.3.5-.7.5 0 .5-1.1.5-.2.5-1 .5 2.4.5-2.3.5 3 .5-3.2.5 4.4.5-3.4.5 1.6.5.7.5-4.5.5 5.1.5-4.7.5 3.2.5-2.3.5 4.2.5-4 .5-3.8.5.4.5-2.8.5 2.6.5 2 .5-3.5.5 1.2.5 1.9.5-.2.5 3.7.5 2.3.5-2.6.5.6.5-2.1.5.8.5.9.5 2.2.5 2.1.5-.7.5.8.5-2.5.5 2.2.5-3.6.5.2.5-.3.5-1.8.5-.3.5-1.4.5 2.9.5-2.8.5 2.8.5-5.8.5-1.1.5-2.2.5 6 .5-5.5.5-2.3.5 2.1.5 1.6.5-3.9.5-1.2.5-1.1.5 3.7.5-3.9.5 3.9.5.1.5 3.6.5-6.4.5-.2.5-.3.5 1.8.5-1 .5 1.4.5.2.5 3.9.5-8 .5.9.5-2.1.5 2.9.5-.1.5-1.1.5-2.3.5 2.2.5 3.1.5 2.1.5.1.5.4.5 2 .5.5.5-2.4.5-2.1.5-2 .5-2.3.5 2.7.5-4.1.5-.2.5-.6.5-2.5.5-5.2.5 9.7.5-5.6.5-13.3.5 6.8.5 6.5.5 5.5.5-7.4.5 3.4.5-.2.5-1.3.5 2.7.5-1 .5 1.2.5 2.3.5 1.4.5-3.5.5-.1.5.5.5 5.8.5-5.6.5 1.1.5-1 .5 1.1.5.4.5 2 .5 3.3.5-1.2.5-.6.5 3.4.5-1.8.5.9.5-3.4.5-1.4.5 2.9.5-3.1.5 1.7.5-2.7.5-.5.5.5.5 1.4.5-1.8.5 6 .5-6.3.5-1.5.5.5.5 1.1.5 1 .5-2.1.5 3.4.5-2.8.5-.4.5 1.5.5 2.3.5 8.6.5-11.1.5-2.1.5 2.4.5.1.5 1 .5-2.5.5-4.1.5 4.2.5-.5.5.1.5 1 .5-2.4.5 5.5.5-1.7.5-.2.5-1.3.5-1 .5 2.6.5 1.3.5 1 .5-9.4.5-1.9.5 2.9.5-1.5.5-2.5.5-1 .5 2.9.5-6.4.5-1.8.5 3.2.5-1.2.5 3.6.5 7.2.5 5.2.5 2.1.5-1.5.5-2.8.5 2.1.5 3.3.5-5.8.5 1.2.5-2.5.5.2.5-1.5.5-5.3.5 2.6.5 1 .5 5.7.5-3.6.5-4.4.5-3.2.5 4.7.5 1.2.5-1.8.5 4.2.5-4.7.5 3.9.5-1 .5-.6.5.9.5 2.8.5-1.1.5-1.7.5-.6.5 1.3.5-1.9.5 2.8.5-5.1.5 1.4.5.4.5 2.6.5-2.4.5 1.1.5-3.7.5 1.3.5 4.4.5-2 .5-2.9.5 10.3.5-11.4.5 3.1.5-3.2.5 1.5.5 1.9.5.7.5-2.1.5 1.3.5 1.5.5-3.1.5-6.6.5 7.9.5-1.1.5 6.9.5-5.2.5 1.4.5.4.5-1.2.5 3 .5-4 .5.9.5 2.3.5-1.4.5-3.5.5.5.5 4.3.5-4.2.5-.6.5.2.5 2.7.5-2.7.5-2.5.5-1.3.5 1.1.5-2.3.5.6.5 9.2.5-8.6.5 2.1.5-4.3.5 2.4.5-.7.5-.2.5-6.2.5 3.5.5-3.9.5 6.6.5-1.7.5 1.5.5.5.5-.8.5-.2.5 2.2.5.7.5.9.5.1.5-1 .5 3.9.5-.9.5-8.9.5 10.2.5 3.1.5-2.5.5 0 .5 2.8.5-1 .5.6.5 1.8.5-1.3.5-2.8.5 1.1.5 2.7.5-2.5.5-1.3.5 1.7.5.2.5-1.6.5.4.5.5.5.4.5 4.1.5-1 .5 3.5.5-6 .5 3.5.5-3.6.5 2.3.5-1.7.5-2.1.5 2 .5-1.2.5-.1.5-1.8.5.5.5-1.2.5 1.4.5.9.5-.5.5-.8.5 1.6.5-3 .5-.2.5-1.2.5-3.1.5 3.7.5-3.4.5.2.5-1.9.5 5 .5-3 .5.2.5.5.5-3.2.5 4.4.5.1.5.7.5-1.4.5-6.6.5 8.3.5-3.5.5 4.1.5-1.1.5-5.5.5 4.3.5.1.5-3.4.5 4.1.5.7.5 9.3.5-10.3.5 1.1.5-2.5.5 1.8.5.6.5 1.4.5-2.8.5 3.5.5.2.5-2.5.5-.1.5 0 .5.6.5.4.5 5 .5-7 .5-1.4.5 1.8.5-1.4.5 2.4.5-.5.5 2.7.5-2 .5-1.9.5 1 .5-.5.5 1.3.5-2.1.5 0 .5.3.5 7 .5-16.3.5-7.7.5 5.3.5-3.6.5-4.8.5 5 .5 3.5.5-1 .5 2.3.5 4.2.5-4 .5 7.6.5-3.8.5-1 .5-4.4.5-1.3.5-4.7.5 5.9.5 1.4.5 2.3.5-2.7.5 1.2.5 3.5.5-2.4.5.8.5-1.5.5 3.3.5-.4.5 2.3.5 2.7.5 1.8.5 1.4.5 1.7.5-1.2.5.3.5 10.9.5 8.8.5-.5.5-1.1.5-4.6.5-4 .5.4.5-8.4.5 1.4.5 2.4.5-4.6.5-2.1.5-1.9.5 3 .5.6.5-1.1.5 2.8.5-2.7.5-.1.5 2.6.5.3.5-.3.5 3 .5-3.8.5 4.6.5-.3.5 4 .5-.7.5 5.1.5-.3.5.4.5 2.3.5 1.2.5-1.8.5-1.1.5 4 .5-7.6.5-3 .5-1.2.5 3.4.5-1.8.5 1 .5-.7.5 3.3.5-.6.5-1.2.5 2.8.5-1.3.5 1.1.5 2.5.5-.2.5.3.5 1.9.5.7.5 1.6.5-2.1.5-2.7.5 5 .5-4.2.5 2.5.5.5.5-1.8.5 1.4.5-.7.5-2 .5.8.5 1.7.5-2.9.5 1.6.5 1.6.5 1.4.5-1.6.5.9.5.4.5-3.4.5 3 .5 1.7.5-.7.5 2.1.5-.9.5 2.8.5-1.4.5 1 .5-.3.5-2.5.5 3.6.5 2 .5-1.4.5.1.5 1.3.5-2.5.5.6.5.1.5-.7.5-1.5.5.3.5.2.5-2.2.5 1.7.5-.1.5-1.9.5 0 .5 3.6.5 0 .5-1.8.5.3.5 1.5.5-4.1.5 1.7.5-.8.5 4.3.5-4.4.5.4.5-4.6.5 2.7.5-1.8.5.6.5-.2.5-1.2.5-.9.5-.2.5-.4.5-.8.5.3.5-1 .5.2.5-.7.5-.3.5.1.5-.5.5.3.5.1.5.9.5-1.5.5-.7.5.5.5-.2.5-2.2.5 2.2.5.1.5-.1.5-1.4.5 2.4.5-.5.5-.7.5 1.1.5.8.5.1.5 2.1.5.1.5 2 .5.6.5 1.3.5.6.5 3 .5-1.6.5-.2.5-.7.5-.4.5-.1.5-.3.5-.1.5-1 .5 1.4.5-.2.5-1.4.5 2.3.5-1.1.5-.1.5 1.5.5.6.5.5.5-.5.5-.4.5-.6.5-.4.5-.8.5-.4.5-.9.5.5.5-3.2.5 1.7.5-.8.5 2.7.5-2.2.5 0 .5.9.5.6.5-.7.5-.5.5 1.2.5.8.5.4.5-.6.5-1.3.5.7.5.8.5-.2.5.4.5-1.2.5.3.5.8.5-.5.5.1.5.5.5.7.5-1 .5-.5.5 1.2.5-.7.5-.3.5.9.5-.8.5-.7.5.8.5-.2.5 3.4.5-4.1.5.8.5 0 .5 1.2.5-1.3.5.7.5-1 .5.6.5-2.7.5 3.2.5.2.5-.8.5.4.5.1.5.2.5 1.2.5-.8.5.1.5.4.5 0 .5-1.2.5 1.3.5.6.5-.4.5-3 .5 2 .5.5.5-.5.5-.5.5-2.1.5 2.9.5-1.7.5.5.5-.2.5-.6.5.2.5-.4.5.4.5.1.5-.4.5 0 .5.3.5.3.5.3.5-2 .5 1.3.5 1.6.5-1.7.5 1.3.5-.7.5.2.5.2.5.4.5-.1.5-.3.5.9.5-.3.5.1.5.3.5-.2.5 1.9.5-.9.5-.4.5 2.3.5-1.3.5-.3.5.5.5.3.5 1.5.5-1.3" fill="none" stroke="#ff1010" stroke-width="0.95" stroke-linejoin="round" />
<line x1="701.1" y1="342.8" x2="701.1" y2="411.2" stroke="#ff4848" stroke-width="1.5" stroke-dasharray="10 3.5" />
<line x1="856.8" y1="339.3" x2="856.8" y2="411.2" stroke="#ff00ff" stroke-width="1.45" stroke-dasharray="1.5 4.3" />
<line x1="904.4" y1="342.8" x2="904.4" y2="411.2" stroke="#ff1010" stroke-width="1.0" stroke-dasharray="10 4" />
<line x1="974.5" y1="340.8" x2="974.5" y2="411.2" stroke="#0000ff" stroke-width="1.15" stroke-dasharray="1.2 3.1" />
<line x1="1005.9" y1="342.8" x2="1005.9" y2="411.2" stroke="#30b830" stroke-width="1.4" stroke-dasharray="9.5 4" />
</g>
<line x1="674.2" y1="342.6" x2="692.1" y2="342.6" stroke="#3030ff" stroke-width="0.9" />
<text x="695.7" y="346.1" font-size="9.5" fill="#3030ff" stroke="#3030ff" stroke-width="0.15" >E<tspan font-size="6.5" dy="3.0" stroke-width="0.12">L</tspan></text>
<line x1="674.2" y1="352.4" x2="692.1" y2="352.4" stroke="#22ee22" stroke-width="0.9" />
<text x="695.7" y="355.9" font-size="9.5" fill="#22ee22" stroke="#22ee22" stroke-width="0.15" >E<tspan font-size="6.5" dy="3.0" stroke-width="0.12">M</tspan></text>
<line x1="674.2" y1="362.4" x2="692.1" y2="362.4" stroke="#ff3030" stroke-width="1.6" />
<text x="695.7" y="365.9" font-size="9.5" fill="#ff3030" stroke="#ff3030" stroke-width="0.15" >E<tspan font-size="6.5" dy="3.0" stroke-width="0.12">N</tspan></text>
<path d="M758.7 337.3v10.5M758.7 411.2v-10.5M872.7 337.3v10.5M872.7 411.2v-10.5M986.6 337.3v10.5M986.6 411.2v-10.5M1100.6 337.3v10.5M1100.6 411.2v-10.5M673.2 337.3v4M673.2 411.2v-4M701.7 337.3v4M701.7 411.2v-4M730.2 337.3v4M730.2 411.2v-4M787.2 337.3v4M787.2 411.2v-4M815.7 337.3v4M815.7 411.2v-4M844.2 337.3v4M844.2 411.2v-4M901.1 337.3v4M901.1 411.2v-4M929.6 337.3v4M929.6 411.2v-4M958.1 337.3v4M958.1 411.2v-4M1015.1 337.3v4M1015.1 411.2v-4M1043.6 337.3v4M1043.6 411.2v-4M1072.1 337.3v4M1072.1 411.2v-4" stroke="#000" stroke-width="0.9" fill="none"/>
<path d="M668.8 341.1h2.6M1122.5 341.1h-2.6M668.8 344.3h2.6M1122.5 344.3h-2.6M668.8 347.4h2.6M1122.5 347.4h-2.6M668.8 350.6h5.5M1122.5 350.6h-5.5M668.8 353.7h2.6M1122.5 353.7h-2.6M668.8 356.9h2.6M1122.5 356.9h-2.6M668.8 360h2.6M1122.5 360h-2.6M668.8 363.2h5.5M1122.5 363.2h-5.5M668.8 366.3h2.6M1122.5 366.3h-2.6M668.8 369.5h2.6M1122.5 369.5h-2.6M668.8 372.6h2.6M1122.5 372.6h-2.6M668.8 375.8h5.5M1122.5 375.8h-5.5M668.8 378.9h2.6M1122.5 378.9h-2.6M668.8 382.1h2.6M1122.5 382.1h-2.6M668.8 385.2h2.6M1122.5 385.2h-2.6M668.8 388.4h5.5M1122.5 388.4h-5.5M668.8 391.5h2.6M1122.5 391.5h-2.6M668.8 394.7h2.6M1122.5 394.7h-2.6M668.8 397.8h2.6M1122.5 397.8h-2.6M668.8 401h5.5M1122.5 401h-5.5M668.8 404.1h2.6M1122.5 404.1h-2.6M668.8 407.3h2.6M1122.5 407.3h-2.6" stroke="#000" stroke-width="0.9" fill="none"/>
<rect x="668.8" y="337.3" width="453.7" height="73.9" fill="none" stroke="#000" stroke-width="1.1"/>
<text x="666.3" y="342.1" font-size="11" text-anchor="end" stroke="#000" >4</text>
<text x="666.3" y="354.4" font-size="11" text-anchor="end" stroke="#000" >2</text>
<text x="666.3" y="367.1" font-size="11" text-anchor="end" stroke="#000" >0</text>
<text x="666.3" y="379.9" font-size="11" text-anchor="end" stroke="#000" >-2</text>
<text x="666.3" y="392.2" font-size="11" text-anchor="end" stroke="#000" >-4</text>
<text x="666.3" y="404.8" font-size="11" text-anchor="end" stroke="#000" >-6</text>
<text x="641.5" y="374.5" font-size="11" text-anchor="middle" transform="rotate(-90 641.5 374.5)" stroke="#000" >E<tspan font-size="8.6" dy="3.6">LMN</tspan><tspan dy="-3.6">&#160; [mV m</tspan><tspan font-size="8.4" dy="-4.2">-1</tspan><tspan dy="4.2">]</tspan></text>
<g clip-path="url(#c13)">
<line x1="668.8" y1="447.9" x2="1122.5" y2="447.9" stroke="#333" stroke-width="1.1" stroke-dasharray="4.2 2.4" />
<path d="M669.4 445.7l.6.1.6-.1.6-.5.6 1 .6-.1.6-1.6.6 1.5.6.1.6.2.6-1.6.6.1.6.5.6-.5.6.2.6.7.6-1.4.6.4.6 0 .6.1.6 0 .6.2.6.9.6-1 .6.5.6 0 .6-.2.6-.3.6.3.6-.3.6-.3.6.2.6.4.6.6.6-.4.6.2.6.6.6-.6.6 0 .6 0 .6-.1.6-.7.6 1.1.6-.6.6.3.6.7.6-.3.6-.2.6.1.6.3.6-.7.6 1.3.6.3.6-.4.6-.3.6 1.2.6-1.3.6.1.6.4.6.3.6-.4.6.6.6-.7.6.2.6.1.6.3.6-.4.6.5.6.6.6-.9.6.3.6-.2.6.3.6-.6.6 1.5.6.1.6-1.6.6.7.6.2.6 0 .6-.5.6.3.6-1.2.6.9.6.3.6.5.6-.4.6.5.6-.5.6 0 .6.2.6 0 .6 0 .6-.3.6.6.6-.2.6.1.6-.2.6.4.6-.7.6 0 .6.6.6-.4.6-.2.6.5.6-.2.6.3.6-.1.6-.3.6.5.6-.1.6-.6.6.4.6.1.6.1.6-1 .6 1 .6 0 .6.2.6-.8.6.9.6-.4.6 0 .6-.3.6.5.6-1.2.6 2.3.6-1.8.6.9.6-.1.6-.6.6.3.6-.3.6 0 .6-.4.6.4.6.8.6-.7.6.4.6-.4.6.2.6.6.6.3.6-1 .6 0 .6-.1.6.4.6-.1.6.1.6.6.6-1.3.6.1.6 1 .6.4.6-.9.6.3.6.4.6-.6.6 0 .6-.1.6.5.6.1.6-.3.6-.2.6-.4.6.4.6-.2.6.1.6.4.6-.4.6.5.6-1 .6 1.4.6-1.7.6 1.5.6-.5.6 1.1.6-.3.6-1 .6-.2.6.3.6-.9.6 1.1.6-.8.6 1.6.6-.8.6-.3.6.8.6 0 .6-.5.6-.8.6.1.6 1.6.6 0 .6-1.5.6 1.2.6-.2.6-.7.6-.2.6.7.6.5.6-.5.6-.2.6 0 .6.5.6-.1.6.5.6-1.1.6.5.6-.1.6-.7.6 1.2.6-.8.6 1 .6-.7.6.9.6 0 .6-.5.6-.4.6 1.2.6-.4.6.1.6-.1.6-.3.6.6.6.4.6-.3.6.3.6.2.6-.4.6 1 .6-.5.6-.6.6 0 .6.8.6-1.2.6.2.6 1.7.6-.4.6 0 .6.3.6-.8.6.9.6-.6.6-.7.6.4.6-.4.6-.4.6.5.6-1.5.6.7.6-.5.6-.1.6 1.1.6-.7.6.4.6-.1.6.7.6-1.1.6-.3.6 1.1.6-.5.6-.1.6 1.5.6-1.2.6 0 .6.4.6-.1.6.7.6-.3.6-.7.6.5.6.2.6-.1.6-.6.6-.1.6-.1.6 1 .6.2.6-.7.6.2.6-.1.6.1.6-1.3.6.8.6.1.6-.7.6.5.6.9.6-1 .6 1.7.6-1.2.6.1.6-.2.6-.3.6 1.1.6-.6.6-.8.6 1.3.6-.3.6.4.6-.2.6.1.6-.3.6 0 .6 0 .6 0 .6-.2.6.2.6.5.6-1.5.6.8.6-.4.6-.5.6.7.6-1 .6.3.6-.7.6.8.6-.7.6-.2.6 1.1.6-.5.6.2.6 1.3.6-1.5.6.2.6.4.6.1.6 0 .6.8.6-.4.6-.2.6-.3.6.7.6-1.3.6 1.5.6-.2.6-.2.6.7.6-.5.6-.1.6.1.6.7.6-1 .6.4.6-.5.6.4.6 0 .6.5.6-.6.6-.1.6.3.6-.8.6.8.6.2.6.7.6-1.5.6-.5.6.9.6-.1.6 1.7.6-1 .6-.1.6 0 .6-.5.6 1 .6-.4.6.4.6-.7.6.9.6-.7.6.4.6-.2.6.2.6-.1.6.5.6-.7.6.3.6.1.6-.4.6.8.6-.2.6.6.6-1.1.6.1.6.7.6-1.2.6.6.6 1.3.6-.3.6-.9.6.6.6 0 .6 0 .6.2.6.1.6.6.6-.5.6.3.6-.2.6 0 .6-.1.6-.4.6-.2.6.8.6 0 .6.4.6-.8.6-.2.6.1.6-.1.6.3.6.3.6.4.6-.2.6-.1.6 0 .6-.6.6.4.6.6.6-.4.6-.1.6.4.6.6.6.4.6-1.4.6 1.1.6.1.6-.6.6.7.6 0 .6-.3.6 0 .6.6.6-.4.6-.1.6.4.6-.2.6-.5.6.3.6-.1.6.3.6-.9.6.6.6-.5.6-.4.6.4.6-.2.6.5.6-.8.6 0 .6-.1.6-1 .6.6.6.3.6-.4.6-.2.6 1.3.6-2.3.6 1.9.6-.5.6.2.6.2.6-.4.6.4.6-.8.6 1.1.6.5.6-.5.6.2.6-.1.6.1.6-.6.6 1 .6-.9.6.6.6 0 .6-.8.6 1.1.6-.5.6-1.1.6 1.2.6-.1.6-1.1.6.7.6 1 .6-.9.6.1.6-.2.6.5.6-1.2.6.7.6.5.6-.4.6-.2.6 0 .6-.5.6.4.6-.1.6-.9.6 1.2.6-.5.6-.5.6.6.6-.5.6-.8.6.6.6-.2.6 1.3.6-1.5.6.1.6.9.6-.7.6-.5.6 0 .6-.2.6.9.6-.7.6.7.6-.7.6-.5.6-.2.6.4.6.2.6-.2.6.8.6-.9.6.6.6-.4.6 0 .6 0 .6-.5.6-.2.6.6.6-.2.6.1.6-.6.6-.3.6.3.6.7.6-1 .6 0 .6-.1.6 0 .6-.1.6.2.6-.3.6.1.6-.1.6.5.6-.3.6-.3.6.8.6-.4.6.1.6-1.1.6.2.6.8.6.4.6-.4.6-.8.6.3.6.6.6-1.5.6.7.6-1 .6 1.5.6-1.1.6.9.6-.5.6 0 .6 1 .6-.1.6-1.1.6-.6.6 0 .6.8.6.2.6-.3.6.5.6-.6.6.5.6-.6.6-.6.6.8.6-.3.6.5.6-.7.6.6.6-.3.6-.4.6-.3.6.2.6.3.6.4.6-.6.6.1.6.1.6-.4.6 1.5.6-1.5.6.5.6-1.1.6.5.6.3.6-.4.6 0 .6 0 .6.3.6.1.6 0 .6-.2.6.5.6-.7.6.8.6-.7.6 1 .6-.8.6.2.6.3.6-1.6.6.9.6-.7.6 1 .6-.7.6 1.2.6-1 .6.7.6-.4.6-.5.6.9.6-1.2.6 1.3.6-.9.6-.2.6.3.6.7.6-.2.6.3.6-.9.6-.3.6.6.6-.5.6.4.6-.5.6-.3.6 0 .6.4.6.3.6-1.1.6 1.4.6-.8.6.9.6-.4.6-.1.6 0 .6 0 .6.2.6-.5.6.5.6.5.6.6.6-1.3.6.6.6.1.6-.1.6 0 .6.2.6-.4.6.8.6-1.4.6.2.6.6.6.1.6 0 .6-.3.6.3.6-.3.6-.1.6.4.6-1.3.6 1.1.6-.4.6.9.6-.7.6-.5.6-.2.6.2.6-.5.6.4.6.8.6-1 .6.4.6-.1.6-.1.6-.6.6-.7.6.8.6-.3.6.1.6.9.6-.7.6.1.6-.7.6-.5.6 1 .6.9.6-1.4.6.8.6-.6.6 0 .6.4.6-.3.6-.8.6.1.6 0 .6-.4.6.3.6.6.6.5.6-1 .6.5.6.1.6-.1.6.4.6-.5.6-.4.6.7.6.1.6-.4.6-.7.6.4.6.5.6-1.5.6.3.6.8.6-.2.6-.5.6.7.6-.5.6-.2.6.6.6.2.6-.4.6-1.2.6 1.2.6-.4.6.3.6-.1.6.4.6-.5.6-.1.6 0 .6.1" fill="none" stroke="#202020" stroke-width="1.0" stroke-linejoin="round" />
<path d="M669.4 446.4l.6.3.6-.3.6-.6.6 1 .6-.9.6-.4.6.2.6-.9.6 1.3.6-.6.6-.8.6.1.6.2.6.1.6.2.6-.7.6.2.6-.3.6-.3.6 1 .6-.8.6-.2.6.8.6.3.6-.7.6.3.6.3.6-.6.6.7.6-.5.6-.3.6 1.1.6-1.2.6.6.6-.1.6.2.6.2.6-.1.6.8.6-1 .6.4.6.5.6.1.6.3.6-.5.6.4.6 0 .6.7.6-1.4.6.7.6-.1.6.1.6.4.6.2.6-.6.6.3.6.2.6-.1.6.3.6.1.6.3.6-.1.6-1.5.6 1.2.6 0 .6-.4.6.6.6 0 .6-1 .6 1 .6 0 .6.6.6-.2.6-.2.6.5.6-.4.6-.5.6.9.6-.5.6 1 .6-.9.6-.1.6-.1.6.4.6-.2.6.2.6-.7.6 1.1.6-.7.6-.3.6-.4.6.8.6 0 .6.2.6-.1.6.5.6-.3.6-.7.6 1.3.6-.6.6.5.6-.2.6-1.1.6 1.4.6-1.2.6.4.6-.3.6.8.6.1.6-.2.6 0 .6 0 .6.5.6-1.1.6-.1.6-.1.6 1 .6-1.6.6 1.2.6.1.6.6.6-1.1.6.5.6-.2.6.6.6-.2.6.1.6-.2.6-.1.6.4.6-.5.6-.3.6.4.6 1 .6-1.1.6.7.6-.1.6 0 .6-.1.6-.6.6.9.6-.6.6.2.6-1.2.6 1.3.6-.4.6 0 .6.6.6-.1.6.2.6-.5.6 0 .6.7.6-.1.6-1 .6.7.6-.4.6.3.6.1.6-.2.6 1 .6-.8.6 0 .6.1.6-.4.6 0 .6 0 .6.5.6-.5.6 1.1.6-1.1.6 1.4.6-1 .6-.1.6.2.6-.2.6.7.6-.3.6-.7.6 1.1.6-.3.6-.3.6-.2.6.8.6-.8.6-.2.6.1.6-.3.6 1.2.6-.4.6 0 .6-.7.6.2.6.1.6.1.6.4.6-1 .6.5.6.5.6-.9.6.1.6.6.6.1.6.2.6-.7.6.4.6-.2.6-.4.6.5.6.2.6.7.6-.6.6.2.6-.5.6.8.6-.1.6.1.6-.3.6.8.6-.7.6-.1.6.4.6-.6.6 1.4.6-.8.6 1 .6 0 .6-.7.6.3.6 0 .6.3.6-.4.6.3.6-.4.6.4.6.6.6.3.6 0 .6-.7.6 0 .6-.1.6-.1.6-.1.6.3.6-.5.6 0 .6 0 .6-.1.6-.8.6-.2.6.9.6-1 .6 1.1.6-1 .6.9.6-.6.6 0 .6.4.6-.2.6.8.6-.7.6.5.6 0 .6-.9.6.9.6.2.6-.6.6.4.6 0 .6.1.6-.3.6.5.6-.5.6.5.6-.8.6.3.6-.6.6 1.1.6-.3.6 0 .6 0 .6.4.6-.7.6.3.6-.3.6.4.6-.9.6.6.6.1.6 0 .6-.1.6.3.6.5.6-1.1.6 1.3.6-.9.6.7.6-.4.6.1.6-.4.6-.5.6.2.6.2.6.6.6-.5.6.4.6-.2.6-.1.6.3.6-.3.6-.7.6.5.6-1 .6.9.6-.5.6-.2.6-.3.6.2.6-.2.6.3.6-.6.6.6.6.4.6.1.6.1.6-.1.6.2.6.3.6-.3.6 0 .6-.3.6 0 .6.9.6-.5.6.7.6-1.1.6.6.6.6.6.1.6-.3.6-.2.6.2.6.1.6-.7.6.5.6 0 .6.1.6-.2.6-.5.6.7.6-.1.6 0 .6-.6.6-.5.6.9.6-.1.6.5.6.2.6-.4.6-.3.6.5.6-.8.6.3.6.9.6-.1.6 0 .6-.6.6.1.6.2.6-.3.6.3.6.6.6-.5.6.3.6-.3.6.3.6.3.6.2.6.1.6.2.6-1.1.6.5.6-.3.6.4.6-.8.6 1.5.6-.3.6.1.6-.3.6-.1.6.2.6 0 .6.1.6 1 .6-.6.6-.2.6-.1.6.6.6-.7.6.1.6.6.6-.6.6.2.6-.2.6 1.1.6.6.6-.6.6-.9.6.4.6-.2.6 1.1.6-.5.6-.5.6-.1.6 1 .6.5.6-1.7.6 1.5.6-.9.6-.2.6.1.6 0 .6.3.6-.1.6 1 .6-.8.6-.3.6.2.6.1.6.3.6-.1.6 0 .6.2.6-.6.6 0 .6.2.6.5.6-.2.6.4.6-1.1.6 0 .6 1.1.6-.1.6-.8.6-.2.6.7.6-.9.6.8.6-1.2.6 1.1.6-.5.6 0 .6-1 .6 1.2.6-1.2.6.6.6-.5.6.9.6-1.4.6 1.5.6-.6.6.2.6 0 .6-.6.6 1.1.6.1.6-.8.6.5.6-1.1.6.7.6.4.6 0 .6.6.6 1.1.6-1.5.6.1.6-.3.6.5.6-.4.6.3.6-.3.6.1.6.3.6 0 .6-.2.6-.2.6.3.6-.8.6.7.6-.4.6.7.6-1.2.6.4.6-.7.6 1.1.6-.5.6-.5.6.2.6.8.6-.8.6-.4.6.2.6-.1.6.4.6-.8.6.6.6-.5.6.1.6.3.6.2.6-.3.6-.5.6.3.6.3.6 0 .6-.5.6-.5.6.5.6-.2.6.4.6-.7.6-.1.6.1.6-.4.6-.1.6 0 .6.6.6-.6.6.3.6-.6.6.3.6.1.6-.6.6.9.6-.9.6.5.6-.6.6-.1.6.3.6.5.6-.3.6 0 .6-.1.6-.4.6-.2.6.8.6-.4.6-.7.6.3.6-.1.6-.4.6 1 .6-.8.6.1.6-.1.6-.2.6 0 .6-.1.6.9.6-.7.6-.1.6-.7.6.8.6-.2.6.7.6-.5.6-.9.6.7.6-.4.6.2.6-.2.6.2.6.4.6-.4.6.1.6.1.6-.5.6.6.6-1.1.6.8.6-.5.6-.1.6.4.6-.4.6.4.6.2.6-.3.6.3.6-.1.6-.8.6 1.4.6-1.3.6.1.6.4.6.4.6-1.3.6.7.6-.5.6 1.3.6-1.2.6.1.6.1.6 0 .6.3.6 0 .6-.3.6.1.6-.4.6 0 .6 0 .6.7.6.3.6-.6.6-.7.6.3.6 0 .6.4.6.2.6-.4.6.3.6-.3.6-.2.6-.1.6 0 .6-.2.6.9.6-.8.6-.4.6.4.6-.3.6.4.6-.1.6-.6.6.9.6 0 .6.5.6-1.4.6 0 .6 0 .6 1 .6 0 .6-.5.6-.2.6.3.6-.1.6 0 .6-.3.6.1.6-1.3.6 1.6.6-.3.6.6.6-.3.6-.1.6.8.6-.3.6.3.6-.3.6-.3.6-.4.6.5.6 0 .6.3.6-.2.6.7.6-.5.6-.5.6 1.1.6-1.2.6-.2.6-.1.6.5.6-.5.6 1.3.6-.9.6.2.6-.3.6.7.6-1.2.6.6.6.5.6-.5.6.1.6-.6.6.7.6-.2.6-.4.6-.5.6.2.6-.1.6.2.6-.6.6 1.2.6-1 .6.4.6-.8.6.6.6-.1.6.5.6-1.6.6 1.5.6-.2.6.1.6-.2.6-.8.6-.1.6 1 .6-.1.6-.4.6-.1.6-.1.6-.4.6.5.6-.5.6.4.6 0 .6-.1.6.3.6-.2.6-.2.6-.2.6.6.6-.3.6-.3.6.8.6-.5.6-.3.6 1 .6-1.3.6 0 .6.6.6.2.6-.7.6 1 .6-.7.6-.2.6 0 .6-.7.6 1.2.6-.4.6-1.2.6 1.5.6-.3.6-.6.6.5.6-.5.6.3.6.4.6-.2.6-.5.6 0 .6.8.6-.1.6-.7" fill="none" stroke="#10e010" stroke-width="1.0" stroke-linejoin="round" />
<line x1="701.1" y1="416.7" x2="701.1" y2="485" stroke="#ff4848" stroke-width="1.5" stroke-dasharray="10 3.5" />
<line x1="856.8" y1="413.2" x2="856.8" y2="485" stroke="#ff00ff" stroke-width="1.45" stroke-dasharray="1.5 4.3" />
<line x1="904.4" y1="416.7" x2="904.4" y2="485" stroke="#ff1010" stroke-width="1.0" stroke-dasharray="10 4" />
<line x1="974.5" y1="414.7" x2="974.5" y2="485" stroke="#0000ff" stroke-width="1.15" stroke-dasharray="1.2 3.1" />
<line x1="1005.9" y1="416.7" x2="1005.9" y2="485" stroke="#30b830" stroke-width="1.4" stroke-dasharray="9.5 4" />
</g>
<line x1="674.2" y1="417" x2="692.1" y2="417" stroke="#888" stroke-width="1.8" />
<text x="692.9" y="420.3" font-size="8.8" fill="#111" stroke="#111" stroke-width="0.15" >-(VexB)<tspan font-size="6.4" dy="1.8" stroke-width="0.12">M</tspan></text>
<line x1="674.2" y1="428.2" x2="692.1" y2="428.2" stroke="#40ee40" stroke-width="0.9" />
<text x="693.9" y="431.5" font-size="9.5" fill="#40ee40" stroke="#40ee40" stroke-width="0.15" >E<tspan font-size="6.4" dy="2.6" stroke-width="0.12">M</tspan></text>
<path d="M758.7 411.2v10.5M758.7 485v-10.5M872.7 411.2v10.5M872.7 485v-10.5M986.6 411.2v10.5M986.6 485v-10.5M1100.6 411.2v10.5M1100.6 485v-10.5M673.2 411.2v4M673.2 485v-4M701.7 411.2v4M701.7 485v-4M730.2 411.2v4M730.2 485v-4M787.2 411.2v4M787.2 485v-4M815.7 411.2v4M815.7 485v-4M844.2 411.2v4M844.2 485v-4M901.1 411.2v4M901.1 485v-4M929.6 411.2v4M929.6 485v-4M958.1 411.2v4M958.1 485v-4M1015.1 411.2v4M1015.1 485v-4M1043.6 411.2v4M1043.6 485v-4M1072.1 411.2v4M1072.1 485v-4" stroke="#000" stroke-width="0.9" fill="none"/>
<path d="M668.8 413.7h2.6M1122.5 413.7h-2.6M668.8 418.6h2.6M1122.5 418.6h-2.6M668.8 423.5h5.5M1122.5 423.5h-5.5M668.8 428.4h2.6M1122.5 428.4h-2.6M668.8 433.3h2.6M1122.5 433.3h-2.6M668.8 438.2h2.6M1122.5 438.2h-2.6M668.8 443.1h2.6M1122.5 443.1h-2.6M668.8 448h5.5M1122.5 448h-5.5M668.8 452.9h2.6M1122.5 452.9h-2.6M668.8 457.8h2.6M1122.5 457.8h-2.6M668.8 462.7h2.6M1122.5 462.7h-2.6M668.8 467.6h2.6M1122.5 467.6h-2.6M668.8 472.5h5.5M1122.5 472.5h-5.5M668.8 477.4h2.6M1122.5 477.4h-2.6M668.8 482.3h2.6M1122.5 482.3h-2.6" stroke="#000" stroke-width="0.9" fill="none"/>
<rect x="668.8" y="411.2" width="453.7" height="73.8" fill="none" stroke="#000" stroke-width="1.1"/>
<text x="1124.6" y="427.1" font-size="11" stroke="#000" >10</text>
<text x="1124.6" y="451.9" font-size="11" stroke="#000" >0</text>
<text x="1124.6" y="476.1" font-size="11" stroke="#000" >-10</text>
<text x="1154.2" y="449" font-size="11" text-anchor="middle" transform="rotate(-90 1154.2 449)" stroke="#000" >E<tspan font-size="8.6" dy="3.6">M</tspan><tspan dy="-3.6"> [mW m</tspan><tspan font-size="8.4" dy="-4.2">-2</tspan><tspan dy="4.2">]</tspan></text>
<g clip-path="url(#c14)">
<path d="M669.6 546.8l.3 2.8.3-.4.2-9.3.3 13.5.3-19.5.3-3.2.3 10.1.2.2.3 3 .3 2.6.3-2.1.3-7.4.2 11 .3-2.3.3 8.2.3-7.2.3-5.1.2 10 .3-15.5.3 9.6.3 0 .3.5.2.4.3-6.3.3 4.9.3 3.7.3-2.8.2-4.5.3 4.2.3-6.8.3 7 .3-2.7.2-1.3.3 8.2.3-10.9.3 4.6.3-.5.2-6.5.3 11.8.3-9.4.3 12 .3-3.4.2-7.7.3 5.8.3-1.9.3 6.1.3 1 .2-15.9.3 12.2.3-1.8.3.8.3-2.9.2-1.2.3 8 .3-9.9.3-.8.3 15.1.2-6.8.3-1.4.3 5.8.3-11.5.3-12.5.2 9.8.3 15 .3-1.6.3-8.7.3 8.8.2-10.1.3-9.4.3 9.6.3 5.7.3-1.6.2 1.4.3-2 .3.5.3 2 .3-5.3.2-1.8.3-12.1.3 12 .3 2.4.3-5.9.2 16 .3-4.3.3 4.6.3-2.3.3 2.4.2-11.6.3 8 .3-7.2.3 1.3.3 1.8.2 4.8.3-.4.3-5.8.3-5.5.3 3.9.2 6.6.3-13.6.3 13 .3-.4.3-4.9.2-3.3.3 5.7.3-5.5.3 8.5.3-12.9.2 8.9.3.3.3-23.2.3 23.8.3 6.2.2-7.2.3-2.3.3 1 .3-2 .3-2.2.2 1 .3 9.4.3-14.2.3 7.8.3 6 .2-5.2.3 1.2.3-10 .3 2.9.3 10.7.2-1.8.3-1.4.3 5.7.3-7.1.3 2.3.2-9 .3 1 .3 6.7.3-3.3.3 0 .2 6.9.3-10 .3-1.3.3 8.8.3-1.7.2-12.3.3 11.5.3-2.5.3-.1.3 0 .2 2.3.3-8.5.3 14.9.3-.7.3-.3.2-7.2.3 1.4.3 3.6.3-4 .3 3.7.2 1.4.3 1.7.3-7.3.3 12.2.3-10 .2 3.2.3-2.9.3-17 .3 16 .3 4.6.2-5 .3-5.7.3 13.8.3-4.2.3.1.2-16 .3 9.9.3-2.4.3-13.8.3 18.2.2-4.3.3-2.9.3 5.1.3-2.4.3 4.2.2 1.2.3-1.8.3 4.3.3-6.3.3-3.4.2 8.4.3-6.8.3 16.7.3-9.8.3-4.8.2-3.3.3 8.4.3-12.7.3 11.3.3-24.3.2 26.2.3 8.3.3-11.6.3.3.3-3.8.2 1 .3-5.2.3-5.5.3.2.3 11.6.2 9.4.3-4 .3-22 .3 8.5.3 15 .2-5.6.3 4.5.3-5.5.3-.9.3 2.2.2-6.4.3.6.3 1.2.3-8.9.3 1.2.2 13.4.3-16.8.3 6.4.3 6.8.3-3.2.2-9.6.3 10.1.3.9.3 9.6.3-11.2.2-20.1.3 13.5.3 9.6.3 5.6.3-5.4.2-11.2.3 10.1.3-7.5.3 11.1.3-1.6.2-5.8.3 3.7.3-12.9.3 17.4.3 7.2.2-14 .3 9 .3.8.3-2.6.3 3.4.2-9.7.3 3.1.3-3.8.3 16.7.3-6.1.2-10.9.3 1.6.3 15.5.3-11.7.3-9.1.2.7.3-5.6.3 7.3.3 0 .3-18.7.2 18.6.3 10.8.3-13.5.3-7.3.3 2.4.2 8.9.3-10.1.3 8.8.3 2 .3-1.1.2-5.1.3-2.6.3 15.2.3-10.1.3 7.6.2-21.1.3 8.5.3 19.8.3-19.1.3 10.5.2-4.5.3-8.5.3 3.2.3 15.8.3-7.9.2-.7.3-3.7.3 7.9.3-4 .3 6.9.2-8.1.3 3.6.3 1.9.3.5.3 5.2.2-5 .3-2.9.3-14.9.3 16.6.3-9.6.2 2.7.3-17.9.3 23.7.3-1.5.3-1.9.2-4.2.3 11.6.3-11.5.3 2.5.3 2 .2-2.9.3-1.1.3 6.1.3 13.6.3-29.2.2-1.2.3 26.1.3-13.8.3-13.6.3 17.2.2 4.9.3-3.3.3 13.3.3-8.3.3-17 .2 2.3.3 1.2.3 7 .3-13.2.3 17.1.2 1.3.3-14.9.3-19.7.3 11.4.3 7.7.2 3.9.3 13.5.3-2.8.3-8.1.3-5.6.2 8.1.3-9.3.3-3.5.3 4.6.3 3.9.2 6.8.3-8.8.3-7.7.3 11 .3 8.6.2 12.5.3-13 .3-5.1.3 8.5.3 1.1.2-34.5.3 30.2.3-20.4.3 15 .3-6.2.2.7.3.1.3 1 .3-4.1.3-4.2.2 16 .3 1.5.3-10 .3-1.1.3-9.6.2 11.5.3 5.8.3-1.3.3-3 .3-5 .2 5.4.3-.5.3 6.4.3-30.2.3 35.5.2-5.5.3 1.2.3-24.7.3 13 .3 18.1.2-17 .3 2.7.3 6.3.3-5.7.3 11.3.2-7.2.3 9.5.3-10 .3 6.4.3-1.8.2-.4.3 2.1.3-10.3.3-17 .3 16.6.2 16.2.3-13.7.3-2.4.3 6.4.3 8.7.2-4.5.3-7.6.3-14.1.3 12.9.3-5.6.2 6.9.3-.4.3-14.5.3 2.8.3 8.1.2 1.2.3 7.1.3.4.3-9.4.3 10.5.2-13.7.3-24.9.3 39.6.3-9.6.3-3.9.2-2.9.3 9.3.3 3.7.3-8.3.3 21.2.2-25.5.3-2.9.3 11.1.3-2.3.3-1.1.2-19.9.3 9.6.3 2.8.3 4 .3 22.7.2-29 .3 26.4.3-11.9.3-2.2.3-17.9.2 18.8.3 3.4.3-31 .3 15.8.3 26.9.2-37.7.3 10.5.3 22.2.3-34.7.3 15.3.2 18.2.3-34.2.3 38.7.3-20 .3-10.2.2 3 .3 21.3.3-4.6.3-8.9.3 5.7.2-2.8.3-.6.3 0 .3 21.2.3-36 .2 15.1.3-4.6.3 11.9.3-7.5.3 2.7.2-.4.3.2.3 1.4.3 3 .3-25.9.2-9 .3 22 .3 6.3.3-.8.3 14.6.2-24.9.3 5.9.3 5 .3-12.4.3 14.2.2-8.1.3-16 .3 5.1.3 12 .3-8.4.2.4.3 24.3.3-9.2.3.2.3 2 .2.6.3-5.9.3 14.4.3-2.5.3-5.9.2 9.9.3-7.6.3-4.4.3-6 .3 14.5.2 2.2.3-.7.3-12.2.3 18.9.3-11.8.2-3.9.3 0 .3-6.6.3 8.3.3 7.6.2-2.6.3-7.5.3 12.7.3-24.5.3-2.3.2 14.2.3 7.3.3-6.5.3 13 .3 4.5.2-6.2.3-8.3.3 12.2.3-8.7.3 10.7.2-11.8.3-8.8.3-2 .3 1.6.3 13.8.2 7.1.3-15.9.3-17.1.3 11.1.3 5.2.2 5.2.3-.7.3-6.6.3-11.6.3 29.5.2-.8.3-16.9.3 1.9.3 6.4.3.1.2-.7.3 4.4.3-11.5.3 18 .3-4.3.2-8.1.3 1 .3-2.8.3 7.2.3 4.4.2-12 .3-.4.3 3.9.3 1.5.3 8.5.2-7.7.3-16.3.3 14.1.3 9.7.3-19.4.2 22.3.3-16.5.3 1 .3-3.4.3-2.5.2-.4.3 1.8.3 8 .3 2.8.3-6.2.2-5.3.3-.1.3 2 .3-5.9.3 4.3.2 4 .3 1.1.3 8.3.3-1.2.3-15.4.2 8 .3 7.4.3-1.8.3-5.7.3-2 .2 5.1.3 4.6.3-2.8.3 1.2.3-6 .2 4.4.3.3.3-1.2.3-2.8.3-6.9.2 5.5.3 4.5.3 1.5.3-2 .3-10.3.2 7.3.3 15.8.3-23 .3 14.9.3-9.8.2-6.1.3 7.4.3 8.9.3-15.5.3 4.7.2-8.6.3 14.5.3 2.3.3-13.1.3-7.3.2 23.4.3-10.4.3 8.2.3-23.8.3 4.4.2 1.3.3-21.1.3 30.8.3-1.4.3-18.3.2 14.6.3-3 .3-27 .3 19.2.3 5.2.2 6.1.3-16.1.3 34.4.3-6.9.3-13.2.2 11.9.3-5.2.3-22 .3 26.8.3 11 .2-53.6.3 49.4.3-20.7.3-7.1.3 2.4.2 15.4.3-20.9.3 11.4.3 19.6.3-7.3.2 11.1.3-21.6.3-15.9.3 24.8.3-16.2.2 23.1.3-1.6.3-15.4.3-12.8.3 8.4.2 11.1.3-17.4.3 2.5.3 19 .3-12 .2-31.3.3 46.9.3-5.6.3-29.9.3 29 .2 1.9.3-3.4.3 12.7.3-17.5.3-10.5.2 19.6.3-2.9.3 5.3.3-19.3.3 17.8.2-9 .3-21 .3 5.9.3 17.2.3-18.8.2 9.9.3 5.9.3 8.9.3-9.6.3 11.6.2-6.5.3-16.7.3 33.4.3-38 .3-.9.2.9.3 30.4.3 8.9.3-30.8.3 14.5.2-1.4.3-19.1.3 16.7.3 1.9.3-4.5.2 15 .3-29.2.3 22.8.3-8.5.3 3.7.2-5 .3 16.1.3-11.7.3 19.8.3-15.8.2-3.7.3 7.8.3 1 .3-8 .3 5.7.2-1.4.3-11.8.3 1.4.3 13.9.3.2.2-6.1.3-6 .3 5.2.3 4.7.3 12.3.2-17.2.3-5.8.3 0 .3 14 .3-19 .2 1.1.3 25.4.3-12.8.3-4.9.3 3.1.2-9.9.3 4.7.3-.4.3-10.2.3 11.3.2-3.3.3 12.8.3-5.1.3-7.8.3 2.9.2-1 .3 7.1.3 0 .3-11.3.3 15.9.2-1.8.3-29.7.3 30.4.3-5.4.3-10.8.2 12.1.3 9.4.3-12.1.3 13 .3-8.1.2-13.9.3-3.5.3 7.9.3 8.5.3 10.7.2-11.6.3 1.9.3-13 .3.8.3 11.1.2 3.8.3 5.1.3 3.5.3-2.1.3-12 .2-3.3.3 2.6.3-8.4.3-14 .3 12.9.2 6.4.3 5.6.3-3.2.3-11 .3 14.8.2-3 .3 3.5.3-5.2.3 18.8.3-26 .2 23.2.3 1.9.3-13.7.3-9.8.3 5.8.2 1.6.3-1.4.3 1 .3-.6.3-.5.2 6.6.3-4.7.3 4.7.3.4.3 8.1.2-32.2.3 21.7.3-.7.3 5.6.3 1 .2-4.3.3-2 .3-13.6.3 15.2.3 13.2.2-21.4.3 6.5.3-18.4.3 22.1.3-3.4.2 3 .3-12.6.3 1.3.3-2.9.3 18.2.2-1.3.3-3.3.3 6.8.3-6.2.3 1 .2-6.6.3-1.3.3-2.3.3-7.3.3 7.8.2 18.6.3 1.7.3-17.1.3.2.3-18.6.2 15 .3 13.9.3 2.6.3-8.1.3 2.3.2-1.8.3 6.1.3-21.5.3 23.8.3-14.4.2 3.7.3 3.5.3-12.1.3 14.3.3-7.2.2-6.9.3 10.3.3-8.8.3 8.5.3-2.4.2 13.4.3-10.8.3 10.1.3-9.7.3 6.2.2-19.2.3 19.6.3-12.3.3 8.2.3 1.2.2-6.2.3 3.7.3-9.4.3-5.8.3 8.7.2 5.3.3 5.6.3-7.4.3 4.2.3 9.8.2-17.8.3 13.6.3-23.3.3 1.3.3 11.4.2 5.1.3-1.8.3-5.4.3-9.5.3 15 .2 2.1.3 8.1.3-9.6.3.1.3 3.7.2-1.4.3-15.4.3 8.4.3 9.9.3-11.8.2 13 .3-20.9.3 14.5.3-7.4.3-2.2.2 10.1.3-4.2.3 1 .3-1.5.3 4.8.2-1.3.3 7 .3-11.1.3-.9.3 1.5.2-5.6.3 1.5.3-4.2.3 2.6.3 9.9.2-6 .3 11.7.3-11.9.3 9.6.3-5.2.2-4.8.3 16.6.3-16.7.3 14.9.3-7.8.2-9.2.3 4 .3-5.2.3 9.1.3-1.7.2 10.5.3-9.6.3 11.6.3-21 .3 16.5.2-15.3.3 4.6.3 3.6.3-13.3.3 14 .2-13.5.3 5.7.3-1.7.3-3.5.3-10.6.2 20.8.3-4.4.3 2.7.3 7.2.3-10.7.2-1.3.3-10 .3 18.4.3-1.4.3-11.6.2 12.4.3-7.3.3-20.5.3 40.6.3-35.5.2 13.4.3 6.4.3-7.9.3 1.4.3-4.7.2 13.3.3-12.9.3-3.8.3.7.3-.9.2 2 .3.7.3-15 .3 20.7.3-14.8.2 11.1.3-7.1.3 7.3.3-22.1.3 9.6.2 37 .3-12.8.3-7.3.3-7.9.3-.8.2-5.1.3 15.1.3-10.3.3-12.8.3 6.7.2 22.4.3-8.9.3-1.2.3-6.8.3 16.3.2-21.8.3 30.9.3-16.6.3 8.6.3-9 .2-8.6.3-9.7.3 6.8.3-4.5.3 18.5.2-2.5.3-13 .3 10.8.3-3.5.3 1.1.2-4.9.3 28.2.3-34.5.3 10 .3 5.5.2 3.9.3-2.5.3-20.6.3-4.4.3 16.3.2-3 .3 12.2.3 5.1.3-12.6.3 8.8.2-5.9.3 1 .3-3.8.3 9.8.3-9.5.2-15.7.3 17.1.3 6.2.3-15.5.3-5.4.2 13 .3-4 .3-15.5.3 15 .3 20.7.2-7.9.3-7.3.3-7.3.3-1.4.3 21.9.2-14.1.3-12.6.3 32.2.3-11.3.3.4.2-10 .3 19.4.3-9 .3-20 .3-6.8.2 23 .3 20.1.3-36.7.3 2.9.3-1.3.2 18.2.3-30.5.3 33.4.3-19 .3 17.1.2-36.4.3 22.2.3 13.9.3-5.6.3-2 .2 12 .3-7.8.3-11.8.3-3.6.3 31.3.2-14.9.3-4.8.3-.2.3-30.9.3 16.4.2 4.7.3-6.8.3 22 .3-12.4.3 17.9.2-50.8.3 55.5.3-18.5.3 13.9.3 7.6.2-22 .3 4.9.3-8.8.3 11.5.3-10.8.2 11.5.3-13 .3 13.9.3-13.1.3 11.5.2-.6.3 12.7.3-11.8.3-6.7.3 7.3.2-4.9.3 14.2.3-14.1.3 5.6.3-8.9.2 6.6.3.8.3 3.7.3-10 .3 20.1.2-31.9.3 33.5.3-16.2.3 5.2.3-5.4.2-3.7.3 2 .3-7.8.3 25.3.3-14.7.2 6.6.3-4.6.3 4.1.3-6 .3-1.5.2 6.6.3 2.5.3-14.3.3 2.4.3 2.4.2-8.7.3 7.6.3 2.8.3 9.8.3-9.4.2-13.4.3 17.1.3-1.5.3 7.9.3-6.1.2-6 .3 21.9.3-8.6.3-2.6.3-6.7.2-24.4.3 19.1.3 6.9.3-9 .3 24.7.2-17.3.3-.6.3 14.9.3-19 .3 3.8.2 20.6.3-25.8.3 5.1.3-4.8.3 15 .2-5.8.3-4.5.3-1.1.3-10.7.3 22 .2-10.5.3 16.3.3-14.9.3 8.7.3-1 .2-20.5.3 19.9.3-5.2.3-5.6.3 4 .2.1.3-1.8.3-14.4.3 17.2.3 9.4.2-7.5.3-26.7.3 22.9.3-2.4.3 4.1.2-4.2.3 17.9.3-4.6.3-8.8.3-13.3.2 9.3.3-15.8.3 22.3.3-2.9.3.4.2 11.6.3-8.7.3-13.2.3 27.4.3-26 .2 4.5.3-14.5.3 3.4.3-2.4.3 18.6.2 4.7.3-17.4.3 16.2.3-9.3.3 18.6.2-32.3.3 35.1.3-13 .3-1.2.3-5.6.2 18.5.3-15 .3 12.2.3-23.6.3 24.1.2-10.8.3 10.6.3-21.1.3 14 .3 2.6.2 5.8.3-29.5.3 21.2.3-4.8.3-11.5.2 5.5.3-.1.3 5.9.3 1.1.3-2.7.2 2.4.3-9.6.3-3.2.3 2.1.3 11 .2 7 .3-22.4.3 6.3.3 11.1.3-4.5.2-.6.3 3.1.3-7.3.3 12.8.3-6.5.2 2.2.3-4.5.3-5.4.3 5.6.3 12.6.2-5.2.3-.6.3-2.4.3-7.8.3.8.2-10.9.3 17.5.3-2.6.3-3.7.3-5.3.2 11.8.3-21.1.3 20.1.3-6.5.3 4.9.2 8.6.3-9.6.3-19.4.3 15.4.3.1.2-14.2.3 3.1.3 12.2.3 1.5.3 9 .2-8.7.3-6.6.3 6.1.3-21.5.3 21.8.2 5.4.3 5.8.3-4.7.3-2 .3-1 .2-16.2.3 19.8.3-7.5.3 12.6.3-6.9.2 6.9.3-4.6.3-3.2.3-5 .3 16.9.2 2.4.3-19.5.3 15.1.3 5.5.3-23.4.2 5.7.3 6.8.3-10.4.3-3.1.3.3.2 7 .3-1.4.3 1.6.3 1 .3-2.5.2-15.9.3 15.4.3 1.2.3-3.6.3 2 .2 15.5.3-.4.3-.3.3-14.3.3-6.3.2 18.7.3-9.5.3-4.2.3 16.9.3-15.6.2-24.4.3 42.3.3-14.4.3-3.1.3 5.3.2 9.2.3-13.8.3.7.3-19.8.3 27.1.2-7.8.3.7.3-21 .3 34 .3-5.7.2-29.7.3 22.5.3-5.4.3.4.3-5.9.2 10.6.3 1.1.3-8.6.3 11.4.3-11.1.2 10.4.3-8.6.3 17.8.3-6.3.3-.4.2-18.1.3 7.5.3.6.3 8.9.3-13.3.2-15.3.3 37.5.3-9.5.3-8.1.3 8.6.2-.3.3-3.3.3 9.1.3-17.1.3 14 .2-5.4.3.6.3 1.3.3-14.5.3 9.8.2 1.1.3 8.3.3-7.6.3-6.2.3.8.2 6.1.3-7.7.3 11 .3-3.4.3 1.3.2 2.5.3 4.2.3-18.3.3 9.6.3-12.2.2 6.6.3 21.3.3-4.5.3 5.4.3-30.6.2 29.6.3-16.7.3 15.7.3-20.1.3 6.5.2 11.2.3 3.1.3-27.6.3 7.4.3 10 .2-9.5.3-10.7.3 20.6.3-6.3.3-3.4.2 1.5.3 10.7.3-3 .3-19.8.3 4.6.2 18.8.3-36.8.3 3.4.3 20 .3-4.9.2 9.1.3 5.6.3-3.8.3-8.2.3 8.9.2 1.7.3-8.4.3 4.6.3-4.8.3-7 .2 6.6.3 4.3.3 8.2.3-12.7.3-3.3.2 15.6.3-3.1.3-8 .3 9.8.3-4.8.2-12.6.3 18.8.3-19.6.3 14 .3 3 .2-7.8.3-.1.3-7.7.3-1.4.3 16.7.2-13.2.3 3.3.3-10.6.3-3.5.3 31.9.2-15.3.3-5.4.3-16.1.3 25.2.3 15.4.2-29.1.3 2.9.3 9.3.3-5.6.3-10.8.2-.2.3 10.4.3 4.6.3 7.7.3-22.8.2 2.6.3 28.5.3-22.9.3 6.2.3-7.6.2-6.1.3 18.1.3-2.8.3-3.5.3-9.7.2 4.1.3 10.3.3-5.8.3 2.5.3-13.9.2.7.3 6.9.3 2.9.3-34.8.3 32.7.2 10.8.3 14.8.3-27.4.3-.9.3 3.5.2-3.8.3 12.2.3 7.5.3-13.9.3-9.7.2 30.2.3-2.3.3-1.4.3-15.8.3 11.8.2 2.9.3-11 .3-4.4.3-9.4.3 31 .2.3.3-19.1.3 2.5.3-.9.3-4.1.2 21.9.3-18.1.3 2.4.3-5.7.3 3.4.2 2.7.3-11.1.3 4.9.3 4.3.3-4.8.2-13.8.3 24.9.3-9.4.3-11.8.3 22.9.2-11.7.3 2.8.3-.4.3 3.5.3 3.5.2-5.4.3-1.1.3-4.9.3 11.8.3-4.2.2 8.3.3-22.4.3-3.9.3 21.5.3-4.3.2 7.7.3 5.6.3 2.8.3-19 .3 5.3.2-3.4.3-1.9.3-4.6.3 14.7.3 7.6.2-24.9.3 11.5.3 1.6.3-3.8.3 10.6.2-3.3.3-6.8.3-4.6.3 15.9.3-10.2.2-9 .3 14.7.3-2 .3-14.7.3 12.8.2-2.1.3 4 .3 7.5" fill="none" stroke="#000" stroke-width="1.05" stroke-linejoin="round" />
<line x1="701.1" y1="490.5" x2="701.1" y2="558.8" stroke="#ff4848" stroke-width="1.5" stroke-dasharray="10 3.5" />
<line x1="856.8" y1="487" x2="856.8" y2="558.8" stroke="#ff00ff" stroke-width="1.45" stroke-dasharray="1.5 4.3" />
<line x1="904.4" y1="490.5" x2="904.4" y2="558.8" stroke="#ff1010" stroke-width="1.0" stroke-dasharray="10 4" />
<line x1="974.5" y1="488.5" x2="974.5" y2="558.8" stroke="#0000ff" stroke-width="1.15" stroke-dasharray="1.2 3.1" />
<line x1="1005.9" y1="490.5" x2="1005.9" y2="558.8" stroke="#30b830" stroke-width="1.4" stroke-dasharray="9.5 4" />
</g>
<line x1="674.2" y1="500" x2="692.1" y2="500" stroke="#606060" stroke-width="1.2" />
<text x="693" y="503.3" font-size="9.0" fill="#222" stroke="#222" stroke-width="0.15" >|J|</text>
<path d="M758.7 485v10.5M758.7 558.8v-10.5M872.7 485v10.5M872.7 558.8v-10.5M986.6 485v10.5M986.6 558.8v-10.5M1100.6 485v10.5M1100.6 558.8v-10.5M673.2 485v4M673.2 558.8v-4M701.7 485v4M701.7 558.8v-4M730.2 485v4M730.2 558.8v-4M787.2 485v4M787.2 558.8v-4M815.7 485v4M815.7 558.8v-4M844.2 485v4M844.2 558.8v-4M901.1 485v4M901.1 558.8v-4M929.6 485v4M929.6 558.8v-4M958.1 485v4M958.1 558.8v-4M1015.1 485v4M1015.1 558.8v-4M1043.6 485v4M1043.6 558.8v-4M1072.1 485v4M1072.1 558.8v-4" stroke="#000" stroke-width="0.9" fill="none"/>
<path d="M668.8 486.5h5.5M1122.5 486.5h-5.5M668.8 492.6h2.6M1122.5 492.6h-2.6M668.8 498.8h2.6M1122.5 498.8h-2.6M668.8 504.9h2.6M1122.5 504.9h-2.6M668.8 511h5.5M1122.5 511h-5.5M668.8 517.1h2.6M1122.5 517.1h-2.6M668.8 523.2h2.6M1122.5 523.2h-2.6M668.8 529.4h2.6M1122.5 529.4h-2.6M668.8 535.5h5.5M1122.5 535.5h-5.5M668.8 541.6h2.6M1122.5 541.6h-2.6M668.8 547.8h2.6M1122.5 547.8h-2.6M668.8 553.9h2.6M1122.5 553.9h-2.6" stroke="#000" stroke-width="0.9" fill="none"/>
<rect x="668.8" y="485" width="453.7" height="73.8" fill="none" stroke="#000" stroke-width="1.1"/>
<text x="666.3" y="491.4" font-size="11" text-anchor="end" stroke="#000" >0.6</text>
<text x="666.3" y="514.8" font-size="11" text-anchor="end" stroke="#000" >0.4</text>
<text x="666.3" y="539.1" font-size="11" text-anchor="end" stroke="#000" >0.2</text>
<text x="645" y="520.5" font-size="11" text-anchor="middle" transform="rotate(-90 645 520.5)" stroke="#000" >|J| [&#181;A m<tspan font-size="8.4" dy="-4.2">-2</tspan><tspan dy="4.2">]</tspan></text>
<g clip-path="url(#c15)">
<line x1="668.8" y1="595.4" x2="1122.5" y2="595.4" stroke="#111" stroke-width="1.1" stroke-dasharray="4.2 2.4" />
<path d="M669.4 591l.4 6.2.4-3.5.4 2.7.4-2 .4 1.2.4-3.5.4-.6.4 1.2.4.7.4-5.2.4 4.8.4-7.6.4 15.3.4 1.9.4-12.8.4.3.4 6.6.4-3.6.4 1.2.4-2.1.4-1.7.4 6.7.4-4.3.4.7.4 1.9.4 0 .4 5.2.4-9.4.4 6 .4-2.1.4-7.5.4.7.4 12.4.4-8.8.4.2.4 7 .4-5.4.4 9.3.4-7 .4 0 .4-1.7.4 5.5.4-4.4.4 3.7.4-6.6.4 2.8.4 7.4.4-5.6.4-.8.4 8.8.4-13.4.4 1.9.4-2.7.4 6.4.4-3.4.4 1.5.4 3.9.4-8.4.4 1.2.4 8.6.4-4.5.4-2.4.4 2.5.4-1 .4.8.4 1.3.4.2.4-3.5.4-.7.4-14.4.4 10.1.4-2.1.4.4.4 10.6.4-4.1.4 1 .4-.8.4 13 .4-10.1.4 1.6.4 2.9.4-9 .4-5.9.4 4 .4 12.5.4-8.6.4 1 .4-4.4.4 8.4.4-7.4.4 3.6.4 3.1.4-6.5.4-.9.4 2.1.4-.1.4 4.6.4-9.2.4 10 .4-5.4.4-5.4.4 5.9.4 1.3.4-3.3.4-1.6.4 4.4.4 5.1.4-4.6.4-5.8.4 7.3.4-5 .4 9.1.4.7.4-.9.4-8.8.4-4.8.4 6.7.4.3.4-5.6.4 5 .4-.9.4 3.1.4 2.3.4-10.1.4 3.8.4 3.7.4-.7.4 2.7.4-2.7.4 2 .4 1.3.4-6.6.4 3.7.4-2.1.4-.2.4-1.5.4 7.8.4 4.3.4-7.3.4 1.1.4 3.3.4-8.3.4 4.1.4-.6.4-4.3.4 5.3.4-6.4.4 8.8.4-5.4.4.9.4 2.2.4 3.4.4-3.9.4-4.9.4 7.3.4 0 .4.2.4-1.2.4.8.4-3.5.4 5.2.4-9 .4-1.4.4 8.7.4-.4.4-7.2.4 6.1.4 2.1.4-.5.4.9.4-5.9.4-2.4.4 2.1.4 5.6.4-1.3.4-1.1.4 3.4.4-1.8.4-5.7.4-3.7.4 11.4.4-6 .4 11 .4.2.4-10.6.4 1.2.4.2.4-5.2.4-6.7.4 4.9.4 3.8.4 5.7.4-5.3.4 4.3.4-5.9.4-4.3.4-2.6.4 10.7.4 4.2.4-.9.4-.3.4-.6.4-1.7.4 6.6.4-11.1.4 6.9.4 2.3.4-6.7.4 4.8.4 4.2.4.5.4-2.3.4.3.4-.8.4 5.1.4-12.1.4 6.4.4-1.1.4-.3.4 2.2.4-2.8.4-3 .4-6.6.4 8.1.4-11.3.4 12.4.4.7.4-4.3.4 1.4.4 6.2.4-1.1.4 6.4.4-8.4.4-10.5.4-1.3.4 3.4.4 6.3.4 3.4.4-1.2.4 1.2.4 1 .4-5.9.4-4.7.4-3 .4 6.8.4 3.8.4.9.4-8.1.4 2.3.4 2.3.4 9.1.4-6.9.4-2.2.4-4 .4-1.9.4 2.4.4 6.9.4-16 .4 6.8.4 12.3.4-.5.4-5.1.4-3.5.4 7.6.4-5.5.4 7.9.4-1.4.4 1.2.4-8.3.4 1.9.4-1.3.4-1.5.4-5.3.4 2.8.4.6.4 7.3.4-6 .4-9 .4 11.4.4-1.1.4 4.6.4-.3.4-.5.4-.2.4-.6.4.9.4-.5.4 3.5.4 2.2.4-8.3.4-3 .4 2.9.4 7.4.4-19.4.4 12.1.4.5.4 4.4.4-3.7.4.1.4 5.9.4-4.9.4-.4.4-.3.4 5.9.4.1.4-10.5.4.9.4-2.9.4-1.1.4 8.1.4-5.8.4-1.2.4 13.9.4-12.3.4 1.8.4-5.3.4-.3.4 4.2.4-4.6.4 11 .4-3 .4-.1.4-4.7.4 10.1.4-3.6.4-5.4.4-2.2.4 7.4.4-4.8.4-1.6.4 4.9.4-2.7.4.2.4 2.1.4-.8.4-5.9.4 7.9.4-.1.4-2.8.4 7.6.4-2.5.4 1.3.4-.4.4-12.2.4-2 .4 9.7.4 2.9.4-1.7.4-22.9.4 17.7.4 2.3.4-4.1.4 3.4.4-3.1.4 6 .4.2.4-11.2.4.8.4 12.1.4-6.5.4-1 .4 4.3.4-2.2.4.3.4 5.2.4-8.8.4-7 .4 13.7.4 6.9.4-2.6.4-2.6.4-2.5.4.5.4-2.5.4 2.2.4-.1.4 6 .4-6.4.4-2.2.4-4.2.4 6.8.4-7.2.4 8.5.4 2.3.4-4.1.4-2.6.4-3 .4 2.9.4 5.2.4-4.3.4 6.4.4-3.4.4-5.1.4-5.1.4 14 .4-4.6.4-7.3.4 11.1.4.1.4-2 .4-4.1.4 6.4.4-.7.4-5.4.4.6.4 3 .4-2.2.4 7.3.4-5.6.4 2.9.4 3.8.4-8.7.4.1.4-3.7.4 4.1.4-16.1.4-.8.4 9 .4 6.9.4 1.6.4-2.9.4.6.4-5.6.4 14.8.4-4.6.4-7.8.4-2.4.4 2.8.4 5.9.4-3.8.4-1.7.4 2.6.4-3 .4 6.6.4-3.5.4-4.1.4 5 .4-4 .4 4.4.4-2.7.4 5.7.4-2.4.4-4.6.4 8 .4-12.8.4 5.8.4-5.1.4 5.7.4-14.7.4 14.9.4 5.5.4-9.8.4 3.4.4-2.6.4-7.6.4-1.8.4 9.4.4.8.4 5.4.4-.7.4 2.2.4-.6.4 1 .4.8.4-.2.4-12.7.4 7.7.4 7.7.4 30.2.4-33.4.4 5.7.4-3.7.4-19.6.4 20.7.4-7.7.4 10.8.4 3.7.4-8 .4 7.3.4-7.5.4 8.6.4 13.1.4-23.7.4-2.6.4-5.9.4 2.6.4 10.8.4-4.4.4-5.6.4 6.5.4 15 .4-23.3.4 4.9.4-1.5.4-.6.4-.1.4 11.9.4-10 .4.6.4-1.8.4 4.5.4-3 .4-.6.4-2.9.4 2.7.4 1.2.4-1.1.4 2.8.4 1.6.4-4.9.4 7.1.4 2 .4-1.2.4 7.2.4-17.4.4 7.2.4 5.4.4.2.4 3.5.4-3.8.4-.9.4-2.7.4-2.1.4-1 .4-5.8.4-1.7.4.1.4 8.9.4-6 .4-.4.4-1.4.4 12.9.4-10.7.4-5.3.4 5.6.4-2.7.4 10 .4-.6.4.1.4-7.1.4 4.7.4-5.3.4 8.7.4-5 .4 4.7.4-6.5.4-3.9.4 1.5.4 4.8.4-1.6.4 2.4.4 3.6.4-7.7.4 2.9.4-1.8.4 2.1.4-2.2.4-1.1.4.1.4 2.9.4-5 .4 5 .4 1.4.4 1.8.4-.9.4.3.4-4 .4 1.6.4-.5.4-3.4.4 4.2.4 1.3.4.2.4-.8.4-5.3.4 7.1.4-6.9.4-.4.4 5.7.4 2.1.4-4.2.4-7.8.4.7.4 6.7.4 3.3.4-2.1.4-4.4.4 6.2.4 3.4.4-4.6.4-3.2.4 2.2.4-5.7.4-.2.4 1.6.4.1.4.8.4 4.8.4 3.8.4-4.8.4 7.1.4 1.4.4-6 .4-.8.4-6.3.4 6.9.4 1.3.4 0 .4.2.4-8.6.4 7.9.4-5.7.4-2.7.4 5.3.4 2.9.4 1.7.4-7.1.4-.1.4.7.4-2 .4-7 .4 10 .4 6.1.4.9.4-14.6.4 1.3.4 9.9.4-3.8.4-8.2.4 4.4.4 3.1.4-.2.4 1.6.4-2.3.4.5.4-4.5.4 1.4.4 6.7.4 2.1.4-2.4.4 8.6.4-.1.4-2.6.4-7.4.4 2.9.4-.5.4-7.5.4 0 .4 3.8.4-1.9.4 8.3.4-5 .4-7.9.4.2.4-2.1.4 8.3.4 5.8.4-9 .4-.3.4 2.3.4-1.4.4 3.7.4-1.8.4-.6.4-9.4.4 8.8.4 4.6.4.5.4-7.2.4 2.3.4 4.6.4-2.3.4 1.2.4-.6.4-12.4.4 14 .4-5.9.4-1.1.4-.7.4 3.8.4 6.5.4-3.7.4 3 .4-7.1.4.7.4 2.7.4.6.4-7.6.4 7.9.4 0 .4.7.4-2.7.4-2.1.4 5.8.4-5.1.4-2.3.4 5.9.4-.8.4-7.9.4 3.6.4 3.9.4-1.7.4-2.5.4 5.1.4-4.5.4 2.6.4-7.1.4 1.9.4 6.8.4-2.8.4 1.8.4-4.5.4 3 .4.7.4 1.1.4-4.1.4-1.7.4 3.6.4-20.3.4 14.6.4-1.9.4 5.7.4-6.1.4 10.8.4-8.7.4 2.1.4 2.5.4-1.6.4 7.5.4-8.7.4-4.4.4 6.2.4.5.4-4.6.4 3.9.4-3.7.4-3.1.4-3.5.4 5.6.4-.8.4-2.2.4-10.5.4 7.5.4.2.4.1.4-1.8.4 11.5.4-2.9.4-2.8.4-3 .4 4 .4-4.2.4 9.9.4-.4.4-12 .4 14.9.4-13.8.4 2.1.4 5.4.4 1.6.4 4.1.4-6.4.4-13.5.4 13 .4-3.3.4-5.5.4.4.4 6.6.4-2.4.4-1.3.4 1.9.4 3.5.4-4.1.4 11.9.4-12.2.4 7.4.4-20.4.4 12.5.4 1.4.4.6.4-1.1.4 7.9.4-4.6.4 31.3.4-32.6.4-6.7.4 6.7.4 1.7.4-3.1.4 5.3.4 2.7.4 1.9.4 5.2.4-4 .4-2.5.4 1.7.4 2 .4.9.4 4.5.4-12.6.4 4.1.4 4.8.4-1.9.4.3.4 4.3.4-.8.4 2.9.4-1.8.4-7.1.4 11.3.4-3.3.4.6.4-.1.4-2.5.4 7.3.4-2.2.4 3 .4-4.7.4-9.2.4 14.6.4-4.9.4 2 .4-1.6.4-2.8.4 4.3.4-5.7.4-2.8.4 11.3.4-2.3.4-7.5.4-.2.4 6.5.4.1.4-.5.4 3.1.4-9 .4 2.9.4-1.4.4 4.6.4-1.4.4 9.1.4.9.4-6.7.4-8.6.4 1.8.4.2.4 3.2.4-6.9.4-2.7.4 6.1.4 8.8.4-7.1.4.3.4-5.8.4 1.3.4 5 .4 11.7.4-3.7.4-7.8.4.4.4-1.8.4-2.6.4 3.4.4.8.4 3.6.4-5.1.4 1.6.4-3.3.4 3.3.4.1.4 6.8.4-4.5.4 1.3.4.8.4-4.6.4-3.7.4 3.4.4 4.9.4-3.1.4-5.1.4-9 .4 9.1.4 4.1.4 1.7.4-4.6.4 1.8.4-2.3.4 0 .4.6.4-.5.4 1.7.4 5.7.4-4.3.4-2.5.4 2.3.4-.8.4-5.6.4-7.4.4 12 .4 1.4.4-3.1.4 2 .4-4.7.4-1.8.4-7.9.4 16.8.4 2.2.4-3.2.4-1.8.4 4.7.4-17.2.4 4.4.4 5.7.4-2.7.4 2.5.4-.7.4 6.1.4-6.9.4 5.9.4 3 .4 8.7.4-5.1.4-8.9.4-.8.4-7.4.4 10.3.4 4.8.4-5 .4-4.2.4 2.5.4-2.9.4-4.4.4 7 .4-1.2.4 1.5.4.9.4 4.3.4-3.2.4-3.7.4 1.8.4-3.8.4-4 .4-.7.4 1.3.4 7.7.4-3.6.4-8.8.4-4.5.4 6.6.4 1.6.4 4.3.4.3.4 2.3.4 0 .4-6.6.4 1.1.4-3 .4 4.3.4-7 .4 11 .4-3.5.4-4 .4 1.9.4 2 .4.2.4 6.2.4-3.1.4 4.5.4-10.5.4-5.7.4 9 .4 2.8.4-5 .4 4.9.4-.6.4-6.6.4 3 .4-6.7.4 2 .4-2.2.4 7.3.4-4.4.4 4.7.4 7.9.4-6.4.4 10.3.4-1.8.4-6.6.4.5.4 0 .4 4 .4 8.7.4-12.5.4-1.8.4-2.4.4 1.2.4 9.4.4 2 .4 1.2.4-3.9.4-2.8.4 3.1.4-4.5.4-3.6.4 9.4.4-4 .4-4.8.4 3.6.4 10 .4-6.4.4-3.4.4-1.8.4 2.9.4-10.9.4 5.6.4 1.3.4-.2.4 3.2.4-12.4.4 5.2.4 6.3.4 5.9.4-6.2.4 4.8.4.5.4 2 .4-2.4.4.5.4 9.9.4-13.9.4 1.6.4-10.8.4 5.8.4 11.1.4-6.3.4 2 .4-.7.4-6.3.4 3.1.4.6.4-1.6.4 4.7.4-.3.4-2.8.4 2 .4-2.7.4 6.6.4-1.6.4-.8.4-4.2.4 1.8.4-2.8.4 5.5.4-2 .4-6.1.4 4.8.4 8.3.4-4.7.4-.2.4-4.7.4 2 .4.3.4-3.7.4-1.2.4-.1.4 6 .4-4.6.4-3.2.4 6.7.4-4.9.4 3.9.4.4.4-4.7.4 9.8.4 1.8.4-.2.4.2.4-.8.4-2.2.4-.8.4-1.6.4 1.3.4-1.8.4 1.5.4-.9.4 8.1.4-9.3.4.8.4 3.5.4 6.3.4-3.5.4-5.6.4 2.2.4-3.1.4 6 .4-8.6.4 4.5.4 4.9.4-3 .4 5.3.4-4.5.4-2 .4 1.6.4.3.4 2.7.4-9.2.4 3.4.4-4.4.4 4.6.4 5.9.4-3.3.4 5.4.4-5.7.4-3.1.4-3.4.4 6.5.4.6.4-7.3.4 3.1.4 1.5.4-.3.4-3.3.4-2.8.4.9.4-3.3.4 3.7.4-1.4.4 1.1.4-.5.4 1.9.4-3.1" fill="none" stroke="#1010ff" stroke-width="1.05" stroke-linejoin="round" />
<path d="M669.4 605.5l.4-10.8.4-1.8.4 8 .4-3.6.4-1.3.4 1 .4-1.2.4 6.7.4-3 .4 4 .4-5.8.4 3.7.4-1.8.4 7 .4-.5.4 6.4.4-8.4.4 11.6.4-13.9.4-2 .4-7.9.4 15.7.4-.8.4.1.4 1.8.4-1.6.4-2 .4-8.3.4.9.4 3.8.4-7 .4 1.5.4-.8.4-.5.4 3.3.4 15.6.4-23.2.4 8.6.4 5.2.4-1 .4 3.4.4-1.9.4 4.4.4-7.1.4-1 .4-1 .4-.1.4-2.4.4-2.9.4 8.2.4 4.7.4-4.2.4 2.5.4-.2.4-3.3.4 1.1.4 3.4.4-6.6.4 11.6.4-6.1.4-.4.4.1.4-2.9.4 1 .4-6.1.4-9.2.4 13.6.4 2.6.4 6.3.4-11.8.4 3.5.4-7.6.4 5.3.4 2.4.4-3.9.4 7.1.4-5.1.4 2.3.4-1.1.4.9.4 2.1.4-5.2.4-10.5.4.1.4 11.9.4.1.4 7.8.4 3 .4-9.4.4-.4.4-1.5.4-7.3.4 8.7.4 3.6.4-9.4.4 5.9.4 2.6.4-13.9.4 13.9.4-9.5.4 3.5.4.8.4 4.4.4-5.5.4.7.4-14.1.4 7.4.4 3.1.4 6 .4-3.1.4 10.7.4 5.2.4-14.1.4 3.7.4 2 .4-8.3.4 1.3.4.6.4-2.3.4-5.3.4 3.6.4-1 .4 5.2.4 10.5.4-7.2.4 15.6.4-9.4.4-17.2.4 17.9.4-9.3.4-8 .4-.6.4 6.3.4 0 .4 11.7.4 0 .4 2.5.4-.6.4-4 .4-1.9.4-8.1.4-5.9.4 14.6.4-.3.4-2.3.4-4 .4 5.1.4-4.2.4 1.4.4-4 .4 3.9.4 5.4.4-4.9.4 10.8.4-9 .4-.4.4-8.5.4 1.5.4 6.7.4-4.6.4 1.6.4 4.5.4-7.3.4 9.2.4 4.6.4-1.9.4-2.6.4-2.4.4 3.2.4-.8.4-5.3.4-11.3.4 9.5.4 1 .4-8.3.4 15 .4-4.3.4 5.6.4 4.3.4-23 .4 4.2.4 5.6.4 10 .4.2.4-9.5.4 8.3.4 2.9.4-4.8.4-6.5.4.5.4-3.5.4 2.7.4 10.3.4-9.8.4-.2.4 4.8.4-8.3.4 6.8.4 4.2.4-.5.4-9.3.4 5.8.4 1.5.4 1.1.4-19.1.4 20.6.4 4.2.4-3.2.4-11.6.4 3.9.4-.6.4 12.9.4-8.6.4-3.8.4 10.3.4-3.1.4-5 .4 11.3.4-10.5.4 1.7.4-3 .4-6.8.4.6.4 4 .4 6.4.4-6.5.4-2.6.4 7.6.4 5.1.4-12.3.4 1 .4.3.4-1 .4 1.2.4 7.4.4.5.4-.7.4 7.1.4-16.1.4.5.4 7.4.4-2.8.4-4.5.4 7.3.4.3.4.7.4-25.8.4 24.7.4-9.9.4 9.1.4-6.5.4 2.1.4 6.1.4 15.4.4-11.4.4-13.5.4 4.8.4 7.3.4-5.9.4-.3.4 9 .4-13.2.4 2.3.4-6 .4 10.3.4-1.7.4-3.5.4-3.1.4 5.3.4 7.8.4-5.1.4-.5.4-5.3.4-1.6.4 3 .4-1.5.4 10.4.4-2.8.4 3.4.4 1 .4-13.2.4 1.4.4-6.8.4 1.5.4.3.4 1 .4 6 .4-3 .4 4.7.4-27.4.4 23.9.4 8.9.4-11 .4 4.2.4 9.8.4-7.3.4 14.2.4-22.9.4 1.4.4 6.6.4 3.1.4 3 .4-9.2.4 3.6.4-3.7.4-.2.4 4 .4-9.4.4-5.1.4 7.2.4 16.4.4-1 .4-3.3.4-4.6.4 6.4.4-1.4.4-9.2.4-.8.4 1.8.4 1.3.4-10 .4 6.5.4 10.3.4-4.4.4 2.5.4-6.3.4 7 .4-8.6.4-13.2.4 8.6.4 8.8.4-2 .4.3.4-6.5.4 7.6.4 4.4.4-5.1.4.9.4 2.9.4 6.7.4-5.5.4 5.9.4-11 .4 3.4.4-9.1.4 12.1.4-10.7.4 7 .4-5.8.4 7.6.4-14.5.4 15.5.4-1.5.4-1.6.4-.2.4-5.1.4 11.5.4-13.8.4 4.4.4-11.6.4-12.7.4 7 .4 14.1.4-8.7.4 5.7.4 9.9.4-.1.4 1.2.4-7.2.4 1.4.4 5 .4 5.4.4-3.2.4-6 .4.2.4-2.9.4-6.2.4.5.4 7.1.4 7.6.4 12.5.4-27.3.4 2.8.4.6.4-1.1.4 4.6.4 4.3.4-1.9.4 1.4.4 3.3.4-3.1.4-8.9.4 4.5.4.4.4 1 .4-8.7.4 2 .4 1.5.4 3.2.4-.6.4 10.9.4-4.1.4-4.5.4-6.9.4-6.3.4 4 .4 9.1.4-8.2.4-5.5.4 7.3.4.1.4 11.3.4-22.2.4 9.5.4 5.4.4 2.5.4-10.4.4-5.2.4 21 .4-4.1.4-6.1.4 6.1.4-9.7.4 1.3.4 3.1.4 5.9.4-13.9.4 8.5.4 9.9.4 2 .4-6.6.4-2.9.4.3.4 2.6.4-3.8.4 5.2.4-4 .4-3.7.4-.7.4 6 .4-.5.4-7.8.4 3.6.4-3.6.4 4 .4 3.4.4-4.5.4 4.5.4 4.7.4 3 .4-.8.4-9.3.4 5.2.4 5.9.4 14.3.4-13.4.4-15.3.4-6.3.4 8.6.4-2.8.4 8.5.4 14.3.4-16.7.4-3.1.4 5.3.4 3.1.4-9.2.4 4.4.4 10.7.4-7.4.4 1.3.4-2.7.4-7.3.4 8.4.4-5.1.4 8.4.4-9.7.4-1.7.4 0 .4 6.3.4-.5.4 3.2.4-7.4.4-.8.4 1.6.4-1.4.4-3.7.4 3.4.4 1.9.4 4.6.4-10.2.4 10.4.4-19.4.4 8.8.4 11.4.4-5.8.4 5.8.4-1.8.4 9.4.4-9.2.4-2.2.4 7.8.4-7.3.4 6.4.4-13.2.4 9.1.4-.4.4.3.4 2.8.4-4.3.4.4.4-1 .4 1 .4 7.2.4-2.7.4-4.9.4-3.2.4 12.7.4-3.8.4 6.5.4-5.1.4 3.4.4-10.7.4 4.8.4-11.1.4-1 .4 2.7.4 3.3.4.2.4.5.4-7.9.4 9.5.4.7.4 7.4.4-6.4.4 1.8.4-5.7.4.2.4 1.3.4 9 .4-22.1.4 16.6.4-4.5.4-.2.4 1.6.4-10.5.4 20.8.4.8.4-6.8.4-2 .4 8.2.4-3.9.4.2.4-4.7.4-1.6.4-9.7.4 1.2.4 5.1.4 10.1.4-6.9.4-1.5.4-1.5.4 6.8.4 3.6.4-4.3.4 7.9.4-11.1.4.9.4 3.3.4-5.5.4-2.8.4-4.1.4 5.4.4.4.4.1.4-3.9.4 1.9.4 2.3.4 3 .4-6 .4 8.6.4 1.7.4-12.1.4 4.8.4 2.7.4-4.9.4 1.6.4 3.1.4 5.1.4-3 .4-8.2.4-9.9.4 16.4.4-5.1.4-2.5.4 8.9.4-12.7.4 9 .4-4.5.4 5.1.4-4.2.4 11.3.4.5.4-7.7.4-8 .4 8.3.4-7.8.4 11.4.4-15 .4 15.7.4 13.5.4-14.9.4-14 .4 7.2.4 8 .4-2.1.4-2.8.4-15.3.4 7 .4 9 .4 3.1.4.8.4-13.7.4-.7.4-8.1.4 13.9.4 8 .4 1.4.4-5.6.4-4.8.4-6 .4 6.7.4-1.4.4-2.4.4-1.8.4 6.1.4-5.5.4 1.5.4-5.1.4 7.9.4 4.3.4-.1.4-13.5.4 1.9.4 5.9.4-9.1.4 13.5.4 8.8.4-5.8.4-.5.4-6.6.4 4 .4 5.8.4-6.1.4 6 .4-5.2.4-1.1.4 13.2.4-7.1.4-2.5.4-5.3.4 1.8.4.9.4-.9.4 15.4.4-5.3.4-2 .4-14.1.4 4.8.4 1.4.4.8.4 6.3.4-2.3.4.6.4 1.1.4-1.3.4 6 .4-10.7.4-6.1.4 17.9.4-12.5.4 3.3.4-2.8.4-13.6.4 13.9.4 6.1.4-13.3.4-1.8.4-2.2.4 4.6.4-1.3.4 9.1.4-10 .4.9.4 3.5.4 1.3.4 1.9.4 2.2.4-12.5.4.7.4 11.3.4-3.2.4-1.3.4-1.4.4 2.9.4 7.4.4-10.5.4-8.9.4 15.6.4-12.2.4 10 .4-6.6.4 5.7.4-1.1.4-3.7.4 11 .4-9.3.4 4 .4.2.4 1.1.4 3.3.4-10.6.4 15.1.4-7.5.4 4.2.4-2.7.4.9.4-6.3.4-9.9.4.8.4 6.5.4 2.3.4 1.4.4 3.6.4 7.6.4-7.6.4-1.4.4-1.6.4 2.2.4-8.5.4 8.2.4-5.5.4 7.5.4-1.7.4-12.3.4 2.4.4 8.4.4 1.9.4-3 .4-2.4.4-2 .4 4.1.4-1.8.4-2.5.4-.1.4.8.4-5.2.4-5.4.4 21.2.4-4.6.4-3.6.4-4 .4 2.1.4-9.1.4 7.1.4 3.1.4 6.2.4-.8.4.3.4 4.3.4-6.2.4-8.1.4-7.1.4 20.9.4-3.9.4-23.1.4 13.5.4 35.2.4-28.5.4-12.8.4 11.7.4-2.8.4-32.6.4 36.7.4-13.6.4 13.3.4-6.7.4-4.8.4 7.5.4.9.4-5.6.4 19.9.4-4.2.4 2.1.4-13.4.4 11.5.4-1.2.4.9.4-5.1.4 4.2.4-12.7.4 13.1.4-16.3.4 10 .4 4.6.4-10.1.4 3.8.4 2.3.4-6 .4 4.5.4-2.1.4 1.1.4 8.5.4-14 .4 7.3.4-7.3.4-.2.4 3 .4 2.4.4-3.9.4-.6.4-2.4.4 5.5.4-2.1.4-1.8.4 1.8.4 2.6.4-8 .4-1 .4 4.6.4-1.2.4.9.4.3.4-4.6.4 9.7.4.7.4 4.3.4-2 .4-8.4.4 4.3.4-.1.4-7 .4 9.8.4 6 .4-10.7.4-9.5.4 3.6.4.3.4-.7.4 6.1.4 2.7.4-9.9.4 20.7.4-3.8.4-13.4.4-.7.4-6.6.4-8.5.4 19 .4 3.5.4-4 .4 8.3.4-2.4.4-8.6.4-1.1.4 5.6.4-4.6.4 6.3.4-6.2.4 7.8.4-10.4.4 4 .4-1.8.4 4.3.4 1.5.4 1.7.4-6.4.4 1.7.4.2.4 0 .4-2.8.4-8.6.4 1.5.4 3.8.4 2.2.4 1.8.4-3.2.4 10.7.4-5.4.4-6.7.4 7.1.4 3.6.4-4 .4 2 .4 5.2.4 1.7.4-4 .4-.5.4-.6.4-8.7.4 6 .4 6.6.4-4.2.4.5.4-3.1.4-7.1.4-2.3.4 2 .4-4.1.4 6.2.4 2.9.4-11.4.4 11.4.4 5 .4 4.7.4 2.3.4-20.3.4 8.9.4-3.9.4 3.7.4.5.4 4 .4-2.7.4 1.7.4 1.9.4-13.1.4 7.7.4-.1.4-2.5.4 9.7.4-3.5.4-2.6.4 1.5.4-4.3.4-6.1.4 11.8.4 6.4.4-4.7.4-.4.4-6.8.4 7.4.4-3.3.4-6.6.4 4.4.4.2.4 2 .4-1.9.4-11 .4 7.3.4 7 .4-7.2.4 5.1.4-2.1.4 2.3.4-.8.4 1 .4 3 .4-9.1.4 13.8.4-17.5.4 9.1.4-12.1.4 1.6.4.8.4-3 .4 5.9.4 11 .4-4 .4 0 .4-2.8.4-17.7.4 17.3.4 1.4.4-3.9.4-2.2.4 6.2.4-9.2.4 5.4.4 3.9.4-6.7.4 2.8.4 3.1.4-2.6.4 10.9.4 2.6.4 7.8.4-.1.4-11.2.4-5.1.4-7 .4 7.8.4 2.3.4.7.4-11.2.4 12.7.4 1.3.4-11.7.4-2 .4 17.3.4-10.7.4-.9.4-2.9.4-1.8.4-2 .4 12.6.4.8.4-6.3.4-1.1.4 5.1.4-5.1.4 4.8.4-12.5.4-.6.4 6.1.4 5.7.4-5.9.4 2.5.4-6.7.4 8 .4 4 .4-4.7.4-22.2.4 3.9.4 11.2.4 9.5.4 3.8.4-7.1.4 6.6.4-7.6.4-4 .4.3.4 8.5.4-.7.4-9.9.4 1.5.4-3.4.4 7.9.4 1.3.4 12.8.4-1.8.4-1.4.4-5.7.4 2.7.4 2.8.4-2.3.4 11.5.4 2.1.4-8.8.4-7.2.4-1.5.4 4.2.4 4.1.4-6.6.4 5.1.4-10.1.4 2.9.4 8.1.4-4.8.4-.7.4-2 .4-.1.4 9.4.4-1.8.4-5.4.4-1.6.4-.3.4 5.1.4-4.4.4 6.2.4 5.8.4-8.7.4-1.7.4-2.5.4 4.2.4-4.2.4-3.1.4 3.3.4 4.8.4 1.6.4 1.2.4.1.4-5.2.4-6.2.4 6.6.4 1.7.4.7.4-4 .4 5.7.4 1.7.4-1.5.4 1.7.4-1.6.4-.6.4 1.8.4-4.7.4 4.7.4.1.4 3.3.4-6.2.4-1.2.4 4.7.4-1.5.4-.4.4-4.9.4.5.4-3.9.4 5.8.4-3.8.4 5.3.4-3.8.4-5.1.4 4.8.4-5.6.4 6.4.4 7.7.4-5.6.4-7.7.4.8.4 2.3.4-5.1.4 4.8.4 2.2.4 6.9.4-6.9.4 1.9.4.2.4 3.1.4-6.7.4-4 .4 2.6.4 2.5" fill="none" stroke="#10ee10" stroke-width="1.05" stroke-linejoin="round" />
<path d="M669.4 598l.4-.3.4-8 .4 2.7.4-5.3.4.1.4 6.8.4 1.3.4-2 .4-3.7.4-.8.4 3.6.4 7.9.4-6.3.4-7.4.4 6.1.4 1.6.4-6.2.4 5.9.4-4.9.4.3.4 2.7.4 4.4.4 2.9.4.3.4-.3.4-7.9.4-5.2.4 4.5.4 7.1.4-7.6.4 3.7.4.5.4-3.2.4 1.6.4 1.8.4 2.7.4-1 .4 10.7.4-12.3.4 6.6.4-10.6.4-7.6.4 8.9.4 4 .4-3.6.4 4.5.4 2.1.4-6.8.4-5.3.4 5.3.4 6.7.4-5.7.4-2.6.4 1.5.4-1.4.4 10.7.4-11.3.4-3.2.4 2.8.4 1.7.4-5.1.4.1.4.7.4 4.2.4 2 .4-.5.4-3.3.4.8.4 7.6.4-3.1.4 11.5.4-7.5.4 5.7.4-13 .4 6.8.4-13.4.4 8.1.4 3.8.4.5.4-3.1.4.6.4 1 .4-4.1.4 5.4.4-1.6.4-3.4.4 2.1.4-.4.4-4.3.4 4.9.4 5.7.4-7.3.4 1.8.4 6.2.4-.4.4-2.3.4 1.3.4-7.5.4 7.2.4 4.2.4-11.7.4 6.1.4-1.9.4-1.8.4 2.4.4 5.7.4-2 .4-4.4.4 4.2.4-2.4.4-.8.4-5.8.4-1.2.4 4.7.4 4.3.4 2.8.4 5.2.4-12.8.4.9.4 2.3.4-3.9.4 4.6.4-.5.4-3.7.4 10.6.4-6.3.4 2.6.4-5.5.4 4.5.4-3.4.4-9.2.4 7.5.4 4.3.4-3.5.4.2.4-3.9.4 7.2.4-2.4.4-6.6.4 7.1.4-.9.4-2.1.4.7.4 2.4.4 4.1.4-6.6.4 2 .4 2.3.4-.4.4-.2.4-5.6.4 4.8.4 8.6.4-11.7.4 6.3.4-2.9.4 1.1.4 2.1.4 2.3.4-.4.4 3.9.4-5.7.4 0 .4-7.5.4-3.9.4 4.3.4 2.9.4 2.4.4 8.3.4-8.1.4 2.8.4 1.2.4 1.3.4-11 .4 11.9.4-10.2.4 5.1.4-3.8.4 4.5.4-4 .4 4.1.4-4.2.4 7 .4.6.4-12.1.4 4.9.4 7.4.4 3.7.4-3.1.4-1.5.4-1.7.4-2.9.4-1.8.4.6.4-.1.4 2.2.4-4.9.4.2.4-4.8.4 5.4.4-2.4.4.6.4 2.9.4.7.4-2.7.4-4.1.4 6.2.4-3.4.4 1.4.4-4.4.4 6.4.4 2.8.4 2.3.4.4.4-.9.4-7.1.4-4.4.4 7.4.4.1.4-7.6.4-1.3.4 2.5.4 2.9.4 0 .4-3.4.4 2 .4 8.8.4-.6.4-12.3.4 4.1.4 5.9.4-5.3.4-7.8.4 2.1.4 1.3.4 2 .4 3.8.4-3.4.4 7.7.4-5.2.4-9.5.4 6.8.4-.2.4 12.6.4-7.8.4-5.2.4-1.2.4 7.9.4-5.1.4-1 .4-7.8.4 3.4.4 6.4.4-.1.4-8 .4 7.1.4 10.3.4-9.9.4 4.9.4-1 .4-3.8.4-1.5.4-3.5.4-3.7.4 6 .4-7.6.4 3.1.4 6.5.4 4.9.4 1.4.4-9.6.4 5.7.4-2 .4-1.7.4-6 .4-5.8.4.7.4 6 .4 1.6.4 7.4.4-10.4.4.6.4 7.9.4-7.5.4 2.7.4-4.1.4 5.1.4-3.5.4-4 .4 10 .4-8.9.4.4.4 4.7.4-1.3.4 3.7.4 3.7.4-10.5.4.2.4 1.1.4 3.8.4 1.1.4 2.8.4-3.7.4.4.4-6.4.4.8.4 4.1.4 11.3.4-5.5.4-5.1.4.4.4-2 .4-1.5.4 2.5.4 3.4.4 2.9.4 2.9.4-6.1.4 5.5.4-8 .4-.6.4.6.4 2.7.4 3.6.4-3.4.4-9.7.4 4.8.4-2.1.4 4.7.4 2.5.4-7.4.4 6.3.4-1 .4-.3.4-4.9.4 5.6.4-4.1.4-3.1.4 7.1.4.6.4-5.8.4 3.3.4 4 .4.4.4-5.5.4.6.4.4.4 4.3.4-.8.4-1.4.4 1.8.4-.8.4 4 .4-3.8.4 6.8.4-1.3.4-1.8.4 1.2.4-1.7.4 1.8.4-.8.4-3.2.4 8.6.4-3.1.4 2.6.4-8.4.4 10.2.4-3.9.4-3.9.4.3.4 4.9.4 2.5.4-14.4.4 11.7.4-2.9.4-8.5.4 9.2.4-.4.4.1.4 5 .4-9.5.4-.7.4 4 .4-4.3.4-4.5.4 7.2.4-.7.4 4.5.4-2.7.4 1.9.4-4 .4 2.1.4 2.5.4-.8.4 2.4.4 3.2.4-11.7.4 2.7.4 1.2.4 3 .4-1.8.4 1.1.4-10.8.4 2 .4 1.4.4 8.4.4.9.4-1.8.4-6.5.4 3.4.4 3.3.4 7.2.4-.6.4 4 .4-7 .4 3.8.4.2.4-1.2.4-3.4.4 1.3.4-.8.4 0 .4-6.8.4 5.3.4-6.6.4-3.6.4 4.9.4 10.2.4.5.4-6.1.4 1.4.4-5.9.4 7.7.4-2.9.4 7.1.4-3.8.4 2.1.4-1.7.4-.7.4.9.4-3.4.4-9.5.4 13.8.4 4.3.4-6.5.4 1.8.4-6.6.4-6.2.4.1.4 9.7.4-3.6.4 3.7.4-.3.4-4.7.4-1.3.4 12.3.4-10.9.4 1.1.4-3.7.4 1 .4 8.1.4-2.5.4.6.4-4.7.4-4.5.4 1 .4-5.7.4 3.6.4 8.6.4 1.3.4 3.3.4-4.2.4-6.2.4 3 .4 4.9.4 6.4.4-9.2.4-3.3.4 4 .4 2.1.4.8.4-6.1.4-3.7.4 2.1.4 6.7.4-2.9.4-7.8.4 6.5.4-3.6.4 8.5.4-4.5.4 4 .4 2 .4 1.7.4 1.8.4-5.2.4-4.6.4-1 .4 3.6.4-3 .4 10.3.4-5 .4-2.8.4-1.5.4 5.5.4-4.9.4-2 .4-6.4.4 6.7.4 2.4.4 6.4.4-10 .4 1 .4 5.2.4-10.6.4-2.7.4 7.5.4 7.9.4-9.4.4-.4.4 1.6.4 4.7.4.8.4.8.4 3 .4-.1.4-8.1.4 1.2.4-.6.4.2.4 2.3.4-3.5.4-3.2.4-2.6.4 9.7.4-2.1.4-3.7.4-7.7.4 7.6.4-1.2.4 4.3.4-2.8.4 3.4.4-5.3.4-4.6.4 7 .4-.5.4 2.2.4 2.4.4 1.4.4-3.4.4-2.6.4-3.7.4 2.7.4-.2.4.9.4-.6.4 2.5.4-2.1.4.6.4 1.6.4-1.5.4-3.4.4 7.2.4-9.3.4 3.9.4 3.3.4-2.3.4 8.8.4.7.4-5.8.4 7.1.4-3.6.4-9.8.4 5.3.4-1.1.4-11 .4 4.8.4 5.3.4-5.1.4 4.4.4-.9.4 2.9.4.4.4-.9.4-1.7.4-2.4.4 3.9.4 1.5.4.9.4-8.7.4.4.4 4.5.4-2 .4-6.8.4 7.6.4 1.5.4-5.8.4 5.1.4.1.4-6 .4 3.9.4-1.2.4.6.4-1 .4 2.6.4 3 .4-.1.4-4.7.4 2.5.4 3.6.4 1.2.4 8.3.4-10 .4-.1.4-5 .4-5.7.4 5.7.4.1.4-4.5.4 8.6.4-9.6.4 7.5.4 3.1.4-.6.4-3.9.4-2.4.4 3.1.4 5.3.4-5.9.4-3.7.4 6.3.4-4.7.4.8.4 8.8.4-11.5.4 3.1.4 2.9.4 3.6.4 4.3.4-4.6.4-6.9.4 5.4.4-.5.4 3.3.4-6.2.4 2.7.4 4.6.4-8.2.4-1.5.4-.3.4-4.4.4 5.8.4.7.4 7.9.4-.9.4 1.9.4-4 .4-6.4.4 2.4.4.5.4 6.6.4 3.5.4-4.3.4.9.4 1 .4 2.3.4-8.7.4 3.2.4-2.6.4 0 .4-.1.4-3.5.4.6.4 3.5.4 2.9.4-3.2.4 5.2.4-2.9.4.1.4.6.4-.7.4 9.5.4 3 .4-5 .4-6.6.4 1.1.4.6.4-4.8.4.9.4 4.1.4-.7.4-3.6.4 9.5.4 3.4.4-9.3.4-9.8.4 9.9.4-4.3.4 3.1.4 1.6.4 3.2.4 5.6.4-4 .4-3.3.4-3.5.4-4.6.4 5.4.4-3.4.4 2.6.4.6.4.5.4 1.3.4 5.4.4-2.5.4-4.8.4-2.5.4 10.9.4-6.9.4-6.4.4 2.8.4-.6.4 2 .4-2.4.4-4.4.4 7.9.4 5.1.4 3.8.4-5.5.4 1.8.4 3.7.4-4.7.4-2 .4-4.1.4-1.6.4 8 .4-4.4.4 1 .4 2.4.4-9 .4 4 .4.7.4 4.4.4-7 .4 3.6.4 5.7.4-5.2.4 6.7.4 1.4.4-10.4.4 4.3.4 5.8.4-8.3.4-11.3.4 11.1.4-.2.4 7 .4-1.2.4-8.4.4 1.6.4 2.9.4-2.8.4 9.5.4-5.4.4-5.3.4 3.5.4-3.9.4 5 .4-4 .4 5.8.4-2.9.4-4.6.4 0 .4 6.4.4-5.6.4 9.2.4-7.8.4 7.5.4-5.6.4-4.3.4 1.1.4-7.5.4 2.4.4 9.6.4-2.4.4.6.4-7.4.4-1.6.4 2.9.4-.2.4 2.7.4 4.4.4-.2.4 5.5.4-3.8.4-6.1.4-3 .4 4.4.4 2.6.4 4.5.4-5.5.4-5.9.4 4.1.4 5.2.4.1.4-2.1.4-7 .4 13 .4-3.3.4-.4.4-2.9.4-5.7.4-.4.4 2.1.4-.8.4.1.4-.7.4 7.7.4-1 .4-6.9.4-.8.4 4.4.4-3.4.4 5.2.4-5.4.4 1.6.4 6.4.4-1.1.4 3.8.4-4.8.4-1.1.4-.6.4-5.5.4 7 .4.4.4-9.1.4 5.3.4-1.6.4 2 .4-3.3.4-3.6.4 18.2.4-10.2.4 4.2.4-1.4.4-.5.4-2.8.4.4.4 1.3.4.8.4 4.2.4-3 .4 2.8.4-6.2.4-2.7.4-5.2.4 5.1.4-6.9.4 10.8.4 1.7.4 1.7.4-4.3.4-3.3.4 2.2.4-11.5.4 7.9.4-.4.4 1.3.4-.4.4 7.5.4-12 .4 8.5.4-4.6.4 7.5.4.8.4-6.2.4.5.4-4.4.4 2.5.4-4.1.4 3.7.4-4.1.4 1.4.4-1 .4 4.2.4-3.2.4 7.8.4-4.9.4-3 .4-2.4.4 3.5.4 3.8.4 2.9.4-2.4.4-5.5.4 5.6.4-.9.4.5.4-9.5.4-.5.4 8.4.4-5.3.4 5.5.4 2.8.4 1.3.4 4.6.4-4.9.4-4.2.4 5.4.4-3.6.4 14.3.4-14.7.4 3.7.4 7.9.4-4.3.4 7.3.4-6.1.4-11.2.4.4.4 3.8.4 1.7.4-5 .4-2.5.4 4.9.4-2.5.4 1.5.4-2.5.4 5 .4-.8.4-3.7.4 6.6.4-3 .4-.8.4-1.8.4 4.7.4-2.3.4-2.3.4 10.8.4-1.9.4-10.4.4 5.5.4-6.6.4 7.3.4-2.4.4 3 .4 2.2.4-7.2.4.3.4 8.6.4 2.1.4-6.4.4-1.3.4-3.9.4 4.5.4 7.7.4 5.8.4-11.5.4-2.5.4-.6.4 3.4.4 7.2.4-10 .4-3.4.4 4 .4 1.4.4 3.2.4-3.8.4.1.4-4.2.4 4.1.4-4.5.4 2.3.4 3.5.4 3.4.4.2.4-2.3.4 4.1.4-4.2.4-.5.4 5.2.4-1.9.4-3.9.4 6.7.4-9.7.4 3.8.4 6.2.4-4.4.4 4.1.4-.1.4-7.6.4 1.4.4-4.7.4 6.1.4 1 .4-8.3.4 8.1.4 2.4.4-5.4.4 1.2.4-2.2.4.2.4.1.4-.9.4 2.4.4 12.6.4-17.8.4.1.4.4.4 9.9.4-1.4.4-2 .4 6.4.4-3.4.4-6.7.4 1.4.4 3.5.4 5.4.4-8.6.4.4.4-1.3.4 8.2.4-3.8.4-.6.4 2.6.4 1.3.4-2.5.4-3.5.4 2.8.4-2.1.4 7.8.4-9.5.4 11.9.4-12.6.4 2.2.4 8.9.4-7 .4-3.9.4 1.7.4 1.4.4 0 .4-3.7.4 3.6.4 6.9.4-3.1.4 1.5.4-7 .4 4.3.4 4.6.4-6.8.4-1.2.4 1.8.4.1.4-.6.4 6 .4-2.7.4-6.5.4-1.5.4 5 .4-2.5.4-2.3.4 8.3.4-2.5.4-2.9.4 6.3.4-1.7.4-1.3.4.9.4-5.8.4-3.5.4-3.9.4 5.9.4-3.1.4 5.5.4 1.3.4-4.2.4 1.2.4-1.6.4 3.9.4-1.1.4-3.4.4-1.5.4 1.2.4-.9.4 1.4.4-.9.4 3.6.4-6.1.4 4.6.4-5 .4.4.4-4.1.4 3.3.4 2.1.4 3.9.4-8.7.4 4.9.4-7.6.4 4 .4-.8.4 9.3.4-3.9.4-3 .4 3.9.4-.6.4.3.4 1.1.4-.1.4-.9.4-3.7.4 1.8.4 6.3.4-4.1.4-3.8.4-1.8.4 3.3.4-1.2.4.9.4-.4.4-2.5.4 5.1.4-1.7.4-.5.4 3.1.4-5.3.4 5.5.4 1 .4-4.1.4.8.4 0 .4-2.3.4-2.5" fill="none" stroke="#ff1010" stroke-width="1.1" stroke-linejoin="round" />
<line x1="668.8" y1="595.4" x2="1122.5" y2="595.4" stroke="#111" stroke-width="0.9" stroke-dasharray="4.2 5" />
<line x1="701.1" y1="564.3" x2="701.1" y2="632.6" stroke="#ff4848" stroke-width="1.5" stroke-dasharray="10 3.5" />
<line x1="856.8" y1="560.8" x2="856.8" y2="632.6" stroke="#ff00ff" stroke-width="1.45" stroke-dasharray="1.5 4.3" />
<line x1="904.4" y1="564.3" x2="904.4" y2="632.6" stroke="#ff1010" stroke-width="1.0" stroke-dasharray="10 4" />
<line x1="974.5" y1="562.3" x2="974.5" y2="632.6" stroke="#0000ff" stroke-width="1.15" stroke-dasharray="1.2 3.1" />
<line x1="1005.9" y1="564.3" x2="1005.9" y2="632.6" stroke="#30b830" stroke-width="1.4" stroke-dasharray="9.5 4" />
</g>
<line x1="674.2" y1="562.9" x2="692.1" y2="562.9" stroke="#ff00ff" stroke-width="1.3" stroke-dasharray="1.2 1.1" />
<text x="693.3" y="565.9" font-size="8.2" fill="#ff00ff" stroke="#ff00ff" stroke-width="0.15" >t&#160;&#160;&#160;maxJ</text>
<line x1="674.2" y1="570.3" x2="692.1" y2="570.3" stroke="#3030ff" stroke-width="0.9" />
<text x="693.3" y="573.3" font-size="8.2" fill="#3030ff" stroke="#3030ff" stroke-width="0.15" >J<tspan font-size="4.5" dy="1.2" stroke-width="0.12">L</tspan></text>
<line x1="674.2" y1="577.6" x2="692.1" y2="577.6" stroke="#22ee22" stroke-width="0.9" />
<text x="693.3" y="580.6" font-size="8.2" fill="#22ee22" stroke="#22ee22" stroke-width="0.15" >J<tspan font-size="4.5" dy="1.2" stroke-width="0.12">M</tspan></text>
<line x1="674.2" y1="584.7" x2="692.1" y2="584.7" stroke="#ff7070" stroke-width="1.8" />
<text x="693.3" y="587.7" font-size="8.2" fill="#ff2020" stroke="#ff2020" stroke-width="0.15" >J<tspan font-size="4.5" dy="1.2" stroke-width="0.12">N</tspan></text>
<path d="M758.7 558.8v10.5M758.7 632.6v-10.5M872.7 558.8v10.5M872.7 632.6v-10.5M986.6 558.8v10.5M986.6 632.6v-10.5M1100.6 558.8v10.5M1100.6 632.6v-10.5M673.2 558.8v4M673.2 632.6v-4M701.7 558.8v4M701.7 632.6v-4M730.2 558.8v4M730.2 632.6v-4M787.2 558.8v4M787.2 632.6v-4M815.7 558.8v4M815.7 632.6v-4M844.2 558.8v4M844.2 632.6v-4M901.1 558.8v4M901.1 632.6v-4M929.6 558.8v4M929.6 632.6v-4M958.1 558.8v4M958.1 632.6v-4M1015.1 558.8v4M1015.1 632.6v-4M1043.6 558.8v4M1043.6 632.6v-4M1072.1 558.8v4M1072.1 632.6v-4" stroke="#000" stroke-width="0.9" fill="none"/>
<path d="M668.8 560.3h2.6M1122.5 560.3h-2.6M668.8 563.5h2.6M1122.5 563.5h-2.6M668.8 566.7h2.6M1122.5 566.7h-2.6M668.8 569.9h5.5M1122.5 569.9h-5.5M668.8 573.1h2.6M1122.5 573.1h-2.6M668.8 576.3h2.6M1122.5 576.3h-2.6M668.8 579.5h2.6M1122.5 579.5h-2.6M668.8 582.7h5.5M1122.5 582.7h-5.5M668.8 585.9h2.6M1122.5 585.9h-2.6M668.8 589.1h2.6M1122.5 589.1h-2.6M668.8 592.3h2.6M1122.5 592.3h-2.6M668.8 595.5h5.5M1122.5 595.5h-5.5M668.8 598.7h2.6M1122.5 598.7h-2.6M668.8 601.9h2.6M1122.5 601.9h-2.6M668.8 605.1h2.6M1122.5 605.1h-2.6M668.8 608.3h5.5M1122.5 608.3h-5.5M668.8 611.5h2.6M1122.5 611.5h-2.6M668.8 614.7h2.6M1122.5 614.7h-2.6M668.8 617.9h2.6M1122.5 617.9h-2.6M668.8 621.1h5.5M1122.5 621.1h-5.5M668.8 624.3h2.6M1122.5 624.3h-2.6M668.8 627.5h2.6M1122.5 627.5h-2.6M668.8 630.7h2.6M1122.5 630.7h-2.6" stroke="#000" stroke-width="0.9" fill="none"/>
<rect x="668.8" y="558.8" width="453.7" height="73.8" fill="none" stroke="#000" stroke-width="1.1"/>
<text x="1124.6" y="574.1" font-size="11" stroke="#000" >0.4</text>
<text x="1124.6" y="587" font-size="11" stroke="#000" >0.2</text>
<text x="1124.6" y="599.4" font-size="11" stroke="#000" >0.0</text>
<text x="1124.6" y="612.5" font-size="11" stroke="#000" >-0.2</text>
<text x="1124.6" y="625.2" font-size="11" stroke="#000" >-0.4</text>
<text x="1158.8" y="594.5" font-size="11" text-anchor="middle" transform="rotate(-90 1158.8 594.5)" stroke="#000" >J [&#181;A m<tspan font-size="8.4" dy="-4.2">-2</tspan><tspan dy="4.2">]</tspan></text>
<g clip-path="url(#c16)">
<line x1="668.8" y1="683.1" x2="1122.5" y2="683.1" stroke="#777" stroke-width="0.6" stroke-dasharray="1 1.5" />
<path d="M669.6 676.3l.3 1.3.3 2.3.2-2.8.3 6.3.3 4.7.3-4.8.3 3.5.2-2.5.3-6.2.3 8.6.3 7.2.3-12 .2-3 .3 4.7.3-5.1.3 2.7.3-11.1.2 6.8.3 5.2.3-2.3.3-1.3.3 1.5.2-.8.3 6.1.3-5.4.3.7.3-7.1.2 8.6.3.2.3-.3.3 2.3.3-.4.2-7.6.3 0 .3 2.1.3-.1.3.8.2.3.3 2.6.3 2.3.3-5.2.3 8.8.2-4.3.3-.7.3-1.7.3-1.9.3-4.4.2 9.5.3-5.2.3-2.4.3 3 .3-3.2.2 10.7.3-9.6.3-6.8.3 1.8.3 7.4.2-12.6.3 9.6.3 1.3.3 1 .3-1.1.2 1.7.3 1.8.3-6.4.3 1.9.3.3.2 2.2.3 4.5.3 2.6.3-9.2.3 2.4.2-2 .3 1.8.3 3.6.3-1.5.3-3.5.2-1.6.3 1.4.3 1 .3-1.3.3 1.2.2 7.9.3-5 .3-5.2.3-1.4.3 4.7.2-.4.3 1 .3 9.8.3-10.2.3-.5.2-.6.3 1.2.3 1 .3-5.5.3-2.2.2 3.2.3 4.1.3-6.8.3 9.9.3 2.1.2-7.1.3 6.3.3-1.4.3-13.3.3 2.8.2 8.6.3-3.9.3-12 .3 15.7.3 3.9.2-3.7.3-15.8.3 16.3.3-.1.3-2.5.2-6.8.3 7.5.3-13.6.3 15.4.3 8.4.2 2.2.3-10.7.3-5.3.3 2.6.3 1.6.2-1.1.3 4.8.3-2.6.3-1.4.3 4.7.2-6.8.3 2.6.3-1.1.3 2.6.3-4.8.2.5.3-1.9.3 2.8.3 7.7.3-6.6.2 5.8.3-4.1.3-.4.3-.5.3 9.6.2-8.5.3.6.3-.7.3-10.8.3 18.4.2-8.3.3 1.3.3-9.2.3 9.3.3-1.4.2-1.6.3-.5.3 6.3.3-11.8.3 11 .2-3.8.3-4 .3 10.7.3-2.4.3-2 .2 2.2.3-2.1.3 1.7.3 3 .3-12.8.2 4.6.3 2.2.3 4.8.3 13 .3-18.5.2 21.6.3-23 .3 5.5.3 1.6.3-5.4.2 1.5.3 2.4.3-1 .3-.4.3-10.9.2 8.4.3-.2.3-1 .3 14.8.3-14.2.2-2.2.3 3.1.3-2.4.3.1.3 1.2.2-8.4.3 10.4.3-3.1.3-11.1.3 1.7.2-4.6.3 13.2.3-1.5.3 1.4.3 3.7.2-12.5.3 11.7.3-6.4.3-4.4.3 15.3.2-1.9.3.5.3-14.4.3 14.9.3-22.8.2 27.3.3-10.2.3 10 .3-1.5.3-3.6.2-3.1.3 2.9.3 2.1.3.5.3-8.2.2 2.3.3 13.5.3-9.1.3-2.7.3.2.2 6 .3-4.7.3-1.6.3 4.4.3-2.1.2-2.1.3 6.6.3-.5.3-7.3.3 7.9.2-6.9.3 7 .3-13.2.3 8.2.3 7 .2-.8.3 1.3.3 6.7.3-13.9.3 15.6.2-9.7.3 8 .3-7 .3 2 .3-6.9.2 5.4.3.2.3-10.3.3 14.9.3-7 .2-2.6.3 11.3.3 1.3.3-6.7.3-4.5.2-5.9.3 2.1.3-3 .3 4 .3 2.3.2 1.3.3-1.9.3-1.2.3-.9.3 5.7.2-4.8.3-4.8.3 1.2.3-21.1.3 19.7.2 3.8.3-3.4.3.6.3 6.6.3-5.7.2.3.3 1.2.3-14.6.3 4.8.3 5.1.2 2 .3-.7.3 3 .3-3.6.3 5.1.2-4.3.3-16.3.3 13.9.3 5.7.3-9.4.2 7.1.3-6.8.3 2.3.3 7.8.3-9.7.2 1.1.3 7 .3 1.9.3-6.7.3 2.1.2.2.3-3.8.3 10.9.3-9.4.3-.5.2 1.6.3-.9.3-2.7.3.6.3 4.5.2-6.5.3-.8.3 4.2.3 7.5.3-8.5.2-.3.3-2.4.3 7.7.3-6.2.3-6.3.2-7 .3 19.7.3-2.6.3-4.8.3 3.1.2-3.9.3-4.8.3 8.7.3 6.8.3-3.9.2-3.1.3 8.4.3-7.8.3 5.1.3 4.1.2-5.5.3 9.2.3-13.7.3 4.6.3-3.6.2.3.3-1.7.3 3 .3-1.2.3-5.5.2-7.7.3 10.7.3 4.4.3-5.5.3-.8.2 4.4.3 4.1.3 1.7.3-11.8.3 2.7.2 6.3.3.6.3-5.1.3 9.8.3-6.6.2 1.5.3-3.8.3 2.3.3 8.7.3-5.4.2-5.4.3 1.3.3-.3.3-2.7.3 4 .2-15.3.3 8.7.3 6.9.3 1.1.3 2 .2-9.5.3 5 .3-8.5.3 20.6.3-9.2.2-3.7.3-5 .3 9.7.3-2.8.3 2.4.2-3 .3 4.7.3-.9.3-1.9.3 4.2.2-9.6.3 10.7.3-.7.3 17.3.3-13.4.2-4.1.3 5.4.3-1.9.3 4.7.3-12.8.2-20 .3 32.4.3-2.7.3 1.7.3-2.2.2-3.7.3.1.3 12.7.3-23.1.3 11.9.2-2.6.3 2.3.3 2.1.3-5.2.3 4 .2 2.7.3-10.4.3 6.6.3.9.3-7.2.2-1.9.3 10 .3-9.7.3 2.5.3-2 .2-.6.3.9.3-6.6.3-5.8.3 11 .2-3.9.3 4.8.3-4.2.3 3.3.3-.2.2 2.9.3-4.3.3 5 .3-4.9.3-10.9.2 12.7.3-8.9.3 7.5.3-2.6.3 1.6.2-1.6.3 7.8.3-7.5.3 2.7.3.2.2-3.7.3 7.1.3 13.4.3-18.4.3 4.7.2-9.1.3 3.9.3 6.4.3-4.8.3-.3.2-.4.3-2.8.3 4 .3-4 .3 7.9.2-5.9.3 2.6.3 1.6.3-4.2.3-6.2.2 11.4.3-5.6.3-5.6.3 7.9.3-1.3.2 23.3.3-25.8.3 3.3.3-.2.3-6.8.2 9.7.3 9.9.3-10.6.3.4.3 19.5.2-19.2.3-30.5.3 27.3.3.9.3.6.2 6.6.3-9.8.3 8.3.3-16.6.3 14 .2-.1.3-19.8.3 7.5.3 15.1.3-3.1.2-6.2.3 12.4.3-3.1.3-.6.3 5.7.2-5.2.3-1.2.3 2.2.3-3.4.3 1.8.2 3.1.3-8.9.3.1.3 3.4.3-.2.2 1.1.3-3.1.3 2.4.3 4.5.3 5.9.2-9.1.3-.6.3-3.7.3 3.6.3 2.8.2-3.4.3 0 .3 6.1.3-2.7.3.7.2-7.5.3 5.2.3 5.5.3-4.1.3-.3.2-1.7.3-3.7.3 3.6.3-3.5.3 23.4.2-19.1.3-3 .3 2.7.3-.1.3.7.2-.2.3-.6.3 2.7.3-2.2.3.7.2-4.6.3 2.3.3 1.4.3-9.2.3 5.4.2-13.8.3 14.1.3-3.9.3 2.2.3-2.2.2 3.4.3-2.5.3 2.3.3-1.7.3.4.2-1.1.3-9.2.3 1.5.3 11.8.3-4 .2-7.8.3 7 .3 6.5.3-5.3.3 2.5.2-1.6.3.4.3-3.8.3 10.7.3-8.9.2 2.5.3-1.1.3-1.2.3-11.4.3 10.6.2-8.1.3 11.2.3 2.1.3-5.8.3 3.2.2 1.5.3-3.1.3 1.9.3.7.3-3.8.2 1.2.3-4.1.3 4 .3-4.1.3 1.4.2 3.7.3-2.9.3-5.9.3 8.4.3-5.2.2-3.6.3 6.7.3-13.5.3 13.4.3-1.1.2 13.6.3-20 .3 3.7.3 13.6.3-8.8.2-1.8.3-1.1.3.8.3-5.6.3 7.9.2-4 .3 1 .3-12.2.3 15.6.3-6.8.2.9.3 8.7.3-2.5.3-46.5.3 40.3.2 9.7.3-1.6.3 1 .3.6.3-5.8.2-.5.3 6.1.3-44.7.3 38.1.3-2.6.2-.5.3 10.9.3-5.2.3-3.1.3-3.4.2 11 .3-.1.3-21.5.3 4.6.3 10.7.2.5.3 1.2.3-11.3.3 16.3.3 2.5.2-9.8.3-40.8.3 46.4.3-8.3.3 8 .2-4.4.3 1.9.3-3.3.3-21.9.3 22.8.2 4 .3 4.5.3-7.6.3 2.9.3 1.3.2-9 .3 9.3.3-3.7.3 11.5.3-5.8.2-14 .3-1.1.3 13.2.3 4.9.3-5.3.2-13.4.3 7 .3 9.8.3-2.4.3-.8.2-6.3.3 2.7.3 5.2.3-3.3.3-4 .2.1.3 11.1.3-8.6.3-1 .3 3.9.2 0 .3-2.1.3 9.9.3-9.4.3.9.2 1.2.3-1 .3.6.3-2.3.3 4.5.2-.7.3-1.6.3-.8.3.1.3 1.2.2-1.7.3.4.3-.1.3-1.2.3-1.1.2 1.5.3.1.3.8.3-3.2.3 5.2.2-2.7.3 1.6.3.3.3-2 .3 2.6.2-.7.3-.6.3-3.1.3 2.5.3-1.7.2.3.3.7.3.4.3.2.3.3.2.1.3-1.3.3-1.2.3 0 .3 2.5.2-.7.3-1.4.3 1.9.3-3.8.3 2.1.2-1.1.3 4.2.3-2.4.3 0 .3-.5.2-6.6.3 6.6.3-.6.3 3.1.3-2.7.2.5.3-.3.3 1.3.3-2.2.3 1.4.2 2.3.3-9.5.3 6.3.3 1.4.3.1.2-1.2.3-1 .3 2.7.3-2.3.3-.7.2.7.3 1.4.3-2.5.3.5.3.1.2-.2.3 1.5.3-1 .3 4.4.3-8.4.2 5.9.3-.9.3-1.6.3 1.1.3 3.4.2-1.6.3-7.9.3 5.5.3.4.3 1.4.2-3.8.3-1.8.3 6.6.3-3.1.3 2.2.2-6.6.3 11.4.3-5.4.3-7.7.3 3.3.2 4.7.3-3.5.3 5.3.3-9.4.3 5.9.2-.5.3.7.3 1.5.3.8.3-3.3.2-.3.3 7.7.3-21.3.3 16.7.3-2.7.2.9.3-9.8.3 10.2.3-11.7.3 14.2.2-1.4.3-1.9.3 1.6.3-.3.3-20 .2 20.9.3-11.3.3 10 .3.8.3 1 .2-.8.3-.6.3 7.2.3 2.6.3-8.6.2 10.2.3-7.4.3-1.8.3 3.4.3-.5.2-9 .3 2.5.3-1.8.3 12.8.3-3.2.2 1.8.3.2.3 3.4.3-2.2.3-.9.2-3.2.3-6 .3 20.2.3-16.4.3 5.3.2-3 .3 0 .3-.9.3 3.4.3-25.4.2 19.1.3 7.2.3-4.2.3-1.8.3-4.6.2 10.3.3 12.3.3-20.7.3 3.6.3 12 .2-8.1.3-10.5.3 3.9.3 5.1.3-4.5.2.8.3-2.9.3-4.1.3 7.1.3 5.2.2-13.3.3 7.9.3 6.3.3-7.8.3-1.1.2-1.4.3 5.4.3-2.6.3-2.3.3 4.3.2-2 .3 2.9.3-2.2.3-4.5.3-3.3.2 8.3.3-10.4.3 9.8.3-.3.3-.6.2-1.5.3-18.2.3 14.4.3 2.3.3.7.2 20.9.3-15.9.3-1.4.3-3.1.3.2.2 5.7.3-5.1.3 2.6.3-1.6.3 2.4.2-4.7.3 4.2.3.6.3-5.3.3-6.2.2-6.1.3 17.2.3-1.9.3 1.1.3 2.4.2-6 .3 4.4.3-13.8.3 15.4.3-9.8.2 3.5.3 2.7.3-.5.3-3.7.3 4.4.2-2.4.3 6.8.3-5 .3 13.6.3-16.9.2 2.7.3 1.7.3-4.4.3 1.7.3 5.3.2-3.2.3-2.9.3-.7.3 5.4.3-.9.2 6.5.3-5.1.3-3.7.3 6 .3-7.1.2 9.3.3-3.6.3-6.6.3 10.2.3-7 .2 6.7.3-5.5.3.6.3-.4.3 8 .2-2.3.3-4.2.3 5.6.3-2.7.3-5.2.2 6.1.3 3.5.3-9.3.3 5.7.3 1.5.2-10 .3 5.8.3 2 .3-4.3.3-4.8.2 17.1.3-10 .3-1.2.3-7.9.3 4.7.2.9.3-3 .3 14.2.3-11.7.3 4.3.2-12.8.3 4 .3 1.3.3 2.2.3 1.1.2-.5.3 16 .3-24.1.3 9.6.3-6.2.2-13.1.3 17.5.3 10.3.3-5.6.3-5.5.2-1.8.3-1 .3-2.7.3 2.4.3 4.6.2-3.4.3-1.9.3 2.4.3-5.8.3 7.7.2 3.5.3-1.1.3-2.7.3-.6.3 1.6.2-4.8.3 3.6.3-1.3.3-2.6.3-34.4.2 40.9.3-4.1.3-6.4.3 3.8.3-7.1.2 10.2.3 1 .3-16.5.3 10.3.3 7.8.2.5.3-3.2.3 19.5.3-26.5.3 7.9.2 0 .3 4.8.3-6.1.3-1.8.3 2.6.2 2.2.3 7.8.3-6.6.3-5.4.3 7.1.2 1.2.3-5.6.3-2.1.3-4.9.3 11.1.2-22.7.3 26.7.3 8.4.3-12.8.3-9.2.2 7.3.3 4.8.3-8.8.3-3 .3 10.8.2-4.4.3-11.2.3 9.1.3 11.2.3-9.6.2.5.3-2.4.3 4.7.3-2.3.3-33.2.2 26.4.3 9.1.3-3 .3 22.4.3-15.6.2-3.8.3-7.5.3 9.6.3-5.1.3-4.7.2 8.7.3.1.3-1.7.3-1.9.3-1.5.2 2.6.3-5.5.3 3.1.3 1.3.3-.1.2 1.3.3-45.6.3 41.1.3 9.8.3-7.8.2 8.5.3-4.6.3.8.3 21 .3-22 .2-1.5.3-1.2.3 5.3.3-11.2.3-.5.2 4.7.3-5.1.3 3.3.3 9.9.3-5.1.2 3.6.3-8 .3 4.6.3-2.3.3-.3.2 6.4.3-11.9.3-5.1.3 15.1.3-4.4.2 1.8.3-6.2.3 5.2.3 12.2.3-18.1.2 7.1.3 1.1.3-.1.3-10.1.3 5.8.2-2 .3 8.7.3-50.5.3 50 .3-37.2.2 32.4.3-3.5.3 1.6.3-4 .3 5.9.2 5.5.3-7.5.3 3.1.3 1.7.3-.4.2-6 .3 4.5.3-2 .3 1.4.3-2.5.2-.2.3.2.3-1.5.3-1.4.3 4.5.2-13.3.3 8.1.3 7.1.3-5.8.3.7.2 2.9.3 4.2.3-8.1.3.9.3 3.9.2 3.3.3-5.9.3 2.2.3-8.8.3 4 .2 3.9.3 3.4.3-8.7.3 3.2.3-5.6.2-1.8.3 4.7.3 2.7.3-6.2.3-2.3.2 8.7.3-11.8.3 11 .3.4.3-2.8.2-12.3.3 16.7.3 1.2.3 2.4.3-4.7.2.4.3-2.3.3-.7.3-18.4.3 18.9.2.2.3.8.3-1.5.3-21 .3 23 .2 3.7.3-10.5.3 2.9.3 5.2.3-7.9.2 6.3.3-4 .3 4.5.3 4.1.3-2.3.2 3.8.3-4.8.3 5.4.3-6.1.3-1.2.2 2.5.3 1.2.3 4.5.3-2.8.3-3 .2 5.2.3-7.3.3 7.6.3-4 .3 2.7.2 2.8.3-4.9.3-8.3.3 9.4.3-1.9.2-14.3.3 15 .3-4.8.3 5.3.3-7.9.2 13 .3 1.4.3-3.5.3-9.6.3 11 .2-1.2.3.1.3-9.8.3 8.6.3 1.9.2-3.8.3 5.9.3-5.1.3 1.1.3 1.6.2-11.3.3 10 .3-.8.3.2.3-1.3.2 20.2.3-19.1.3-2.6.3.3.3 6 .2-6.3.3 1.4.3 0 .3-2.3.3 8.9.2-11.3.3 4.4.3.3.3 0 .3 3.6.2-4.2.3-2.7.3 8.9.3-6.4.3 2.9.2-7.4.3 1.9.3-10.4.3 15.1.3.1.2-3.2.3 5.5.3-2.5.3 5 .3-7.4.2-1.3.3.8.3 11.1.3-15 .3 7 .2 5.1.3-7.3.3 5 .3 5.4.3-4.7.2-.9.3.1.3-3.2.3 5 .3-2.6.2 2.3.3 7.5.3-4.7.3-.3.3-1.1.2-2.2.3-2.5.3 9.5.3-6.2.3-1.6.2-3.1.3 6.2.3-3.8.3 2.8.3.9.2-6.3.3 11.3.3-7.5.3 5.4.3-4.9.2-1.4.3-1.8.3 12.3.3-16.6.3 9.2.2 11.2.3-8.1.3-2.5.3-11.6.3 14.2.2-4.9.3 10.7.3-12.5.3-6 .3 10.1.2-1.7.3 3.1.3 2.8.3-4.4.3 1.2.2-6.1.3 2.6.3 3.5.3-3.9.3-.2.2-4.9.3 19.2.3-13.9.3 6.9.3-4.1.2-.9.3 2 .3-4.2.3 2.1.3-2.4.2 1.8.3 4.6.3 3 .3-8.6.3 3 .2.3.3 3.9.3-2.6.3-18.3.3 6.7.2 8.6.3-2.6.3 6.9.3-5.2.3 5.1.2-8 .3 10.1.3-2.6.3-5.8.3-11.3.2 15.3.3-7.2.3 5.6.3.6.3-.4.2-4.1.3 3.4.3 1.9.3-1.6.3 3.8.2.3.3-4.2.3-2.6.3-.2.3-2.5.2 8.8.3-.5.3.2.3-6.4.3 8.5.2-10.7.3 2.6.3 7.4.3-2.3.3-1.9.2.7.3-5.3.3 4.2.3 11.8.3-11 .2.2.3-.6.3-10.3.3 11.1.3-1.6.2 3.2.3-4.1.3 2.3.3 1.2.3 6.3.2-7.7.3 1.5.3 1 .3-.4.3-2.1.2 1.8.3-1.5.3 1.5.3-2.3.3-.4.2 1.3.3 0 .3-.7.3 1 .3-1.7.2.6.3.4.3-1.6.3 1 .3-.4.2.4.3-1.9.3-.4.3.1.3-8.8.2 2.5.3 7.5.3-.7.3-2.1.3 3.1.2-9.2.3 6.4.3.2.3-3.2.3-.7.2 2.1.3 1.6.3-.7.3 7 .3-8.4.2-.5.3 1.8.3-2.5.3 2.3.3-3.2.2-1.8.3 2.7.3-2.6.3-.7.3.4.2.8.3-2.5.3-1.1.3 2.5.3-.9.2-1.1.3 1.4.3-2.3.3 2.7.3-9.7.2 7 .3 1.8.3-1 .3 0 .3-1.1.2 2.7.3-1.3.3-.3.3-.9.3 5.7.2-9.4.3 5.4.3 4.7.3-3.8.3-1 .2 1.8.3-1.7.3-1.4.3 2 .3 2.9.2-12.8.3 5.6.3 1.9.3 2.3.3 1.6.2-.1.3-1.1.3-11.3.3 10.7.3-1.4.2 11.3.3-9.7.3-2.5.3 2 .3 0 .2-2.1.3 6.2.3-5.6.3-4.9.3 3.7.2 2.6.3 1.3.3.1.3-4.5.3.6.2 5.4.3-.4.3-8.1.3 12.9.3-10 .2 8.3.3-1 .3-4.3.3.1.3 1.7.2.3.3 1.6.3 1.7.3-4.4.3-1.8.2 2.2.3-1.3.3.6.3 4.9.3-1.4.2 5 .3-7.8.3.6.3-1.1.3.1.2-3.1.3 3.4.3 4 .3-2.2.3.4.2-1.9.3 4.6.3-4.3.3 10.1.3-9.4.2-.7.3 1.1.3-3.4.3 3.9.3-2 .2 4.2.3-5 .3 4.3.3-6 .3 13.4.2-4.3.3-9.2.3 3.4.3 2.2.3 4.1.2-5.6.3 6.2.3-7.2.3 5.4.3-4.3.2 2.5.3-6 .3.1.3 6.3.3-4.5.2-1.4.3 5.5.3-.3.3 1.6.3-.2.2-.2.3-3.4.3 5.3.3-4.4.3-4.6.2-.4.3 5.6.3-8.6.3 4.9.3 2.3.2-2.3.3 13 .3-9.7" fill="none" stroke="#000" stroke-width="1.0" stroke-linejoin="round" />
<line x1="701.1" y1="638.1" x2="701.1" y2="706.2" stroke="#ff4848" stroke-width="1.5" stroke-dasharray="10 3.5" />
<line x1="856.8" y1="634.6" x2="856.8" y2="706.2" stroke="#ff00ff" stroke-width="1.45" stroke-dasharray="1.5 4.3" />
<line x1="904.4" y1="638.1" x2="904.4" y2="706.2" stroke="#ff1010" stroke-width="1.0" stroke-dasharray="10 4" />
<line x1="974.5" y1="636.1" x2="974.5" y2="706.2" stroke="#0000ff" stroke-width="1.15" stroke-dasharray="1.2 3.1" />
<line x1="1005.9" y1="638.1" x2="1005.9" y2="706.2" stroke="#30b830" stroke-width="1.4" stroke-dasharray="9.5 4" />
</g>
<line x1="674.2" y1="647.6" x2="692.1" y2="647.6" stroke="#404040" stroke-width="0.9" />
<text x="695.8" y="650.9" font-size="9.0" fill="#111" stroke="#111" stroke-width="0.15" >J*E'</text>
<path d="M758.7 632.6v10.5M758.7 706.2v-10.5M872.7 632.6v10.5M872.7 706.2v-10.5M986.6 632.6v10.5M986.6 706.2v-10.5M1100.6 632.6v10.5M1100.6 706.2v-10.5M673.2 632.6v4M673.2 706.2v-4M701.7 632.6v4M701.7 706.2v-4M730.2 632.6v4M730.2 706.2v-4M787.2 632.6v4M787.2 706.2v-4M815.7 632.6v4M815.7 706.2v-4M844.2 632.6v4M844.2 706.2v-4M901.1 632.6v4M901.1 706.2v-4M929.6 632.6v4M929.6 706.2v-4M958.1 632.6v4M958.1 706.2v-4M1015.1 632.6v4M1015.1 706.2v-4M1043.6 632.6v4M1043.6 706.2v-4M1072.1 632.6v4M1072.1 706.2v-4" stroke="#000" stroke-width="0.9" fill="none"/>
<path d="M668.8 633.5h2.6M1122.5 633.5h-2.6M668.8 636.1h2.6M1122.5 636.1h-2.6M668.8 638.7h2.6M1122.5 638.7h-2.6M668.8 641.3h2.6M1122.5 641.3h-2.6M668.8 644h5.5M1122.5 644h-5.5M668.8 646.6h2.6M1122.5 646.6h-2.6M668.8 649.2h2.6M1122.5 649.2h-2.6M668.8 651.8h2.6M1122.5 651.8h-2.6M668.8 654.4h2.6M1122.5 654.4h-2.6M668.8 657h5.5M1122.5 657h-5.5M668.8 659.6h2.6M1122.5 659.6h-2.6M668.8 662.2h2.6M1122.5 662.2h-2.6M668.8 664.8h2.6M1122.5 664.8h-2.6M668.8 667.4h2.6M1122.5 667.4h-2.6M668.8 670.1h5.5M1122.5 670.1h-5.5M668.8 672.7h2.6M1122.5 672.7h-2.6M668.8 675.3h2.6M1122.5 675.3h-2.6M668.8 677.9h2.6M1122.5 677.9h-2.6M668.8 680.5h2.6M1122.5 680.5h-2.6M668.8 683.1h5.5M1122.5 683.1h-5.5M668.8 685.7h2.6M1122.5 685.7h-2.6M668.8 688.3h2.6M1122.5 688.3h-2.6M668.8 690.9h2.6M1122.5 690.9h-2.6M668.8 693.5h2.6M1122.5 693.5h-2.6M668.8 696.1h5.5M1122.5 696.1h-5.5M668.8 698.8h2.6M1122.5 698.8h-2.6M668.8 701.4h2.6M1122.5 701.4h-2.6M668.8 704h2.6M1122.5 704h-2.6" stroke="#000" stroke-width="0.9" fill="none"/>
<rect x="668.8" y="632.6" width="453.7" height="73.6" fill="none" stroke="#000" stroke-width="1.1"/>
<text x="666.3" y="647.6" font-size="11" text-anchor="end" stroke="#000" >0.3</text>
<text x="666.3" y="660.9" font-size="11" text-anchor="end" stroke="#000" >0.2</text>
<text x="666.3" y="673.9" font-size="11" text-anchor="end" stroke="#000" >0.1</text>
<text x="666.3" y="686.9" font-size="11" text-anchor="end" stroke="#000" >0.0</text>
<text x="666.3" y="700" font-size="11" text-anchor="end" stroke="#000" >-0.1</text>
<text x="645" y="668.5" font-size="11" text-anchor="middle" transform="rotate(-90 645 668.5)" stroke="#000" >J*E' [nW m<tspan font-size="8" dy="-4">-3</tspan><tspan dy="4">]</tspan></text>
<text x="758.7" y="724.2" font-size="11" text-anchor="middle" stroke="#000" >23:25:00</text>
<text x="872.7" y="724.2" font-size="11" text-anchor="middle" stroke="#000" >23:25:20</text>
<text x="986.6" y="724.2" font-size="11" text-anchor="middle" stroke="#000" >23:25:40</text>
<text x="1100.6" y="724.2" font-size="11" text-anchor="middle" stroke="#000" >23:26:00</text>
<text x="647" y="746.2" font-size="11" stroke="#000" >X</text>
<text x="758.7" y="746.2" font-size="11" text-anchor="middle" stroke="#000" >2.71</text>
<text x="872.7" y="746.2" font-size="11" text-anchor="middle" stroke="#000" >2.72</text>
<text x="986.6" y="746.2" font-size="11" text-anchor="middle" stroke="#000" >2.72</text>
<text x="1100.6" y="746.2" font-size="11" text-anchor="middle" stroke="#000" >2.72</text>
<text x="1136" y="746.2" font-size="11" stroke="#000" >Re</text>
<text x="647" y="764" font-size="11" stroke="#000" >Y</text>
<text x="758.7" y="764" font-size="11" text-anchor="middle" stroke="#000" >-11</text>
<text x="872.7" y="764" font-size="11" text-anchor="middle" stroke="#000" >-11</text>
<text x="986.6" y="764" font-size="11" text-anchor="middle" stroke="#000" >-11</text>
<text x="1100.6" y="764" font-size="11" text-anchor="middle" stroke="#000" >-11</text>
<text x="1136" y="764" font-size="11" stroke="#000" >Re</text>
<text x="647" y="781.2" font-size="11" stroke="#000" >Z</text>
<text x="758.7" y="781.2" font-size="11" text-anchor="middle" stroke="#000" >-1.05</text>
<text x="872.7" y="781.2" font-size="11" text-anchor="middle" stroke="#000" >-1.05</text>
<text x="986.6" y="781.2" font-size="11" text-anchor="middle" stroke="#000" >-1.05</text>
<text x="1100.6" y="781.2" font-size="11" text-anchor="middle" stroke="#000" >-1.05</text>
<text x="1136" y="781.2" font-size="11" stroke="#000" >Re</text>
<text x="627.3" y="12" font-size="11" stroke="#000" >Plot layout GP 19/10/2018</text>
<text x="894.3" y="34.9" font-size="17.4" text-anchor="middle" stroke="#000" >MMS2</text>
<text x="1071.3" y="24.1" font-size="17.9" text-anchor="middle" font-weight="bold" fill="#a00000" stroke="#a00000" >20160301_232444</text>
<text x="1104.9" y="838.2" font-size="12" text-anchor="middle" stroke="#000" >paschmann 25-Oct-2018 19:17</text>
</svg>
<pre>:
 Event ID         : 20160301_232444
 FlagStr          : msh,udef,nmon,mf,mult,compl,keep
 GSEpos [Re]      : [ 2.71, -11.04, -1.05 ]
                  :
 LMN coords       :
    L             : [  0.358,  0.577,  0.734 ]
    M             : [  0.435,  0.592, -0.678 ]
    N             : [  0.826, -0.563,  0.039 ]
                  :
  Times           : (as indicated by red, green lines in plots)
    t_0           : 23:25:02  (red dotted line)
    t_MVAB1       : 23:24:32  (leftmost green line)
    t_MVAB2       : 23:25:43  (rightmost green line)
                  :
|Bmin|, |Vmax|    :
    Bmin          : 29.45 [nT]  at 23:25:50
    Vmax_tht      : 180.90 [km/s]  at 23:25:37
    Vmax_tburst   : 180.90 [km/s]  at 23:24:47
                  :
 Normals          :
    N MVAB        : [  0.589, -0.781,  0.210 ]   (L2/L1 = 3.02)
    N MVAB0       : [  0.824, -0.566,  0.020 ]   (L3/L2 = 40.58)
    N MFR         : [ -0.740,  0.666, -0.089 ]   (L2/L1 = 2.76)
                  :
 Durations [s]    : (between red, resp green lines)
    T_CS          : 35.67
    T_MFR/HT      : 111.34
                  :
 Velocity [km/s]  : (based on FPI ion data)
    VnMFR         : 35.7
    VHT.Nmvab     : 0.5  (HTcc = 0.990)
    VHT.Nmvab0    : 61.5
                  :
 CS thickness [km]: (D=T_CS * Vs from above)
    D1=TCS*Vnmfr  : 1,275
    D2=TCS*VHTn   : 17
    D3=TCS*VHTn0  : 2,193
                  :
 Currents [uA/m2] :
    Jave_CS       : 0.076
    Jmax_THT      : 0.615  at 23:25:17
    Jmax_brst     : 0.615  at 23:25:17
                  :
 HPCA mom [1/cm3] :   Min   -  Max    (  Ave   )  within full brst int
    H+            :  23.302 - 33.102  ( 27.478 )
    He+           :   0.000 -  0.006  (  0.001 )
    He++          :   1.264 -  3.405  (  1.692 )
    O+            :   0.007 -  0.020  (  0.007 )
                  :
 SEH date         : 2019-11-29 09:51:31
                  :</pre>
</body></html>
